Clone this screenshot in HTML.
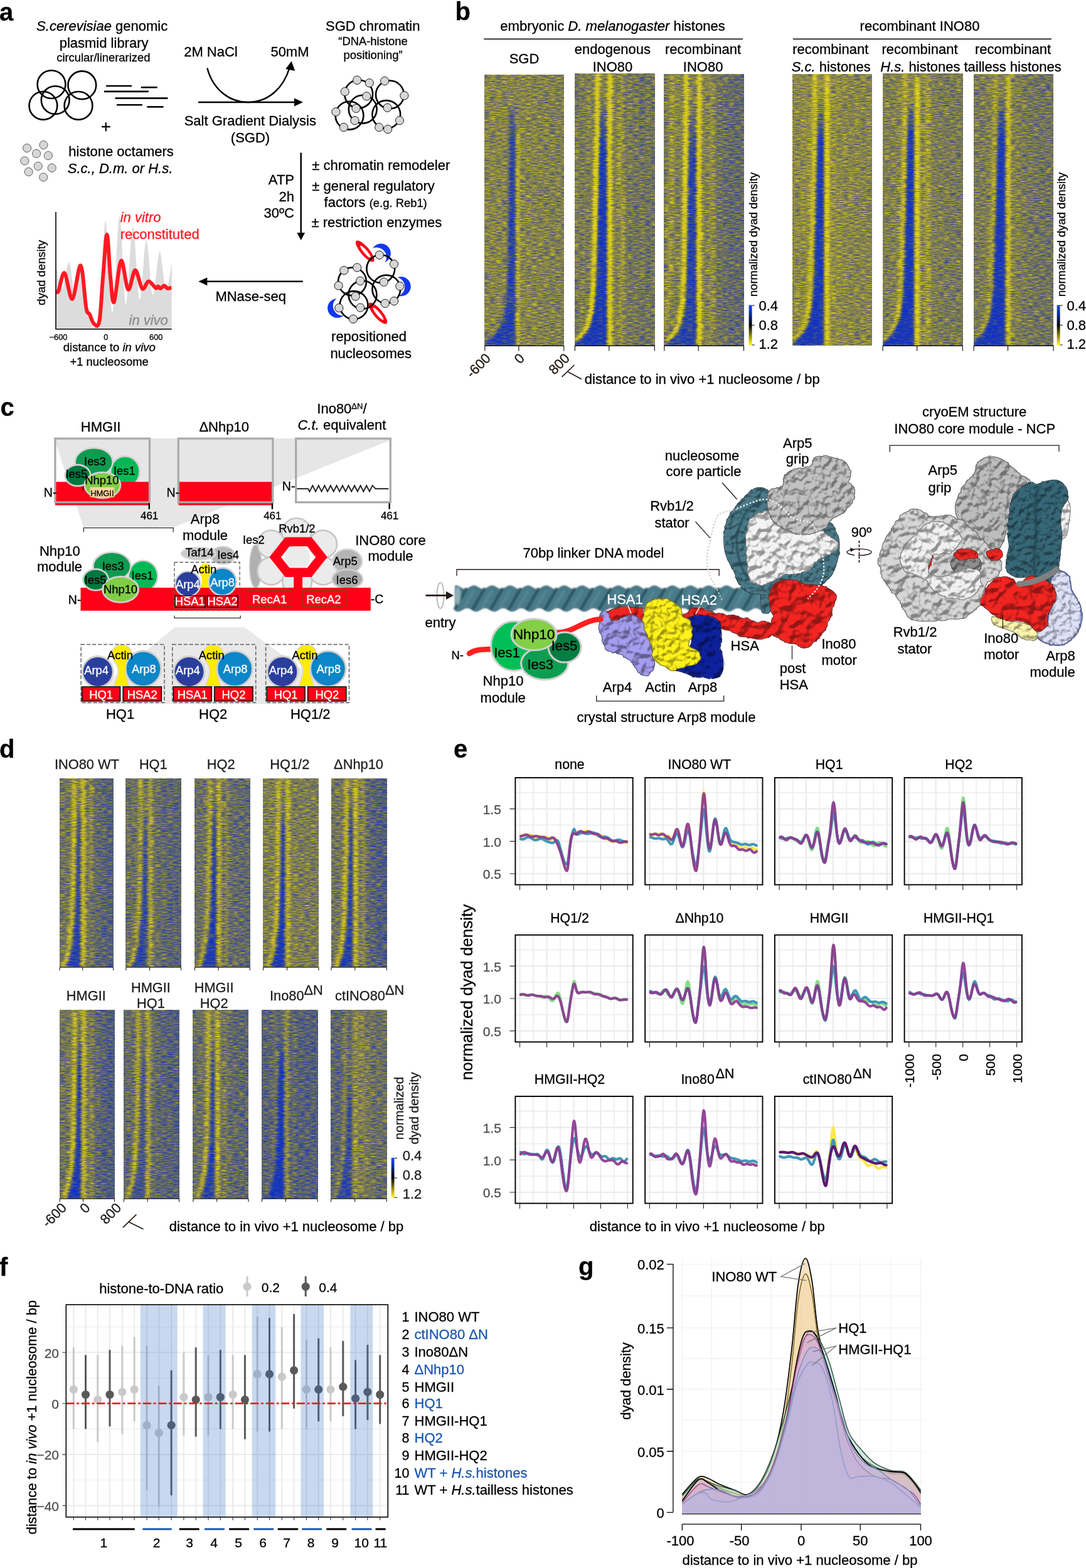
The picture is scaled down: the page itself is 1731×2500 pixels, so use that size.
<!DOCTYPE html>
<html lang="en">
<head>
<meta charset="utf-8">
<title>INO80 figure</title>
<style>
html,body{margin:0;padding:0;background:#fff;}
body{width:1731px;height:2500px;overflow:hidden;}
svg{display:block;font-family:"Liberation Sans",sans-serif;}
text{white-space:pre;stroke-width:0.3px;paint-order:stroke fill;}
</style>
</head>
<body>
<svg width="1731" height="2500" viewBox="0 0 1731 2500">
<defs>
<filter id="hb10" x="-50%" y="-10%" width="200%" height="120%"><feGaussianBlur stdDeviation="1.0"/></filter>
<filter id="hb11" x="-50%" y="-10%" width="200%" height="120%"><feGaussianBlur stdDeviation="1.1"/></filter>
<filter id="hb12" x="-50%" y="-10%" width="200%" height="120%"><feGaussianBlur stdDeviation="1.2"/></filter>
<filter id="hb13" x="-50%" y="-10%" width="200%" height="120%"><feGaussianBlur stdDeviation="1.3"/></filter>
<filter id="hb14" x="-50%" y="-10%" width="200%" height="120%"><feGaussianBlur stdDeviation="1.4"/></filter>
<filter id="hb15" x="-50%" y="-10%" width="200%" height="120%"><feGaussianBlur stdDeviation="1.5"/></filter>
<filter id="hb16" x="-50%" y="-10%" width="200%" height="120%"><feGaussianBlur stdDeviation="1.6"/></filter>
<filter id="hb17" x="-50%" y="-10%" width="200%" height="120%"><feGaussianBlur stdDeviation="1.7"/></filter>
<filter id="hb18" x="-50%" y="-10%" width="200%" height="120%"><feGaussianBlur stdDeviation="1.8"/></filter>
<filter id="hb19" x="-50%" y="-10%" width="200%" height="120%"><feGaussianBlur stdDeviation="1.9"/></filter>
<filter id="hb20" x="-50%" y="-10%" width="200%" height="120%"><feGaussianBlur stdDeviation="2.0"/></filter>
<filter id="hb21" x="-50%" y="-10%" width="200%" height="120%"><feGaussianBlur stdDeviation="2.1"/></filter>
<filter id="hb22" x="-50%" y="-10%" width="200%" height="120%"><feGaussianBlur stdDeviation="2.2"/></filter>
<filter id="hb23" x="-50%" y="-10%" width="200%" height="120%"><feGaussianBlur stdDeviation="2.3"/></filter>
<filter id="hb24" x="-50%" y="-10%" width="200%" height="120%"><feGaussianBlur stdDeviation="2.4"/></filter>
<filter id="hb25" x="-50%" y="-10%" width="200%" height="120%"><feGaussianBlur stdDeviation="2.5"/></filter>
<filter id="hb26" x="-50%" y="-10%" width="200%" height="120%"><feGaussianBlur stdDeviation="2.6"/></filter>
<filter id="hb27" x="-50%" y="-10%" width="200%" height="120%"><feGaussianBlur stdDeviation="2.7"/></filter>
<filter id="hb28" x="-50%" y="-10%" width="200%" height="120%"><feGaussianBlur stdDeviation="2.8"/></filter>
<filter id="hb29" x="-50%" y="-10%" width="200%" height="120%"><feGaussianBlur stdDeviation="2.9"/></filter>
<filter id="hb30" x="-50%" y="-10%" width="200%" height="120%"><feGaussianBlur stdDeviation="3.0"/></filter>
<filter id="hb31" x="-50%" y="-10%" width="200%" height="120%"><feGaussianBlur stdDeviation="3.1"/></filter>
<filter id="hb32" x="-50%" y="-10%" width="200%" height="120%"><feGaussianBlur stdDeviation="3.2"/></filter>
<filter id="hb33" x="-50%" y="-10%" width="200%" height="120%"><feGaussianBlur stdDeviation="3.3"/></filter>
<filter id="hb34" x="-50%" y="-10%" width="200%" height="120%"><feGaussianBlur stdDeviation="3.4"/></filter>
<filter id="hb35" x="-50%" y="-10%" width="200%" height="120%"><feGaussianBlur stdDeviation="3.5"/></filter>
<filter id="hb36" x="-50%" y="-10%" width="200%" height="120%"><feGaussianBlur stdDeviation="3.6"/></filter>
<filter id="hb37" x="-50%" y="-10%" width="200%" height="120%"><feGaussianBlur stdDeviation="3.7"/></filter>
<filter id="hb38" x="-50%" y="-10%" width="200%" height="120%"><feGaussianBlur stdDeviation="3.8"/></filter>
<filter id="hb39" x="-50%" y="-10%" width="200%" height="120%"><feGaussianBlur stdDeviation="3.9"/></filter>
<filter id="hb40" x="-50%" y="-10%" width="200%" height="120%"><feGaussianBlur stdDeviation="4.0"/></filter>
<filter id="hb41" x="-50%" y="-10%" width="200%" height="120%"><feGaussianBlur stdDeviation="4.1"/></filter>
<filter id="hb42" x="-50%" y="-10%" width="200%" height="120%"><feGaussianBlur stdDeviation="4.2"/></filter>
<filter id="hb43" x="-50%" y="-10%" width="200%" height="120%"><feGaussianBlur stdDeviation="4.3"/></filter>
<filter id="hb44" x="-50%" y="-10%" width="200%" height="120%"><feGaussianBlur stdDeviation="4.4"/></filter>
<filter id="hb45" x="-50%" y="-10%" width="200%" height="120%"><feGaussianBlur stdDeviation="4.5"/></filter>
<filter id="hb46" x="-50%" y="-10%" width="200%" height="120%"><feGaussianBlur stdDeviation="4.6"/></filter>
<filter id="hb47" x="-50%" y="-10%" width="200%" height="120%"><feGaussianBlur stdDeviation="4.7"/></filter>
<filter id="hb48" x="-50%" y="-10%" width="200%" height="120%"><feGaussianBlur stdDeviation="4.8"/></filter>
<filter id="hb49" x="-50%" y="-10%" width="200%" height="120%"><feGaussianBlur stdDeviation="4.9"/></filter>
<filter id="hb50" x="-50%" y="-10%" width="200%" height="120%"><feGaussianBlur stdDeviation="5.0"/></filter>
<filter id="hb51" x="-50%" y="-10%" width="200%" height="120%"><feGaussianBlur stdDeviation="5.1"/></filter>
<filter id="hb52" x="-50%" y="-10%" width="200%" height="120%"><feGaussianBlur stdDeviation="5.2"/></filter>
<filter id="hb53" x="-50%" y="-10%" width="200%" height="120%"><feGaussianBlur stdDeviation="5.3"/></filter>
<filter id="hb54" x="-50%" y="-10%" width="200%" height="120%"><feGaussianBlur stdDeviation="5.4"/></filter>
<filter id="hb55" x="-50%" y="-10%" width="200%" height="120%"><feGaussianBlur stdDeviation="5.5"/></filter>
<filter id="hb56" x="-50%" y="-10%" width="200%" height="120%"><feGaussianBlur stdDeviation="5.6"/></filter>
<filter id="hb57" x="-50%" y="-10%" width="200%" height="120%"><feGaussianBlur stdDeviation="5.7"/></filter>
<filter id="hb58" x="-50%" y="-10%" width="200%" height="120%"><feGaussianBlur stdDeviation="5.8"/></filter>
<filter id="hb59" x="-50%" y="-10%" width="200%" height="120%"><feGaussianBlur stdDeviation="5.9"/></filter>
<filter id="hb60" x="-50%" y="-10%" width="200%" height="120%"><feGaussianBlur stdDeviation="6.0"/></filter>
<linearGradient id="hfade" x1="0" y1="0" x2="0" y2="1"><stop offset="0" stop-color="rgb(128,128,128)" stop-opacity="1"/><stop offset="1" stop-color="rgb(128,128,128)" stop-opacity="0"/></linearGradient>
<linearGradient id="cbar" x1="0" y1="0" x2="0" y2="1"><stop offset="0" stop-color="#1848ff"/><stop offset="0.08" stop-color="#1440e0"/><stop offset="0.5" stop-color="#000"/><stop offset="0.92" stop-color="#e8d800"/><stop offset="1" stop-color="#fff200"/></linearGradient>
<filter id="hm1" filterUnits="userSpaceOnUse" x="772.9" y="119.0" width="125.9" height="432.0" color-interpolation-filters="sRGB"><feTurbulence type="fractalNoise" baseFrequency="0.105 0.62" numOctaves="3" seed="10" result="n"/><feColorMatrix in="n" type="matrix" values="1 0 0 0 0 1 0 0 0 0 1 0 0 0 0 0 0 0 0 1" result="ng"/><feComposite in="SourceGraphic" in2="ng" operator="arithmetic" k1="0" k2="1" k3="0.85" k4="-0.425" result="v"/><feComponentTransfer in="v"><feFuncR type="table" tableValues="0.063 0.118 0.251 0.416 0.580 0.769 0.878"/><feFuncG type="table" tableValues="0.188 0.235 0.322 0.424 0.561 0.725 0.824"/><feFuncB type="table" tableValues="0.769 0.706 0.549 0.384 0.259 0.157 0.102"/></feComponentTransfer></filter><linearGradient id="hg1" gradientUnits="userSpaceOnUse" x1="842.9" y1="0" x2="878.9" y2="0"><stop offset="0" stop-color="rgb(150,150,150)" stop-opacity="0"/><stop offset="1" stop-color="rgb(150,150,150)" stop-opacity="1"/></linearGradient><linearGradient id="hn1" gradientUnits="userSpaceOnUse" x1="0" y1="160.0" x2="0" y2="220.0"><stop offset="0" stop-color="rgb(51,51,51)" stop-opacity="0"/><stop offset="1" stop-color="rgb(51,51,51)" stop-opacity="1"/></linearGradient>
<filter id="hm2" filterUnits="userSpaceOnUse" x="916.4" y="117.5" width="126.9" height="433.5" color-interpolation-filters="sRGB"><feTurbulence type="fractalNoise" baseFrequency="0.105 0.62" numOctaves="3" seed="17" result="n"/><feColorMatrix in="n" type="matrix" values="1 0 0 0 0 1 0 0 0 0 1 0 0 0 0 0 0 0 0 1" result="ng"/><feComposite in="SourceGraphic" in2="ng" operator="arithmetic" k1="0" k2="1" k3="0.85" k4="-0.425" result="v"/><feComponentTransfer in="v"><feFuncR type="table" tableValues="0.063 0.118 0.251 0.416 0.580 0.769 0.878"/><feFuncG type="table" tableValues="0.188 0.235 0.322 0.424 0.561 0.725 0.824"/><feFuncB type="table" tableValues="0.769 0.706 0.549 0.384 0.259 0.157 0.102"/></feComponentTransfer></filter><linearGradient id="hg2" gradientUnits="userSpaceOnUse" x1="986.8" y1="0" x2="1022.8" y2="0"><stop offset="0" stop-color="rgb(135,135,135)" stop-opacity="0"/><stop offset="1" stop-color="rgb(135,135,135)" stop-opacity="1"/></linearGradient><linearGradient id="hn2" gradientUnits="userSpaceOnUse" x1="0" y1="150.0" x2="0" y2="240.0"><stop offset="0" stop-color="rgb(36,36,36)" stop-opacity="0"/><stop offset="1" stop-color="rgb(36,36,36)" stop-opacity="1"/></linearGradient>
<filter id="hm3" filterUnits="userSpaceOnUse" x="1058.9" y="118.4" width="126.6" height="432.6" color-interpolation-filters="sRGB"><feTurbulence type="fractalNoise" baseFrequency="0.105 0.62" numOctaves="3" seed="24" result="n"/><feColorMatrix in="n" type="matrix" values="1 0 0 0 0 1 0 0 0 0 1 0 0 0 0 0 0 0 0 1" result="ng"/><feComposite in="SourceGraphic" in2="ng" operator="arithmetic" k1="0" k2="1" k3="0.85" k4="-0.425" result="v"/><feComponentTransfer in="v"><feFuncR type="table" tableValues="0.063 0.118 0.251 0.416 0.580 0.769 0.878"/><feFuncG type="table" tableValues="0.188 0.235 0.322 0.424 0.561 0.725 0.824"/><feFuncB type="table" tableValues="0.769 0.706 0.549 0.384 0.259 0.157 0.102"/></feComponentTransfer></filter><linearGradient id="hg3" gradientUnits="userSpaceOnUse" x1="1129.2" y1="0" x2="1165.2" y2="0"><stop offset="0" stop-color="rgb(122,122,122)" stop-opacity="0"/><stop offset="1" stop-color="rgb(122,122,122)" stop-opacity="1"/></linearGradient><linearGradient id="hn3" gradientUnits="userSpaceOnUse" x1="0" y1="160.0" x2="0" y2="250.0"><stop offset="0" stop-color="rgb(56,56,56)" stop-opacity="0"/><stop offset="1" stop-color="rgb(56,56,56)" stop-opacity="1"/></linearGradient>
<filter id="hm4" filterUnits="userSpaceOnUse" x="1263.9" y="118.4" width="125.9" height="432.6" color-interpolation-filters="sRGB"><feTurbulence type="fractalNoise" baseFrequency="0.105 0.62" numOctaves="3" seed="31" result="n"/><feColorMatrix in="n" type="matrix" values="1 0 0 0 0 1 0 0 0 0 1 0 0 0 0 0 0 0 0 1" result="ng"/><feComposite in="SourceGraphic" in2="ng" operator="arithmetic" k1="0" k2="1" k3="0.85" k4="-0.425" result="v"/><feComponentTransfer in="v"><feFuncR type="table" tableValues="0.063 0.118 0.251 0.416 0.580 0.769 0.878"/><feFuncG type="table" tableValues="0.188 0.235 0.322 0.424 0.561 0.725 0.824"/><feFuncB type="table" tableValues="0.769 0.706 0.549 0.384 0.259 0.157 0.102"/></feComponentTransfer></filter><linearGradient id="hg4" gradientUnits="userSpaceOnUse" x1="1333.9" y1="0" x2="1369.9" y2="0"><stop offset="0" stop-color="rgb(156,156,156)" stop-opacity="0"/><stop offset="1" stop-color="rgb(156,156,156)" stop-opacity="1"/></linearGradient><linearGradient id="hn4" gradientUnits="userSpaceOnUse" x1="0" y1="155.0" x2="0" y2="225.0"><stop offset="0" stop-color="rgb(33,33,33)" stop-opacity="0"/><stop offset="1" stop-color="rgb(33,33,33)" stop-opacity="1"/></linearGradient>
<filter id="hm5" filterUnits="userSpaceOnUse" x="1407.1" y="117.5" width="127.2" height="433.5" color-interpolation-filters="sRGB"><feTurbulence type="fractalNoise" baseFrequency="0.105 0.62" numOctaves="3" seed="38" result="n"/><feColorMatrix in="n" type="matrix" values="1 0 0 0 0 1 0 0 0 0 1 0 0 0 0 0 0 0 0 1" result="ng"/><feComposite in="SourceGraphic" in2="ng" operator="arithmetic" k1="0" k2="1" k3="0.85" k4="-0.425" result="v"/><feComponentTransfer in="v"><feFuncR type="table" tableValues="0.063 0.118 0.251 0.416 0.580 0.769 0.878"/><feFuncG type="table" tableValues="0.188 0.235 0.322 0.424 0.561 0.725 0.824"/><feFuncB type="table" tableValues="0.769 0.706 0.549 0.384 0.259 0.157 0.102"/></feComponentTransfer></filter><linearGradient id="hg5" gradientUnits="userSpaceOnUse" x1="1477.6" y1="0" x2="1513.6" y2="0"><stop offset="0" stop-color="rgb(143,143,143)" stop-opacity="0"/><stop offset="1" stop-color="rgb(143,143,143)" stop-opacity="1"/></linearGradient><linearGradient id="hn5" gradientUnits="userSpaceOnUse" x1="0" y1="150.0" x2="0" y2="220.0"><stop offset="0" stop-color="rgb(31,31,31)" stop-opacity="0"/><stop offset="1" stop-color="rgb(31,31,31)" stop-opacity="1"/></linearGradient>
<filter id="hm6" filterUnits="userSpaceOnUse" x="1552.1" y="118.4" width="126.9" height="432.6" color-interpolation-filters="sRGB"><feTurbulence type="fractalNoise" baseFrequency="0.105 0.62" numOctaves="3" seed="45" result="n"/><feColorMatrix in="n" type="matrix" values="1 0 0 0 0 1 0 0 0 0 1 0 0 0 0 0 0 0 0 1" result="ng"/><feComposite in="SourceGraphic" in2="ng" operator="arithmetic" k1="0" k2="1" k3="0.85" k4="-0.425" result="v"/><feComponentTransfer in="v"><feFuncR type="table" tableValues="0.063 0.118 0.251 0.416 0.580 0.769 0.878"/><feFuncG type="table" tableValues="0.188 0.235 0.322 0.424 0.561 0.725 0.824"/><feFuncB type="table" tableValues="0.769 0.706 0.549 0.384 0.259 0.157 0.102"/></feComponentTransfer></filter><linearGradient id="hg6" gradientUnits="userSpaceOnUse" x1="1622.5" y1="0" x2="1658.5" y2="0"><stop offset="0" stop-color="rgb(135,135,135)" stop-opacity="0"/><stop offset="1" stop-color="rgb(135,135,135)" stop-opacity="1"/></linearGradient><linearGradient id="hn6" gradientUnits="userSpaceOnUse" x1="0" y1="150.0" x2="0" y2="220.0"><stop offset="0" stop-color="rgb(26,26,26)" stop-opacity="0"/><stop offset="1" stop-color="rgb(26,26,26)" stop-opacity="1"/></linearGradient>
<filter id="sfA" x="-15%" y="-15%" width="130%" height="130%" color-interpolation-filters="sRGB"><feTurbulence type="fractalNoise" baseFrequency="0.1" numOctaves="2" seed="11" result="t"/><feDisplacementMap in="SourceGraphic" in2="t" scale="6" xChannelSelector="R" yChannelSelector="G" result="d"/><feTurbulence type="fractalNoise" baseFrequency="0.085" numOctaves="2" seed="12" result="t2"/><feGaussianBlur in="t2" stdDeviation="1.3" result="tb"/><feDiffuseLighting in="tb" surfaceScale="15.6" diffuseConstant="1.0" lighting-color="#fff" result="l"><feDistantLight azimuth="240" elevation="55"/></feDiffuseLighting><feComponentTransfer in="l" result="l2"><feFuncR type="linear" slope="0.5" intercept="0.6"/><feFuncG type="linear" slope="0.5" intercept="0.6"/><feFuncB type="linear" slope="0.5" intercept="0.6"/></feComponentTransfer><feBlend in="d" in2="l2" mode="multiply" result="m"/><feComposite in="m" in2="d" operator="in" result="body"/><feMorphology in="d" operator="dilate" radius="0.5" result="dl"/><feColorMatrix in="dl" type="matrix" values="0.5 0 0 0 0 0 0.5 0 0 0 0 0 0.5 0 0 0 0 0 1 0" result="edge"/><feMerge><feMergeNode in="edge"/><feMergeNode in="body"/></feMerge></filter>
<filter id="sfB" x="-15%" y="-15%" width="130%" height="130%" color-interpolation-filters="sRGB"><feTurbulence type="fractalNoise" baseFrequency="0.12" numOctaves="2" seed="23" result="t"/><feDisplacementMap in="SourceGraphic" in2="t" scale="5" xChannelSelector="R" yChannelSelector="G" result="d"/><feTurbulence type="fractalNoise" baseFrequency="0.102" numOctaves="2" seed="24" result="t2"/><feGaussianBlur in="t2" stdDeviation="1.3" result="tb"/><feDiffuseLighting in="tb" surfaceScale="13.0" diffuseConstant="1.0" lighting-color="#fff" result="l"><feDistantLight azimuth="240" elevation="55"/></feDiffuseLighting><feComponentTransfer in="l" result="l2"><feFuncR type="linear" slope="0.5" intercept="0.6"/><feFuncG type="linear" slope="0.5" intercept="0.6"/><feFuncB type="linear" slope="0.5" intercept="0.6"/></feComponentTransfer><feBlend in="d" in2="l2" mode="multiply" result="m"/><feComposite in="m" in2="d" operator="in" result="body"/><feMorphology in="d" operator="dilate" radius="0.5" result="dl"/><feColorMatrix in="dl" type="matrix" values="0.5 0 0 0 0 0 0.5 0 0 0 0 0 0.5 0 0 0 0 0 1 0" result="edge"/><feMerge><feMergeNode in="edge"/><feMergeNode in="body"/></feMerge></filter>
<filter id="sfC" x="-15%" y="-15%" width="130%" height="130%" color-interpolation-filters="sRGB"><feTurbulence type="fractalNoise" baseFrequency="0.08" numOctaves="2" seed="5" result="t"/><feDisplacementMap in="SourceGraphic" in2="t" scale="6" xChannelSelector="R" yChannelSelector="G" result="d"/><feTurbulence type="fractalNoise" baseFrequency="0.068" numOctaves="2" seed="6" result="t2"/><feGaussianBlur in="t2" stdDeviation="1.3" result="tb"/><feDiffuseLighting in="tb" surfaceScale="18.2" diffuseConstant="1.0" lighting-color="#fff" result="l"><feDistantLight azimuth="240" elevation="55"/></feDiffuseLighting><feComponentTransfer in="l" result="l2"><feFuncR type="linear" slope="0.5" intercept="0.6"/><feFuncG type="linear" slope="0.5" intercept="0.6"/><feFuncB type="linear" slope="0.5" intercept="0.6"/></feComponentTransfer><feBlend in="d" in2="l2" mode="multiply" result="m"/><feComposite in="m" in2="d" operator="in" result="body"/><feMorphology in="d" operator="dilate" radius="0.5" result="dl"/><feColorMatrix in="dl" type="matrix" values="0.5 0 0 0 0 0 0.5 0 0 0 0 0 0.5 0 0 0 0 0 1 0" result="edge"/><feMerge><feMergeNode in="edge"/><feMergeNode in="body"/></feMerge></filter>
<filter id="sfD" x="-15%" y="-15%" width="130%" height="130%" color-interpolation-filters="sRGB"><feTurbulence type="fractalNoise" baseFrequency="0.14" numOctaves="2" seed="31" result="t"/><feDisplacementMap in="SourceGraphic" in2="t" scale="3" xChannelSelector="R" yChannelSelector="G" result="d"/><feTurbulence type="fractalNoise" baseFrequency="0.119" numOctaves="2" seed="32" result="t2"/><feGaussianBlur in="t2" stdDeviation="1.3" result="tb"/><feDiffuseLighting in="tb" surfaceScale="10.4" diffuseConstant="1.0" lighting-color="#fff" result="l"><feDistantLight azimuth="240" elevation="55"/></feDiffuseLighting><feComponentTransfer in="l" result="l2"><feFuncR type="linear" slope="0.5" intercept="0.6"/><feFuncG type="linear" slope="0.5" intercept="0.6"/><feFuncB type="linear" slope="0.5" intercept="0.6"/></feComponentTransfer><feBlend in="d" in2="l2" mode="multiply" result="m"/><feComposite in="m" in2="d" operator="in" result="body"/><feMorphology in="d" operator="dilate" radius="0.5" result="dl"/><feColorMatrix in="dl" type="matrix" values="0.5 0 0 0 0 0 0.5 0 0 0 0 0 0.5 0 0 0 0 0 1 0" result="edge"/><feMerge><feMergeNode in="edge"/><feMergeNode in="body"/></feMerge></filter>
<filter id="hm7" filterUnits="userSpaceOnUse" x="95.2" y="1241.4" width="85.5" height="300.4" color-interpolation-filters="sRGB"><feTurbulence type="fractalNoise" baseFrequency="0.105 0.62" numOctaves="3" seed="52" result="n"/><feColorMatrix in="n" type="matrix" values="1 0 0 0 0 1 0 0 0 0 1 0 0 0 0 0 0 0 0 1" result="ng"/><feComposite in="SourceGraphic" in2="ng" operator="arithmetic" k1="0" k2="1" k3="0.85" k4="-0.425" result="v"/><feComponentTransfer in="v"><feFuncR type="table" tableValues="0.063 0.118 0.251 0.416 0.580 0.769 0.878"/><feFuncG type="table" tableValues="0.188 0.235 0.322 0.424 0.561 0.725 0.824"/><feFuncB type="table" tableValues="0.769 0.706 0.549 0.384 0.259 0.157 0.102"/></feComponentTransfer></filter><linearGradient id="hg7" gradientUnits="userSpaceOnUse" x1="135.8" y1="0" x2="171.8" y2="0"><stop offset="0" stop-color="rgb(107,107,107)" stop-opacity="0"/><stop offset="1" stop-color="rgb(107,107,107)" stop-opacity="1"/></linearGradient><linearGradient id="hn7" gradientUnits="userSpaceOnUse" x1="0" y1="1270.0" x2="0" y2="1330.0"><stop offset="0" stop-color="rgb(54,54,54)" stop-opacity="0"/><stop offset="1" stop-color="rgb(54,54,54)" stop-opacity="1"/></linearGradient>
<filter id="hm8" filterUnits="userSpaceOnUse" x="200.9" y="1241.4" width="87.7" height="300.4" color-interpolation-filters="sRGB"><feTurbulence type="fractalNoise" baseFrequency="0.105 0.62" numOctaves="3" seed="59" result="n"/><feColorMatrix in="n" type="matrix" values="1 0 0 0 0 1 0 0 0 0 1 0 0 0 0 0 0 0 0 1" result="ng"/><feComposite in="SourceGraphic" in2="ng" operator="arithmetic" k1="0" k2="1" k3="0.85" k4="-0.425" result="v"/><feComponentTransfer in="v"><feFuncR type="table" tableValues="0.063 0.118 0.251 0.416 0.580 0.769 0.878"/><feFuncG type="table" tableValues="0.188 0.235 0.322 0.424 0.561 0.725 0.824"/><feFuncB type="table" tableValues="0.769 0.706 0.549 0.384 0.259 0.157 0.102"/></feComponentTransfer></filter><linearGradient id="hg8" gradientUnits="userSpaceOnUse" x1="242.5" y1="0" x2="278.5" y2="0"><stop offset="0" stop-color="rgb(112,112,112)" stop-opacity="0"/><stop offset="1" stop-color="rgb(112,112,112)" stop-opacity="1"/></linearGradient><linearGradient id="hn8" gradientUnits="userSpaceOnUse" x1="0" y1="1285.0" x2="0" y2="1345.0"><stop offset="0" stop-color="rgb(66,66,66)" stop-opacity="0"/><stop offset="1" stop-color="rgb(66,66,66)" stop-opacity="1"/></linearGradient>
<filter id="hm9" filterUnits="userSpaceOnUse" x="310.5" y="1241.4" width="87.7" height="300.4" color-interpolation-filters="sRGB"><feTurbulence type="fractalNoise" baseFrequency="0.105 0.62" numOctaves="3" seed="66" result="n"/><feColorMatrix in="n" type="matrix" values="1 0 0 0 0 1 0 0 0 0 1 0 0 0 0 0 0 0 0 1" result="ng"/><feComposite in="SourceGraphic" in2="ng" operator="arithmetic" k1="0" k2="1" k3="0.85" k4="-0.425" result="v"/><feComponentTransfer in="v"><feFuncR type="table" tableValues="0.063 0.118 0.251 0.416 0.580 0.769 0.878"/><feFuncG type="table" tableValues="0.188 0.235 0.322 0.424 0.561 0.725 0.824"/><feFuncB type="table" tableValues="0.769 0.706 0.549 0.384 0.259 0.157 0.102"/></feComponentTransfer></filter><linearGradient id="hg9" gradientUnits="userSpaceOnUse" x1="352.1" y1="0" x2="388.1" y2="0"><stop offset="0" stop-color="rgb(120,120,120)" stop-opacity="0"/><stop offset="1" stop-color="rgb(120,120,120)" stop-opacity="1"/></linearGradient><linearGradient id="hn9" gradientUnits="userSpaceOnUse" x1="0" y1="1270.0" x2="0" y2="1330.0"><stop offset="0" stop-color="rgb(43,43,43)" stop-opacity="0"/><stop offset="1" stop-color="rgb(43,43,43)" stop-opacity="1"/></linearGradient>
<filter id="hm10" filterUnits="userSpaceOnUse" x="419.7" y="1241.4" width="88.2" height="300.4" color-interpolation-filters="sRGB"><feTurbulence type="fractalNoise" baseFrequency="0.105 0.62" numOctaves="3" seed="73" result="n"/><feColorMatrix in="n" type="matrix" values="1 0 0 0 0 1 0 0 0 0 1 0 0 0 0 0 0 0 0 1" result="ng"/><feComposite in="SourceGraphic" in2="ng" operator="arithmetic" k1="0" k2="1" k3="0.85" k4="-0.425" result="v"/><feComponentTransfer in="v"><feFuncR type="table" tableValues="0.063 0.118 0.251 0.416 0.580 0.769 0.878"/><feFuncG type="table" tableValues="0.188 0.235 0.322 0.424 0.561 0.725 0.824"/><feFuncB type="table" tableValues="0.769 0.706 0.549 0.384 0.259 0.157 0.102"/></feComponentTransfer></filter><linearGradient id="hg10" gradientUnits="userSpaceOnUse" x1="461.5" y1="0" x2="497.5" y2="0"><stop offset="0" stop-color="rgb(145,145,145)" stop-opacity="0"/><stop offset="1" stop-color="rgb(145,145,145)" stop-opacity="1"/></linearGradient><linearGradient id="hn10" gradientUnits="userSpaceOnUse" x1="0" y1="1270.0" x2="0" y2="1330.0"><stop offset="0" stop-color="rgb(36,36,36)" stop-opacity="0"/><stop offset="1" stop-color="rgb(36,36,36)" stop-opacity="1"/></linearGradient>
<filter id="hm11" filterUnits="userSpaceOnUse" x="528.0" y="1241.4" width="88.2" height="300.4" color-interpolation-filters="sRGB"><feTurbulence type="fractalNoise" baseFrequency="0.105 0.62" numOctaves="3" seed="80" result="n"/><feColorMatrix in="n" type="matrix" values="1 0 0 0 0 1 0 0 0 0 1 0 0 0 0 0 0 0 0 1" result="ng"/><feComposite in="SourceGraphic" in2="ng" operator="arithmetic" k1="0" k2="1" k3="0.85" k4="-0.425" result="v"/><feComponentTransfer in="v"><feFuncR type="table" tableValues="0.063 0.118 0.251 0.416 0.580 0.769 0.878"/><feFuncG type="table" tableValues="0.188 0.235 0.322 0.424 0.561 0.725 0.824"/><feFuncB type="table" tableValues="0.769 0.706 0.549 0.384 0.259 0.157 0.102"/></feComponentTransfer></filter><linearGradient id="hg11" gradientUnits="userSpaceOnUse" x1="569.8" y1="0" x2="605.8" y2="0"><stop offset="0" stop-color="rgb(102,102,102)" stop-opacity="0"/><stop offset="1" stop-color="rgb(102,102,102)" stop-opacity="1"/></linearGradient><linearGradient id="hn11" gradientUnits="userSpaceOnUse" x1="0" y1="1260.0" x2="0" y2="1320.0"><stop offset="0" stop-color="rgb(51,51,51)" stop-opacity="0"/><stop offset="1" stop-color="rgb(51,51,51)" stop-opacity="1"/></linearGradient>
<filter id="hm12" filterUnits="userSpaceOnUse" x="95.2" y="1610.4" width="87.3" height="300.5" color-interpolation-filters="sRGB"><feTurbulence type="fractalNoise" baseFrequency="0.105 0.62" numOctaves="3" seed="87" result="n"/><feColorMatrix in="n" type="matrix" values="1 0 0 0 0 1 0 0 0 0 1 0 0 0 0 0 0 0 0 1" result="ng"/><feComposite in="SourceGraphic" in2="ng" operator="arithmetic" k1="0" k2="1" k3="0.85" k4="-0.425" result="v"/><feComponentTransfer in="v"><feFuncR type="table" tableValues="0.063 0.118 0.251 0.416 0.580 0.769 0.878"/><feFuncG type="table" tableValues="0.188 0.235 0.322 0.424 0.561 0.725 0.824"/><feFuncB type="table" tableValues="0.769 0.706 0.549 0.384 0.259 0.157 0.102"/></feComponentTransfer></filter><linearGradient id="hg12" gradientUnits="userSpaceOnUse" x1="136.6" y1="0" x2="172.6" y2="0"><stop offset="0" stop-color="rgb(102,102,102)" stop-opacity="0"/><stop offset="1" stop-color="rgb(102,102,102)" stop-opacity="1"/></linearGradient><linearGradient id="hn12" gradientUnits="userSpaceOnUse" x1="0" y1="1640.0" x2="0" y2="1700.0"><stop offset="0" stop-color="rgb(36,36,36)" stop-opacity="0"/><stop offset="1" stop-color="rgb(36,36,36)" stop-opacity="1"/></linearGradient>
<filter id="hm13" filterUnits="userSpaceOnUse" x="197.4" y="1610.4" width="88.1" height="300.5" color-interpolation-filters="sRGB"><feTurbulence type="fractalNoise" baseFrequency="0.105 0.62" numOctaves="3" seed="94" result="n"/><feColorMatrix in="n" type="matrix" values="1 0 0 0 0 1 0 0 0 0 1 0 0 0 0 0 0 0 0 1" result="ng"/><feComposite in="SourceGraphic" in2="ng" operator="arithmetic" k1="0" k2="1" k3="0.85" k4="-0.425" result="v"/><feComponentTransfer in="v"><feFuncR type="table" tableValues="0.063 0.118 0.251 0.416 0.580 0.769 0.878"/><feFuncG type="table" tableValues="0.188 0.235 0.322 0.424 0.561 0.725 0.824"/><feFuncB type="table" tableValues="0.769 0.706 0.549 0.384 0.259 0.157 0.102"/></feComponentTransfer></filter><linearGradient id="hg13" gradientUnits="userSpaceOnUse" x1="239.2" y1="0" x2="275.2" y2="0"><stop offset="0" stop-color="rgb(107,107,107)" stop-opacity="0"/><stop offset="1" stop-color="rgb(107,107,107)" stop-opacity="1"/></linearGradient><linearGradient id="hn13" gradientUnits="userSpaceOnUse" x1="0" y1="1650.0" x2="0" y2="1710.0"><stop offset="0" stop-color="rgb(87,87,87)" stop-opacity="0"/><stop offset="1" stop-color="rgb(87,87,87)" stop-opacity="1"/></linearGradient>
<filter id="hm14" filterUnits="userSpaceOnUse" x="307.9" y="1610.4" width="88.1" height="300.5" color-interpolation-filters="sRGB"><feTurbulence type="fractalNoise" baseFrequency="0.105 0.62" numOctaves="3" seed="101" result="n"/><feColorMatrix in="n" type="matrix" values="1 0 0 0 0 1 0 0 0 0 1 0 0 0 0 0 0 0 0 1" result="ng"/><feComposite in="SourceGraphic" in2="ng" operator="arithmetic" k1="0" k2="1" k3="0.85" k4="-0.425" result="v"/><feComponentTransfer in="v"><feFuncR type="table" tableValues="0.063 0.118 0.251 0.416 0.580 0.769 0.878"/><feFuncG type="table" tableValues="0.188 0.235 0.322 0.424 0.561 0.725 0.824"/><feFuncB type="table" tableValues="0.769 0.706 0.549 0.384 0.259 0.157 0.102"/></feComponentTransfer></filter><linearGradient id="hg14" gradientUnits="userSpaceOnUse" x1="349.7" y1="0" x2="385.7" y2="0"><stop offset="0" stop-color="rgb(115,115,115)" stop-opacity="0"/><stop offset="1" stop-color="rgb(115,115,115)" stop-opacity="1"/></linearGradient><linearGradient id="hn14" gradientUnits="userSpaceOnUse" x1="0" y1="1650.0" x2="0" y2="1710.0"><stop offset="0" stop-color="rgb(54,54,54)" stop-opacity="0"/><stop offset="1" stop-color="rgb(54,54,54)" stop-opacity="1"/></linearGradient>
<filter id="hm15" filterUnits="userSpaceOnUse" x="417.5" y="1610.4" width="88.6" height="300.5" color-interpolation-filters="sRGB"><feTurbulence type="fractalNoise" baseFrequency="0.105 0.62" numOctaves="3" seed="108" result="n"/><feColorMatrix in="n" type="matrix" values="1 0 0 0 0 1 0 0 0 0 1 0 0 0 0 0 0 0 0 1" result="ng"/><feComposite in="SourceGraphic" in2="ng" operator="arithmetic" k1="0" k2="1" k3="0.85" k4="-0.425" result="v"/><feComponentTransfer in="v"><feFuncR type="table" tableValues="0.063 0.118 0.251 0.416 0.580 0.769 0.878"/><feFuncG type="table" tableValues="0.188 0.235 0.322 0.424 0.561 0.725 0.824"/><feFuncB type="table" tableValues="0.769 0.706 0.549 0.384 0.259 0.157 0.102"/></feComponentTransfer></filter><linearGradient id="hg15" gradientUnits="userSpaceOnUse" x1="459.5" y1="0" x2="495.5" y2="0"><stop offset="0" stop-color="rgb(105,105,105)" stop-opacity="0"/><stop offset="1" stop-color="rgb(105,105,105)" stop-opacity="1"/></linearGradient><linearGradient id="hn15" gradientUnits="userSpaceOnUse" x1="0" y1="1645.0" x2="0" y2="1705.0"><stop offset="0" stop-color="rgb(23,23,23)" stop-opacity="0"/><stop offset="1" stop-color="rgb(23,23,23)" stop-opacity="1"/></linearGradient>
<filter id="hm16" filterUnits="userSpaceOnUse" x="527.6" y="1610.4" width="88.6" height="300.5" color-interpolation-filters="sRGB"><feTurbulence type="fractalNoise" baseFrequency="0.105 0.62" numOctaves="3" seed="115" result="n"/><feColorMatrix in="n" type="matrix" values="1 0 0 0 0 1 0 0 0 0 1 0 0 0 0 0 0 0 0 1" result="ng"/><feComposite in="SourceGraphic" in2="ng" operator="arithmetic" k1="0" k2="1" k3="0.85" k4="-0.425" result="v"/><feComponentTransfer in="v"><feFuncR type="table" tableValues="0.063 0.118 0.251 0.416 0.580 0.769 0.878"/><feFuncG type="table" tableValues="0.188 0.235 0.322 0.424 0.561 0.725 0.824"/><feFuncB type="table" tableValues="0.769 0.706 0.549 0.384 0.259 0.157 0.102"/></feComponentTransfer></filter><linearGradient id="hg16" gradientUnits="userSpaceOnUse" x1="569.6" y1="0" x2="605.6" y2="0"><stop offset="0" stop-color="rgb(128,128,128)" stop-opacity="0"/><stop offset="1" stop-color="rgb(128,128,128)" stop-opacity="1"/></linearGradient><linearGradient id="hn16" gradientUnits="userSpaceOnUse" x1="0" y1="1700.0" x2="0" y2="1760.0"><stop offset="0" stop-color="rgb(61,61,61)" stop-opacity="0"/><stop offset="1" stop-color="rgb(61,61,61)" stop-opacity="1"/></linearGradient>
</defs>
<rect width="1731" height="2500" fill="#fff"/>
<g id="panel_a">
<text x="-1.0" y="32.8" text-anchor="start" style="font-size:40px" fill="#000" stroke="#000" font-weight="bold">a</text>
<text x="58.1" y="48.9" text-anchor="start" style="font-size:22px" fill="#000" stroke="#000"><tspan font-style="italic">S.cerevisiae</tspan> genomic</text>
<text x="94.7" y="76.2" text-anchor="start" style="font-size:22px" fill="#000" stroke="#000">plasmid library</text>
<text x="90.2" y="98.2" text-anchor="start" style="font-size:18.4px" fill="#000" stroke="#000">circular/linerarized</text>
<g fill="none" stroke="#000" stroke-width="2.6">
<circle cx="82" cy="134.6" r="22.4"/>
<circle cx="130.8" cy="135.8" r="22.4"/>
<circle cx="88.2" cy="159.6" r="22.4"/>
<circle cx="68.9" cy="168.4" r="22.4"/>
<circle cx="125" cy="168.4" r="22.4"/>
<path d="M169,137H210"/>
<path d="M224.8,139.3H250.6"/>
<path d="M166,145.9H236.8"/>
<path d="M183.5,156.6H267.4"/>
<path d="M186,167.2H226.8"/>
<path d="M234.3,170.4H260.6"/>
</g>
<text x="169.0" y="211.0" text-anchor="middle" style="font-size:27px" fill="#000" stroke="#000">+</text>
<g fill="#d6d6d6" stroke="#4d4d4d" stroke-width="0.9">
<circle cx="43.1" cy="236.1" r="6.6"/>
<circle cx="69.4" cy="231.1" r="6.6"/>
<circle cx="58.1" cy="244.9" r="6.6"/>
<circle cx="76.9" cy="248.1" r="6.6"/>
<circle cx="39.3" cy="256.4" r="6.6"/>
<circle cx="60.7" cy="264.9" r="6.6"/>
<circle cx="82.7" cy="267.7" r="6.6"/>
<circle cx="45.6" cy="273.9" r="6.6"/>
<circle cx="69.2" cy="282.5" r="6.6"/>
</g>
<text x="109.3" y="249.4" text-anchor="start" style="font-size:22px" fill="#000" stroke="#000">histone octamers</text>
<text x="107.8" y="276.2" text-anchor="start" style="font-size:22px" fill="#000" stroke="#000" font-style="italic">S.c., D.m. or H.s.</text>
<text x="293.2" y="90.2" text-anchor="start" style="font-size:22px" fill="#000" stroke="#000">2M NaCl</text>
<text x="431.4" y="90.2" text-anchor="start" style="font-size:22px" fill="#000" stroke="#000">50mM</text>
<g fill="none" stroke="#000" stroke-width="2.5">
<path d="M330.3,108.5 C340,145 368,163 395,163 C428,163 452,140 461.5,108"/>
<path d="M316,163 H472"/>
<path d="M479.7,243.5 V372"/>
<path d="M482.8,448.8 H328"/>
</g>
<path d="M464.6,97.5 L470.2,113 L455.2,110 Z"/>
<path d="M483,163 L469,156.6 L469,169.4 Z"/>
<path d="M479.7,383 L473.3,371 L486.1,371 Z"/>
<path d="M316.3,448.8 L330.3,442.4 L330.3,455.2 Z"/>
<text x="293.7" y="200.2" text-anchor="start" style="font-size:22px" fill="#000" stroke="#000">Salt Gradient Dialysis</text>
<text x="399.0" y="227.3" text-anchor="middle" style="font-size:22px" fill="#000" stroke="#000">(SGD)</text>
<text x="519.0" y="48.9" text-anchor="start" style="font-size:22px" fill="#000" stroke="#000">SGD chromatin</text>
<text x="594.5" y="71.9" text-anchor="middle" style="font-size:18.4px" fill="#000" stroke="#000">“DNA-histone</text>
<text x="594.6" y="93.7" text-anchor="middle" style="font-size:18.4px" fill="#000" stroke="#000">positioning”</text>
<g fill="none" stroke="#000" stroke-width="2.6">
<circle cx="571.7" cy="149.9" r="22.4"/>
<circle cx="621.4" cy="150.9" r="22.4"/>
<circle cx="578.2" cy="174.2" r="22.4"/>
<circle cx="557" cy="184.2" r="22.4"/>
<circle cx="615.8" cy="182.5" r="22.4"/>
</g>
<g fill="#d6d6d6" stroke="#000" stroke-width="0.9">
<circle cx="569.2" cy="127.8" r="6.6"/>
<circle cx="588.8" cy="132.3" r="6.6"/>
<circle cx="549.7" cy="146.1" r="6.6"/>
<circle cx="584.3" cy="153.4" r="6.6"/>
<circle cx="613.1" cy="129.1" r="6.6"/>
<circle cx="644.4" cy="152.4" r="6.6"/>
<circle cx="617.6" cy="171.7" r="6.6"/>
<circle cx="567.5" cy="172.9" r="6.6"/>
<circle cx="535.4" cy="178.4" r="6.6"/>
<circle cx="565.5" cy="192.2" r="6.6"/>
<circle cx="547.9" cy="203" r="6.6"/>
<circle cx="636.9" cy="192.2" r="6.6"/>
<circle cx="604.3" cy="203" r="6.6"/>
<circle cx="618.1" cy="206" r="6.6"/>
</g>
<text x="469.0" y="293.7" text-anchor="end" style="font-size:22px" fill="#000" stroke="#000">ATP</text>
<text x="469.0" y="320.6" text-anchor="end" style="font-size:22px" fill="#000" stroke="#000">2h</text>
<text x="469.0" y="346.9" text-anchor="end" style="font-size:22px" fill="#000" stroke="#000">30ºC</text>
<text x="497.3" y="270.7" text-anchor="start" style="font-size:22px" fill="#000" stroke="#000">± chromatin remodeler</text>
<text x="497.3" y="303.8" text-anchor="start" style="font-size:22px" fill="#000" stroke="#000">± general regulatory</text>
<text x="516.6" y="329.9" text-anchor="start" style="font-size:22px" fill="#000" stroke="#000">factors <tspan style="font-size:18.4px">(e.g. Reb1)</tspan></text>
<text x="496.5" y="361.5" text-anchor="start" style="font-size:22px" fill="#000" stroke="#000">± restriction enzymes</text>
<text x="343.4" y="480.1" text-anchor="start" style="font-size:22px" fill="#000" stroke="#000">MNase-seq</text>
<text x="588.0" y="544.2" text-anchor="middle" style="font-size:22px" fill="#000" stroke="#000">repositioned</text>
<text x="591.2" y="570.5" text-anchor="middle" style="font-size:22px" fill="#000" stroke="#000">nucleosomes</text>
<g transform="translate(581.8,400.5) rotate(50)"><ellipse rx="21.5" ry="7" fill="#ff0018"/><ellipse rx="12.5" ry="2.6" cx="1" fill="#fff"/></g>
<g transform="translate(602.3,499.5) rotate(50)"><ellipse rx="21.5" ry="7" fill="#ff0018"/><ellipse rx="12.5" ry="2.6" cx="1" fill="#fff"/></g>
<path d="M594.1,395.9 A15.5,15.5 0 1 1 613.7,418.1 A15.5,15.5 0 0 0 594.1,395.9Z" fill="#1138ef"/>
<path d="M633.8,442.2 A15.5,15.5 0 1 1 635.3,471.7 A15.5,15.5 0 0 0 633.8,442.2Z" fill="#1138ef"/>
<path d="M547.6,503.2 A15.5,15.5 0 1 1 536.3,475.9 A15.5,15.5 0 0 0 547.6,503.2Z" fill="#1138ef"/>
<g fill="none" stroke="#000" stroke-width="2.6">
<circle cx="606.8" cy="428.6" r="22.4"/>
<circle cx="561.5" cy="448.9" r="22.4"/>
<circle cx="578" cy="470" r="22.4"/>
<circle cx="615.8" cy="461" r="22.4"/>
<circle cx="564" cy="486.5" r="22.4"/>
</g>
<g fill="#d6d6d6" stroke="#000" stroke-width="0.9">
<circle cx="604.8" cy="406.6" r="6.6"/>
<circle cx="628.1" cy="421.1" r="6.6"/>
<circle cx="548.4" cy="431.1" r="6.6"/>
<circle cx="569.2" cy="426.6" r="6.6"/>
<circle cx="574.2" cy="447.9" r="6.6"/>
<circle cx="539.6" cy="455.4" r="6.6"/>
<circle cx="611.8" cy="449.7" r="6.6"/>
<circle cx="637.4" cy="456.2" r="6.6"/>
<circle cx="566.7" cy="472.5" r="6.6"/>
<circle cx="613.8" cy="483.8" r="6.6"/>
<circle cx="628.1" cy="480" r="6.6"/>
<circle cx="540.4" cy="491" r="6.6"/>
<circle cx="574.2" cy="490.5" r="6.6"/>
<circle cx="563" cy="508.6" r="6.6"/>
</g>
<path d="M89.0,424.1C90.6,430.1 95.4,461.4 99.0,460.4C102.5,459.4 106.8,415.3 110.3,417.8C113.7,420.3 116.7,474.6 119.8,475.4C122.9,476.3 125.6,419.5 129.1,422.8C132.5,426.1 136.8,479.0 140.4,495.5C143.9,512.0 147.0,525.1 150.4,521.8C153.7,518.5 157.4,503.6 160.4,475.4C163.4,447.2 165.3,348.9 168.4,352.6C171.6,356.4 175.5,499.2 179.2,498.0C182.9,496.7 186.9,347.2 190.5,345.1C194.0,343.0 197.0,482.7 200.5,485.5C204.1,488.2 208.1,362.7 211.8,361.4C215.5,360.2 219.0,474.4 222.6,477.9C226.1,481.5 229.6,384.0 233.1,382.7C236.6,381.5 240.1,467.3 243.6,470.4C247.2,473.6 250.9,402.8 254.4,401.5C257.9,400.3 261.2,460.0 264.4,462.9C267.6,465.8 272.1,426.4 273.7,419.0L273.7,524.8 L89,524.8Z" fill="#dcdcdc"/>
<path d="M90.2,462.9C90.7,463.1 91.1,468.8 93.2,464.2C95.3,459.6 99.1,433.2 102.8,435.3C106.4,437.4 111.0,478.7 115.3,476.7C119.6,474.7 124.9,421.0 128.6,423.3C132.2,425.6 135.0,477.5 137.3,490.5C139.7,503.4 140.8,496.7 142.9,501.0C144.9,505.3 147.3,514.7 149.9,516.5C152.5,518.4 156.0,524.7 158.4,512.0C160.8,499.3 162.2,463.4 164.2,440.4C166.2,417.3 168.5,373.9 170.4,373.9C172.4,373.9 174.1,422.4 175.9,440.4C177.8,458.3 178.9,485.8 181.7,481.7C184.5,477.6 189.2,419.1 193.0,415.8C196.7,412.4 200.5,459.1 204.3,461.7C208.0,464.2 211.8,431.0 215.5,430.8C219.3,430.6 223.3,457.5 226.8,460.4C230.4,463.3 233.3,448.6 236.8,448.4C240.4,448.2 245.6,457.8 248.1,459.1C250.6,460.5 250.6,456.5 251.9,456.6C253.1,456.8 254.0,460.1 255.6,459.9C257.3,459.7 260.0,455.4 261.9,455.4C263.8,455.4 265.0,459.4 266.9,459.9C268.8,460.4 272.1,458.6 273.2,458.4" fill="none" stroke="#ff1a22" stroke-width="6" stroke-linejoin="round"/>
<path d="M89,338 V524.8 H273.7" fill="none" stroke="#000" stroke-width="1.6"/>
<text x="191.7" y="354.4" text-anchor="start" style="font-size:22px" fill="#ff1a22" stroke="#ff1a22" font-style="italic">in vitro</text>
<text x="191.7" y="380.7" text-anchor="start" style="font-size:22px" fill="#ff1a22" stroke="#ff1a22">reconstituted</text>
<text x="205.5" y="518.0" text-anchor="start" style="font-size:22px" fill="#8a8a8a" stroke="#8a8a8a" font-style="italic">in vivo</text>
<text x="72.0" y="434.7" text-anchor="middle" style="font-size:18.5px" fill="#000" stroke="#000" transform="rotate(-90 72.0 434.7)">dyad density</text>
<text x="93.0" y="542.4" text-anchor="middle" style="font-size:12.8px" fill="#000" stroke="#000">−600</text>
<text x="168.9" y="542.4" text-anchor="middle" style="font-size:12.8px" fill="#000" stroke="#000">0</text>
<text x="248.7" y="542.4" text-anchor="middle" style="font-size:12.8px" fill="#000" stroke="#000">600</text>
<text x="100.8" y="559.9" text-anchor="start" style="font-size:18.5px" fill="#000" stroke="#000">distance to <tspan font-style="italic">in vivo</tspan></text>
<text x="111.5" y="582.5" text-anchor="start" style="font-size:18.4px" fill="#000" stroke="#000">+1 nucleosome</text>
</g>
<g id="panel_b">
<text x="725.4" y="31.5" text-anchor="start" style="font-size:40px" fill="#000" stroke="#000" font-weight="bold">b</text>
<text x="797.3" y="48.8" text-anchor="start" style="font-size:22.1px" fill="#000" stroke="#000">embryonic <tspan font-style="italic">D. melanogaster</tspan> histones</text>
<path d="M771.3,62.2H1184 M1263.9,62.2H1676" stroke="#000" stroke-width="1.5" fill="none"/>
<text x="835.5" y="101.1" text-anchor="middle" style="font-size:22px" fill="#000" stroke="#000">SGD</text>
<text x="976.4" y="86.4" text-anchor="middle" style="font-size:22px" fill="#000" stroke="#000">endogenous</text>
<text x="976.5" y="113.6" text-anchor="middle" style="font-size:22px" fill="#000" stroke="#000">INO80</text>
<text x="1120.6" y="86.4" text-anchor="middle" style="font-size:22px" fill="#000" stroke="#000">recombinant</text>
<text x="1120.6" y="113.6" text-anchor="middle" style="font-size:22px" fill="#000" stroke="#000">INO80</text>
<text x="1466.0" y="48.8" text-anchor="middle" style="font-size:22px" fill="#000" stroke="#000">recombinant INO80</text>
<text x="1323.8" y="86.4" text-anchor="middle" style="font-size:22px" fill="#000" stroke="#000">recombinant</text>
<text x="1466.0" y="86.4" text-anchor="middle" style="font-size:22px" fill="#000" stroke="#000">recombinant</text>
<text x="1614.5" y="86.4" text-anchor="middle" style="font-size:22px" fill="#000" stroke="#000">recombinant</text>
<text x="1261.7" y="113.6" text-anchor="start" style="font-size:22px" fill="#000" stroke="#000"><tspan font-style="italic">S.c.</tspan> histones</text>
<text x="1403.3" y="113.6" text-anchor="start" style="font-size:22px" fill="#000" stroke="#000"><tspan font-style="italic">H.s.</tspan> histones</text>
<text x="1536.5" y="113.6" text-anchor="start" style="font-size:22px" fill="#000" stroke="#000">tailless histones</text>
<g filter="url(#hm1)">
<rect x="770.9" y="117.0" width="129.9" height="436.0" fill="rgb(156,156,156)"/>
<rect x="842.9" y="117.0" width="59.9" height="436.0" fill="url(#hg1)"/>
<path d="M812.9,162.2 L812.8,169.4 L812.8,176.6 L812.7,183.8 L812.7,191.0 L812.6,198.2 L812.6,205.4 L812.5,212.6 L812.4,219.8 L812.4,227.0 L812.3,234.2 L812.2,241.4 L812.1,248.6 L812.1,255.8 L812.0,263.0 L811.9,270.2 L811.8,277.4 L811.7,284.6 L811.6,291.8 L811.6,299.0 L811.5,306.2 L811.4,313.4 L811.3,320.6 L811.2,327.8 L811.1,335.0 L811.0,342.2 L810.9,349.4 L810.8,356.6 L810.7,363.8 L810.6,371.0 L810.5,378.2 L810.4,385.4 L810.3,392.6 L810.2,399.8 L810.0,407.0 L809.9,414.2 L809.8,421.4 L809.6,428.6 L809.4,435.8 L809.2,443.0 L809.0,450.2 L808.7,457.4 L808.4,464.6 L807.9,471.8 L807.4,479.0 L806.6,486.2 L805.6,493.4 L804.2,500.6 L802.4,507.8 L799.9,515.0 L796.4,522.2 L791.7,529.4 L785.2,536.6 L776.3,543.8 L772.9,551.0 L820.9,551.0 L820.9,162.2Z" fill="url(#hn1)" filter="url(#hb25)"/>
<path d="M823.6,205.4 L823.6,212.6 L823.6,219.8 L823.6,227.0 L823.6,234.2 L823.6,241.4 L823.6,248.6 L823.6,255.8 L823.6,263.0 L823.6,270.2 L823.6,277.4 L823.6,284.6 L823.6,291.8 L823.6,299.0 L823.6,306.2 L823.6,313.4 L823.6,320.6 L823.6,327.8 L823.6,335.0 L823.6,342.2 L823.6,349.4 L823.6,356.6 L823.6,363.8 L823.6,371.0 L823.6,378.2 L823.6,385.4 L823.6,392.6 L823.6,399.8 L823.6,407.0 L823.6,414.2 L823.6,421.4 L823.6,428.6 L823.6,435.8 L823.6,443.0 L823.6,450.2 L823.6,457.4 L823.6,464.6 L823.6,471.8 L823.6,479.0 L823.6,486.2 L823.6,493.4 L823.6,500.6 L823.6,507.8 L823.6,515.0 L823.6,522.2 L823.6,529.4 L823.6,536.6 L823.6,543.8 L823.6,551.0 L828.1,551.0 L828.1,543.8 L828.1,536.6 L828.1,529.4 L828.1,522.2 L828.1,515.0 L828.1,507.8 L828.1,500.6 L828.1,493.4 L828.1,486.2 L828.1,479.0 L828.1,471.8 L828.1,464.6 L828.1,457.4 L828.1,450.2 L828.1,443.0 L828.1,435.8 L828.1,428.6 L828.1,421.4 L828.1,414.2 L828.1,407.0 L828.1,399.8 L828.1,392.6 L828.1,385.4 L828.1,378.2 L828.1,371.0 L828.1,363.8 L828.1,356.6 L828.1,349.4 L828.1,342.2 L828.1,335.0 L828.1,327.8 L828.1,320.6 L828.1,313.4 L828.1,306.2 L828.1,299.0 L828.1,291.8 L828.1,284.6 L828.1,277.4 L828.1,270.2 L828.1,263.0 L828.1,255.8 L828.1,248.6 L828.1,241.4 L828.1,234.2 L828.1,227.0 L828.1,219.8 L828.1,212.6 L828.1,205.4Z" fill="rgb(214,214,214)" opacity="1" filter="url(#hb22)"/>

</g>
<path d="M772.9,559.4V551.4H898.8V559.4 M826.9,551.4v8" fill="none" stroke="#000" stroke-width="1.1"/>
<g filter="url(#hm2)">
<rect x="914.4" y="115.5" width="130.9" height="437.5" fill="rgb(145,145,145)"/>
<rect x="986.8" y="115.5" width="60.5" height="437.5" fill="url(#hg2)"/>
<rect x="936.8" y="115.5" width="52.0" height="437.5" fill="rgb(153,153,153)" filter="url(#hb60)"/>
<path d="M956.8,153.6 L956.7,160.8 L956.6,168.1 L956.5,175.3 L956.4,182.5 L956.3,189.8 L956.2,197.0 L956.1,204.2 L956.0,211.4 L955.9,218.7 L955.8,225.9 L955.6,233.1 L955.5,240.3 L955.4,247.6 L955.2,254.8 L955.1,262.0 L954.9,269.2 L954.8,276.4 L954.6,283.7 L954.5,290.9 L954.3,298.1 L954.2,305.4 L954.0,312.6 L953.8,319.8 L953.7,327.0 L953.5,334.2 L953.3,341.5 L953.2,348.7 L953.0,355.9 L952.8,363.1 L952.6,370.4 L952.5,377.6 L952.3,384.8 L952.1,392.1 L951.9,399.3 L951.7,406.5 L951.5,413.7 L951.3,420.9 L951.1,428.2 L950.8,435.4 L950.6,442.6 L950.3,449.9 L950.0,457.1 L949.6,464.3 L949.2,471.5 L948.6,478.8 L947.9,486.0 L947.0,493.2 L945.8,500.4 L944.2,507.6 L942.0,514.9 L939.0,522.1 L934.9,529.3 L929.1,536.5 L921.1,543.8 L916.4,551.0 L966.8,551.0 L966.8,153.6Z" fill="url(#hn2)" filter="url(#hb22)"/>
<path d="M969.0,117.5 L969.0,124.7 L969.0,131.9 L969.0,139.2 L969.0,146.4 L969.0,153.6 L969.0,160.8 L969.0,168.1 L969.0,175.3 L969.0,182.5 L969.0,189.8 L969.0,197.0 L969.0,204.2 L969.0,211.4 L969.0,218.7 L969.0,225.9 L969.0,233.1 L969.0,240.3 L969.0,247.6 L969.0,254.8 L969.0,262.0 L969.0,269.2 L969.0,276.4 L969.0,283.7 L969.0,290.9 L969.0,298.1 L969.0,305.4 L969.0,312.6 L969.0,319.8 L969.0,327.0 L969.0,334.2 L969.0,341.5 L969.0,348.7 L969.0,355.9 L969.0,363.1 L969.0,370.4 L969.0,377.6 L969.0,384.8 L969.0,392.1 L969.0,399.3 L969.0,406.5 L969.0,413.7 L969.0,420.9 L969.0,428.2 L969.0,435.4 L969.0,442.6 L969.0,449.9 L969.0,457.1 L969.0,464.3 L969.0,471.5 L969.0,478.8 L969.0,486.0 L969.0,493.2 L969.0,500.4 L969.0,507.6 L969.0,514.9 L969.0,522.1 L969.0,529.3 L969.0,536.5 L969.0,543.8 L969.0,551.0 L975.5,551.0 L975.5,543.8 L975.5,536.5 L975.5,529.3 L975.5,522.1 L975.5,514.9 L975.5,507.6 L975.5,500.4 L975.5,493.2 L975.5,486.0 L975.5,478.8 L975.5,471.5 L975.5,464.3 L975.5,457.1 L975.5,449.9 L975.5,442.6 L975.5,435.4 L975.5,428.2 L975.5,420.9 L975.5,413.7 L975.5,406.5 L975.5,399.3 L975.5,392.1 L975.5,384.8 L975.5,377.6 L975.5,370.4 L975.5,363.1 L975.5,355.9 L975.5,348.7 L975.5,341.5 L975.5,334.2 L975.5,327.0 L975.5,319.8 L975.5,312.6 L975.5,305.4 L975.5,298.1 L975.5,290.9 L975.5,283.7 L975.5,276.4 L975.5,269.2 L975.5,262.0 L975.5,254.8 L975.5,247.6 L975.5,240.3 L975.5,233.1 L975.5,225.9 L975.5,218.7 L975.5,211.4 L975.5,204.2 L975.5,197.0 L975.5,189.8 L975.5,182.5 L975.5,175.3 L975.5,168.1 L975.5,160.8 L975.5,153.6 L975.5,146.4 L975.5,139.2 L975.5,131.9 L975.5,124.7 L975.5,117.5Z" fill="rgb(255,255,255)" opacity="1" filter="url(#hb22)"/>
<path d="M949.0,117.5 L949.0,124.7 L949.0,131.9 L949.0,139.2 L949.0,146.4 L949.0,153.6 L949.0,160.8 L948.9,168.1 L948.8,175.3 L948.7,182.5 L948.6,189.8 L948.5,197.0 L948.4,204.2 L948.3,211.4 L948.1,218.7 L948.0,225.9 L947.9,233.1 L947.7,240.3 L947.6,247.6 L947.5,254.8 L947.3,262.0 L947.2,269.2 L947.0,276.4 L946.9,283.7 L946.7,290.9 L946.6,298.1 L946.4,305.4 L946.3,312.6 L946.1,319.8 L945.9,327.0 L945.8,334.2 L945.6,341.5 L945.4,348.7 L945.2,355.9 L945.1,363.1 L944.9,370.4 L944.7,377.6 L944.5,384.8 L944.3,392.1 L944.2,399.3 L944.0,406.5 L943.8,413.7 L943.6,420.9 L943.3,428.2 L943.1,435.4 L942.8,442.6 L942.6,449.9 L942.2,457.1 L941.9,464.3 L941.4,471.5 L940.9,478.8 L940.2,486.0 L939.3,493.2 L938.1,500.4 L936.5,507.6 L934.3,514.9 L931.3,522.1 L927.1,529.3 L921.4,536.5 L913.3,543.8 L919.8,543.8 L927.9,536.5 L933.6,529.3 L937.8,522.1 L940.8,514.9 L943.0,507.6 L944.6,500.4 L945.8,493.2 L946.7,486.0 L947.4,478.8 L947.9,471.5 L948.4,464.3 L948.7,457.1 L949.1,449.9 L949.3,442.6 L949.6,435.4 L949.8,428.2 L950.1,420.9 L950.3,413.7 L950.5,406.5 L950.7,399.3 L950.8,392.1 L951.0,384.8 L951.2,377.6 L951.4,370.4 L951.6,363.1 L951.7,355.9 L951.9,348.7 L952.1,341.5 L952.3,334.2 L952.4,327.0 L952.6,319.8 L952.8,312.6 L952.9,305.4 L953.1,298.1 L953.2,290.9 L953.4,283.7 L953.5,276.4 L953.7,269.2 L953.8,262.0 L954.0,254.8 L954.1,247.6 L954.2,240.3 L954.4,233.1 L954.5,225.9 L954.6,218.7 L954.8,211.4 L954.9,204.2 L955.0,197.0 L955.1,189.8 L955.2,182.5 L955.3,175.3 L955.4,168.1 L955.5,160.8 L955.5,153.6 L955.5,146.4 L955.5,139.2 L955.5,131.9 L955.5,124.7 L955.5,117.5Z" fill="rgb(255,255,255)" opacity="1" filter="url(#hb22)"/>
<path d="M987.8,117.5 L987.8,124.7 L987.8,131.9 L987.8,139.2 L987.8,146.4 L987.8,153.6 L987.8,160.8 L987.8,168.1 L987.8,175.3 L987.8,182.5 L987.8,189.8 L987.8,197.0 L987.8,204.2 L987.8,211.4 L987.8,218.7 L987.8,225.9 L987.8,233.1 L987.8,240.3 L987.8,247.6 L987.8,254.8 L987.8,262.0 L987.8,269.2 L987.8,276.4 L987.8,283.7 L987.8,290.9 L987.8,298.1 L987.8,305.4 L987.8,312.6 L987.8,319.8 L987.8,327.0 L987.8,334.2 L987.8,341.5 L987.8,348.7 L987.8,355.9 L987.8,363.1 L987.8,370.4 L987.8,377.6 L987.8,384.8 L987.8,392.1 L987.8,399.3 L987.8,406.5 L987.8,413.7 L987.8,420.9 L987.8,428.2 L987.8,435.4 L987.8,442.6 L987.8,449.9 L987.8,457.1 L987.8,464.3 L987.8,471.5 L987.8,478.8 L987.8,486.0 L987.8,493.2 L987.8,500.4 L987.8,507.6 L987.8,514.9 L987.8,522.1 L987.8,529.3 L987.8,536.5 L987.8,543.8 L987.8,551.0 L993.8,551.0 L993.8,543.8 L993.8,536.5 L993.8,529.3 L993.8,522.1 L993.8,514.9 L993.8,507.6 L993.8,500.4 L993.8,493.2 L993.8,486.0 L993.8,478.8 L993.8,471.5 L993.8,464.3 L993.8,457.1 L993.8,449.9 L993.8,442.6 L993.8,435.4 L993.8,428.2 L993.8,420.9 L993.8,413.7 L993.8,406.5 L993.8,399.3 L993.8,392.1 L993.8,384.8 L993.8,377.6 L993.8,370.4 L993.8,363.1 L993.8,355.9 L993.8,348.7 L993.8,341.5 L993.8,334.2 L993.8,327.0 L993.8,319.8 L993.8,312.6 L993.8,305.4 L993.8,298.1 L993.8,290.9 L993.8,283.7 L993.8,276.4 L993.8,269.2 L993.8,262.0 L993.8,254.8 L993.8,247.6 L993.8,240.3 L993.8,233.1 L993.8,225.9 L993.8,218.7 L993.8,211.4 L993.8,204.2 L993.8,197.0 L993.8,189.8 L993.8,182.5 L993.8,175.3 L993.8,168.1 L993.8,160.8 L993.8,153.6 L993.8,146.4 L993.8,139.2 L993.8,131.9 L993.8,124.7 L993.8,117.5Z" fill="rgb(186,186,186)" opacity="1" filter="url(#hb30)"/>

</g>
<path d="M916.4,559.4V551.4H1043.3V559.4 M970.8,551.4v8" fill="none" stroke="#000" stroke-width="1.1"/>
<g filter="url(#hm3)">
<rect x="1056.9" y="116.4" width="130.6" height="436.6" fill="rgb(145,145,145)"/>
<rect x="1129.2" y="116.4" width="60.3" height="436.6" fill="url(#hg3)"/>
<rect x="1079.2" y="116.4" width="52.0" height="436.6" fill="rgb(153,153,153)" filter="url(#hb60)"/>
<path d="M1098.7,161.7 L1098.6,168.9 L1098.6,176.1 L1098.5,183.3 L1098.4,190.5 L1098.4,197.7 L1098.3,204.9 L1098.2,212.1 L1098.1,219.3 L1098.1,226.6 L1098.0,233.8 L1097.9,241.0 L1097.8,248.2 L1097.7,255.4 L1097.6,262.6 L1097.5,269.8 L1097.4,277.0 L1097.3,284.2 L1097.2,291.4 L1097.1,298.6 L1097.0,305.9 L1096.9,313.1 L1096.8,320.3 L1096.7,327.5 L1096.6,334.7 L1096.4,341.9 L1096.3,349.1 L1096.2,356.3 L1096.1,363.5 L1096.0,370.8 L1095.8,378.0 L1095.7,385.2 L1095.6,392.4 L1095.5,399.6 L1095.3,406.8 L1095.2,414.0 L1095.0,421.2 L1094.9,428.4 L1094.7,435.6 L1094.5,442.9 L1094.3,450.1 L1094.0,457.3 L1093.7,464.5 L1093.4,471.7 L1092.9,478.9 L1092.3,486.1 L1091.5,493.3 L1090.4,500.5 L1088.9,507.7 L1086.9,515.0 L1084.1,522.2 L1080.2,529.4 L1074.8,536.6 L1067.3,543.8 L1058.9,551.0 L1109.7,551.0 L1109.7,161.7Z" fill="url(#hn3)" filter="url(#hb22)"/>
<path d="M1111.4,118.4 L1111.4,125.6 L1111.4,132.8 L1111.4,140.0 L1111.4,147.2 L1111.4,154.4 L1111.4,161.7 L1111.4,168.9 L1111.4,176.1 L1111.4,183.3 L1111.4,190.5 L1111.4,197.7 L1111.4,204.9 L1111.4,212.1 L1111.4,219.3 L1111.4,226.6 L1111.4,233.8 L1111.4,241.0 L1111.4,248.2 L1111.4,255.4 L1111.4,262.6 L1111.4,269.8 L1111.4,277.0 L1111.4,284.2 L1111.4,291.4 L1111.4,298.6 L1111.4,305.9 L1111.4,313.1 L1111.4,320.3 L1111.4,327.5 L1111.4,334.7 L1111.4,341.9 L1111.4,349.1 L1111.4,356.3 L1111.4,363.5 L1111.4,370.8 L1111.4,378.0 L1111.4,385.2 L1111.4,392.4 L1111.4,399.6 L1111.4,406.8 L1111.4,414.0 L1111.4,421.2 L1111.4,428.4 L1111.4,435.6 L1111.4,442.9 L1111.4,450.1 L1111.4,457.3 L1111.4,464.5 L1111.4,471.7 L1111.4,478.9 L1111.4,486.1 L1111.4,493.3 L1111.4,500.5 L1111.4,507.7 L1111.4,515.0 L1111.4,522.2 L1111.4,529.4 L1111.4,536.6 L1111.4,543.8 L1111.4,551.0 L1117.9,551.0 L1117.9,543.8 L1117.9,536.6 L1117.9,529.4 L1117.9,522.2 L1117.9,515.0 L1117.9,507.7 L1117.9,500.5 L1117.9,493.3 L1117.9,486.1 L1117.9,478.9 L1117.9,471.7 L1117.9,464.5 L1117.9,457.3 L1117.9,450.1 L1117.9,442.9 L1117.9,435.6 L1117.9,428.4 L1117.9,421.2 L1117.9,414.0 L1117.9,406.8 L1117.9,399.6 L1117.9,392.4 L1117.9,385.2 L1117.9,378.0 L1117.9,370.8 L1117.9,363.5 L1117.9,356.3 L1117.9,349.1 L1117.9,341.9 L1117.9,334.7 L1117.9,327.5 L1117.9,320.3 L1117.9,313.1 L1117.9,305.9 L1117.9,298.6 L1117.9,291.4 L1117.9,284.2 L1117.9,277.0 L1117.9,269.8 L1117.9,262.6 L1117.9,255.4 L1117.9,248.2 L1117.9,241.0 L1117.9,233.8 L1117.9,226.6 L1117.9,219.3 L1117.9,212.1 L1117.9,204.9 L1117.9,197.7 L1117.9,190.5 L1117.9,183.3 L1117.9,176.1 L1117.9,168.9 L1117.9,161.7 L1117.9,154.4 L1117.9,147.2 L1117.9,140.0 L1117.9,132.8 L1117.9,125.6 L1117.9,118.4Z" fill="rgb(255,255,255)" opacity="1" filter="url(#hb22)"/>
<path d="M1090.4,118.4 L1090.4,125.6 L1090.4,132.8 L1090.4,140.0 L1090.4,147.2 L1090.4,154.4 L1090.4,161.7 L1090.4,168.9 L1090.3,176.1 L1090.3,183.3 L1090.2,190.5 L1090.1,197.7 L1090.0,204.9 L1090.0,212.1 L1089.9,219.3 L1089.8,226.6 L1089.7,233.8 L1089.6,241.0 L1089.5,248.2 L1089.4,255.4 L1089.4,262.6 L1089.3,269.8 L1089.2,277.0 L1089.1,284.2 L1089.0,291.4 L1088.8,298.6 L1088.7,305.9 L1088.6,313.1 L1088.5,320.3 L1088.4,327.5 L1088.3,334.7 L1088.2,341.9 L1088.1,349.1 L1088.0,356.3 L1087.8,363.5 L1087.7,370.8 L1087.6,378.0 L1087.5,385.2 L1087.3,392.4 L1087.2,399.6 L1087.1,406.8 L1086.9,414.0 L1086.8,421.2 L1086.6,428.4 L1086.5,435.6 L1086.3,442.9 L1086.0,450.1 L1085.8,457.3 L1085.5,464.5 L1085.1,471.7 L1084.6,478.9 L1084.0,486.1 L1083.2,493.3 L1082.1,500.5 L1080.7,507.7 L1078.6,515.0 L1075.9,522.2 L1072.0,529.4 L1066.6,536.6 L1059.0,543.8 L1065.5,543.8 L1073.1,536.6 L1078.5,529.4 L1082.4,522.2 L1085.1,515.0 L1087.2,507.7 L1088.6,500.5 L1089.7,493.3 L1090.5,486.1 L1091.1,478.9 L1091.6,471.7 L1092.0,464.5 L1092.3,457.3 L1092.5,450.1 L1092.8,442.9 L1093.0,435.6 L1093.1,428.4 L1093.3,421.2 L1093.4,414.0 L1093.6,406.8 L1093.7,399.6 L1093.8,392.4 L1094.0,385.2 L1094.1,378.0 L1094.2,370.8 L1094.3,363.5 L1094.5,356.3 L1094.6,349.1 L1094.7,341.9 L1094.8,334.7 L1094.9,327.5 L1095.0,320.3 L1095.1,313.1 L1095.2,305.9 L1095.3,298.6 L1095.5,291.4 L1095.6,284.2 L1095.7,277.0 L1095.8,269.8 L1095.9,262.6 L1095.9,255.4 L1096.0,248.2 L1096.1,241.0 L1096.2,233.8 L1096.3,226.6 L1096.4,219.3 L1096.5,212.1 L1096.5,204.9 L1096.6,197.7 L1096.7,190.5 L1096.8,183.3 L1096.8,176.1 L1096.9,168.9 L1096.9,161.7 L1096.9,154.4 L1096.9,147.2 L1096.9,140.0 L1096.9,132.8 L1096.9,125.6 L1096.9,118.4Z" fill="rgb(255,255,255)" opacity="1" filter="url(#hb22)"/>
<path d="M1068.7,118.4 L1068.7,125.6 L1068.7,132.8 L1068.7,140.0 L1068.7,147.2 L1068.7,154.4 L1068.7,161.7 L1068.6,168.9 L1068.6,176.1 L1068.5,183.3 L1068.4,190.5 L1068.4,197.7 L1068.3,204.9 L1068.2,212.1 L1068.1,219.3 L1068.1,226.6 L1068.0,233.8 L1067.9,241.0 L1067.8,248.2 L1067.7,255.4 L1067.6,262.6 L1067.5,269.8 L1067.4,277.0 L1067.3,284.2 L1067.2,291.4 L1067.1,298.6 L1067.0,305.9 L1066.9,313.1 L1066.8,320.3 L1066.7,327.5 L1066.6,334.7 L1066.4,341.9 L1066.3,349.1 L1066.2,356.3 L1066.1,363.5 L1066.0,370.8 L1065.8,378.0 L1065.7,385.2 L1065.6,392.4 L1065.5,399.6 L1065.3,406.8 L1065.2,414.0 L1065.0,421.2 L1064.9,428.4 L1064.7,435.6 L1064.5,442.9 L1064.3,450.1 L1064.0,457.3 L1063.7,464.5 L1063.4,471.7 L1062.9,478.9 L1062.3,486.1 L1061.5,493.3 L1060.4,500.5 L1058.9,507.7 L1056.9,515.0 L1054.1,522.2 L1060.1,522.2 L1062.9,515.0 L1064.9,507.7 L1066.4,500.5 L1067.5,493.3 L1068.3,486.1 L1068.9,478.9 L1069.4,471.7 L1069.7,464.5 L1070.0,457.3 L1070.3,450.1 L1070.5,442.9 L1070.7,435.6 L1070.9,428.4 L1071.0,421.2 L1071.2,414.0 L1071.3,406.8 L1071.5,399.6 L1071.6,392.4 L1071.7,385.2 L1071.8,378.0 L1072.0,370.8 L1072.1,363.5 L1072.2,356.3 L1072.3,349.1 L1072.4,341.9 L1072.6,334.7 L1072.7,327.5 L1072.8,320.3 L1072.9,313.1 L1073.0,305.9 L1073.1,298.6 L1073.2,291.4 L1073.3,284.2 L1073.4,277.0 L1073.5,269.8 L1073.6,262.6 L1073.7,255.4 L1073.8,248.2 L1073.9,241.0 L1074.0,233.8 L1074.1,226.6 L1074.1,219.3 L1074.2,212.1 L1074.3,204.9 L1074.4,197.7 L1074.4,190.5 L1074.5,183.3 L1074.6,176.1 L1074.6,168.9 L1074.7,161.7 L1074.7,154.4 L1074.7,147.2 L1074.7,140.0 L1074.7,132.8 L1074.7,125.6 L1074.7,118.4Z" fill="rgb(192,192,192)" opacity="1" filter="url(#hb30)"/>
<path d="M1132.2,118.4 L1132.2,125.6 L1132.2,132.8 L1132.2,140.0 L1132.2,147.2 L1132.2,154.4 L1132.2,161.7 L1132.2,168.9 L1132.2,176.1 L1132.2,183.3 L1132.2,190.5 L1132.2,197.7 L1132.2,204.9 L1132.2,212.1 L1132.2,219.3 L1132.2,226.6 L1132.2,233.8 L1132.2,241.0 L1132.2,248.2 L1132.2,255.4 L1132.2,262.6 L1132.2,269.8 L1132.2,277.0 L1132.2,284.2 L1132.2,291.4 L1132.2,298.6 L1132.2,305.9 L1132.2,313.1 L1132.2,320.3 L1132.2,327.5 L1132.2,334.7 L1132.2,341.9 L1132.2,349.1 L1132.2,356.3 L1132.2,363.5 L1132.2,370.8 L1132.2,378.0 L1132.2,385.2 L1132.2,392.4 L1132.2,399.6 L1132.2,406.8 L1132.2,414.0 L1132.2,421.2 L1132.2,428.4 L1132.2,435.6 L1132.2,442.9 L1132.2,450.1 L1132.2,457.3 L1132.2,464.5 L1132.2,471.7 L1132.2,478.9 L1132.2,486.1 L1132.2,493.3 L1132.2,500.5 L1132.2,507.7 L1132.2,515.0 L1132.2,522.2 L1132.2,529.4 L1132.2,536.6 L1132.2,543.8 L1132.2,551.0 L1138.2,551.0 L1138.2,543.8 L1138.2,536.6 L1138.2,529.4 L1138.2,522.2 L1138.2,515.0 L1138.2,507.7 L1138.2,500.5 L1138.2,493.3 L1138.2,486.1 L1138.2,478.9 L1138.2,471.7 L1138.2,464.5 L1138.2,457.3 L1138.2,450.1 L1138.2,442.9 L1138.2,435.6 L1138.2,428.4 L1138.2,421.2 L1138.2,414.0 L1138.2,406.8 L1138.2,399.6 L1138.2,392.4 L1138.2,385.2 L1138.2,378.0 L1138.2,370.8 L1138.2,363.5 L1138.2,356.3 L1138.2,349.1 L1138.2,341.9 L1138.2,334.7 L1138.2,327.5 L1138.2,320.3 L1138.2,313.1 L1138.2,305.9 L1138.2,298.6 L1138.2,291.4 L1138.2,284.2 L1138.2,277.0 L1138.2,269.8 L1138.2,262.6 L1138.2,255.4 L1138.2,248.2 L1138.2,241.0 L1138.2,233.8 L1138.2,226.6 L1138.2,219.3 L1138.2,212.1 L1138.2,204.9 L1138.2,197.7 L1138.2,190.5 L1138.2,183.3 L1138.2,176.1 L1138.2,168.9 L1138.2,161.7 L1138.2,154.4 L1138.2,147.2 L1138.2,140.0 L1138.2,132.8 L1138.2,125.6 L1138.2,118.4Z" fill="rgb(181,181,181)" opacity="1" filter="url(#hb30)"/>

</g>
<path d="M1058.9,559.4V551.4H1185.5V559.4 M1113.2,551.4v8" fill="none" stroke="#000" stroke-width="1.1"/>
<g filter="url(#hm4)">
<rect x="1261.9" y="116.4" width="129.9" height="436.6" fill="rgb(161,161,161)"/>
<rect x="1333.9" y="116.4" width="59.9" height="436.6" fill="url(#hg4)"/>
<rect x="1283.9" y="116.4" width="52.0" height="436.6" fill="rgb(168,168,168)" filter="url(#hb60)"/>
<path d="M1303.9,154.4 L1303.8,161.7 L1303.7,168.9 L1303.6,176.1 L1303.5,183.3 L1303.4,190.5 L1303.3,197.7 L1303.2,204.9 L1303.1,212.1 L1302.9,219.3 L1302.8,226.6 L1302.6,233.8 L1302.5,241.0 L1302.3,248.2 L1302.2,255.4 L1302.0,262.6 L1301.9,269.8 L1301.7,277.0 L1301.5,284.2 L1301.4,291.4 L1301.2,298.6 L1301.0,305.9 L1300.8,313.1 L1300.6,320.3 L1300.5,327.5 L1300.3,334.7 L1300.1,341.9 L1299.9,349.1 L1299.7,356.3 L1299.5,363.5 L1299.3,370.8 L1299.1,378.0 L1298.9,385.2 L1298.7,392.4 L1298.5,399.6 L1298.3,406.8 L1298.0,414.0 L1297.8,421.2 L1297.6,428.4 L1297.3,435.6 L1297.0,442.9 L1296.7,450.1 L1296.4,457.3 L1296.0,464.5 L1295.5,471.7 L1294.9,478.9 L1294.2,486.1 L1293.3,493.3 L1292.0,500.5 L1290.4,507.7 L1288.2,515.0 L1285.2,522.2 L1281.0,529.4 L1275.2,536.6 L1267.1,543.8 L1263.9,551.0 L1312.9,551.0 L1312.9,154.4Z" fill="url(#hn4)" filter="url(#hb22)"/>
<path d="M1315.4,118.4 L1315.4,125.6 L1315.4,132.8 L1315.4,140.0 L1315.4,147.2 L1315.4,154.4 L1315.4,161.7 L1315.4,168.9 L1315.4,176.1 L1315.4,183.3 L1315.4,190.5 L1315.4,197.7 L1315.4,204.9 L1315.4,212.1 L1315.4,219.3 L1315.4,226.6 L1315.4,233.8 L1315.4,241.0 L1315.4,248.2 L1315.4,255.4 L1315.4,262.6 L1315.4,269.8 L1315.4,277.0 L1315.4,284.2 L1315.4,291.4 L1315.4,298.6 L1315.4,305.9 L1315.4,313.1 L1315.4,320.3 L1315.4,327.5 L1315.4,334.7 L1315.4,341.9 L1315.4,349.1 L1315.4,356.3 L1315.4,363.5 L1315.4,370.8 L1315.4,378.0 L1315.4,385.2 L1315.4,392.4 L1315.4,399.6 L1315.4,406.8 L1315.4,414.0 L1315.4,421.2 L1315.4,428.4 L1315.4,435.6 L1315.4,442.9 L1315.4,450.1 L1315.4,457.3 L1315.4,464.5 L1315.4,471.7 L1315.4,478.9 L1315.4,486.1 L1315.4,493.3 L1315.4,500.5 L1315.4,507.7 L1315.4,515.0 L1315.4,522.2 L1315.4,529.4 L1315.4,536.6 L1315.4,543.8 L1315.4,551.0 L1321.4,551.0 L1321.4,543.8 L1321.4,536.6 L1321.4,529.4 L1321.4,522.2 L1321.4,515.0 L1321.4,507.7 L1321.4,500.5 L1321.4,493.3 L1321.4,486.1 L1321.4,478.9 L1321.4,471.7 L1321.4,464.5 L1321.4,457.3 L1321.4,450.1 L1321.4,442.9 L1321.4,435.6 L1321.4,428.4 L1321.4,421.2 L1321.4,414.0 L1321.4,406.8 L1321.4,399.6 L1321.4,392.4 L1321.4,385.2 L1321.4,378.0 L1321.4,370.8 L1321.4,363.5 L1321.4,356.3 L1321.4,349.1 L1321.4,341.9 L1321.4,334.7 L1321.4,327.5 L1321.4,320.3 L1321.4,313.1 L1321.4,305.9 L1321.4,298.6 L1321.4,291.4 L1321.4,284.2 L1321.4,277.0 L1321.4,269.8 L1321.4,262.6 L1321.4,255.4 L1321.4,248.2 L1321.4,241.0 L1321.4,233.8 L1321.4,226.6 L1321.4,219.3 L1321.4,212.1 L1321.4,204.9 L1321.4,197.7 L1321.4,190.5 L1321.4,183.3 L1321.4,176.1 L1321.4,168.9 L1321.4,161.7 L1321.4,154.4 L1321.4,147.2 L1321.4,140.0 L1321.4,132.8 L1321.4,125.6 L1321.4,118.4Z" fill="rgb(255,255,255)" opacity="1" filter="url(#hb22)"/>
<path d="M1295.9,118.4 L1295.9,125.6 L1295.9,132.8 L1295.9,140.0 L1295.9,147.2 L1295.9,154.4 L1295.8,161.7 L1295.7,168.9 L1295.6,176.1 L1295.5,183.3 L1295.4,190.5 L1295.3,197.7 L1295.2,204.9 L1295.1,212.1 L1294.9,219.3 L1294.8,226.6 L1294.6,233.8 L1294.5,241.0 L1294.3,248.2 L1294.2,255.4 L1294.0,262.6 L1293.9,269.8 L1293.7,277.0 L1293.5,284.2 L1293.4,291.4 L1293.2,298.6 L1293.0,305.9 L1292.8,313.1 L1292.6,320.3 L1292.5,327.5 L1292.3,334.7 L1292.1,341.9 L1291.9,349.1 L1291.7,356.3 L1291.5,363.5 L1291.3,370.8 L1291.1,378.0 L1290.9,385.2 L1290.7,392.4 L1290.5,399.6 L1290.3,406.8 L1290.0,414.0 L1289.8,421.2 L1289.6,428.4 L1289.3,435.6 L1289.0,442.9 L1288.7,450.1 L1288.4,457.3 L1288.0,464.5 L1287.5,471.7 L1286.9,478.9 L1286.2,486.1 L1285.3,493.3 L1284.0,500.5 L1282.4,507.7 L1280.2,515.0 L1277.2,522.2 L1273.0,529.4 L1267.2,536.6 L1259.1,543.8 L1265.1,543.8 L1273.2,536.6 L1279.0,529.4 L1283.2,522.2 L1286.2,515.0 L1288.4,507.7 L1290.0,500.5 L1291.3,493.3 L1292.2,486.1 L1292.9,478.9 L1293.5,471.7 L1294.0,464.5 L1294.4,457.3 L1294.7,450.1 L1295.0,442.9 L1295.3,435.6 L1295.6,428.4 L1295.8,421.2 L1296.0,414.0 L1296.3,406.8 L1296.5,399.6 L1296.7,392.4 L1296.9,385.2 L1297.1,378.0 L1297.3,370.8 L1297.5,363.5 L1297.7,356.3 L1297.9,349.1 L1298.1,341.9 L1298.3,334.7 L1298.5,327.5 L1298.6,320.3 L1298.8,313.1 L1299.0,305.9 L1299.2,298.6 L1299.4,291.4 L1299.5,284.2 L1299.7,277.0 L1299.9,269.8 L1300.0,262.6 L1300.2,255.4 L1300.3,248.2 L1300.5,241.0 L1300.6,233.8 L1300.8,226.6 L1300.9,219.3 L1301.1,212.1 L1301.2,204.9 L1301.3,197.7 L1301.4,190.5 L1301.5,183.3 L1301.6,176.1 L1301.7,168.9 L1301.8,161.7 L1301.9,154.4 L1301.9,147.2 L1301.9,140.0 L1301.9,132.8 L1301.9,125.6 L1301.9,118.4Z" fill="rgb(228,228,228)" opacity="1" filter="url(#hb25)"/>

</g>
<g filter="url(#hm5)">
<rect x="1405.1" y="115.5" width="131.2" height="437.5" fill="rgb(150,150,150)"/>
<rect x="1477.6" y="115.5" width="60.7" height="437.5" fill="url(#hg5)"/>
<rect x="1427.6" y="115.5" width="52.0" height="437.5" fill="rgb(158,158,158)" filter="url(#hb60)"/>
<path d="M1447.6,153.6 L1447.5,160.8 L1447.4,168.1 L1447.3,175.3 L1447.2,182.5 L1447.1,189.8 L1447.0,197.0 L1446.9,204.2 L1446.7,211.4 L1446.6,218.7 L1446.5,225.9 L1446.3,233.1 L1446.2,240.3 L1446.0,247.6 L1445.9,254.8 L1445.7,262.0 L1445.5,269.2 L1445.4,276.4 L1445.2,283.7 L1445.0,290.9 L1444.9,298.1 L1444.7,305.4 L1444.5,312.6 L1444.3,319.8 L1444.2,327.0 L1444.0,334.2 L1443.8,341.5 L1443.6,348.7 L1443.4,355.9 L1443.2,363.1 L1443.0,370.4 L1442.8,377.6 L1442.6,384.8 L1442.4,392.1 L1442.2,399.3 L1442.0,406.5 L1441.8,413.7 L1441.5,420.9 L1441.3,428.2 L1441.0,435.4 L1440.7,442.6 L1440.4,449.9 L1440.1,457.1 L1439.7,464.3 L1439.2,471.5 L1438.6,478.8 L1437.9,486.0 L1436.9,493.2 L1435.6,500.4 L1433.9,507.6 L1431.6,514.9 L1428.4,522.1 L1424.1,529.3 L1418.0,536.5 L1409.5,543.8 L1407.1,551.0 L1456.6,551.0 L1456.6,153.6Z" fill="url(#hn5)" filter="url(#hb22)"/>
<path d="M1458.9,124.7 L1458.9,131.9 L1458.9,139.2 L1458.9,146.4 L1458.9,153.6 L1458.9,160.8 L1458.9,168.1 L1458.9,175.3 L1458.9,182.5 L1458.9,189.8 L1458.9,197.0 L1458.9,204.2 L1458.9,211.4 L1458.9,218.7 L1458.9,225.9 L1458.9,233.1 L1458.9,240.3 L1458.9,247.6 L1458.9,254.8 L1458.9,262.0 L1458.9,269.2 L1458.9,276.4 L1458.9,283.7 L1458.9,290.9 L1458.9,298.1 L1458.9,305.4 L1458.9,312.6 L1458.9,319.8 L1458.9,327.0 L1458.9,334.2 L1458.9,341.5 L1458.9,348.7 L1458.9,355.9 L1458.9,363.1 L1458.9,370.4 L1458.9,377.6 L1458.9,384.8 L1458.9,392.1 L1458.9,399.3 L1458.9,406.5 L1458.9,413.7 L1458.9,420.9 L1458.9,428.2 L1458.9,435.4 L1458.9,442.6 L1458.9,449.9 L1458.9,457.1 L1458.9,464.3 L1458.9,471.5 L1458.9,478.8 L1458.9,486.0 L1458.9,493.2 L1458.9,500.4 L1458.9,507.6 L1458.9,514.9 L1458.9,522.1 L1458.9,529.3 L1458.9,536.5 L1458.9,543.8 L1458.9,551.0 L1465.4,551.0 L1465.4,543.8 L1465.4,536.5 L1465.4,529.3 L1465.4,522.1 L1465.4,514.9 L1465.4,507.6 L1465.4,500.4 L1465.4,493.2 L1465.4,486.0 L1465.4,478.8 L1465.4,471.5 L1465.4,464.3 L1465.4,457.1 L1465.4,449.9 L1465.4,442.6 L1465.4,435.4 L1465.4,428.2 L1465.4,420.9 L1465.4,413.7 L1465.4,406.5 L1465.4,399.3 L1465.4,392.1 L1465.4,384.8 L1465.4,377.6 L1465.4,370.4 L1465.4,363.1 L1465.4,355.9 L1465.4,348.7 L1465.4,341.5 L1465.4,334.2 L1465.4,327.0 L1465.4,319.8 L1465.4,312.6 L1465.4,305.4 L1465.4,298.1 L1465.4,290.9 L1465.4,283.7 L1465.4,276.4 L1465.4,269.2 L1465.4,262.0 L1465.4,254.8 L1465.4,247.6 L1465.4,240.3 L1465.4,233.1 L1465.4,225.9 L1465.4,218.7 L1465.4,211.4 L1465.4,204.2 L1465.4,197.0 L1465.4,189.8 L1465.4,182.5 L1465.4,175.3 L1465.4,168.1 L1465.4,160.8 L1465.4,153.6 L1465.4,146.4 L1465.4,139.2 L1465.4,131.9 L1465.4,124.7Z" fill="rgb(255,255,255)" opacity="1" filter="url(#hb22)"/>
<path d="M1439.6,117.5 L1439.6,124.7 L1439.6,131.9 L1439.6,139.2 L1439.6,146.4 L1439.6,153.6 L1439.5,160.8 L1439.4,168.1 L1439.3,175.3 L1439.2,182.5 L1439.1,189.8 L1439.0,197.0 L1438.9,204.2 L1438.7,211.4 L1438.6,218.7 L1438.5,225.9 L1438.3,233.1 L1438.2,240.3 L1438.0,247.6 L1437.9,254.8 L1437.7,262.0 L1437.5,269.2 L1437.4,276.4 L1437.2,283.7 L1437.0,290.9 L1436.9,298.1 L1436.7,305.4 L1436.5,312.6 L1436.3,319.8 L1436.2,327.0 L1436.0,334.2 L1435.8,341.5 L1435.6,348.7 L1435.4,355.9 L1435.2,363.1 L1435.0,370.4 L1434.8,377.6 L1434.6,384.8 L1434.4,392.1 L1434.2,399.3 L1434.0,406.5 L1433.8,413.7 L1433.5,420.9 L1433.3,428.2 L1433.0,435.4 L1432.7,442.6 L1432.4,449.9 L1432.1,457.1 L1431.7,464.3 L1431.2,471.5 L1430.6,478.8 L1429.9,486.0 L1428.9,493.2 L1427.6,500.4 L1425.9,507.6 L1423.6,514.9 L1420.4,522.1 L1416.1,529.3 L1410.0,536.5 L1401.5,543.8 L1407.5,543.8 L1416.0,536.5 L1422.1,529.3 L1426.4,522.1 L1429.6,514.9 L1431.9,507.6 L1433.6,500.4 L1434.9,493.2 L1435.9,486.0 L1436.6,478.8 L1437.2,471.5 L1437.7,464.3 L1438.1,457.1 L1438.4,449.9 L1438.7,442.6 L1439.0,435.4 L1439.3,428.2 L1439.5,420.9 L1439.8,413.7 L1440.0,406.5 L1440.2,399.3 L1440.4,392.1 L1440.6,384.8 L1440.8,377.6 L1441.0,370.4 L1441.2,363.1 L1441.4,355.9 L1441.6,348.7 L1441.8,341.5 L1442.0,334.2 L1442.2,327.0 L1442.3,319.8 L1442.5,312.6 L1442.7,305.4 L1442.9,298.1 L1443.0,290.9 L1443.2,283.7 L1443.4,276.4 L1443.5,269.2 L1443.7,262.0 L1443.9,254.8 L1444.0,247.6 L1444.2,240.3 L1444.3,233.1 L1444.5,225.9 L1444.6,218.7 L1444.7,211.4 L1444.9,204.2 L1445.0,197.0 L1445.1,189.8 L1445.2,182.5 L1445.3,175.3 L1445.4,168.1 L1445.5,160.8 L1445.6,153.6 L1445.6,146.4 L1445.6,139.2 L1445.6,131.9 L1445.6,124.7 L1445.6,117.5Z" fill="rgb(218,218,218)" opacity="1" filter="url(#hb25)"/>
<path d="M1475.6,117.5 L1475.6,124.7 L1475.6,131.9 L1475.6,139.2 L1475.6,146.4 L1475.6,153.6 L1475.6,160.8 L1475.6,168.1 L1475.6,175.3 L1475.6,182.5 L1475.6,189.8 L1475.6,197.0 L1475.6,204.2 L1475.6,211.4 L1475.6,218.7 L1475.6,225.9 L1475.6,233.1 L1475.6,240.3 L1475.6,247.6 L1475.6,254.8 L1475.6,262.0 L1475.6,269.2 L1475.6,276.4 L1475.6,283.7 L1475.6,290.9 L1475.6,298.1 L1475.6,305.4 L1475.6,312.6 L1475.6,319.8 L1475.6,327.0 L1475.6,334.2 L1475.6,341.5 L1475.6,348.7 L1475.6,355.9 L1475.6,363.1 L1475.6,370.4 L1475.6,377.6 L1475.6,384.8 L1475.6,392.1 L1475.6,399.3 L1475.6,406.5 L1475.6,413.7 L1475.6,420.9 L1475.6,428.2 L1475.6,435.4 L1475.6,442.6 L1475.6,449.9 L1475.6,457.1 L1475.6,464.3 L1475.6,471.5 L1475.6,478.8 L1475.6,486.0 L1475.6,493.2 L1475.6,500.4 L1475.6,507.6 L1475.6,514.9 L1475.6,522.1 L1475.6,529.3 L1475.6,536.5 L1475.6,543.8 L1475.6,551.0 L1481.6,551.0 L1481.6,543.8 L1481.6,536.5 L1481.6,529.3 L1481.6,522.1 L1481.6,514.9 L1481.6,507.6 L1481.6,500.4 L1481.6,493.2 L1481.6,486.0 L1481.6,478.8 L1481.6,471.5 L1481.6,464.3 L1481.6,457.1 L1481.6,449.9 L1481.6,442.6 L1481.6,435.4 L1481.6,428.2 L1481.6,420.9 L1481.6,413.7 L1481.6,406.5 L1481.6,399.3 L1481.6,392.1 L1481.6,384.8 L1481.6,377.6 L1481.6,370.4 L1481.6,363.1 L1481.6,355.9 L1481.6,348.7 L1481.6,341.5 L1481.6,334.2 L1481.6,327.0 L1481.6,319.8 L1481.6,312.6 L1481.6,305.4 L1481.6,298.1 L1481.6,290.9 L1481.6,283.7 L1481.6,276.4 L1481.6,269.2 L1481.6,262.0 L1481.6,254.8 L1481.6,247.6 L1481.6,240.3 L1481.6,233.1 L1481.6,225.9 L1481.6,218.7 L1481.6,211.4 L1481.6,204.2 L1481.6,197.0 L1481.6,189.8 L1481.6,182.5 L1481.6,175.3 L1481.6,168.1 L1481.6,160.8 L1481.6,153.6 L1481.6,146.4 L1481.6,139.2 L1481.6,131.9 L1481.6,124.7 L1481.6,117.5Z" fill="rgb(197,197,197)" opacity="1" filter="url(#hb30)"/>

</g>
<path d="M1407.1,559.4V551.4H1534.3V559.4 M1461.6,551.4v8" fill="none" stroke="#000" stroke-width="1.1"/>
<g filter="url(#hm6)">
<rect x="1550.1" y="116.4" width="130.9" height="436.6" fill="rgb(145,145,145)"/>
<rect x="1622.5" y="116.4" width="60.5" height="436.6" fill="url(#hg6)"/>
<rect x="1572.5" y="116.4" width="52.0" height="436.6" fill="rgb(153,153,153)" filter="url(#hb60)"/>
<path d="M1591.5,154.4 L1591.4,161.7 L1591.3,168.9 L1591.2,176.1 L1591.1,183.3 L1590.9,190.5 L1590.8,197.7 L1590.7,204.9 L1590.5,212.1 L1590.4,219.3 L1590.2,226.6 L1590.0,233.8 L1589.9,241.0 L1589.7,248.2 L1589.5,255.4 L1589.4,262.6 L1589.2,269.8 L1589.0,277.0 L1588.8,284.2 L1588.6,291.4 L1588.5,298.6 L1588.3,305.9 L1588.1,313.1 L1587.9,320.3 L1587.7,327.5 L1587.5,334.7 L1587.3,341.9 L1587.1,349.1 L1586.8,356.3 L1586.6,363.5 L1586.4,370.8 L1586.2,378.0 L1586.0,385.2 L1585.7,392.4 L1585.5,399.6 L1585.3,406.8 L1585.0,414.0 L1584.8,421.2 L1584.5,428.4 L1584.3,435.6 L1584.0,442.9 L1583.6,450.1 L1583.3,457.3 L1582.8,464.5 L1582.4,471.7 L1581.8,478.9 L1581.0,486.1 L1580.1,493.3 L1578.8,500.5 L1577.2,507.7 L1574.9,515.0 L1571.9,522.2 L1567.7,529.4 L1561.9,536.6 L1553.8,543.8 L1552.1,551.0 L1601.5,551.0 L1601.5,154.4Z" fill="url(#hn6)" filter="url(#hb22)"/>
<path d="M1604.5,118.4 L1604.5,125.6 L1604.5,132.8 L1604.5,140.0 L1604.5,147.2 L1604.5,154.4 L1604.5,161.7 L1604.5,168.9 L1604.5,176.1 L1604.5,183.3 L1604.5,190.5 L1604.5,197.7 L1604.5,204.9 L1604.5,212.1 L1604.5,219.3 L1604.5,226.6 L1604.5,233.8 L1604.5,241.0 L1604.5,248.2 L1604.5,255.4 L1604.5,262.6 L1604.5,269.8 L1604.5,277.0 L1604.5,284.2 L1604.5,291.4 L1604.5,298.6 L1604.5,305.9 L1604.5,313.1 L1604.5,320.3 L1604.5,327.5 L1604.5,334.7 L1604.5,341.9 L1604.5,349.1 L1604.5,356.3 L1604.5,363.5 L1604.5,370.8 L1604.5,378.0 L1604.5,385.2 L1604.5,392.4 L1604.5,399.6 L1604.5,406.8 L1604.5,414.0 L1604.5,421.2 L1604.5,428.4 L1604.5,435.6 L1604.5,442.9 L1604.5,450.1 L1604.5,457.3 L1604.5,464.5 L1604.5,471.7 L1604.5,478.9 L1604.5,486.1 L1604.5,493.3 L1604.5,500.5 L1604.5,507.7 L1604.5,515.0 L1604.5,522.2 L1604.5,529.4 L1604.5,536.6 L1604.5,543.8 L1604.5,551.0 L1610.5,551.0 L1610.5,543.8 L1610.5,536.6 L1610.5,529.4 L1610.5,522.2 L1610.5,515.0 L1610.5,507.7 L1610.5,500.5 L1610.5,493.3 L1610.5,486.1 L1610.5,478.9 L1610.5,471.7 L1610.5,464.5 L1610.5,457.3 L1610.5,450.1 L1610.5,442.9 L1610.5,435.6 L1610.5,428.4 L1610.5,421.2 L1610.5,414.0 L1610.5,406.8 L1610.5,399.6 L1610.5,392.4 L1610.5,385.2 L1610.5,378.0 L1610.5,370.8 L1610.5,363.5 L1610.5,356.3 L1610.5,349.1 L1610.5,341.9 L1610.5,334.7 L1610.5,327.5 L1610.5,320.3 L1610.5,313.1 L1610.5,305.9 L1610.5,298.6 L1610.5,291.4 L1610.5,284.2 L1610.5,277.0 L1610.5,269.8 L1610.5,262.6 L1610.5,255.4 L1610.5,248.2 L1610.5,241.0 L1610.5,233.8 L1610.5,226.6 L1610.5,219.3 L1610.5,212.1 L1610.5,204.9 L1610.5,197.7 L1610.5,190.5 L1610.5,183.3 L1610.5,176.1 L1610.5,168.9 L1610.5,161.7 L1610.5,154.4 L1610.5,147.2 L1610.5,140.0 L1610.5,132.8 L1610.5,125.6 L1610.5,118.4Z" fill="rgb(233,233,233)" opacity="1" filter="url(#hb22)"/>
<path d="M1583.5,118.4 L1583.5,125.6 L1583.5,132.8 L1583.5,140.0 L1583.5,147.2 L1583.5,154.4 L1583.4,161.7 L1583.3,168.9 L1583.2,176.1 L1583.1,183.3 L1582.9,190.5 L1582.8,197.7 L1582.7,204.9 L1582.5,212.1 L1582.4,219.3 L1582.2,226.6 L1582.0,233.8 L1581.9,241.0 L1581.7,248.2 L1581.5,255.4 L1581.4,262.6 L1581.2,269.8 L1581.0,277.0 L1580.8,284.2 L1580.6,291.4 L1580.5,298.6 L1580.3,305.9 L1580.1,313.1 L1579.9,320.3 L1579.7,327.5 L1579.5,334.7 L1579.3,341.9 L1579.1,349.1 L1578.8,356.3 L1578.6,363.5 L1578.4,370.8 L1578.2,378.0 L1578.0,385.2 L1577.7,392.4 L1577.5,399.6 L1577.3,406.8 L1577.0,414.0 L1576.8,421.2 L1576.5,428.4 L1576.3,435.6 L1576.0,442.9 L1575.6,450.1 L1575.3,457.3 L1574.8,464.5 L1574.4,471.7 L1573.8,478.9 L1573.0,486.1 L1572.1,493.3 L1570.8,500.5 L1569.2,507.7 L1566.9,515.0 L1563.9,522.2 L1559.7,529.4 L1553.9,536.6 L1559.9,536.6 L1565.7,529.4 L1569.9,522.2 L1572.9,515.0 L1575.2,507.7 L1576.8,500.5 L1578.1,493.3 L1579.0,486.1 L1579.8,478.9 L1580.4,471.7 L1580.8,464.5 L1581.3,457.3 L1581.6,450.1 L1582.0,442.9 L1582.3,435.6 L1582.5,428.4 L1582.8,421.2 L1583.0,414.0 L1583.3,406.8 L1583.5,399.6 L1583.7,392.4 L1584.0,385.2 L1584.2,378.0 L1584.4,370.8 L1584.6,363.5 L1584.8,356.3 L1585.1,349.1 L1585.3,341.9 L1585.5,334.7 L1585.7,327.5 L1585.9,320.3 L1586.1,313.1 L1586.3,305.9 L1586.5,298.6 L1586.6,291.4 L1586.8,284.2 L1587.0,277.0 L1587.2,269.8 L1587.4,262.6 L1587.5,255.4 L1587.7,248.2 L1587.9,241.0 L1588.0,233.8 L1588.2,226.6 L1588.4,219.3 L1588.5,212.1 L1588.7,204.9 L1588.8,197.7 L1588.9,190.5 L1589.1,183.3 L1589.2,176.1 L1589.3,168.9 L1589.4,161.7 L1589.5,154.4 L1589.5,147.2 L1589.5,140.0 L1589.5,132.8 L1589.5,125.6 L1589.5,118.4Z" fill="rgb(192,192,192)" opacity="1" filter="url(#hb25)"/>

</g>
<path d="M1552.1,559.4V551.4H1679.0V559.4 M1606.5,551.4v8" fill="none" stroke="#000" stroke-width="1.1"/>
<text x="783.5" y="572.6" text-anchor="end" style="font-size:22px" fill="#231815" stroke="#231815" transform="rotate(-45 783.5 572.6)">-600</text>
<text x="837.5" y="572.6" text-anchor="end" style="font-size:22px" fill="#231815" stroke="#231815" transform="rotate(-45 837.5 572.6)">0</text>
<text x="909.4" y="572.6" text-anchor="end" style="font-size:22px" fill="#231815" stroke="#231815" transform="rotate(-45 909.4 572.6)">800</text>
<path d="M895.7,600.8L915.4,582 M905.4,593L927,604.5" stroke="#231815" stroke-width="1.7" fill="none"/>
<text x="931.7" y="611.9" text-anchor="start" style="font-size:22.1px" fill="#000" stroke="#000">distance to in vivo +1 nucleosome / bp</text>
<rect x="1193.6" y="486.4" width="5" height="64.2" fill="url(#cbar)"/>
<path d="M1198.6,487H1202.6 M1198.6,518.5H1202.6 M1198.6,550H1202.6" stroke="#000" stroke-width="1"/>
<text x="1209.5" y="494.6" text-anchor="start" style="font-size:22px" fill="#000" stroke="#000">0.4</text>
<text x="1209.5" y="525.6" text-anchor="start" style="font-size:22px" fill="#000" stroke="#000">0.8</text>
<text x="1209.5" y="555.8" text-anchor="start" style="font-size:22px" fill="#000" stroke="#000">1.2</text>
<text x="1207.3" y="473.0" text-anchor="start" style="font-size:18.4px" fill="#000" stroke="#000" transform="rotate(-90 1207.3 473.0)">normalized dyad density</text>
<rect x="1684.6" y="486.4" width="5" height="64.2" fill="url(#cbar)"/>
<path d="M1689.6,487H1693.6 M1689.6,518.5H1693.6 M1689.6,550H1693.6" stroke="#000" stroke-width="1"/>
<text x="1700.5" y="494.6" text-anchor="start" style="font-size:22px" fill="#000" stroke="#000">0.4</text>
<text x="1700.5" y="525.6" text-anchor="start" style="font-size:22px" fill="#000" stroke="#000">0.8</text>
<text x="1700.5" y="555.8" text-anchor="start" style="font-size:22px" fill="#000" stroke="#000">1.2</text>
<text x="1698.3" y="473.0" text-anchor="start" style="font-size:18.4px" fill="#000" stroke="#000" transform="rotate(-90 1698.3 473.0)">normalized dyad density</text>
</g>
<g id="panel_c">
<text x="0.5" y="662.7" text-anchor="start" style="font-size:40px" fill="#000" stroke="#000" font-weight="bold">c</text>
<text x="160.6" y="687.7" text-anchor="middle" style="font-size:22px" fill="#000" stroke="#000">HMGII</text>
<text x="357.2" y="687.7" text-anchor="middle" style="font-size:22px" fill="#000" stroke="#000">ΔNhp10</text>
<text x="505.3" y="659.1" text-anchor="start" style="font-size:22px" fill="#000" stroke="#000">Ino80<tspan style="font-size:13px" dy="-7">ΔN</tspan><tspan dy="7">/</tspan></text>
<text x="474.6" y="685.4" text-anchor="start" style="font-size:22px" fill="#000" stroke="#000"><tspan font-style="italic">C.t.</tspan> equivalent</text>
<path d="M86.5,699 L621,699 L621,702.3 L276.3,840.8 L133.3,840.8 Z" fill="#e6e6e6"/>
<ellipse cx="199.4" cy="752.0" rx="23.2" ry="24.6" fill="#00b956" stroke="#d2d2d2" stroke-width="2.6" />
<rect x="88" y="768.3" width="150.5" height="37.2" fill="#ff0018"/>
<rect x="284.5" y="768.3" width="149" height="37.2" fill="#ff0018"/>
<ellipse cx="149.7" cy="736.8" rx="30.0" ry="22.6" fill="#0d9b4f" stroke="#d2d2d2" stroke-width="2.6" />
<ellipse cx="123.9" cy="758.0" rx="20.2" ry="16.9" fill="#00773f" stroke="#d2d2d2" stroke-width="2.6" />
<ellipse cx="163.4" cy="773.6" rx="28.6" ry="20.5" fill="#7fce45" stroke="#d2d2d2" stroke-width="2.6" />
<rect x="143.6" y="776.8" width="38.6" height="16" fill="#fcd5a0"/>
<path d="M132.4,776v5.6" stroke="#000" stroke-width="1.2"/>
<text x="151.4" y="742.2" text-anchor="middle" style="font-size:18.4px" fill="#000" stroke="#000">Ies3</text>
<text x="198.3" y="757.2" text-anchor="middle" style="font-size:18.4px" fill="#000" stroke="#000">Ies1</text>
<text x="121.8" y="761.6" text-anchor="middle" style="font-size:18.4px" fill="#000" stroke="#000">Ies5</text>
<text x="162.3" y="772.2" text-anchor="middle" style="font-size:18.4px" fill="#000" stroke="#000">Nhp10</text>
<text x="162.9" y="790.9" text-anchor="middle" style="font-size:12.9px" fill="#000" stroke="#000">HMGII</text>
<rect x="87.9" y="699.2" width="150.6" height="101.6" fill="none" stroke="#a9a9a9" stroke-width="3.2"/>
<rect x="284.3" y="699.2" width="150.6" height="101.6" fill="none" stroke="#a9a9a9" stroke-width="3.2"/>
<rect x="471.7" y="699.2" width="150.6" height="101.6" fill="none" stroke="#a9a9a9" stroke-width="3.2"/>
<text x="69.8" y="791.9" text-anchor="start" style="font-size:19.5px" fill="#000" stroke="#000">N-</text>
<path d="M237.8,802.3V811.8" stroke="#000" stroke-width="2.4"/>
<text x="238.1" y="828.4" text-anchor="middle" style="font-size:16.9px" fill="#000" stroke="#000">461</text>
<text x="265.6" y="791.9" text-anchor="start" style="font-size:19.5px" fill="#000" stroke="#000">N-</text>
<path d="M434,802.3V811.8" stroke="#000" stroke-width="2.4"/>
<text x="434.3" y="828.4" text-anchor="middle" style="font-size:16.9px" fill="#000" stroke="#000">461</text>
<text x="449.8" y="782.1" text-anchor="start" style="font-size:19.5px" fill="#000" stroke="#000">N-</text>
<path d="M620.7,802.3V811.8" stroke="#000" stroke-width="2.4"/>
<text x="621.0" y="828.4" text-anchor="middle" style="font-size:16.9px" fill="#000" stroke="#000">461</text>
<path d="M473.3,779.2H491 L493.5,783.7L498.3,774.2L503.0,783.7L507.8,774.2L512.6,783.7L517.4,774.2L522.1,783.7L526.9,774.2L531.7,783.7L536.5,774.2L541.2,783.7L546.0,774.2L550.8,783.7L555.5,774.2L560.3,783.7L565.1,774.2L569.9,783.7L574.6,774.2L579.4,783.7L584.2,774.2L589.0,783.7L593.7,774.2L598.5,779.2H619.3" fill="none" stroke="#222" stroke-width="1.9" stroke-linejoin="miter"/>
<path d="M133.3,848.6V841.7H276.2V848.6" fill="none" stroke="#333" stroke-width="1.3"/>
<text x="95.4" y="886.3" text-anchor="middle" style="font-size:22px" fill="#000" stroke="#000">Nhp10</text>
<text x="95.0" y="911.3" text-anchor="middle" style="font-size:22px" fill="#000" stroke="#000">module</text>
<text x="327.1" y="835.1" text-anchor="middle" style="font-size:22px" fill="#000" stroke="#000">Arp8</text>
<text x="327.0" y="861.3" text-anchor="middle" style="font-size:22px" fill="#000" stroke="#000">module</text>
<ellipse cx="407.5" cy="903" rx="9.5" ry="34" fill="#b0b0b0" stroke="#c9c9c9" stroke-width="2"/>
<circle cx="472.8" cy="849.6" r="23.4" fill="#ebebeb" stroke="#c6c6c6" stroke-width="2.6"/>
<circle cx="432.3" cy="867.5" r="22" fill="#ebebeb" stroke="#c6c6c6" stroke-width="2.6"/>
<circle cx="515" cy="867.5" r="22" fill="#ebebeb" stroke="#c6c6c6" stroke-width="2.6"/>
<circle cx="432.3" cy="910.3" r="22" fill="#ebebeb" stroke="#c6c6c6" stroke-width="2.6"/>
<circle cx="515" cy="910.3" r="22" fill="#ebebeb" stroke="#c6c6c6" stroke-width="2.6"/>
<circle cx="473.7" cy="926.8" r="23.4" fill="#ebebeb" stroke="#c6c6c6" stroke-width="2.6"/>
<circle cx="474" cy="889" r="20" fill="#ebebeb"/>
<ellipse cx="553.6" cy="895.1" rx="23.4" ry="19.3" fill="#b5b5b5" stroke="#d4d4d4" stroke-width="2.6" />
<ellipse cx="553.6" cy="923.5" rx="24.3" ry="15.2" fill="#ababab" stroke="#d0d0d0" stroke-width="2.6" />
<ellipse cx="355.1" cy="885.5" rx="19.3" ry="13.8" fill="#b9b9b9" stroke="#d0d0d0" stroke-width="2.2" />
<ellipse cx="316.5" cy="882.7" rx="27.6" ry="9.8" fill="#cacaca" stroke="#d8d8d8" stroke-width="2.2" />
<path d="M327,898.4 c-7,0 -10,6 -9,12 c1,6 4,10 4,16 c0,5 -2,8 -3,11 h16 c-1,-3 -3,-6 -3,-11 c0,-6 3,-10 4,-16 c1,-6 -2,-12 -9,-12z" fill="#ffec00"/>
<ellipse cx="228.1" cy="918.3" rx="23.2" ry="24.6" fill="#00b956" stroke="#d2d2d2" stroke-width="2.6" />
<rect x="128.5" y="937" width="462.3" height="36.7" fill="#ff0018"/>
<ellipse cx="178.4" cy="903.1" rx="30.0" ry="22.6" fill="#0d9b4f" stroke="#d2d2d2" stroke-width="2.6" />
<ellipse cx="152.6" cy="924.3" rx="20.2" ry="16.9" fill="#00773f" stroke="#d2d2d2" stroke-width="2.6" />
<ellipse cx="192.1" cy="939.9" rx="28.6" ry="20.5" fill="#7fce45" stroke="#d2d2d2" stroke-width="2.6" />
<text x="180.1" y="908.5" text-anchor="middle" style="font-size:18.4px" fill="#000" stroke="#000">Ies3</text>
<text x="227.0" y="923.5" text-anchor="middle" style="font-size:18.4px" fill="#000" stroke="#000">Ies1</text>
<text x="152.0" y="930.9" text-anchor="middle" style="font-size:18.4px" fill="#000" stroke="#000">Ies5</text>
<text x="192.0" y="945.5" text-anchor="middle" style="font-size:18.4px" fill="#000" stroke="#000">Nhp10</text>
<circle cx="299.4" cy="931" r="20" fill="#2a3f9d" stroke="#d0d0d0" stroke-width="2.6"/>
<circle cx="354.6" cy="927.4" r="22" fill="#0b86c8" stroke="#d0d0d0" stroke-width="2.6"/>
<path d="M438.6,888.2 L458.1,863.7 H493.1 L512.6,888.2 L493.1,912.7 H458.1Z" fill="none" stroke="#ff0018" stroke-width="14.5" stroke-linejoin="miter"/>
<rect x="468.2" y="912.2" width="13.8" height="26" fill="#ff0018"/>
<rect x="278.7" y="949.7" width="48.3" height="18.5" fill="none" stroke="#000" stroke-width="1.3"/>
<rect x="330.3" y="949.7" width="48.8" height="18.5" fill="none" stroke="#000" stroke-width="1.3"/>
<rect x="394.5" y="941.4" width="70.1" height="25.4" fill="none" stroke="#8b3d0c" stroke-width="1.5"/>
<rect x="481.4" y="941.4" width="70" height="25.4" fill="none" stroke="#8b3d0c" stroke-width="1.5"/>
<rect x="277.9" y="896.5" width="104.2" height="73.1" fill="none" stroke="#5a5a5a" stroke-width="1.3" stroke-dasharray="5.5 3"/>
<text x="302.7" y="964.9" text-anchor="middle" style="font-size:18.4px" fill="#fff" stroke="#fff">HSA1</text>
<text x="354.6" y="964.9" text-anchor="middle" style="font-size:18.4px" fill="#fff" stroke="#fff">HSA2</text>
<text x="429.6" y="961.9" text-anchor="middle" style="font-size:18.4px" fill="#fff" stroke="#fff">RecA1</text>
<text x="515.9" y="961.9" text-anchor="middle" style="font-size:18.4px" fill="#fff" stroke="#fff">RecA2</text>
<text x="299.4" y="938.1" text-anchor="middle" style="font-size:18.4px" fill="#fff" stroke="#fff">Arp4</text>
<text x="354.6" y="934.6" text-anchor="middle" style="font-size:18.4px" fill="#fff" stroke="#fff">Arp8</text>
<text x="324.8" y="914.2" text-anchor="middle" style="font-size:18.4px" fill="#000" stroke="#000">Actin</text>
<text x="317.9" y="887.4" text-anchor="middle" style="font-size:18.4px" fill="#000" stroke="#000">Taf14</text>
<text x="363.6" y="891.0" text-anchor="middle" style="font-size:18.4px" fill="#000" stroke="#000">Ies4</text>
<text x="404.3" y="866.8" text-anchor="middle" style="font-size:18.4px" fill="#000" stroke="#000">Ies2</text>
<text x="473.4" y="848.8" text-anchor="middle" style="font-size:18.4px" fill="#000" stroke="#000">Rvb1/2</text>
<text x="550.2" y="901.2" text-anchor="middle" style="font-size:18.4px" fill="#000" stroke="#000">Arp5</text>
<text x="553.0" y="930.7" text-anchor="middle" style="font-size:18.4px" fill="#000" stroke="#000">Ies6</text>
<text x="622.5" y="868.7" text-anchor="middle" style="font-size:22px" fill="#000" stroke="#000">INO80 core</text>
<text x="622.5" y="894.3" text-anchor="middle" style="font-size:22px" fill="#000" stroke="#000">module</text>
<text x="108.8" y="962.9" text-anchor="start" style="font-size:19.5px" fill="#000" stroke="#000">N-</text>
<text x="590.8" y="962.4" text-anchor="start" style="font-size:19.5px" fill="#000" stroke="#000">-C</text>
<path d="M277.9,981.5V985.3H383.2V981.5" fill="none" stroke="#333" stroke-width="1.3"/>
<path d="M278.6,1000.3 H389.8 L556,1122.4 H129 Z" fill="#e9e9e9"/>
<path d="M194.0,1028.1 c-9.5,0 -16,6.5 -16,15 c0,7 4.5,11.5 7.5,16.5 c3,5 3.5,12 1.5,19 c-1.5,5.5 -4.5,10 -5,15.5 h24 c-0.5,-5.5 -3.5,-10 -5,-15.5 c-2,-7 -1.500,-14 1.5,-19 c3,-5 7.5,-9.500 7.5,-16.5 c0,-8.500 -6.5,-15 -16,-15z" fill="#ffec00" stroke="#d8d8d8" stroke-width="1.5"/>
<circle cx="155.8" cy="1070.9" r="24.4" fill="#2a3f9d" stroke="#d0d0d0" stroke-width="2.8"/>
<circle cx="228.4" cy="1066.2" r="28.2" fill="#0b86c8" stroke="#d0d0d0" stroke-width="2.8"/>
<rect x="130.7" y="1095.0" width="60.8" height="22.8" fill="#ff0018" stroke="#000" stroke-width="1.5"/>
<rect x="196.2" y="1095.0" width="61.1" height="22.8" fill="#ff0018" stroke="#000" stroke-width="1.5"/>
<rect x="129.1" y="1027.6" width="132.9" height="92.7" fill="none" stroke="#5f5f5f" stroke-width="1.5" stroke-dasharray="6 3"/>
<text x="191.5" y="1050.6" text-anchor="middle" style="font-size:18.4px" fill="#000" stroke="#000">Actin</text>
<text x="153.6" y="1074.5" text-anchor="middle" style="font-size:18.4px" fill="#fff" stroke="#fff">Arp4</text>
<text x="229.4" y="1072.9" text-anchor="middle" style="font-size:18.4px" fill="#fff" stroke="#fff">Arp8</text>
<text x="161.1" y="1114.2" text-anchor="middle" style="font-size:18.4px" fill="#fff" stroke="#fff">HQ1</text>
<text x="226.8" y="1114.2" text-anchor="middle" style="font-size:18.4px" fill="#fff" stroke="#fff">HSA2</text>
<path d="M339.70000000000005,1028.1 c-9.5,0 -16,6.5 -16,15 c0,7 4.5,11.5 7.5,16.5 c3,5 3.5,12 1.5,19 c-1.5,5.5 -4.5,10 -5,15.5 h24 c-0.5,-5.5 -3.5,-10 -5,-15.5 c-2,-7 -1.500,-14 1.5,-19 c3,-5 7.5,-9.500 7.5,-16.5 c0,-8.500 -6.5,-15 -16,-15z" fill="#ffec00" stroke="#d8d8d8" stroke-width="1.5"/>
<circle cx="301.5" cy="1070.9" r="24.4" fill="#2a3f9d" stroke="#d0d0d0" stroke-width="2.8"/>
<circle cx="374.1" cy="1066.2" r="28.2" fill="#0b86c8" stroke="#d0d0d0" stroke-width="2.8"/>
<rect x="276.4" y="1095.0" width="60.8" height="22.8" fill="#ff0018" stroke="#000" stroke-width="1.5"/>
<rect x="341.9" y="1095.0" width="61.1" height="22.8" fill="#ff0018" stroke="#000" stroke-width="1.5"/>
<rect x="274.8" y="1027.6" width="132.9" height="92.7" fill="none" stroke="#5f5f5f" stroke-width="1.5" stroke-dasharray="6 3"/>
<text x="337.2" y="1050.6" text-anchor="middle" style="font-size:18.4px" fill="#000" stroke="#000">Actin</text>
<text x="299.3" y="1074.5" text-anchor="middle" style="font-size:18.4px" fill="#fff" stroke="#fff">Arp4</text>
<text x="375.1" y="1072.9" text-anchor="middle" style="font-size:18.4px" fill="#fff" stroke="#fff">Arp8</text>
<text x="306.8" y="1114.2" text-anchor="middle" style="font-size:18.4px" fill="#fff" stroke="#fff">HSA1</text>
<text x="372.5" y="1114.2" text-anchor="middle" style="font-size:18.4px" fill="#fff" stroke="#fff">HQ2</text>
<path d="M488.5,1028.1 c-9.5,0 -16,6.5 -16,15 c0,7 4.5,11.5 7.5,16.5 c3,5 3.5,12 1.5,19 c-1.5,5.5 -4.5,10 -5,15.5 h24 c-0.5,-5.5 -3.5,-10 -5,-15.5 c-2,-7 -1.500,-14 1.5,-19 c3,-5 7.5,-9.500 7.5,-16.5 c0,-8.500 -6.5,-15 -16,-15z" fill="#ffec00" stroke="#d8d8d8" stroke-width="1.5"/>
<circle cx="450.3" cy="1070.9" r="24.4" fill="#2a3f9d" stroke="#d0d0d0" stroke-width="2.8"/>
<circle cx="522.9" cy="1066.2" r="28.2" fill="#0b86c8" stroke="#d0d0d0" stroke-width="2.8"/>
<rect x="425.2" y="1095.0" width="60.8" height="22.8" fill="#ff0018" stroke="#000" stroke-width="1.5"/>
<rect x="490.7" y="1095.0" width="61.1" height="22.8" fill="#ff0018" stroke="#000" stroke-width="1.5"/>
<rect x="423.6" y="1027.6" width="132.9" height="92.7" fill="none" stroke="#5f5f5f" stroke-width="1.5" stroke-dasharray="6 3"/>
<text x="486.0" y="1050.6" text-anchor="middle" style="font-size:18.4px" fill="#000" stroke="#000">Actin</text>
<text x="448.1" y="1074.5" text-anchor="middle" style="font-size:18.4px" fill="#fff" stroke="#fff">Arp4</text>
<text x="523.9" y="1072.9" text-anchor="middle" style="font-size:18.4px" fill="#fff" stroke="#fff">Arp8</text>
<text x="455.6" y="1114.2" text-anchor="middle" style="font-size:18.4px" fill="#fff" stroke="#fff">HQ1</text>
<text x="521.3" y="1114.2" text-anchor="middle" style="font-size:18.4px" fill="#fff" stroke="#fff">HQ2</text>
<text x="191.5" y="1145.6" text-anchor="middle" style="font-size:22px" fill="#000" stroke="#000">HQ1</text>
<text x="339.7" y="1145.6" text-anchor="middle" style="font-size:22px" fill="#000" stroke="#000">HQ2</text>
<text x="494.7" y="1145.6" text-anchor="middle" style="font-size:22px" fill="#000" stroke="#000">HQ1/2</text>
<text x="946.0" y="888.5" text-anchor="middle" style="font-size:22px" fill="#000" stroke="#000">70bp linker DNA model</text>
<path d="M728,918.2V908H1146.2V918.2" fill="none" stroke="#231815" stroke-width="1.3"/>
<text x="1119.0" y="733.6" text-anchor="middle" style="font-size:22px" fill="#000" stroke="#000">nucleosome</text>
<text x="1121.5" y="759.1" text-anchor="middle" style="font-size:22px" fill="#000" stroke="#000">core particle</text>
<text x="1071.0" y="813.9" text-anchor="middle" style="font-size:22px" fill="#000" stroke="#000">Rvb1/2</text>
<text x="1071.0" y="841.1" text-anchor="middle" style="font-size:22px" fill="#000" stroke="#000">stator</text>
<text x="1271.2" y="713.6" text-anchor="middle" style="font-size:22px" fill="#000" stroke="#000">Arp5</text>
<text x="1271.2" y="739.2" text-anchor="middle" style="font-size:22px" fill="#000" stroke="#000">grip</text>
<path d="M1151,769.5L1174.6,796 M1108.5,831.7L1132,857.9" stroke="#231815" stroke-width="1.3" fill="none"/>
<text x="1356.7" y="856.4" text-anchor="start" style="font-size:22px" fill="#000" stroke="#000">90º</text>
<ellipse cx="1369.5" cy="880.3" rx="19.5" ry="5.2" fill="none" stroke="#231815" stroke-width="1.4"/>
<path d="M1369.5,862V899" stroke="#231815" stroke-width="1.8" stroke-dasharray="4 2.2" fill="none"/>
<rect x="1362" y="883" width="6" height="5" fill="#fff"/>
<path d="M1355,873.2l7.5,2.8l-6.5,4z" fill="#231815"/>
<ellipse cx="702" cy="949.4" rx="5.6" ry="20.5" fill="none" stroke="#b4b4b4" stroke-width="1.8"/>
<path d="M678.5,949.4H713" stroke="#231815" stroke-width="2.6" fill="none"/>
<path d="M723,949.4L711,942.8V956Z" fill="#231815"/>
<text x="677.5" y="1000.1" text-anchor="start" style="font-size:22px" fill="#000" stroke="#000">entry</text>
<g filter="url(#hb10)"><path d="M725.8,933.9 L727.5,933.9 L729.2,934.3 L730.9,935.0 L732.6,935.9 L734.3,936.9 L736.0,937.9 L737.7,938.7 L739.5,939.2 L741.2,939.4 L742.9,939.2 L744.6,938.7 L746.3,937.8 L748.0,936.8 L749.7,935.8 L751.4,934.9 L753.1,934.2 L754.8,933.9 L756.5,933.9 L758.2,934.3 L759.9,935.1 L761.6,936.0 L763.3,937.0 L765.0,938.0 L766.7,938.8 L768.4,939.3 L770.1,939.4 L771.8,939.2 L773.5,938.6 L775.2,937.7 L776.9,936.7 L778.6,935.7 L780.4,934.8 L782.1,934.2 L783.8,933.9 L785.5,934.0 L787.2,934.4 L788.9,935.2 L790.6,936.1 L792.3,937.2 L794.0,938.1 L795.7,938.9 L797.4,939.3 L799.1,939.4 L800.8,939.1 L802.5,938.5 L804.2,937.6 L805.9,936.6 L807.6,935.6 L809.3,934.7 L811.0,934.1 L812.7,933.9 L814.4,934.0 L816.1,934.5 L817.8,935.3 L819.6,936.3 L821.3,937.3 L823.0,938.2 L824.7,938.9 L826.4,939.3 L828.1,939.4 L829.8,939.0 L831.5,938.4 L833.2,937.5 L834.9,936.4 L836.6,935.5 L838.3,934.6 L840.0,934.1 L841.7,933.9 L843.4,934.1 L845.1,934.6 L846.8,935.4 L848.5,936.4 L850.2,937.4 L851.9,938.3 L853.6,939.0 L855.3,939.4 L857.0,939.4 L858.8,939.0 L860.5,938.3 L862.2,937.3 L863.9,936.3 L865.6,935.3 L867.3,934.5 L869.0,934.0 L870.7,933.9 L872.4,934.1 L874.1,934.7 L875.8,935.5 L877.5,936.5 L879.2,937.5 L880.9,938.4 L882.6,939.1 L884.3,939.4 L886.0,939.3 L887.7,938.9 L889.4,938.2 L891.1,937.2 L892.8,936.2 L894.5,935.2 L896.2,934.5 L898.0,934.0 L899.7,933.9 L901.4,934.2 L903.1,934.8 L904.8,935.6 L906.5,936.6 L908.2,937.7 L909.9,938.5 L911.6,939.1 L913.3,939.4 L915.0,939.3 L916.7,938.8 L918.4,938.1 L920.1,937.1 L921.8,936.1 L923.5,935.1 L925.2,934.4 L926.9,934.0 L928.6,933.9 L930.3,934.2 L932.0,934.9 L933.7,935.8 L935.4,936.8 L937.1,937.8 L938.9,938.6 L940.6,939.2 L942.3,939.4 L944.0,939.3 L945.7,938.7 L947.4,937.9 L949.1,937.0 L950.8,935.9 L952.5,935.0 L954.2,934.3 L955.9,933.9 L957.6,933.9 L959.3,934.3 L961.0,935.0 L962.7,935.9 L964.4,936.9 L966.1,937.9 L967.8,938.7 L969.5,939.2 L971.2,939.4 L972.9,939.2 L974.6,938.7 L976.3,937.8 L978.1,936.8 L979.8,935.8 L981.5,934.9 L983.2,934.2 L984.9,933.9 L986.6,933.9 L988.3,934.3 L990.0,935.1 L991.7,936.0 L993.4,937.0 L995.1,938.0 L996.8,938.8 L998.5,939.3 L1000.2,939.4 L1001.9,939.2 L1003.6,938.6 L1005.3,937.7 L1007.0,936.7 L1008.7,935.7 L1010.4,934.8 L1012.1,934.2 L1013.8,933.9 L1015.5,934.0 L1017.3,934.4 L1019.0,935.2 L1020.7,936.1 L1022.4,937.2 L1024.1,938.1 L1025.8,938.9 L1027.5,939.3 L1029.2,939.4 L1030.9,939.1 L1032.6,938.5 L1034.3,937.6 L1036.0,936.6 L1037.7,935.6 L1039.4,934.7 L1041.1,934.1 L1042.8,933.9 L1044.5,934.0 L1046.2,934.5 L1047.9,935.3 L1049.6,936.3 L1051.3,937.3 L1053.0,938.2 L1054.7,938.9 L1056.5,939.3 L1058.2,939.4 L1059.9,939.0 L1061.6,938.4 L1063.3,937.5 L1065.0,936.4 L1066.7,935.5 L1068.4,934.6 L1070.1,934.1 L1071.8,933.9 L1073.5,934.1 L1075.2,934.6 L1076.9,935.4 L1078.6,936.4 L1080.3,937.4 L1082.0,938.3 L1083.7,939.0 L1085.4,939.4 L1087.1,939.4 L1088.8,939.0 L1090.5,938.3 L1092.2,937.3 L1093.9,936.3 L1095.6,935.3 L1097.4,934.5 L1099.1,934.0 L1100.8,933.9 L1102.5,934.1 L1104.2,934.7 L1105.9,935.5 L1107.6,936.5 L1109.3,937.5 L1111.0,938.4 L1112.7,939.1 L1114.4,939.4 L1116.1,939.3 L1117.8,938.9 L1119.5,938.2 L1121.2,937.2 L1122.9,936.2 L1124.6,935.2 L1126.3,934.5 L1128.0,934.0 L1129.7,933.9 L1131.4,934.2 L1133.1,934.8 L1134.8,935.6 L1136.6,936.6 L1138.3,937.7 L1140.0,938.5 L1141.7,939.1 L1143.4,939.4 L1145.1,939.3 L1146.8,938.8 L1148.5,938.1 L1150.2,937.1 L1151.9,936.1 L1153.6,935.1 L1155.3,934.4 L1157.0,934.0 L1158.7,933.9 L1160.4,934.2 L1162.1,934.9 L1163.8,935.8 L1165.5,936.8 L1167.2,937.8 L1168.9,938.6 L1170.6,939.2 L1172.3,939.4 L1174.0,939.3 L1175.8,938.7 L1177.5,937.9 L1179.2,937.0 L1180.9,935.9 L1182.6,935.0 L1184.3,934.3 L1186.0,933.9 L1187.7,933.9 L1189.4,934.3 L1191.1,935.0 L1192.8,935.9 L1194.5,936.9 L1196.2,937.9 L1197.9,938.7 L1199.6,939.2 L1201.3,939.4 L1203.0,939.2 L1204.7,938.7 L1206.4,937.8 L1208.1,936.8 L1209.8,935.8 L1211.5,934.9 L1213.2,934.2 L1215.0,933.9 L1215.0,973.7 L1213.2,972.8 L1211.5,971.8 L1209.8,970.8 L1208.1,970.0 L1206.4,969.4 L1204.7,969.2 L1203.0,969.4 L1201.3,969.9 L1199.6,970.8 L1197.9,971.7 L1196.2,972.8 L1194.5,973.7 L1192.8,974.4 L1191.1,974.7 L1189.4,974.7 L1187.7,974.3 L1186.0,973.6 L1184.3,972.7 L1182.6,971.7 L1180.9,970.7 L1179.2,969.9 L1177.5,969.4 L1175.8,969.2 L1174.0,969.5 L1172.3,970.0 L1170.6,970.9 L1168.9,971.9 L1167.2,972.9 L1165.5,973.8 L1163.8,974.4 L1162.1,974.8 L1160.4,974.7 L1158.7,974.3 L1157.0,973.5 L1155.3,972.6 L1153.6,971.6 L1151.9,970.6 L1150.2,969.8 L1148.5,969.4 L1146.8,969.2 L1145.1,969.5 L1143.4,970.1 L1141.7,971.0 L1140.0,972.0 L1138.3,973.0 L1136.6,973.9 L1134.8,974.5 L1133.1,974.8 L1131.4,974.7 L1129.7,974.2 L1128.0,973.4 L1126.3,972.5 L1124.6,971.4 L1122.9,970.5 L1121.2,969.8 L1119.5,969.3 L1117.8,969.3 L1116.1,969.6 L1114.4,970.2 L1112.7,971.1 L1111.0,972.1 L1109.3,973.1 L1107.6,974.0 L1105.9,974.5 L1104.2,974.8 L1102.5,974.6 L1100.8,974.1 L1099.1,973.3 L1097.4,972.3 L1095.6,971.3 L1093.9,970.4 L1092.2,969.7 L1090.5,969.3 L1088.8,969.3 L1087.1,969.6 L1085.4,970.3 L1083.7,971.2 L1082.0,972.3 L1080.3,973.2 L1078.6,974.1 L1076.9,974.6 L1075.2,974.8 L1073.5,974.6 L1071.8,974.0 L1070.1,973.2 L1068.4,972.2 L1066.7,971.2 L1065.0,970.3 L1063.3,969.6 L1061.6,969.3 L1059.9,969.3 L1058.2,969.7 L1056.5,970.4 L1054.7,971.4 L1053.0,972.4 L1051.3,973.4 L1049.6,974.1 L1047.9,974.6 L1046.2,974.8 L1044.5,974.5 L1042.8,973.9 L1041.1,973.1 L1039.4,972.1 L1037.7,971.1 L1036.0,970.2 L1034.3,969.6 L1032.6,969.3 L1030.9,969.3 L1029.2,969.8 L1027.5,970.5 L1025.8,971.5 L1024.1,972.5 L1022.4,973.5 L1020.7,974.2 L1019.0,974.7 L1017.3,974.8 L1015.5,974.5 L1013.8,973.8 L1012.1,973.0 L1010.4,972.0 L1008.7,970.9 L1007.0,970.1 L1005.3,969.5 L1003.6,969.2 L1001.9,969.4 L1000.2,969.9 L998.5,970.6 L996.8,971.6 L995.1,972.6 L993.4,973.6 L991.7,974.3 L990.0,974.7 L988.3,974.7 L986.6,974.4 L984.9,973.7 L983.2,972.8 L981.5,971.8 L979.8,970.8 L978.1,970.0 L976.3,969.4 L974.6,969.2 L972.9,969.4 L971.2,969.9 L969.5,970.8 L967.8,971.7 L966.1,972.8 L964.4,973.7 L962.7,974.4 L961.0,974.7 L959.3,974.7 L957.6,974.3 L955.9,973.6 L954.2,972.7 L952.5,971.7 L950.8,970.7 L949.1,969.9 L947.4,969.4 L945.7,969.2 L944.0,969.5 L942.3,970.0 L940.6,970.9 L938.9,971.9 L937.1,972.9 L935.4,973.8 L933.7,974.4 L932.0,974.8 L930.3,974.7 L928.6,974.3 L926.9,973.5 L925.2,972.6 L923.5,971.6 L921.8,970.6 L920.1,969.8 L918.4,969.4 L916.7,969.2 L915.0,969.5 L913.3,970.1 L911.6,971.0 L909.9,972.0 L908.2,973.0 L906.5,973.9 L904.8,974.5 L903.1,974.8 L901.4,974.7 L899.7,974.2 L898.0,973.4 L896.2,972.5 L894.5,971.4 L892.8,970.5 L891.1,969.8 L889.4,969.3 L887.7,969.3 L886.0,969.6 L884.3,970.2 L882.6,971.1 L880.9,972.1 L879.2,973.1 L877.5,974.0 L875.8,974.5 L874.1,974.8 L872.4,974.6 L870.7,974.1 L869.0,973.3 L867.3,972.3 L865.6,971.3 L863.9,970.4 L862.2,969.7 L860.5,969.3 L858.8,969.3 L857.0,969.6 L855.3,970.3 L853.6,971.2 L851.9,972.3 L850.2,973.2 L848.5,974.1 L846.8,974.6 L845.1,974.8 L843.4,974.6 L841.7,974.0 L840.0,973.2 L838.3,972.2 L836.6,971.2 L834.9,970.3 L833.2,969.6 L831.5,969.3 L829.8,969.3 L828.1,969.7 L826.4,970.4 L824.7,971.4 L823.0,972.4 L821.3,973.4 L819.6,974.1 L817.8,974.6 L816.1,974.8 L814.4,974.5 L812.7,973.9 L811.0,973.1 L809.3,972.1 L807.6,971.1 L805.9,970.2 L804.2,969.6 L802.5,969.3 L800.8,969.3 L799.1,969.8 L797.4,970.5 L795.7,971.5 L794.0,972.5 L792.3,973.5 L790.6,974.2 L788.9,974.7 L787.2,974.8 L785.5,974.5 L783.8,973.8 L782.1,973.0 L780.4,972.0 L778.6,970.9 L776.9,970.1 L775.2,969.5 L773.5,969.2 L771.8,969.4 L770.1,969.9 L768.4,970.6 L766.7,971.6 L765.0,972.6 L763.3,973.6 L761.6,974.3 L759.9,974.7 L758.2,974.7 L756.5,974.4 L754.8,973.7 L753.1,972.8 L751.4,971.8 L749.7,970.8 L748.0,970.0 L746.3,969.4 L744.6,969.2 L742.9,969.4 L741.2,969.9 L739.5,970.8 L737.7,971.7 L736.0,972.8 L734.3,973.7 L732.6,974.4 L730.9,974.7 L729.2,974.7 L727.5,974.3 L725.8,973.6Z" fill="#4a7a89" stroke="#2a4f5c" stroke-width="0.8"/><path d="M742.9,939.4L725.4,970.3" stroke="#27505d" stroke-width="5" stroke-linecap="round" opacity="0.8"/><path d="M754.8,942.6L740.3,967.7" stroke="#5d8c9a" stroke-width="4.5" stroke-linecap="round" opacity="0.6"/><path d="M771.6,939.4L754.1,970.3" stroke="#27505d" stroke-width="5" stroke-linecap="round" opacity="0.8"/><path d="M783.5,942.6L769.1,967.7" stroke="#5d8c9a" stroke-width="4.5" stroke-linecap="round" opacity="0.6"/><path d="M800.4,939.4L782.9,970.3" stroke="#27505d" stroke-width="5" stroke-linecap="round" opacity="0.8"/><path d="M812.3,942.6L797.8,967.7" stroke="#5d8c9a" stroke-width="4.5" stroke-linecap="round" opacity="0.6"/><path d="M829.1,939.4L811.7,970.3" stroke="#27505d" stroke-width="5" stroke-linecap="round" opacity="0.8"/><path d="M841.1,942.6L826.6,967.7" stroke="#5d8c9a" stroke-width="4.5" stroke-linecap="round" opacity="0.6"/><path d="M857.9,939.4L840.4,970.3" stroke="#27505d" stroke-width="5" stroke-linecap="round" opacity="0.8"/><path d="M869.8,942.6L855.3,967.7" stroke="#5d8c9a" stroke-width="4.5" stroke-linecap="round" opacity="0.6"/><path d="M886.7,939.4L869.2,970.3" stroke="#27505d" stroke-width="5" stroke-linecap="round" opacity="0.8"/><path d="M898.6,942.6L884.1,967.7" stroke="#5d8c9a" stroke-width="4.5" stroke-linecap="round" opacity="0.6"/><path d="M915.4,939.4L898.0,970.3" stroke="#27505d" stroke-width="5" stroke-linecap="round" opacity="0.8"/><path d="M927.3,942.6L912.9,967.7" stroke="#5d8c9a" stroke-width="4.5" stroke-linecap="round" opacity="0.6"/><path d="M944.2,939.4L926.7,970.3" stroke="#27505d" stroke-width="5" stroke-linecap="round" opacity="0.8"/><path d="M956.1,942.6L941.6,967.7" stroke="#5d8c9a" stroke-width="4.5" stroke-linecap="round" opacity="0.6"/><path d="M972.9,939.4L955.5,970.3" stroke="#27505d" stroke-width="5" stroke-linecap="round" opacity="0.8"/><path d="M984.9,942.6L970.4,967.7" stroke="#5d8c9a" stroke-width="4.5" stroke-linecap="round" opacity="0.6"/><path d="M1001.7,939.4L984.2,970.3" stroke="#27505d" stroke-width="5" stroke-linecap="round" opacity="0.8"/><path d="M1013.6,942.6L999.1,967.7" stroke="#5d8c9a" stroke-width="4.5" stroke-linecap="round" opacity="0.6"/><path d="M1030.5,939.4L1013.0,970.3" stroke="#27505d" stroke-width="5" stroke-linecap="round" opacity="0.8"/><path d="M1042.4,942.6L1027.9,967.7" stroke="#5d8c9a" stroke-width="4.5" stroke-linecap="round" opacity="0.6"/><path d="M1059.2,939.4L1041.8,970.3" stroke="#27505d" stroke-width="5" stroke-linecap="round" opacity="0.8"/><path d="M1071.2,942.6L1056.7,967.7" stroke="#5d8c9a" stroke-width="4.5" stroke-linecap="round" opacity="0.6"/><path d="M1088.0,939.4L1070.5,970.3" stroke="#27505d" stroke-width="5" stroke-linecap="round" opacity="0.8"/><path d="M1099.9,942.6L1085.4,967.7" stroke="#5d8c9a" stroke-width="4.5" stroke-linecap="round" opacity="0.6"/><path d="M1116.7,939.4L1099.3,970.3" stroke="#27505d" stroke-width="5" stroke-linecap="round" opacity="0.8"/><path d="M1128.7,942.6L1114.2,967.7" stroke="#5d8c9a" stroke-width="4.5" stroke-linecap="round" opacity="0.6"/><path d="M1145.5,939.4L1128.0,970.3" stroke="#27505d" stroke-width="5" stroke-linecap="round" opacity="0.8"/><path d="M1157.4,942.6L1142.9,967.7" stroke="#5d8c9a" stroke-width="4.5" stroke-linecap="round" opacity="0.6"/><path d="M1174.3,939.4L1156.8,970.3" stroke="#27505d" stroke-width="5" stroke-linecap="round" opacity="0.8"/><path d="M1186.2,942.6L1171.7,967.7" stroke="#5d8c9a" stroke-width="4.5" stroke-linecap="round" opacity="0.6"/><path d="M1203.0,939.4L1185.6,970.3" stroke="#27505d" stroke-width="5" stroke-linecap="round" opacity="0.8"/><path d="M1215.0,942.6L1200.5,967.7" stroke="#5d8c9a" stroke-width="4.5" stroke-linecap="round" opacity="0.6"/></g>
<ellipse cx="729.5" cy="950" rx="5" ry="15" fill="#9dbac2" opacity="0.85" filter="url(#hb15)"/>
<g filter="url(#sfD)"><path d="M1215.7,935.8C1220.3,928.5 1234.1,933.5 1243.3,930.3C1252.5,927.1 1261.7,921.6 1270.9,916.5C1280.0,911.5 1290.6,905.5 1298.4,900.0C1306.2,894.5 1314.0,881.6 1317.7,883.5C1321.4,885.3 1322.3,902.3 1320.5,911.0C1318.6,919.8 1312.7,928.5 1306.7,935.8C1300.7,943.2 1292.9,949.6 1284.6,955.1C1276.4,960.7 1266.3,965.7 1257.1,968.9C1247.9,972.1 1236.4,973.5 1229.5,974.4C1222.6,975.4 1218.0,980.9 1215.7,974.4C1213.4,968.0 1211.1,943.2 1215.7,935.8Z" fill="#4a7a89"/></g>
<g filter="url(#sfD)"><path d="M1219.3,780.1C1213.3,776.9 1208.6,776.9 1202.3,780.1C1195.9,783.3 1187.7,791.8 1181.0,799.3C1174.2,806.8 1166.2,815.6 1161.8,824.9C1157.3,834.1 1155.0,844.7 1154.3,854.7C1153.6,864.6 1154.9,875.3 1157.5,884.5C1160.2,893.7 1166.8,902.3 1170.3,910.1C1173.9,917.9 1174.6,925.7 1178.8,931.4C1183.1,937.1 1187.7,941.3 1195.9,944.2C1204.0,947.0 1215.4,948.1 1227.8,948.4C1240.2,948.8 1258.0,948.4 1270.4,946.3C1282.9,944.2 1293.5,940.3 1302.4,935.6C1311.3,931.0 1318.4,925.7 1323.7,918.6C1329.0,911.5 1332.0,901.6 1334.3,893.0C1336.6,884.5 1337.9,875.3 1337.5,867.5C1337.2,859.7 1334.9,851.9 1332.2,846.2C1329.5,840.5 1326.2,836.2 1321.6,833.4C1316.9,830.5 1313.0,831.6 1304.5,829.1C1296.0,826.6 1281.4,823.4 1270.4,818.5C1259.4,813.5 1247.0,805.7 1238.5,799.3C1230.0,792.9 1225.3,783.3 1219.3,780.1Z" fill="#4a7a89"/></g>
<path d="M1210.8,799.3C1207.2,802.1 1195.2,808.5 1189.5,816.3C1183.8,824.2 1179.2,836.2 1176.7,846.2C1174.2,856.1 1173.5,866.1 1174.6,876.0C1175.6,885.9 1179.9,897.7 1183.1,905.8C1186.3,914.0 1192.0,921.8 1193.7,925.0" fill="none" stroke="#24444f" stroke-width="3" opacity="0.8" filter="url(#hb10)"/>
<g filter="url(#sfA)"><path d="M1195.9,829.1C1200.8,821.7 1210.4,816.7 1219.3,816.3C1228.2,816.0 1238.8,823.8 1249.1,827.0C1259.4,830.2 1270.4,832.0 1281.1,835.5C1291.7,839.1 1304.2,843.0 1313.0,848.3C1321.9,853.6 1332.6,861.8 1334.3,867.5C1336.1,873.2 1329.0,878.1 1323.7,882.4C1318.4,886.6 1308.8,888.4 1302.4,893.0C1296.0,897.7 1294.2,906.2 1285.3,910.1C1276.5,914.0 1260.1,912.9 1249.1,916.5C1238.1,920.0 1228.2,930.0 1219.3,931.4C1210.4,932.8 1200.5,931.4 1195.9,925.0C1191.3,918.6 1192.7,903.7 1191.6,893.0C1190.5,882.4 1188.8,871.7 1189.5,861.1C1190.2,850.4 1190.9,836.6 1195.9,829.1Z" fill="#f4f4f4"/></g>
<g filter="url(#sfB)"><path d="M1249.1,761.0C1251.3,757.0 1254.8,753.1 1261.9,750.3C1269.0,747.5 1285.7,747.1 1291.7,743.9C1297.8,740.7 1293.2,733.8 1298.1,731.1C1303.1,728.5 1314.1,727.2 1321.6,727.9C1329.0,728.6 1337.2,731.7 1342.9,735.4C1348.5,739.1 1353.9,744.6 1355.6,750.3C1357.4,756.0 1352.4,764.5 1353.5,769.5C1354.6,774.4 1361.3,775.2 1362.0,780.1C1362.7,785.1 1360.6,793.3 1357.8,799.3C1354.9,805.3 1350.3,811.7 1345.0,816.3C1339.7,821.0 1330.8,822.7 1325.8,827.0C1320.8,831.3 1320.8,838.0 1315.2,841.9C1309.5,845.8 1300.6,849.4 1291.7,850.4C1282.9,851.5 1271.1,851.1 1261.9,848.3C1252.7,845.5 1242.4,838.7 1236.3,833.4C1230.3,828.1 1227.8,822.7 1225.7,816.3C1223.6,810.0 1223.2,800.7 1223.6,795.0C1223.9,789.4 1223.6,785.8 1227.8,782.3C1232.1,778.7 1245.6,777.3 1249.1,773.7C1252.7,770.2 1247.0,764.9 1249.1,761.0Z" fill="#c2c2c2"/></g>
<g filter="url(#sfC)"><path d="M966.2,980.0C967.6,975.6 972.9,972.4 978.6,970.3C984.3,968.2 993.3,967.3 1000.7,967.5C1008.0,967.8 1017.7,969.2 1022.7,971.7C1027.8,974.2 1020.0,981.3 1031.0,982.7C1042.0,984.1 1076.5,982.3 1088.9,980.0C1101.3,977.7 1099.0,969.8 1105.4,968.9C1111.9,968.0 1120.1,972.8 1127.5,974.4C1134.8,976.0 1141.7,977.2 1149.5,978.6C1157.4,980.0 1165.6,980.6 1174.4,982.7C1183.1,984.8 1193.2,989.1 1201.9,991.0C1210.7,992.8 1221.7,990.5 1226.7,993.7C1231.8,997.0 1234.1,1006.1 1232.3,1010.3C1230.4,1014.4 1223.1,1017.9 1215.7,1018.6C1208.4,1019.2 1197.3,1016.7 1188.1,1014.4C1178.9,1012.1 1168.8,1007.8 1160.6,1004.8C1152.3,1001.8 1145.9,999.3 1138.5,996.5C1131.2,993.7 1123.8,989.1 1116.5,988.2C1109.1,987.3 1108.6,990.1 1094.4,991.0C1080.2,991.9 1047.5,993.7 1031.0,993.7C1014.4,993.7 1005.3,990.5 995.1,991.0C985.0,991.4 975.2,998.3 970.3,996.5C965.5,994.7 964.8,984.3 966.2,980.0Z" fill="#f32521"/><path d="M1226.7,946.9C1228.6,940.9 1232.7,934.0 1237.8,930.3C1242.8,926.7 1250.2,924.8 1257.1,924.8C1264.0,924.8 1272.2,928.9 1279.1,930.3C1286.0,931.7 1292.4,932.2 1298.4,933.1C1304.4,934.0 1309.5,933.1 1315.0,935.8C1320.5,938.6 1329.7,943.7 1331.5,949.6C1333.3,955.6 1327.8,964.8 1326.0,971.7C1324.2,978.6 1323.2,984.6 1320.5,991.0C1317.7,997.4 1313.4,1004.8 1309.5,1010.3C1305.5,1015.8 1301.2,1020.5 1297.0,1024.1C1292.9,1027.7 1289.9,1031.3 1284.6,1031.8C1279.4,1032.2 1272.2,1029.0 1265.3,1026.8C1258.4,1024.6 1249.3,1022.2 1243.3,1018.6C1237.3,1014.9 1231.3,1010.7 1229.5,1004.8C1227.7,998.8 1232.7,989.1 1232.3,982.7C1231.8,976.3 1227.7,972.1 1226.7,966.2C1225.8,960.2 1224.9,952.8 1226.7,946.9Z" fill="#f32521"/></g>
<g filter="url(#sfC)"><path d="M1094.4,991.0C1095.3,987.3 1099.9,984.3 1105.4,982.7C1110.9,981.1 1121.0,980.0 1127.5,981.3C1133.9,982.7 1140.3,986.2 1144.0,991.0C1147.7,995.8 1148.9,1003.4 1149.5,1010.3C1150.2,1017.2 1147.7,1025.0 1148.2,1032.3C1148.6,1039.7 1152.1,1047.5 1152.3,1054.4C1152.5,1061.3 1152.8,1069.3 1149.5,1073.7C1146.3,1078.1 1139.4,1079.7 1133.0,1080.6C1126.6,1081.5 1118.3,1080.8 1110.9,1079.2C1103.6,1077.6 1095.3,1073.2 1088.9,1070.9C1082.5,1068.6 1074.2,1068.2 1072.3,1065.4C1070.5,1062.7 1074.2,1058.1 1077.9,1054.4C1081.5,1050.7 1090.3,1048.4 1094.4,1043.4C1098.5,1038.3 1101.7,1030.5 1102.7,1024.1C1103.6,1017.6 1101.3,1010.3 1099.9,1004.8C1098.5,999.3 1093.5,994.7 1094.4,991.0Z" fill="#0d22a0"/></g>
<g filter="url(#sfA)"><path d="M956.5,980.0C958.6,976.5 964.4,974.0 967.6,975.8C970.8,977.7 971.2,989.8 975.8,991.0C980.4,992.1 989.2,984.1 995.1,982.7C1001.1,981.3 1007.1,981.3 1011.7,982.7C1016.3,984.1 1019.0,987.3 1022.7,991.0C1026.4,994.7 1030.5,999.3 1033.7,1004.8C1037.0,1010.3 1041.1,1017.6 1042.0,1024.1C1042.9,1030.5 1039.3,1036.9 1039.3,1043.4C1039.3,1049.8 1043.4,1057.2 1042.0,1062.7C1040.6,1068.2 1035.1,1075.1 1031.0,1076.5C1026.8,1077.8 1021.3,1074.6 1017.2,1070.9C1013.1,1067.3 1010.8,1059.0 1006.2,1054.4C1001.6,1049.8 996.1,1046.6 989.6,1043.4C983.2,1040.2 972.6,1039.7 967.6,1035.1C962.5,1030.5 961.4,1022.2 959.3,1015.8C957.2,1009.4 955.6,1002.5 955.2,996.5C954.7,990.5 954.5,983.4 956.5,980.0Z" fill="#a59df0"/></g>
<g filter="url(#sfB)"><path d="M1028.2,971.7C1030.1,966.4 1031.9,962.0 1036.5,959.3C1041.1,956.5 1049.8,955.1 1055.8,955.1C1061.8,955.1 1067.7,957.0 1072.3,959.3C1076.9,961.6 1080.6,965.0 1083.4,968.9C1086.1,972.8 1086.1,979.0 1088.9,982.7C1091.6,986.4 1097.6,986.4 1099.9,991.0C1102.2,995.6 1103.1,1003.9 1102.7,1010.3C1102.2,1016.7 1095.8,1025.0 1097.2,1029.6C1098.5,1034.2 1107.7,1034.6 1110.9,1037.9C1114.2,1041.1 1117.4,1045.2 1116.5,1048.9C1115.5,1052.6 1110.0,1057.6 1105.4,1059.9C1100.8,1062.2 1094.4,1061.3 1088.9,1062.7C1083.4,1064.0 1077.9,1068.6 1072.3,1068.2C1066.8,1067.7 1060.9,1063.1 1055.8,1059.9C1050.7,1056.7 1044.8,1053.9 1042.0,1048.9C1039.3,1043.8 1041.1,1036.0 1039.3,1029.6C1037.4,1023.2 1033.3,1016.7 1031.0,1010.3C1028.7,1003.9 1025.9,997.4 1025.5,991.0C1025.0,984.6 1026.4,977.0 1028.2,971.7Z" fill="#fff21a"/></g>
<path d="M1174.6,812.1C1171.4,812.8 1160.7,814.2 1155.4,816.3C1150.1,818.5 1146.5,817.4 1142.6,824.9C1138.7,832.3 1134.6,849.7 1132.0,861.1C1129.3,872.4 1126.6,883.5 1126.6,893.0C1126.6,902.6 1129.6,911.5 1132.0,918.6C1134.3,925.7 1137.3,929.3 1140.5,935.6C1143.7,942.0 1149.4,953.4 1151.1,956.9" fill="none" stroke="#c9c9c9" stroke-width="2" stroke-dasharray="2.6 2.6"/>
<path d="M1174.6,811.0C1178.5,809.4 1190.5,803.9 1198.0,801.4C1205.5,798.9 1212.9,796.1 1219.3,796.1C1225.7,796.1 1231.4,798.8 1236.3,801.4C1241.3,804.1 1244.9,808.2 1249.1,812.1C1253.4,816.0 1256.9,821.8 1261.9,824.9C1266.9,827.9 1274.0,828.8 1279.0,830.2C1283.9,831.6 1287.8,830.4 1291.7,833.4C1295.6,836.4 1299.5,843.7 1302.4,848.3C1305.2,852.9 1307.4,855.4 1308.8,861.1C1310.2,866.8 1310.2,873.9 1310.9,882.4C1311.6,890.9 1314.1,903.3 1313.0,912.2C1312.0,921.1 1308.8,928.5 1304.5,935.6C1300.3,942.7 1290.3,951.6 1287.5,954.8" fill="none" stroke="#f0f0f0" stroke-width="2.2" stroke-dasharray="2.8 2.6"/>
<path d="M748,1042 C760,1034 772,1036 784,1035" fill="none" stroke="#ff2020" stroke-width="8.5" stroke-linecap="round"/>
<path d="M889,1008.6 C915,1008 930,988 957.6,987.3" fill="none" stroke="#ff2020" stroke-width="8.5" stroke-linecap="round"/>
<ellipse cx="819.1" cy="1030" rx="36.5" ry="39.5" fill="#00bf56" stroke="#cfcfcf" stroke-width="3"/>
<ellipse cx="868.1" cy="1057.6" rx="37.5" ry="26" fill="#0b9e50" stroke="#cfcfcf" stroke-width="3"/>
<ellipse cx="900.1" cy="1032.1" rx="26" ry="24" fill="#037d42" stroke="#cfcfcf" stroke-width="3"/>
<ellipse cx="851.1" cy="1011.8" rx="36" ry="25" fill="#83cf46" stroke="#cfcfcf" stroke-width="3"/>
<text x="851.1" y="1019.0" text-anchor="middle" style="font-size:22.6px" fill="#000" stroke="#000">Nhp10</text>
<text x="808.0" y="1047.6" text-anchor="middle" style="font-size:22px" fill="#000" stroke="#000">Ies1</text>
<text x="899.5" y="1037.1" text-anchor="middle" style="font-size:22px" fill="#000" stroke="#000">Ies5</text>
<text x="861.2" y="1067.0" text-anchor="middle" style="font-size:22px" fill="#000" stroke="#000">Ies3</text>
<text x="719.4" y="1050.8" text-anchor="start" style="font-size:18.4px" fill="#000" stroke="#000">N-</text>
<text x="802.0" y="1093.4" text-anchor="middle" style="font-size:22px" fill="#000" stroke="#000">Nhp10</text>
<text x="801.7" y="1120.0" text-anchor="middle" style="font-size:22px" fill="#000" stroke="#000">module</text>
<text x="984.0" y="1103.1" text-anchor="middle" style="font-size:22px" fill="#000" stroke="#000">Arp4</text>
<text x="1052.8" y="1103.1" text-anchor="middle" style="font-size:22px" fill="#000" stroke="#000">Actin</text>
<text x="1119.9" y="1103.1" text-anchor="middle" style="font-size:22px" fill="#000" stroke="#000">Arp8</text>
<path d="M950.8,1109V1117.8H1153.7V1109" fill="none" stroke="#231815" stroke-width="1.3"/>
<text x="1062.0" y="1150.6" text-anchor="middle" style="font-size:22px" fill="#000" stroke="#000">crystal structure Arp8 module</text>
<text x="996.0" y="962.9" text-anchor="middle" style="font-size:22px" fill="#fff" stroke="#fff">HSA1</text>
<text x="1114.2" y="964.2" text-anchor="middle" style="font-size:22px" fill="#fff" stroke="#fff">HSA2</text>
<path d="M1001,966L1006,978 M1115,968L1109,979" stroke="#fff" stroke-width="1.5"/>
<text x="1164.6" y="1037.4" text-anchor="start" style="font-size:22px" fill="#000" stroke="#000">HSA</text>
<text x="1242.7" y="1072.6" text-anchor="start" style="font-size:22px" fill="#000" stroke="#000">post</text>
<text x="1242.7" y="1098.8" text-anchor="start" style="font-size:22px" fill="#000" stroke="#000">HSA</text>
<path d="M1262.5,1029.4V1051.3" stroke="#231815" stroke-width="1.2"/>
<text x="1309.5" y="1034.4" text-anchor="start" style="font-size:22px" fill="#000" stroke="#000">Ino80</text>
<text x="1309.5" y="1060.2" text-anchor="start" style="font-size:22px" fill="#000" stroke="#000">motor</text>
<text x="1553.2" y="664.4" text-anchor="middle" style="font-size:22px" fill="#000" stroke="#000">cryoEM structure</text>
<text x="1553.7" y="691.4" text-anchor="middle" style="font-size:22px" fill="#000" stroke="#000">INO80 core module - NCP</text>
<path d="M1418.3,720.5V710.2H1688V720" fill="none" stroke="#231815" stroke-width="1.3"/>
<text x="1479.6" y="757.0" text-anchor="start" style="font-size:22px" fill="#000" stroke="#000">Arp5</text>
<text x="1479.6" y="784.5" text-anchor="start" style="font-size:22px" fill="#000" stroke="#000">grip</text>
<g filter="url(#sfD)"><path d="M1687.9,796.8C1690.5,790.5 1696.0,792.4 1698.9,794.6C1701.8,796.8 1704.8,803.7 1705.5,810.0C1706.2,816.2 1704.4,824.6 1703.3,832.0C1702.2,839.3 1701.5,849.5 1698.9,853.9C1696.3,858.3 1690.5,862.0 1687.9,858.3C1685.3,854.7 1683.5,842.2 1683.5,832.0C1683.5,821.7 1685.3,803.0 1687.9,796.8Z" fill="#f2f2f2" /></g>
<g filter="url(#sfB)"><path d="M1562.5,735.2C1566.2,732.6 1572.4,729.0 1577.9,728.6C1583.4,728.2 1590.0,730.4 1595.5,733.0C1601.0,735.6 1605.8,740.0 1610.9,744.0C1616.1,748.0 1621.2,753.1 1626.3,757.2C1631.4,761.2 1639.5,763.0 1641.7,768.2C1643.9,773.3 1642.8,782.8 1639.5,788.0C1636.2,793.1 1626.7,794.6 1621.9,799.0C1617.2,803.4 1613.5,808.1 1610.9,814.4C1608.4,820.6 1608.4,829.0 1606.5,836.4C1604.7,843.7 1602.5,851.7 1599.9,858.3C1597.4,864.9 1594.8,872.3 1591.1,875.9C1587.5,879.6 1583.1,881.1 1577.9,880.3C1572.8,879.6 1565.5,875.9 1560.3,871.5C1555.2,867.1 1551.5,859.8 1547.1,853.9C1542.7,848.1 1538.0,843.0 1533.9,836.4C1529.9,829.8 1524.1,821.7 1523.0,814.4C1521.9,807.0 1524.8,799.3 1527.3,792.4C1529.9,785.4 1534.3,778.4 1538.3,772.6C1542.4,766.7 1548.6,761.9 1551.5,757.2C1554.5,752.4 1554.1,747.7 1555.9,744.0C1557.8,740.3 1558.9,737.8 1562.5,735.2Z" fill="#bdbdbd" /></g>
<g filter="url(#sfD)"><path d="M1613.1,796.8C1615.3,790.2 1617.5,788.0 1621.9,783.6C1626.3,779.2 1634.4,772.2 1639.5,770.4C1644.6,768.5 1648.3,772.9 1652.7,772.6C1657.1,772.2 1660.8,769.3 1665.9,768.2C1671.0,767.1 1678.4,764.9 1683.5,766.0C1688.6,767.1 1693.6,770.4 1696.7,774.8C1699.8,779.2 1702.9,786.5 1702.2,792.4C1701.5,798.2 1694.3,803.4 1692.3,810.0C1690.3,816.6 1690.1,824.6 1690.1,832.0C1690.1,839.3 1692.3,846.6 1692.3,853.9C1692.3,861.3 1690.8,868.6 1690.1,875.9C1689.4,883.3 1689.0,891.3 1687.9,897.9C1686.8,904.5 1685.7,910.0 1683.5,915.5C1681.3,921.0 1679.1,929.5 1674.7,930.9C1670.3,932.4 1663.0,926.2 1657.1,924.3C1651.2,922.5 1645.4,920.7 1639.5,919.9C1633.6,919.2 1627.4,921.4 1621.9,919.9C1616.4,918.5 1609.5,915.5 1606.5,911.1C1603.6,906.7 1604.0,900.1 1604.3,893.5C1604.7,886.9 1608.4,878.9 1608.7,871.5C1609.1,864.2 1606.5,857.6 1606.5,849.5C1606.5,841.5 1607.6,832.0 1608.7,823.2C1609.8,814.4 1610.9,803.4 1613.1,796.8Z" fill="#376878" /></g>
<path d="M1654.9,774.8C1654.2,780.6 1651.1,796.8 1650.5,810.0C1650.0,823.2 1652.0,839.3 1651.6,853.9C1651.2,868.6 1648.5,886.9 1648.3,897.9C1648.1,908.9 1650.1,916.3 1650.5,919.9" fill="none" stroke="#1f3f4a" stroke-width="4" opacity="0.75" filter="url(#hb15)"/>
<g filter="url(#sfD)"><path d="M1674.7,928.7C1675.8,921.8 1683.1,912.6 1687.9,911.1C1692.7,909.7 1700.0,914.8 1703.3,919.9C1706.6,925.1 1705.1,935.3 1707.7,941.9C1710.3,948.5 1716.1,953.6 1718.7,959.5C1721.3,965.4 1722.7,970.5 1723.1,977.1C1723.4,983.7 1723.1,992.5 1720.9,999.1C1718.7,1005.7 1714.7,1011.9 1709.9,1016.7C1705.1,1021.5 1698.9,1026.2 1692.3,1027.7C1685.7,1029.2 1676.5,1027.3 1670.3,1025.5C1664.1,1023.7 1657.8,1020.0 1654.9,1016.7C1652.0,1013.4 1650.5,1009.0 1652.7,1005.7C1654.9,1002.4 1664.8,1001.3 1668.1,996.9C1671.4,992.5 1670.3,986.6 1672.5,979.3C1674.7,972.0 1680.9,961.3 1681.3,952.9C1681.7,944.5 1673.6,935.7 1674.7,928.7Z" fill="#dde2f8" stroke="#5166d2" stroke-width="1"/></g>
<g filter="url(#sfD)"><path d="M1582.3,983.7C1584.9,982.6 1593.3,986.6 1599.9,988.1C1606.5,989.6 1615.3,991.0 1621.9,992.5C1628.5,994.0 1634.4,994.3 1639.5,996.9C1644.6,999.5 1650.9,1004.2 1652.7,1007.9C1654.5,1011.6 1653.8,1017.1 1650.5,1018.9C1647.2,1020.7 1638.4,1020.7 1632.9,1018.9C1627.4,1017.1 1623.0,1010.8 1617.5,1007.9C1612.0,1005.0 1605.4,1003.5 1599.9,1001.3C1594.4,999.1 1587.5,997.6 1584.5,994.7C1581.6,991.8 1579.8,984.8 1582.3,983.7Z" fill="#fdf6ad" /></g>
<g filter="url(#sfC)"><path d="M1562.5,959.5C1562.5,954.0 1569.1,943.8 1573.5,937.5C1577.9,931.3 1583.1,925.1 1588.9,922.1C1594.8,919.2 1603.2,918.1 1608.7,919.9C1614.2,921.8 1616.8,933.1 1621.9,933.1C1627.0,933.1 1632.9,921.4 1639.5,919.9C1646.1,918.5 1655.3,922.1 1661.5,924.3C1667.7,926.5 1673.2,929.1 1676.9,933.1C1680.6,937.2 1683.5,943.4 1683.5,948.5C1683.5,953.6 1679.1,958.4 1676.9,963.9C1674.7,969.4 1671.8,976.0 1670.3,981.5C1668.8,987.0 1671.0,992.9 1668.1,996.9C1665.2,1000.9 1657.5,1006.1 1652.7,1005.7C1647.9,1005.3 1644.6,997.3 1639.5,994.7C1634.4,992.1 1627.8,991.4 1621.9,990.3C1616.1,989.2 1609.8,989.6 1604.3,988.1C1598.8,986.6 1594.1,984.4 1588.9,981.5C1583.8,978.6 1577.9,974.2 1573.5,970.5C1569.1,966.8 1562.5,965.0 1562.5,959.5Z" fill="#f32521" /></g>
<path d="M1624.1,930.9Q1657.1,928.7 1684.6,907.8" stroke="#808080" stroke-width="9" stroke-linecap="round" fill="none"/>
<g filter="url(#sfA)"><path d="M1400.9,893.5C1401.6,886.2 1404.7,875.9 1408.6,867.1C1412.4,858.3 1418.5,848.8 1424.0,840.8C1429.5,832.7 1435.0,823.5 1441.6,818.8C1448.2,814.0 1457.0,811.4 1463.6,812.2C1470.2,812.9 1475.3,821.3 1481.2,823.2C1487.0,825.0 1492.9,823.2 1498.8,823.2C1504.6,823.2 1510.5,821.7 1516.4,823.2C1522.2,824.6 1528.1,828.3 1533.9,832.0C1539.8,835.6 1546.0,840.0 1551.5,845.2C1557.0,850.3 1561.8,856.9 1566.9,862.7C1572.1,868.6 1577.6,874.5 1582.3,880.3C1587.1,886.2 1594.1,892.1 1595.5,897.9C1597.0,903.8 1594.8,910.4 1591.1,915.5C1587.5,920.7 1577.6,923.6 1573.5,928.7C1569.5,933.9 1569.1,940.5 1566.9,946.3C1564.7,952.2 1563.6,958.8 1560.3,963.9C1557.0,969.0 1552.3,973.4 1547.1,977.1C1542.0,980.8 1536.9,984.1 1529.5,985.9C1522.2,987.7 1511.6,987.4 1503.2,988.1C1494.7,988.8 1486.7,990.3 1479.0,990.3C1471.3,990.3 1462.8,990.3 1457.0,988.1C1451.1,985.9 1448.2,983.0 1443.8,977.1C1439.4,971.2 1435.7,960.6 1430.6,952.9C1425.5,945.2 1417.4,937.9 1413.0,930.9C1408.6,924.0 1406.2,917.4 1404.2,911.1C1402.2,904.9 1400.2,900.9 1400.9,893.5Z" fill="#d6d6d6" /></g>
<g filter="url(#sfD)"><path d="M1520.8,891.3C1527.0,888.4 1549.0,886.6 1555.9,889.1C1562.9,891.7 1566.2,902.7 1562.5,906.7C1558.9,910.8 1541.3,913.3 1533.9,913.3C1526.6,913.3 1520.8,910.4 1518.6,906.7C1516.4,903.1 1514.5,894.3 1520.8,891.3Z" fill="#8e8e8e" /></g>
<g filter="url(#sfD)"><path d="M1465.8,902.3C1466.5,896.8 1471.3,890.2 1474.6,886.9C1477.9,883.6 1484.1,880.7 1485.6,882.5C1487.0,884.4 1484.8,893.2 1483.4,897.9C1481.9,902.7 1479.0,907.5 1476.8,911.1C1474.6,914.8 1472.0,921.4 1470.2,919.9C1468.3,918.5 1465.0,907.8 1465.8,902.3Z" fill="#ee2420" /></g>
<g filter="url(#sfD)"><path d="M1520.8,882.5C1521.5,879.8 1528.8,876.7 1533.9,875.9C1539.1,875.2 1547.5,876.3 1551.5,878.1C1555.6,880.0 1559.6,884.9 1558.1,886.9C1556.7,889.0 1547.5,889.3 1542.7,890.2C1538.0,891.2 1533.2,893.7 1529.5,892.4C1525.9,891.2 1520.0,885.3 1520.8,882.5Z" fill="#ee2420" /></g>
<g filter="url(#sfD)"><path d="M1573.5,880.3C1575.7,878.0 1587.1,875.2 1591.1,875.9C1595.2,876.7 1598.1,882.0 1597.7,884.7C1597.4,887.5 1592.2,891.5 1588.9,892.4C1585.6,893.4 1580.5,892.3 1577.9,890.2C1575.4,888.2 1571.3,882.7 1573.5,880.3Z" fill="#ee2420" /></g>
<g filter="url(#sfA)"><path d="M1472.4,840.8C1480.4,834.9 1487.0,832.0 1494.4,832.0C1501.7,832.0 1510.1,836.4 1516.4,840.8C1522.6,845.2 1531.0,852.5 1531.7,858.3C1532.5,864.2 1525.5,871.9 1520.8,875.9C1516.0,880.0 1509.0,880.7 1503.2,882.5C1497.3,884.4 1489.6,882.5 1485.6,886.9C1481.5,891.3 1477.5,903.4 1479.0,908.9C1480.4,914.4 1488.1,918.8 1494.4,919.9C1500.6,921.0 1509.0,917.7 1516.4,915.5C1523.7,913.3 1531.0,907.5 1538.3,906.7C1545.7,906.0 1556.3,907.1 1560.3,911.1C1564.4,915.2 1564.0,924.7 1562.5,930.9C1561.1,937.2 1556.3,944.5 1551.5,948.5C1546.8,952.5 1540.5,954.4 1533.9,955.1C1527.3,955.8 1519.3,955.1 1512.0,952.9C1504.6,950.7 1496.2,946.7 1490.0,941.9C1483.7,937.2 1481.9,929.5 1474.6,924.3C1467.2,919.2 1452.6,916.3 1446.0,911.1C1439.4,906.0 1435.0,900.9 1435.0,893.5C1435.0,886.2 1439.7,875.9 1446.0,867.1C1452.2,858.3 1464.3,846.6 1472.4,840.8Z" fill="#f1f1f1" /></g>
<text x="1423.7" y="1015.4" text-anchor="start" style="font-size:22px" fill="#000" stroke="#000">Rvb1/2</text>
<text x="1430.4" y="1041.6" text-anchor="start" style="font-size:22px" fill="#000" stroke="#000">stator</text>
<text x="1568.2" y="1025.4" text-anchor="start" style="font-size:22px" fill="#000" stroke="#000">Ino80</text>
<text x="1568.2" y="1051.0" text-anchor="start" style="font-size:22px" fill="#000" stroke="#000">motor</text>
<path d="M1598.4,979.7V1002.6" stroke="#231815" stroke-width="1.2"/>
<text x="1713.7" y="1053.2" text-anchor="end" style="font-size:22px" fill="#000" stroke="#000">Arp8</text>
<text x="1713.7" y="1079.4" text-anchor="end" style="font-size:22px" fill="#000" stroke="#000">module</text>
</g>
<g id="panel_d">
<text x="-1.0" y="1208.0" text-anchor="start" style="font-size:40px" fill="#000" stroke="#000" font-weight="bold">d</text>
<text x="138.4" y="1225.5" text-anchor="middle" style="font-size:21.8px" fill="#1c1c1c" stroke="#1c1c1c">INO80 WT</text>
<text x="244.3" y="1225.5" text-anchor="middle" style="font-size:21.8px" fill="#1c1c1c" stroke="#1c1c1c">HQ1</text>
<text x="352.2" y="1225.5" text-anchor="middle" style="font-size:21.8px" fill="#1c1c1c" stroke="#1c1c1c">HQ2</text>
<text x="461.8" y="1225.5" text-anchor="middle" style="font-size:21.8px" fill="#1c1c1c" stroke="#1c1c1c">HQ1/2</text>
<text x="571.5" y="1225.5" text-anchor="middle" style="font-size:21.8px" fill="#1c1c1c" stroke="#1c1c1c">ΔNhp10</text>
<text x="137.3" y="1594.5" text-anchor="middle" style="font-size:21.8px" fill="#1c1c1c" stroke="#1c1c1c">HMGII</text>
<text x="240.4" y="1582.3" text-anchor="middle" style="font-size:21.8px" fill="#1c1c1c" stroke="#1c1c1c">HMGII</text>
<text x="240.4" y="1606.5" text-anchor="middle" style="font-size:21.8px" fill="#1c1c1c" stroke="#1c1c1c">HQ1</text>
<text x="341.2" y="1582.3" text-anchor="middle" style="font-size:21.8px" fill="#1c1c1c" stroke="#1c1c1c">HMGII</text>
<text x="341.2" y="1606.5" text-anchor="middle" style="font-size:21.8px" fill="#1c1c1c" stroke="#1c1c1c">HQ2</text>
<text x="430.0" y="1594.5" text-anchor="start" style="font-size:21.8px" fill="#1c1c1c" stroke="#1c1c1c">Ino80<tspan dy="-9">ΔN</tspan></text>
<text x="534.0" y="1594.5" text-anchor="start" style="font-size:21.8px" fill="#1c1c1c" stroke="#1c1c1c">ctINO80<tspan dy="-9">ΔN</tspan></text>
<g filter="url(#hm7)">
<rect x="93.2" y="1239.4" width="89.5" height="304.4" fill="rgb(135,135,135)"/>
<rect x="135.8" y="1239.4" width="48.9" height="304.4" fill="url(#hg7)"/>
<rect x="108.8" y="1239.4" width="34.0" height="304.4" fill="rgb(142,142,142)" filter="url(#hb60)"/>
<path d="M122.8,1271.4 L122.8,1276.4 L122.8,1281.5 L122.7,1286.5 L122.7,1291.5 L122.7,1296.5 L122.6,1301.5 L122.6,1306.5 L122.5,1311.5 L122.5,1316.5 L122.4,1321.5 L122.4,1326.5 L122.3,1331.5 L122.2,1336.5 L122.2,1341.5 L122.1,1346.5 L122.1,1351.5 L122.0,1356.6 L121.9,1361.6 L121.9,1366.6 L121.8,1371.6 L121.7,1376.6 L121.6,1381.6 L121.5,1386.6 L121.4,1391.6 L121.4,1396.6 L121.3,1401.6 L121.1,1406.6 L121.0,1411.6 L120.9,1416.6 L120.8,1421.6 L120.7,1426.6 L120.5,1431.7 L120.4,1436.7 L120.2,1441.7 L120.0,1446.7 L119.8,1451.7 L119.5,1456.7 L119.3,1461.7 L119.0,1466.7 L118.7,1471.7 L118.3,1476.7 L117.9,1481.7 L117.5,1486.7 L116.9,1491.7 L116.4,1496.7 L115.7,1501.7 L114.9,1506.8 L114.1,1511.8 L113.1,1516.8 L111.9,1521.8 L110.6,1526.8 L109.1,1531.8 L107.3,1536.8 L105.3,1541.8 L128.8,1541.8 L128.8,1271.4Z" fill="url(#hn7)" filter="url(#hb24)"/>
<path d="M129.8,1241.4 L129.8,1246.4 L129.8,1251.4 L129.8,1256.4 L129.8,1261.4 L129.8,1266.4 L129.8,1271.4 L129.8,1276.4 L129.8,1281.5 L129.8,1286.5 L129.8,1291.5 L129.8,1296.5 L129.8,1301.5 L129.8,1306.5 L129.8,1311.5 L129.8,1316.5 L129.8,1321.5 L129.8,1326.5 L129.8,1331.5 L129.8,1336.5 L129.8,1341.5 L129.8,1346.5 L129.8,1351.5 L129.8,1356.6 L129.8,1361.6 L129.8,1366.6 L129.8,1371.6 L129.8,1376.6 L129.8,1381.6 L129.8,1386.6 L129.8,1391.6 L129.8,1396.6 L129.8,1401.6 L129.8,1406.6 L129.8,1411.6 L129.8,1416.6 L129.8,1421.6 L129.8,1426.6 L129.8,1431.7 L129.8,1436.7 L129.8,1441.7 L129.8,1446.7 L129.8,1451.7 L129.8,1456.7 L129.8,1461.7 L129.8,1466.7 L129.8,1471.7 L129.8,1476.7 L129.8,1481.7 L129.8,1486.7 L129.8,1491.7 L129.8,1496.7 L129.8,1501.7 L129.8,1506.8 L129.8,1511.8 L129.8,1516.8 L129.8,1521.8 L129.8,1526.8 L129.8,1531.8 L129.8,1536.8 L129.8,1541.8 L135.8,1541.8 L135.8,1536.8 L135.8,1531.8 L135.8,1526.8 L135.8,1521.8 L135.8,1516.8 L135.8,1511.8 L135.8,1506.8 L135.8,1501.7 L135.8,1496.7 L135.8,1491.7 L135.8,1486.7 L135.8,1481.7 L135.8,1476.7 L135.8,1471.7 L135.8,1466.7 L135.8,1461.7 L135.8,1456.7 L135.8,1451.7 L135.8,1446.7 L135.8,1441.7 L135.8,1436.7 L135.8,1431.7 L135.8,1426.6 L135.8,1421.6 L135.8,1416.6 L135.8,1411.6 L135.8,1406.6 L135.8,1401.6 L135.8,1396.6 L135.8,1391.6 L135.8,1386.6 L135.8,1381.6 L135.8,1376.6 L135.8,1371.6 L135.8,1366.6 L135.8,1361.6 L135.8,1356.6 L135.8,1351.5 L135.8,1346.5 L135.8,1341.5 L135.8,1336.5 L135.8,1331.5 L135.8,1326.5 L135.8,1321.5 L135.8,1316.5 L135.8,1311.5 L135.8,1306.5 L135.8,1301.5 L135.8,1296.5 L135.8,1291.5 L135.8,1286.5 L135.8,1281.5 L135.8,1276.4 L135.8,1271.4 L135.8,1266.4 L135.8,1261.4 L135.8,1256.4 L135.8,1251.4 L135.8,1246.4 L135.8,1241.4Z" fill="rgb(229,229,229)" opacity="1" filter="url(#hb24)"/>
<path d="M115.3,1241.4 L115.3,1246.4 L115.3,1251.4 L115.3,1256.4 L115.3,1261.4 L115.3,1266.4 L115.3,1271.4 L115.3,1276.4 L115.3,1281.5 L115.2,1286.5 L115.2,1291.5 L115.2,1296.5 L115.1,1301.5 L115.1,1306.5 L115.0,1311.5 L115.0,1316.5 L114.9,1321.5 L114.9,1326.5 L114.8,1331.5 L114.7,1336.5 L114.7,1341.5 L114.6,1346.5 L114.6,1351.5 L114.5,1356.6 L114.4,1361.6 L114.4,1366.6 L114.3,1371.6 L114.2,1376.6 L114.1,1381.6 L114.0,1386.6 L113.9,1391.6 L113.9,1396.6 L113.8,1401.6 L113.6,1406.6 L113.5,1411.6 L113.4,1416.6 L113.3,1421.6 L113.2,1426.6 L113.0,1431.7 L112.9,1436.7 L112.7,1441.7 L112.5,1446.7 L112.3,1451.7 L112.0,1456.7 L111.8,1461.7 L111.5,1466.7 L111.2,1471.7 L110.8,1476.7 L110.4,1481.7 L110.0,1486.7 L109.4,1491.7 L108.9,1496.7 L108.2,1501.7 L107.4,1506.8 L106.6,1511.8 L105.6,1516.8 L104.4,1521.8 L103.1,1526.8 L101.6,1531.8 L99.8,1536.8 L97.8,1541.8 L103.8,1541.8 L105.8,1536.8 L107.6,1531.8 L109.1,1526.8 L110.4,1521.8 L111.6,1516.8 L112.6,1511.8 L113.4,1506.8 L114.2,1501.7 L114.9,1496.7 L115.4,1491.7 L116.0,1486.7 L116.4,1481.7 L116.8,1476.7 L117.2,1471.7 L117.5,1466.7 L117.8,1461.7 L118.0,1456.7 L118.3,1451.7 L118.5,1446.7 L118.7,1441.7 L118.9,1436.7 L119.0,1431.7 L119.2,1426.6 L119.3,1421.6 L119.4,1416.6 L119.5,1411.6 L119.6,1406.6 L119.8,1401.6 L119.9,1396.6 L119.9,1391.6 L120.0,1386.6 L120.1,1381.6 L120.2,1376.6 L120.3,1371.6 L120.4,1366.6 L120.4,1361.6 L120.5,1356.6 L120.6,1351.5 L120.6,1346.5 L120.7,1341.5 L120.7,1336.5 L120.8,1331.5 L120.9,1326.5 L120.9,1321.5 L121.0,1316.5 L121.0,1311.5 L121.1,1306.5 L121.1,1301.5 L121.2,1296.5 L121.2,1291.5 L121.2,1286.5 L121.3,1281.5 L121.3,1276.4 L121.3,1271.4 L121.3,1266.4 L121.3,1261.4 L121.3,1256.4 L121.3,1251.4 L121.3,1246.4 L121.3,1241.4Z" fill="rgb(223,223,223)" opacity="1" filter="url(#hb24)"/>
<path d="M143.1,1241.4 L143.1,1246.4 L143.1,1251.4 L143.1,1256.4 L143.1,1261.4 L143.1,1266.4 L143.1,1271.4 L143.1,1276.4 L143.1,1281.5 L143.1,1286.5 L143.1,1291.5 L143.1,1296.5 L143.1,1301.5 L143.1,1306.5 L143.1,1311.5 L143.1,1316.5 L143.1,1321.5 L143.1,1326.5 L143.1,1331.5 L143.1,1336.5 L143.1,1341.5 L143.1,1346.5 L143.1,1351.5 L143.1,1356.6 L143.1,1361.6 L143.1,1366.6 L143.1,1371.6 L143.1,1376.6 L143.1,1381.6 L143.1,1386.6 L143.1,1391.6 L143.1,1396.6 L143.1,1401.6 L143.1,1406.6 L143.1,1411.6 L143.1,1416.6 L147.6,1416.6 L147.6,1411.6 L147.6,1406.6 L147.6,1401.6 L147.6,1396.6 L147.6,1391.6 L147.6,1386.6 L147.6,1381.6 L147.6,1376.6 L147.6,1371.6 L147.6,1366.6 L147.6,1361.6 L147.6,1356.6 L147.6,1351.5 L147.6,1346.5 L147.6,1341.5 L147.6,1336.5 L147.6,1331.5 L147.6,1326.5 L147.6,1321.5 L147.6,1316.5 L147.6,1311.5 L147.6,1306.5 L147.6,1301.5 L147.6,1296.5 L147.6,1291.5 L147.6,1286.5 L147.6,1281.5 L147.6,1276.4 L147.6,1271.4 L147.6,1266.4 L147.6,1261.4 L147.6,1256.4 L147.6,1251.4 L147.6,1246.4 L147.6,1241.4Z" fill="rgb(182,182,182)" opacity="1" filter="url(#hb25)"/>

</g>
<path d="M95.2,1547.2V1542.2H180.7V1547.2 M131.8,1542.2v5" fill="none" stroke="#000" stroke-width="1"/>
<g filter="url(#hm8)">
<rect x="198.9" y="1239.4" width="91.7" height="304.4" fill="rgb(128,128,128)"/>
<rect x="242.5" y="1239.4" width="50.1" height="304.4" fill="url(#hg8)"/>
<rect x="215.5" y="1239.4" width="34.0" height="304.4" fill="rgb(133,133,133)" filter="url(#hb60)"/>
<path d="M229.0,1286.5 L228.9,1291.5 L228.9,1296.5 L228.8,1301.5 L228.8,1306.5 L228.7,1311.5 L228.7,1316.5 L228.6,1321.5 L228.5,1326.5 L228.5,1331.5 L228.4,1336.5 L228.3,1341.5 L228.2,1346.5 L228.2,1351.5 L228.1,1356.6 L228.0,1361.6 L227.9,1366.6 L227.8,1371.6 L227.7,1376.6 L227.6,1381.6 L227.5,1386.6 L227.4,1391.6 L227.3,1396.6 L227.1,1401.6 L227.0,1406.6 L226.9,1411.6 L226.7,1416.6 L226.6,1421.6 L226.4,1426.6 L226.3,1431.7 L226.1,1436.7 L225.9,1441.7 L225.7,1446.7 L225.4,1451.7 L225.2,1456.7 L224.9,1461.7 L224.6,1466.7 L224.2,1471.7 L223.8,1476.7 L223.4,1481.7 L222.9,1486.7 L222.4,1491.7 L221.8,1496.7 L221.1,1501.7 L220.3,1506.8 L219.4,1511.8 L218.3,1516.8 L217.2,1521.8 L215.8,1526.8 L214.3,1531.8 L212.5,1536.8 L210.5,1541.8 L235.0,1541.8 L235.0,1286.5Z" fill="url(#hn8)" filter="url(#hb24)"/>
<path d="M236.5,1241.4 L236.5,1246.4 L236.5,1251.4 L236.5,1256.4 L236.5,1261.4 L236.5,1266.4 L236.5,1271.4 L236.5,1276.4 L236.5,1281.5 L236.5,1286.5 L236.5,1291.5 L236.5,1296.5 L236.5,1301.5 L236.5,1306.5 L236.5,1311.5 L236.5,1316.5 L236.5,1321.5 L236.5,1326.5 L236.5,1331.5 L236.5,1336.5 L236.5,1341.5 L236.5,1346.5 L236.5,1351.5 L236.5,1356.6 L236.5,1361.6 L236.5,1366.6 L236.5,1371.6 L236.5,1376.6 L236.5,1381.6 L236.5,1386.6 L236.5,1391.6 L236.5,1396.6 L236.5,1401.6 L236.5,1406.6 L236.5,1411.6 L236.5,1416.6 L236.5,1421.6 L236.5,1426.6 L236.5,1431.7 L236.5,1436.7 L236.5,1441.7 L236.5,1446.7 L236.5,1451.7 L236.5,1456.7 L236.5,1461.7 L236.5,1466.7 L236.5,1471.7 L236.5,1476.7 L236.5,1481.7 L236.5,1486.7 L236.5,1491.7 L236.5,1496.7 L236.5,1501.7 L236.5,1506.8 L236.5,1511.8 L236.5,1516.8 L236.5,1521.8 L236.5,1526.8 L236.5,1531.8 L236.5,1536.8 L236.5,1541.8 L242.5,1541.8 L242.5,1536.8 L242.5,1531.8 L242.5,1526.8 L242.5,1521.8 L242.5,1516.8 L242.5,1511.8 L242.5,1506.8 L242.5,1501.7 L242.5,1496.7 L242.5,1491.7 L242.5,1486.7 L242.5,1481.7 L242.5,1476.7 L242.5,1471.7 L242.5,1466.7 L242.5,1461.7 L242.5,1456.7 L242.5,1451.7 L242.5,1446.7 L242.5,1441.7 L242.5,1436.7 L242.5,1431.7 L242.5,1426.6 L242.5,1421.6 L242.5,1416.6 L242.5,1411.6 L242.5,1406.6 L242.5,1401.6 L242.5,1396.6 L242.5,1391.6 L242.5,1386.6 L242.5,1381.6 L242.5,1376.6 L242.5,1371.6 L242.5,1366.6 L242.5,1361.6 L242.5,1356.6 L242.5,1351.5 L242.5,1346.5 L242.5,1341.5 L242.5,1336.5 L242.5,1331.5 L242.5,1326.5 L242.5,1321.5 L242.5,1316.5 L242.5,1311.5 L242.5,1306.5 L242.5,1301.5 L242.5,1296.5 L242.5,1291.5 L242.5,1286.5 L242.5,1281.5 L242.5,1276.4 L242.5,1271.4 L242.5,1266.4 L242.5,1261.4 L242.5,1256.4 L242.5,1251.4 L242.5,1246.4 L242.5,1241.4Z" fill="rgb(198,198,198)" opacity="1" filter="url(#hb24)"/>
<path d="M221.5,1241.4 L221.5,1246.4 L221.5,1251.4 L221.5,1256.4 L221.5,1261.4 L221.5,1266.4 L221.5,1271.4 L221.5,1276.4 L221.5,1281.5 L221.5,1286.5 L221.4,1291.5 L221.4,1296.5 L221.3,1301.5 L221.3,1306.5 L221.2,1311.5 L221.2,1316.5 L221.1,1321.5 L221.0,1326.5 L221.0,1331.5 L220.9,1336.5 L220.8,1341.5 L220.7,1346.5 L220.7,1351.5 L220.6,1356.6 L220.5,1361.6 L220.4,1366.6 L220.3,1371.6 L220.2,1376.6 L220.1,1381.6 L220.0,1386.6 L219.9,1391.6 L219.8,1396.6 L219.6,1401.6 L219.5,1406.6 L219.4,1411.6 L219.2,1416.6 L219.1,1421.6 L218.9,1426.6 L218.8,1431.7 L218.6,1436.7 L218.4,1441.7 L218.2,1446.7 L217.9,1451.7 L217.7,1456.7 L217.4,1461.7 L217.1,1466.7 L216.7,1471.7 L216.3,1476.7 L215.9,1481.7 L215.4,1486.7 L214.9,1491.7 L214.3,1496.7 L213.6,1501.7 L212.8,1506.8 L211.9,1511.8 L210.8,1516.8 L209.7,1521.8 L208.3,1526.8 L206.8,1531.8 L205.0,1536.8 L203.0,1541.8 L209.0,1541.8 L211.0,1536.8 L212.8,1531.8 L214.3,1526.8 L215.7,1521.8 L216.8,1516.8 L217.9,1511.8 L218.8,1506.8 L219.6,1501.7 L220.3,1496.7 L220.9,1491.7 L221.4,1486.7 L221.9,1481.7 L222.3,1476.7 L222.7,1471.7 L223.1,1466.7 L223.4,1461.7 L223.7,1456.7 L223.9,1451.7 L224.2,1446.7 L224.4,1441.7 L224.6,1436.7 L224.8,1431.7 L224.9,1426.6 L225.1,1421.6 L225.2,1416.6 L225.4,1411.6 L225.5,1406.6 L225.6,1401.6 L225.8,1396.6 L225.9,1391.6 L226.0,1386.6 L226.1,1381.6 L226.2,1376.6 L226.3,1371.6 L226.4,1366.6 L226.5,1361.6 L226.6,1356.6 L226.7,1351.5 L226.7,1346.5 L226.8,1341.5 L226.9,1336.5 L227.0,1331.5 L227.0,1326.5 L227.1,1321.5 L227.2,1316.5 L227.2,1311.5 L227.3,1306.5 L227.3,1301.5 L227.4,1296.5 L227.4,1291.5 L227.5,1286.5 L227.5,1281.5 L227.5,1276.4 L227.5,1271.4 L227.5,1266.4 L227.5,1261.4 L227.5,1256.4 L227.5,1251.4 L227.5,1246.4 L227.5,1241.4Z" fill="rgb(198,198,198)" opacity="1" filter="url(#hb24)"/>

</g>
<path d="M200.9,1547.2V1542.2H288.6V1547.2 M238.5,1542.2v5" fill="none" stroke="#000" stroke-width="1"/>
<g filter="url(#hm9)">
<rect x="308.5" y="1239.4" width="91.7" height="304.4" fill="rgb(128,128,128)"/>
<rect x="352.1" y="1239.4" width="50.1" height="304.4" fill="url(#hg9)"/>
<rect x="325.1" y="1239.4" width="34.0" height="304.4" fill="rgb(135,135,135)" filter="url(#hb60)"/>
<path d="M339.1,1271.4 L339.0,1276.4 L339.0,1281.5 L339.0,1286.5 L338.9,1291.5 L338.9,1296.5 L338.8,1301.5 L338.7,1306.5 L338.7,1311.5 L338.6,1316.5 L338.5,1321.5 L338.5,1326.5 L338.4,1331.5 L338.3,1336.5 L338.3,1341.5 L338.2,1346.5 L338.1,1351.5 L338.0,1356.6 L337.9,1361.6 L337.8,1366.6 L337.7,1371.6 L337.6,1376.6 L337.5,1381.6 L337.4,1386.6 L337.3,1391.6 L337.2,1396.6 L337.1,1401.6 L337.0,1406.6 L336.9,1411.6 L336.7,1416.6 L336.6,1421.6 L336.4,1426.6 L336.2,1431.7 L336.1,1436.7 L335.9,1441.7 L335.7,1446.7 L335.4,1451.7 L335.2,1456.7 L334.9,1461.7 L334.6,1466.7 L334.3,1471.7 L333.9,1476.7 L333.4,1481.7 L333.0,1486.7 L332.4,1491.7 L331.8,1496.7 L331.1,1501.7 L330.3,1506.8 L329.4,1511.8 L328.4,1516.8 L327.2,1521.8 L325.9,1526.8 L324.4,1531.8 L322.6,1536.8 L320.6,1541.8 L345.1,1541.8 L345.1,1271.4Z" fill="url(#hn9)" filter="url(#hb24)"/>
<path d="M346.1,1241.4 L346.1,1246.4 L346.1,1251.4 L346.1,1256.4 L346.1,1261.4 L346.1,1266.4 L346.1,1271.4 L346.1,1276.4 L346.1,1281.5 L346.1,1286.5 L346.1,1291.5 L346.1,1296.5 L346.1,1301.5 L346.1,1306.5 L346.1,1311.5 L346.1,1316.5 L346.1,1321.5 L346.1,1326.5 L346.1,1331.5 L346.1,1336.5 L346.1,1341.5 L346.1,1346.5 L346.1,1351.5 L346.1,1356.6 L346.1,1361.6 L346.1,1366.6 L346.1,1371.6 L346.1,1376.6 L346.1,1381.6 L346.1,1386.6 L346.1,1391.6 L346.1,1396.6 L346.1,1401.6 L346.1,1406.6 L346.1,1411.6 L346.1,1416.6 L346.1,1421.6 L346.1,1426.6 L346.1,1431.7 L346.1,1436.7 L346.1,1441.7 L346.1,1446.7 L346.1,1451.7 L346.1,1456.7 L346.1,1461.7 L346.1,1466.7 L346.1,1471.7 L346.1,1476.7 L346.1,1481.7 L346.1,1486.7 L346.1,1491.7 L346.1,1496.7 L346.1,1501.7 L346.1,1506.8 L346.1,1511.8 L346.1,1516.8 L346.1,1521.8 L346.1,1526.8 L346.1,1531.8 L346.1,1536.8 L346.1,1541.8 L352.1,1541.8 L352.1,1536.8 L352.1,1531.8 L352.1,1526.8 L352.1,1521.8 L352.1,1516.8 L352.1,1511.8 L352.1,1506.8 L352.1,1501.7 L352.1,1496.7 L352.1,1491.7 L352.1,1486.7 L352.1,1481.7 L352.1,1476.7 L352.1,1471.7 L352.1,1466.7 L352.1,1461.7 L352.1,1456.7 L352.1,1451.7 L352.1,1446.7 L352.1,1441.7 L352.1,1436.7 L352.1,1431.7 L352.1,1426.6 L352.1,1421.6 L352.1,1416.6 L352.1,1411.6 L352.1,1406.6 L352.1,1401.6 L352.1,1396.6 L352.1,1391.6 L352.1,1386.6 L352.1,1381.6 L352.1,1376.6 L352.1,1371.6 L352.1,1366.6 L352.1,1361.6 L352.1,1356.6 L352.1,1351.5 L352.1,1346.5 L352.1,1341.5 L352.1,1336.5 L352.1,1331.5 L352.1,1326.5 L352.1,1321.5 L352.1,1316.5 L352.1,1311.5 L352.1,1306.5 L352.1,1301.5 L352.1,1296.5 L352.1,1291.5 L352.1,1286.5 L352.1,1281.5 L352.1,1276.4 L352.1,1271.4 L352.1,1266.4 L352.1,1261.4 L352.1,1256.4 L352.1,1251.4 L352.1,1246.4 L352.1,1241.4Z" fill="rgb(215,215,215)" opacity="1" filter="url(#hb24)"/>
<path d="M331.6,1241.4 L331.6,1246.4 L331.6,1251.4 L331.6,1256.4 L331.6,1261.4 L331.6,1266.4 L331.6,1271.4 L331.5,1276.4 L331.5,1281.5 L331.5,1286.5 L331.4,1291.5 L331.4,1296.5 L331.3,1301.5 L331.2,1306.5 L331.2,1311.5 L331.1,1316.5 L331.0,1321.5 L331.0,1326.5 L330.9,1331.5 L330.8,1336.5 L330.8,1341.5 L330.7,1346.5 L330.6,1351.5 L330.5,1356.6 L330.4,1361.6 L330.3,1366.6 L330.2,1371.6 L330.1,1376.6 L330.0,1381.6 L329.9,1386.6 L329.8,1391.6 L329.7,1396.6 L329.6,1401.6 L329.5,1406.6 L329.4,1411.6 L329.2,1416.6 L329.1,1421.6 L328.9,1426.6 L328.7,1431.7 L328.6,1436.7 L328.4,1441.7 L328.2,1446.7 L327.9,1451.7 L327.7,1456.7 L327.4,1461.7 L327.1,1466.7 L326.8,1471.7 L326.4,1476.7 L325.9,1481.7 L325.5,1486.7 L324.9,1491.7 L324.3,1496.7 L323.6,1501.7 L322.8,1506.8 L321.9,1511.8 L320.9,1516.8 L319.7,1521.8 L318.4,1526.8 L316.9,1531.8 L315.1,1536.8 L313.1,1541.8 L319.1,1541.8 L321.1,1536.8 L322.9,1531.8 L324.4,1526.8 L325.7,1521.8 L326.9,1516.8 L327.9,1511.8 L328.8,1506.8 L329.6,1501.7 L330.3,1496.7 L330.9,1491.7 L331.5,1486.7 L331.9,1481.7 L332.4,1476.7 L332.8,1471.7 L333.1,1466.7 L333.4,1461.7 L333.7,1456.7 L333.9,1451.7 L334.2,1446.7 L334.4,1441.7 L334.6,1436.7 L334.7,1431.7 L334.9,1426.6 L335.1,1421.6 L335.2,1416.6 L335.4,1411.6 L335.5,1406.6 L335.6,1401.6 L335.7,1396.6 L335.8,1391.6 L335.9,1386.6 L336.0,1381.6 L336.1,1376.6 L336.2,1371.6 L336.3,1366.6 L336.4,1361.6 L336.5,1356.6 L336.6,1351.5 L336.7,1346.5 L336.8,1341.5 L336.8,1336.5 L336.9,1331.5 L337.0,1326.5 L337.0,1321.5 L337.1,1316.5 L337.2,1311.5 L337.2,1306.5 L337.3,1301.5 L337.4,1296.5 L337.4,1291.5 L337.5,1286.5 L337.5,1281.5 L337.5,1276.4 L337.6,1271.4 L337.6,1266.4 L337.6,1261.4 L337.6,1256.4 L337.6,1251.4 L337.6,1246.4 L337.6,1241.4Z" fill="rgb(204,204,204)" opacity="1" filter="url(#hb24)"/>
<path d="M359.1,1241.4 L359.1,1246.4 L359.1,1251.4 L359.1,1256.4 L359.1,1261.4 L359.1,1266.4 L359.1,1271.4 L359.1,1276.4 L359.1,1281.5 L359.1,1286.5 L359.1,1291.5 L359.1,1296.5 L359.1,1301.5 L359.1,1306.5 L359.1,1311.5 L359.1,1316.5 L359.1,1321.5 L359.1,1326.5 L359.1,1331.5 L359.1,1336.5 L359.1,1341.5 L359.1,1346.5 L359.1,1351.5 L359.1,1356.6 L359.1,1361.6 L359.1,1366.6 L359.1,1371.6 L359.1,1376.6 L359.1,1381.6 L359.1,1386.6 L359.1,1391.6 L359.1,1396.6 L359.1,1401.6 L359.1,1406.6 L359.1,1411.6 L359.1,1416.6 L359.1,1421.6 L359.1,1426.6 L359.1,1431.7 L359.1,1436.7 L359.1,1441.7 L359.1,1446.7 L359.1,1451.7 L359.1,1456.7 L359.1,1461.7 L359.1,1466.7 L359.1,1471.7 L359.1,1476.7 L359.1,1481.7 L359.1,1486.7 L359.1,1491.7 L359.1,1496.7 L359.1,1501.7 L359.1,1506.8 L359.1,1511.8 L359.1,1516.8 L359.1,1521.8 L359.1,1526.8 L359.1,1531.8 L359.1,1536.8 L359.1,1541.8 L363.1,1541.8 L363.1,1536.8 L363.1,1531.8 L363.1,1526.8 L363.1,1521.8 L363.1,1516.8 L363.1,1511.8 L363.1,1506.8 L363.1,1501.7 L363.1,1496.7 L363.1,1491.7 L363.1,1486.7 L363.1,1481.7 L363.1,1476.7 L363.1,1471.7 L363.1,1466.7 L363.1,1461.7 L363.1,1456.7 L363.1,1451.7 L363.1,1446.7 L363.1,1441.7 L363.1,1436.7 L363.1,1431.7 L363.1,1426.6 L363.1,1421.6 L363.1,1416.6 L363.1,1411.6 L363.1,1406.6 L363.1,1401.6 L363.1,1396.6 L363.1,1391.6 L363.1,1386.6 L363.1,1381.6 L363.1,1376.6 L363.1,1371.6 L363.1,1366.6 L363.1,1361.6 L363.1,1356.6 L363.1,1351.5 L363.1,1346.5 L363.1,1341.5 L363.1,1336.5 L363.1,1331.5 L363.1,1326.5 L363.1,1321.5 L363.1,1316.5 L363.1,1311.5 L363.1,1306.5 L363.1,1301.5 L363.1,1296.5 L363.1,1291.5 L363.1,1286.5 L363.1,1281.5 L363.1,1276.4 L363.1,1271.4 L363.1,1266.4 L363.1,1261.4 L363.1,1256.4 L363.1,1251.4 L363.1,1246.4 L363.1,1241.4Z" fill="rgb(169,169,169)" opacity="1" filter="url(#hb25)"/>

</g>
<path d="M310.5,1547.2V1542.2H398.2V1547.2 M348.1,1542.2v5" fill="none" stroke="#000" stroke-width="1"/>
<g filter="url(#hm10)">
<rect x="417.7" y="1239.4" width="92.2" height="304.4" fill="rgb(148,148,148)"/>
<rect x="461.5" y="1239.4" width="50.4" height="304.4" fill="url(#hg10)"/>
<path d="M448.5,1271.4 L448.5,1276.4 L448.4,1281.5 L448.4,1286.5 L448.4,1291.5 L448.3,1296.5 L448.3,1301.5 L448.2,1306.5 L448.2,1311.5 L448.1,1316.5 L448.1,1321.5 L448.0,1326.5 L448.0,1331.5 L447.9,1336.5 L447.8,1341.5 L447.8,1346.5 L447.7,1351.5 L447.6,1356.6 L447.6,1361.6 L447.5,1366.6 L447.4,1371.6 L447.4,1376.6 L447.3,1381.6 L447.2,1386.6 L447.1,1391.6 L447.0,1396.6 L446.9,1401.6 L446.8,1406.6 L446.7,1411.6 L446.6,1416.6 L446.5,1421.6 L446.3,1426.6 L446.2,1431.7 L446.0,1436.7 L445.8,1441.7 L445.6,1446.7 L445.4,1451.7 L445.2,1456.7 L444.9,1461.7 L444.7,1466.7 L444.3,1471.7 L444.0,1476.7 L443.6,1481.7 L443.1,1486.7 L442.6,1491.7 L442.0,1496.7 L441.3,1501.7 L440.6,1506.8 L439.7,1511.8 L438.7,1516.8 L437.6,1521.8 L436.2,1526.8 L434.7,1531.8 L433.0,1536.8 L431.0,1541.8 L454.5,1541.8 L454.5,1271.4Z" fill="url(#hn10)" filter="url(#hb24)"/>
<path d="M455.5,1241.4 L455.5,1246.4 L455.5,1251.4 L455.5,1256.4 L455.5,1261.4 L455.5,1266.4 L455.5,1271.4 L455.5,1276.4 L455.5,1281.5 L455.5,1286.5 L455.5,1291.5 L455.5,1296.5 L455.5,1301.5 L455.5,1306.5 L455.5,1311.5 L455.5,1316.5 L455.5,1321.5 L455.5,1326.5 L455.5,1331.5 L455.5,1336.5 L455.5,1341.5 L455.5,1346.5 L455.5,1351.5 L455.5,1356.6 L455.5,1361.6 L455.5,1366.6 L455.5,1371.6 L455.5,1376.6 L455.5,1381.6 L455.5,1386.6 L455.5,1391.6 L455.5,1396.6 L455.5,1401.6 L455.5,1406.6 L455.5,1411.6 L455.5,1416.6 L455.5,1421.6 L455.5,1426.6 L455.5,1431.7 L455.5,1436.7 L455.5,1441.7 L455.5,1446.7 L455.5,1451.7 L455.5,1456.7 L455.5,1461.7 L455.5,1466.7 L455.5,1471.7 L455.5,1476.7 L455.5,1481.7 L455.5,1486.7 L455.5,1491.7 L455.5,1496.7 L455.5,1501.7 L455.5,1506.8 L455.5,1511.8 L455.5,1516.8 L455.5,1521.8 L455.5,1526.8 L455.5,1531.8 L455.5,1536.8 L455.5,1541.8 L461.5,1541.8 L461.5,1536.8 L461.5,1531.8 L461.5,1526.8 L461.5,1521.8 L461.5,1516.8 L461.5,1511.8 L461.5,1506.8 L461.5,1501.7 L461.5,1496.7 L461.5,1491.7 L461.5,1486.7 L461.5,1481.7 L461.5,1476.7 L461.5,1471.7 L461.5,1466.7 L461.5,1461.7 L461.5,1456.7 L461.5,1451.7 L461.5,1446.7 L461.5,1441.7 L461.5,1436.7 L461.5,1431.7 L461.5,1426.6 L461.5,1421.6 L461.5,1416.6 L461.5,1411.6 L461.5,1406.6 L461.5,1401.6 L461.5,1396.6 L461.5,1391.6 L461.5,1386.6 L461.5,1381.6 L461.5,1376.6 L461.5,1371.6 L461.5,1366.6 L461.5,1361.6 L461.5,1356.6 L461.5,1351.5 L461.5,1346.5 L461.5,1341.5 L461.5,1336.5 L461.5,1331.5 L461.5,1326.5 L461.5,1321.5 L461.5,1316.5 L461.5,1311.5 L461.5,1306.5 L461.5,1301.5 L461.5,1296.5 L461.5,1291.5 L461.5,1286.5 L461.5,1281.5 L461.5,1276.4 L461.5,1271.4 L461.5,1266.4 L461.5,1261.4 L461.5,1256.4 L461.5,1251.4 L461.5,1246.4 L461.5,1241.4Z" fill="rgb(218,218,218)" opacity="1" filter="url(#hb24)"/>
<path d="M441.0,1241.4 L441.0,1246.4 L441.0,1251.4 L441.0,1256.4 L441.0,1261.4 L441.0,1266.4 L441.0,1271.4 L441.0,1276.4 L440.9,1281.5 L440.9,1286.5 L440.9,1291.5 L440.8,1296.5 L440.8,1301.5 L440.7,1306.5 L440.7,1311.5 L440.6,1316.5 L440.6,1321.5 L440.5,1326.5 L440.5,1331.5 L440.4,1336.5 L440.3,1341.5 L440.3,1346.5 L440.2,1351.5 L440.1,1356.6 L440.1,1361.6 L440.0,1366.6 L439.9,1371.6 L439.9,1376.6 L439.8,1381.6 L439.7,1386.6 L439.6,1391.6 L439.5,1396.6 L439.4,1401.6 L439.3,1406.6 L439.2,1411.6 L439.1,1416.6 L439.0,1421.6 L438.8,1426.6 L438.7,1431.7 L438.5,1436.7 L438.3,1441.7 L438.1,1446.7 L437.9,1451.7 L437.7,1456.7 L437.4,1461.7 L437.2,1466.7 L436.8,1471.7 L436.5,1476.7 L436.1,1481.7 L435.6,1486.7 L435.1,1491.7 L434.5,1496.7 L433.8,1501.7 L433.1,1506.8 L432.2,1511.8 L431.2,1516.8 L430.1,1521.8 L428.7,1526.8 L427.2,1531.8 L425.5,1536.8 L423.5,1541.8 L429.5,1541.8 L431.5,1536.8 L433.2,1531.8 L434.7,1526.8 L436.1,1521.8 L437.2,1516.8 L438.2,1511.8 L439.1,1506.8 L439.8,1501.7 L440.5,1496.7 L441.1,1491.7 L441.6,1486.7 L442.1,1481.7 L442.5,1476.7 L442.8,1471.7 L443.2,1466.7 L443.4,1461.7 L443.7,1456.7 L443.9,1451.7 L444.1,1446.7 L444.3,1441.7 L444.5,1436.7 L444.7,1431.7 L444.8,1426.6 L445.0,1421.6 L445.1,1416.6 L445.2,1411.6 L445.3,1406.6 L445.4,1401.6 L445.5,1396.6 L445.6,1391.6 L445.7,1386.6 L445.8,1381.6 L445.9,1376.6 L445.9,1371.6 L446.0,1366.6 L446.1,1361.6 L446.1,1356.6 L446.2,1351.5 L446.3,1346.5 L446.3,1341.5 L446.4,1336.5 L446.5,1331.5 L446.5,1326.5 L446.6,1321.5 L446.6,1316.5 L446.7,1311.5 L446.7,1306.5 L446.8,1301.5 L446.8,1296.5 L446.9,1291.5 L446.9,1286.5 L446.9,1281.5 L447.0,1276.4 L447.0,1271.4 L447.0,1266.4 L447.0,1261.4 L447.0,1256.4 L447.0,1251.4 L447.0,1246.4 L447.0,1241.4Z" fill="rgb(218,218,218)" opacity="1" filter="url(#hb24)"/>

</g>
<path d="M419.7,1547.2V1542.2H507.9V1547.2 M457.5,1542.2v5" fill="none" stroke="#000" stroke-width="1"/>
<g filter="url(#hm11)">
<rect x="526.0" y="1239.4" width="92.2" height="304.4" fill="rgb(135,135,135)"/>
<rect x="569.8" y="1239.4" width="50.4" height="304.4" fill="url(#hg11)"/>
<rect x="542.8" y="1239.4" width="34.0" height="304.4" fill="rgb(142,142,142)" filter="url(#hb60)"/>
<path d="M556.8,1261.4 L556.8,1266.4 L556.7,1271.4 L556.7,1276.4 L556.7,1281.5 L556.6,1286.5 L556.6,1291.5 L556.5,1296.5 L556.5,1301.5 L556.4,1306.5 L556.4,1311.5 L556.3,1316.5 L556.3,1321.5 L556.2,1326.5 L556.2,1331.5 L556.1,1336.5 L556.1,1341.5 L556.0,1346.5 L555.9,1351.5 L555.9,1356.6 L555.8,1361.6 L555.7,1366.6 L555.7,1371.6 L555.6,1376.6 L555.5,1381.6 L555.4,1386.6 L555.3,1391.6 L555.2,1396.6 L555.1,1401.6 L555.0,1406.6 L554.9,1411.6 L554.8,1416.6 L554.7,1421.6 L554.6,1426.6 L554.4,1431.7 L554.3,1436.7 L554.1,1441.7 L553.9,1446.7 L553.7,1451.7 L553.5,1456.7 L553.2,1461.7 L552.9,1466.7 L552.6,1471.7 L552.2,1476.7 L551.8,1481.7 L551.4,1486.7 L550.9,1491.7 L550.3,1496.7 L549.6,1501.7 L548.9,1506.8 L548.0,1511.8 L547.0,1516.8 L545.9,1521.8 L544.5,1526.8 L543.0,1531.8 L541.3,1536.8 L539.3,1541.8 L562.8,1541.8 L562.8,1261.4Z" fill="url(#hn11)" filter="url(#hb24)"/>
<path d="M563.8,1241.4 L563.8,1246.4 L563.8,1251.4 L563.8,1256.4 L563.8,1261.4 L563.8,1266.4 L563.8,1271.4 L563.8,1276.4 L563.8,1281.5 L563.8,1286.5 L563.8,1291.5 L563.8,1296.5 L563.8,1301.5 L563.8,1306.5 L563.8,1311.5 L563.8,1316.5 L563.8,1321.5 L563.8,1326.5 L563.8,1331.5 L563.8,1336.5 L563.8,1341.5 L563.8,1346.5 L563.8,1351.5 L563.8,1356.6 L563.8,1361.6 L563.8,1366.6 L563.8,1371.6 L563.8,1376.6 L563.8,1381.6 L563.8,1386.6 L563.8,1391.6 L563.8,1396.6 L563.8,1401.6 L563.8,1406.6 L563.8,1411.6 L563.8,1416.6 L563.8,1421.6 L563.8,1426.6 L563.8,1431.7 L563.8,1436.7 L563.8,1441.7 L563.8,1446.7 L563.8,1451.7 L563.8,1456.7 L563.8,1461.7 L563.8,1466.7 L563.8,1471.7 L563.8,1476.7 L563.8,1481.7 L563.8,1486.7 L563.8,1491.7 L563.8,1496.7 L563.8,1501.7 L563.8,1506.8 L563.8,1511.8 L563.8,1516.8 L563.8,1521.8 L563.8,1526.8 L563.8,1531.8 L563.8,1536.8 L563.8,1541.8 L569.8,1541.8 L569.8,1536.8 L569.8,1531.8 L569.8,1526.8 L569.8,1521.8 L569.8,1516.8 L569.8,1511.8 L569.8,1506.8 L569.8,1501.7 L569.8,1496.7 L569.8,1491.7 L569.8,1486.7 L569.8,1481.7 L569.8,1476.7 L569.8,1471.7 L569.8,1466.7 L569.8,1461.7 L569.8,1456.7 L569.8,1451.7 L569.8,1446.7 L569.8,1441.7 L569.8,1436.7 L569.8,1431.7 L569.8,1426.6 L569.8,1421.6 L569.8,1416.6 L569.8,1411.6 L569.8,1406.6 L569.8,1401.6 L569.8,1396.6 L569.8,1391.6 L569.8,1386.6 L569.8,1381.6 L569.8,1376.6 L569.8,1371.6 L569.8,1366.6 L569.8,1361.6 L569.8,1356.6 L569.8,1351.5 L569.8,1346.5 L569.8,1341.5 L569.8,1336.5 L569.8,1331.5 L569.8,1326.5 L569.8,1321.5 L569.8,1316.5 L569.8,1311.5 L569.8,1306.5 L569.8,1301.5 L569.8,1296.5 L569.8,1291.5 L569.8,1286.5 L569.8,1281.5 L569.8,1276.4 L569.8,1271.4 L569.8,1266.4 L569.8,1261.4 L569.8,1256.4 L569.8,1251.4 L569.8,1246.4 L569.8,1241.4Z" fill="rgb(229,229,229)" opacity="1" filter="url(#hb24)"/>
<path d="M549.3,1241.4 L549.3,1246.4 L549.3,1251.4 L549.3,1256.4 L549.3,1261.4 L549.3,1266.4 L549.2,1271.4 L549.2,1276.4 L549.2,1281.5 L549.1,1286.5 L549.1,1291.5 L549.0,1296.5 L549.0,1301.5 L548.9,1306.5 L548.9,1311.5 L548.8,1316.5 L548.8,1321.5 L548.7,1326.5 L548.7,1331.5 L548.6,1336.5 L548.6,1341.5 L548.5,1346.5 L548.4,1351.5 L548.4,1356.6 L548.3,1361.6 L548.2,1366.6 L548.2,1371.6 L548.1,1376.6 L548.0,1381.6 L547.9,1386.6 L547.8,1391.6 L547.7,1396.6 L547.6,1401.6 L547.5,1406.6 L547.4,1411.6 L547.3,1416.6 L547.2,1421.6 L547.1,1426.6 L546.9,1431.7 L546.8,1436.7 L546.6,1441.7 L546.4,1446.7 L546.2,1451.7 L546.0,1456.7 L545.7,1461.7 L545.4,1466.7 L545.1,1471.7 L544.7,1476.7 L544.3,1481.7 L543.9,1486.7 L543.4,1491.7 L542.8,1496.7 L542.1,1501.7 L541.4,1506.8 L540.5,1511.8 L539.5,1516.8 L538.4,1521.8 L537.0,1526.8 L535.5,1531.8 L533.8,1536.8 L531.8,1541.8 L537.8,1541.8 L539.8,1536.8 L541.5,1531.8 L543.0,1526.8 L544.4,1521.8 L545.5,1516.8 L546.5,1511.8 L547.4,1506.8 L548.1,1501.7 L548.8,1496.7 L549.4,1491.7 L549.9,1486.7 L550.3,1481.7 L550.7,1476.7 L551.1,1471.7 L551.4,1466.7 L551.7,1461.7 L552.0,1456.7 L552.2,1451.7 L552.4,1446.7 L552.6,1441.7 L552.8,1436.7 L552.9,1431.7 L553.1,1426.6 L553.2,1421.6 L553.3,1416.6 L553.4,1411.6 L553.5,1406.6 L553.6,1401.6 L553.7,1396.6 L553.8,1391.6 L553.9,1386.6 L554.0,1381.6 L554.1,1376.6 L554.2,1371.6 L554.2,1366.6 L554.3,1361.6 L554.4,1356.6 L554.4,1351.5 L554.5,1346.5 L554.6,1341.5 L554.6,1336.5 L554.7,1331.5 L554.7,1326.5 L554.8,1321.5 L554.8,1316.5 L554.9,1311.5 L554.9,1306.5 L555.0,1301.5 L555.0,1296.5 L555.1,1291.5 L555.1,1286.5 L555.2,1281.5 L555.2,1276.4 L555.2,1271.4 L555.3,1266.4 L555.3,1261.4 L555.3,1256.4 L555.3,1251.4 L555.3,1246.4 L555.3,1241.4Z" fill="rgb(223,223,223)" opacity="1" filter="url(#hb24)"/>
<path d="M577.0,1241.4 L577.0,1246.4 L577.0,1251.4 L577.0,1256.4 L577.0,1261.4 L577.0,1266.4 L577.0,1271.4 L577.0,1276.4 L577.0,1281.5 L577.0,1286.5 L577.0,1291.5 L577.0,1296.5 L577.0,1301.5 L577.0,1306.5 L577.0,1311.5 L577.0,1316.5 L577.0,1321.5 L577.0,1326.5 L577.0,1331.5 L577.0,1336.5 L577.0,1341.5 L577.0,1346.5 L577.0,1351.5 L577.0,1356.6 L577.0,1361.6 L577.0,1366.6 L577.0,1371.6 L577.0,1376.6 L577.0,1381.6 L577.0,1386.6 L577.0,1391.6 L577.0,1396.6 L577.0,1401.6 L577.0,1406.6 L577.0,1411.6 L577.0,1416.6 L577.0,1421.6 L577.0,1426.6 L577.0,1431.7 L577.0,1436.7 L577.0,1441.7 L577.0,1446.7 L577.0,1451.7 L577.0,1456.7 L577.0,1461.7 L577.0,1466.7 L577.0,1471.7 L577.0,1476.7 L577.0,1481.7 L577.0,1486.7 L577.0,1491.7 L577.0,1496.7 L577.0,1501.7 L577.0,1506.8 L577.0,1511.8 L577.0,1516.8 L577.0,1521.8 L577.0,1526.8 L577.0,1531.8 L577.0,1536.8 L577.0,1541.8 L581.5,1541.8 L581.5,1536.8 L581.5,1531.8 L581.5,1526.8 L581.5,1521.8 L581.5,1516.8 L581.5,1511.8 L581.5,1506.8 L581.5,1501.7 L581.5,1496.7 L581.5,1491.7 L581.5,1486.7 L581.5,1481.7 L581.5,1476.7 L581.5,1471.7 L581.5,1466.7 L581.5,1461.7 L581.5,1456.7 L581.5,1451.7 L581.5,1446.7 L581.5,1441.7 L581.5,1436.7 L581.5,1431.7 L581.5,1426.6 L581.5,1421.6 L581.5,1416.6 L581.5,1411.6 L581.5,1406.6 L581.5,1401.6 L581.5,1396.6 L581.5,1391.6 L581.5,1386.6 L581.5,1381.6 L581.5,1376.6 L581.5,1371.6 L581.5,1366.6 L581.5,1361.6 L581.5,1356.6 L581.5,1351.5 L581.5,1346.5 L581.5,1341.5 L581.5,1336.5 L581.5,1331.5 L581.5,1326.5 L581.5,1321.5 L581.5,1316.5 L581.5,1311.5 L581.5,1306.5 L581.5,1301.5 L581.5,1296.5 L581.5,1291.5 L581.5,1286.5 L581.5,1281.5 L581.5,1276.4 L581.5,1271.4 L581.5,1266.4 L581.5,1261.4 L581.5,1256.4 L581.5,1251.4 L581.5,1246.4 L581.5,1241.4Z" fill="rgb(176,176,176)" opacity="1" filter="url(#hb25)"/>

</g>
<path d="M528.0,1547.2V1542.2H616.2V1547.2 M565.8,1542.2v5" fill="none" stroke="#000" stroke-width="1"/>
<g filter="url(#hm12)">
<rect x="93.2" y="1608.4" width="91.3" height="304.5" fill="rgb(133,133,133)"/>
<rect x="136.6" y="1608.4" width="49.9" height="304.5" fill="url(#hg12)"/>
<rect x="109.6" y="1608.4" width="34.0" height="304.5" fill="rgb(141,141,141)" filter="url(#hb60)"/>
<path d="M123.6,1640.5 L123.6,1645.5 L123.6,1650.5 L123.5,1655.5 L123.5,1660.5 L123.4,1665.5 L123.4,1670.5 L123.4,1675.5 L123.3,1680.5 L123.3,1685.5 L123.2,1690.5 L123.1,1695.5 L123.1,1700.6 L123.0,1705.6 L123.0,1710.6 L122.9,1715.6 L122.8,1720.6 L122.8,1725.6 L122.7,1730.6 L122.6,1735.6 L122.6,1740.6 L122.5,1745.6 L122.4,1750.6 L122.3,1755.6 L122.2,1760.7 L122.1,1765.7 L122.0,1770.7 L121.9,1775.7 L121.8,1780.7 L121.7,1785.7 L121.6,1790.7 L121.4,1795.7 L121.3,1800.7 L121.1,1805.7 L121.0,1810.7 L120.8,1815.7 L120.6,1820.8 L120.3,1825.8 L120.1,1830.8 L119.8,1835.8 L119.5,1840.8 L119.1,1845.8 L118.7,1850.8 L118.2,1855.8 L117.7,1860.8 L117.1,1865.8 L116.5,1870.8 L115.7,1875.8 L114.8,1880.9 L113.8,1885.9 L112.7,1890.9 L111.4,1895.9 L109.9,1900.9 L108.1,1905.9 L106.1,1910.9 L129.6,1910.9 L129.6,1640.5Z" fill="url(#hn12)" filter="url(#hb24)"/>
<path d="M130.6,1610.4 L130.6,1615.4 L130.6,1620.4 L130.6,1625.4 L130.6,1630.4 L130.6,1635.4 L130.6,1640.5 L130.6,1645.5 L130.6,1650.5 L130.6,1655.5 L130.6,1660.5 L130.6,1665.5 L130.6,1670.5 L130.6,1675.5 L130.6,1680.5 L130.6,1685.5 L130.6,1690.5 L130.6,1695.5 L130.6,1700.6 L130.6,1705.6 L130.6,1710.6 L130.6,1715.6 L130.6,1720.6 L130.6,1725.6 L130.6,1730.6 L130.6,1735.6 L130.6,1740.6 L130.6,1745.6 L130.6,1750.6 L130.6,1755.6 L130.6,1760.7 L130.6,1765.7 L130.6,1770.7 L130.6,1775.7 L130.6,1780.7 L130.6,1785.7 L130.6,1790.7 L130.6,1795.7 L130.6,1800.7 L130.6,1805.7 L130.6,1810.7 L130.6,1815.7 L130.6,1820.8 L130.6,1825.8 L130.6,1830.8 L130.6,1835.8 L130.6,1840.8 L130.6,1845.8 L130.6,1850.8 L130.6,1855.8 L130.6,1860.8 L130.6,1865.8 L130.6,1870.8 L130.6,1875.8 L130.6,1880.9 L130.6,1885.9 L130.6,1890.9 L130.6,1895.9 L130.6,1900.9 L130.6,1905.9 L130.6,1910.9 L136.6,1910.9 L136.6,1905.9 L136.6,1900.9 L136.6,1895.9 L136.6,1890.9 L136.6,1885.9 L136.6,1880.9 L136.6,1875.8 L136.6,1870.8 L136.6,1865.8 L136.6,1860.8 L136.6,1855.8 L136.6,1850.8 L136.6,1845.8 L136.6,1840.8 L136.6,1835.8 L136.6,1830.8 L136.6,1825.8 L136.6,1820.8 L136.6,1815.7 L136.6,1810.7 L136.6,1805.7 L136.6,1800.7 L136.6,1795.7 L136.6,1790.7 L136.6,1785.7 L136.6,1780.7 L136.6,1775.7 L136.6,1770.7 L136.6,1765.7 L136.6,1760.7 L136.6,1755.6 L136.6,1750.6 L136.6,1745.6 L136.6,1740.6 L136.6,1735.6 L136.6,1730.6 L136.6,1725.6 L136.6,1720.6 L136.6,1715.6 L136.6,1710.6 L136.6,1705.6 L136.6,1700.6 L136.6,1695.5 L136.6,1690.5 L136.6,1685.5 L136.6,1680.5 L136.6,1675.5 L136.6,1670.5 L136.6,1665.5 L136.6,1660.5 L136.6,1655.5 L136.6,1650.5 L136.6,1645.5 L136.6,1640.5 L136.6,1635.4 L136.6,1630.4 L136.6,1625.4 L136.6,1620.4 L136.6,1615.4 L136.6,1610.4Z" fill="rgb(226,226,226)" opacity="1" filter="url(#hb24)"/>
<path d="M116.1,1610.4 L116.1,1615.4 L116.1,1620.4 L116.1,1625.4 L116.1,1630.4 L116.1,1635.4 L116.1,1640.5 L116.1,1645.5 L116.1,1650.5 L116.0,1655.5 L116.0,1660.5 L115.9,1665.5 L115.9,1670.5 L115.9,1675.5 L115.8,1680.5 L115.8,1685.5 L115.7,1690.5 L115.6,1695.5 L115.6,1700.6 L115.5,1705.6 L115.5,1710.6 L115.4,1715.6 L115.3,1720.6 L115.3,1725.6 L115.2,1730.6 L115.1,1735.6 L115.1,1740.6 L115.0,1745.6 L114.9,1750.6 L114.8,1755.6 L114.7,1760.7 L114.6,1765.7 L114.5,1770.7 L114.4,1775.7 L114.3,1780.7 L114.2,1785.7 L114.1,1790.7 L113.9,1795.7 L113.8,1800.7 L113.6,1805.7 L113.5,1810.7 L113.3,1815.7 L113.1,1820.8 L112.8,1825.8 L112.6,1830.8 L112.3,1835.8 L112.0,1840.8 L111.6,1845.8 L111.2,1850.8 L110.7,1855.8 L110.2,1860.8 L109.6,1865.8 L109.0,1870.8 L108.2,1875.8 L107.3,1880.9 L106.3,1885.9 L105.2,1890.9 L103.9,1895.9 L102.4,1900.9 L100.6,1905.9 L98.6,1910.9 L104.6,1910.9 L106.6,1905.9 L108.4,1900.9 L109.9,1895.9 L111.2,1890.9 L112.3,1885.9 L113.3,1880.9 L114.2,1875.8 L115.0,1870.8 L115.6,1865.8 L116.2,1860.8 L116.7,1855.8 L117.2,1850.8 L117.6,1845.8 L118.0,1840.8 L118.3,1835.8 L118.6,1830.8 L118.8,1825.8 L119.1,1820.8 L119.3,1815.7 L119.5,1810.7 L119.6,1805.7 L119.8,1800.7 L119.9,1795.7 L120.1,1790.7 L120.2,1785.7 L120.3,1780.7 L120.4,1775.7 L120.5,1770.7 L120.6,1765.7 L120.7,1760.7 L120.8,1755.6 L120.9,1750.6 L121.0,1745.6 L121.1,1740.6 L121.1,1735.6 L121.2,1730.6 L121.3,1725.6 L121.3,1720.6 L121.4,1715.6 L121.5,1710.6 L121.5,1705.6 L121.6,1700.6 L121.6,1695.5 L121.7,1690.5 L121.8,1685.5 L121.8,1680.5 L121.9,1675.5 L121.9,1670.5 L121.9,1665.5 L122.0,1660.5 L122.0,1655.5 L122.1,1650.5 L122.1,1645.5 L122.1,1640.5 L122.1,1635.4 L122.1,1630.4 L122.1,1625.4 L122.1,1620.4 L122.1,1615.4 L122.1,1610.4Z" fill="rgb(226,226,226)" opacity="1" filter="url(#hb24)"/>
<path d="M143.9,1610.4 L143.9,1615.4 L143.9,1620.4 L143.9,1625.4 L143.9,1630.4 L143.9,1635.4 L143.9,1640.5 L143.9,1645.5 L143.9,1650.5 L143.9,1655.5 L143.9,1660.5 L143.9,1665.5 L143.9,1670.5 L143.9,1675.5 L143.9,1680.5 L143.9,1685.5 L143.9,1690.5 L143.9,1695.5 L143.9,1700.6 L143.9,1705.6 L143.9,1710.6 L143.9,1715.6 L143.9,1720.6 L143.9,1725.6 L143.9,1730.6 L143.9,1735.6 L143.9,1740.6 L143.9,1745.6 L143.9,1750.6 L143.9,1755.6 L143.9,1760.7 L143.9,1765.7 L143.9,1770.7 L143.9,1775.7 L143.9,1780.7 L143.9,1785.7 L143.9,1790.7 L143.9,1795.7 L143.9,1800.7 L143.9,1805.7 L143.9,1810.7 L143.9,1815.7 L143.9,1820.8 L143.9,1825.8 L143.9,1830.8 L143.9,1835.8 L143.9,1840.8 L143.9,1845.8 L143.9,1850.8 L143.9,1855.8 L143.9,1860.8 L143.9,1865.8 L143.9,1870.8 L143.9,1875.8 L143.9,1880.9 L143.9,1885.9 L143.9,1890.9 L143.9,1895.9 L143.9,1900.9 L143.9,1905.9 L143.9,1910.9 L148.4,1910.9 L148.4,1905.9 L148.4,1900.9 L148.4,1895.9 L148.4,1890.9 L148.4,1885.9 L148.4,1880.9 L148.4,1875.8 L148.4,1870.8 L148.4,1865.8 L148.4,1860.8 L148.4,1855.8 L148.4,1850.8 L148.4,1845.8 L148.4,1840.8 L148.4,1835.8 L148.4,1830.8 L148.4,1825.8 L148.4,1820.8 L148.4,1815.7 L148.4,1810.7 L148.4,1805.7 L148.4,1800.7 L148.4,1795.7 L148.4,1790.7 L148.4,1785.7 L148.4,1780.7 L148.4,1775.7 L148.4,1770.7 L148.4,1765.7 L148.4,1760.7 L148.4,1755.6 L148.4,1750.6 L148.4,1745.6 L148.4,1740.6 L148.4,1735.6 L148.4,1730.6 L148.4,1725.6 L148.4,1720.6 L148.4,1715.6 L148.4,1710.6 L148.4,1705.6 L148.4,1700.6 L148.4,1695.5 L148.4,1690.5 L148.4,1685.5 L148.4,1680.5 L148.4,1675.5 L148.4,1670.5 L148.4,1665.5 L148.4,1660.5 L148.4,1655.5 L148.4,1650.5 L148.4,1645.5 L148.4,1640.5 L148.4,1635.4 L148.4,1630.4 L148.4,1625.4 L148.4,1620.4 L148.4,1615.4 L148.4,1610.4Z" fill="rgb(162,162,162)" opacity="1" filter="url(#hb25)"/>

</g>
<path d="M95.2,1916.3V1911.3H182.5V1916.3 M132.6,1911.3v5" fill="none" stroke="#000" stroke-width="1"/>
<g filter="url(#hm13)">
<rect x="195.4" y="1608.4" width="92.1" height="304.5" fill="rgb(122,122,122)"/>
<rect x="239.2" y="1608.4" width="50.3" height="304.5" fill="url(#hg13)"/>
<rect x="212.2" y="1608.4" width="34.0" height="304.5" fill="rgb(129,129,129)" filter="url(#hb60)"/>
<path d="M224.6,1650.5 L224.6,1655.5 L224.6,1660.5 L224.6,1665.5 L224.5,1670.5 L224.5,1675.5 L224.4,1680.5 L224.4,1685.5 L224.3,1690.5 L224.3,1695.5 L224.2,1700.6 L224.2,1705.6 L224.1,1710.6 L224.0,1715.6 L224.0,1720.6 L223.9,1725.6 L223.8,1730.6 L223.8,1735.6 L223.7,1740.6 L223.6,1745.6 L223.5,1750.6 L223.4,1755.6 L223.3,1760.7 L223.2,1765.7 L223.1,1770.7 L223.0,1775.7 L222.9,1780.7 L222.8,1785.7 L222.7,1790.7 L222.5,1795.7 L222.4,1800.7 L222.2,1805.7 L222.1,1810.7 L221.9,1815.7 L221.7,1820.8 L221.4,1825.8 L221.2,1830.8 L220.9,1835.8 L220.5,1840.8 L220.2,1845.8 L219.8,1850.8 L219.3,1855.8 L218.8,1860.8 L218.2,1865.8 L217.5,1870.8 L216.8,1875.8 L215.9,1880.9 L214.9,1885.9 L213.7,1890.9 L212.4,1895.9 L210.9,1900.9 L209.2,1905.9 L207.2,1910.9 L231.7,1910.9 L231.7,1650.5Z" fill="url(#hn13)" filter="url(#hb24)"/>
<path d="M233.2,1610.4 L233.2,1615.4 L233.2,1620.4 L233.2,1625.4 L233.2,1630.4 L233.2,1635.4 L233.2,1640.5 L233.2,1645.5 L233.2,1650.5 L233.2,1655.5 L233.2,1660.5 L233.2,1665.5 L233.2,1670.5 L233.2,1675.5 L233.2,1680.5 L233.2,1685.5 L233.2,1690.5 L233.2,1695.5 L233.2,1700.6 L233.2,1705.6 L233.2,1710.6 L233.2,1715.6 L233.2,1720.6 L233.2,1725.6 L233.2,1730.6 L233.2,1735.6 L233.2,1740.6 L233.2,1745.6 L233.2,1750.6 L233.2,1755.6 L233.2,1760.7 L233.2,1765.7 L233.2,1770.7 L233.2,1775.7 L233.2,1780.7 L233.2,1785.7 L233.2,1790.7 L233.2,1795.7 L233.2,1800.7 L233.2,1805.7 L233.2,1810.7 L233.2,1815.7 L233.2,1820.8 L233.2,1825.8 L233.2,1830.8 L233.2,1835.8 L233.2,1840.8 L233.2,1845.8 L233.2,1850.8 L233.2,1855.8 L233.2,1860.8 L233.2,1865.8 L233.2,1870.8 L233.2,1875.8 L233.2,1880.9 L233.2,1885.9 L233.2,1890.9 L233.2,1895.9 L233.2,1900.9 L233.2,1905.9 L233.2,1910.9 L239.2,1910.9 L239.2,1905.9 L239.2,1900.9 L239.2,1895.9 L239.2,1890.9 L239.2,1885.9 L239.2,1880.9 L239.2,1875.8 L239.2,1870.8 L239.2,1865.8 L239.2,1860.8 L239.2,1855.8 L239.2,1850.8 L239.2,1845.8 L239.2,1840.8 L239.2,1835.8 L239.2,1830.8 L239.2,1825.8 L239.2,1820.8 L239.2,1815.7 L239.2,1810.7 L239.2,1805.7 L239.2,1800.7 L239.2,1795.7 L239.2,1790.7 L239.2,1785.7 L239.2,1780.7 L239.2,1775.7 L239.2,1770.7 L239.2,1765.7 L239.2,1760.7 L239.2,1755.6 L239.2,1750.6 L239.2,1745.6 L239.2,1740.6 L239.2,1735.6 L239.2,1730.6 L239.2,1725.6 L239.2,1720.6 L239.2,1715.6 L239.2,1710.6 L239.2,1705.6 L239.2,1700.6 L239.2,1695.5 L239.2,1690.5 L239.2,1685.5 L239.2,1680.5 L239.2,1675.5 L239.2,1670.5 L239.2,1665.5 L239.2,1660.5 L239.2,1655.5 L239.2,1650.5 L239.2,1645.5 L239.2,1640.5 L239.2,1635.4 L239.2,1630.4 L239.2,1625.4 L239.2,1620.4 L239.2,1615.4 L239.2,1610.4Z" fill="rgb(205,205,205)" opacity="1" filter="url(#hb24)"/>
<path d="M217.2,1610.4 L217.2,1615.4 L217.2,1620.4 L217.2,1625.4 L217.2,1630.4 L217.2,1635.4 L217.2,1640.5 L217.2,1645.5 L217.1,1650.5 L217.1,1655.5 L217.1,1660.5 L217.1,1665.5 L217.0,1670.5 L217.0,1675.5 L216.9,1680.5 L216.9,1685.5 L216.8,1690.5 L216.8,1695.5 L216.7,1700.6 L216.7,1705.6 L216.6,1710.6 L216.5,1715.6 L216.5,1720.6 L216.4,1725.6 L216.3,1730.6 L216.3,1735.6 L216.2,1740.6 L216.1,1745.6 L216.0,1750.6 L215.9,1755.6 L215.8,1760.7 L215.7,1765.7 L215.6,1770.7 L215.5,1775.7 L215.4,1780.7 L215.3,1785.7 L215.2,1790.7 L215.0,1795.7 L214.9,1800.7 L214.7,1805.7 L214.6,1810.7 L214.4,1815.7 L214.2,1820.8 L213.9,1825.8 L213.7,1830.8 L213.4,1835.8 L213.0,1840.8 L212.7,1845.8 L212.3,1850.8 L211.8,1855.8 L211.3,1860.8 L210.7,1865.8 L210.0,1870.8 L209.3,1875.8 L208.4,1880.9 L207.4,1885.9 L206.2,1890.9 L204.9,1895.9 L203.4,1900.9 L201.7,1905.9 L199.7,1910.9 L205.7,1910.9 L207.7,1905.9 L209.4,1900.9 L210.9,1895.9 L212.2,1890.9 L213.4,1885.9 L214.4,1880.9 L215.3,1875.8 L216.0,1870.8 L216.7,1865.8 L217.3,1860.8 L217.8,1855.8 L218.3,1850.8 L218.7,1845.8 L219.0,1840.8 L219.4,1835.8 L219.7,1830.8 L219.9,1825.8 L220.2,1820.8 L220.4,1815.7 L220.6,1810.7 L220.7,1805.7 L220.9,1800.7 L221.0,1795.7 L221.2,1790.7 L221.3,1785.7 L221.4,1780.7 L221.5,1775.7 L221.6,1770.7 L221.7,1765.7 L221.8,1760.7 L221.9,1755.6 L222.0,1750.6 L222.1,1745.6 L222.2,1740.6 L222.3,1735.6 L222.3,1730.6 L222.4,1725.6 L222.5,1720.6 L222.5,1715.6 L222.6,1710.6 L222.7,1705.6 L222.7,1700.6 L222.8,1695.5 L222.8,1690.5 L222.9,1685.5 L222.9,1680.5 L223.0,1675.5 L223.0,1670.5 L223.1,1665.5 L223.1,1660.5 L223.1,1655.5 L223.1,1650.5 L223.2,1645.5 L223.2,1640.5 L223.2,1635.4 L223.2,1630.4 L223.2,1625.4 L223.2,1620.4 L223.2,1615.4 L223.2,1610.4Z" fill="rgb(205,205,205)" opacity="1" filter="url(#hb24)"/>

</g>
<path d="M197.4,1916.3V1911.3H285.5V1916.3 M235.2,1911.3v5" fill="none" stroke="#000" stroke-width="1"/>
<g filter="url(#hm14)">
<rect x="305.9" y="1608.4" width="92.1" height="304.5" fill="rgb(128,128,128)"/>
<rect x="349.7" y="1608.4" width="50.3" height="304.5" fill="url(#hg14)"/>
<rect x="322.7" y="1608.4" width="34.0" height="304.5" fill="rgb(135,135,135)" filter="url(#hb60)"/>
<path d="M336.6,1650.5 L336.6,1655.5 L336.6,1660.5 L336.6,1665.5 L336.5,1670.5 L336.5,1675.5 L336.4,1680.5 L336.4,1685.5 L336.3,1690.5 L336.3,1695.5 L336.2,1700.6 L336.2,1705.6 L336.1,1710.6 L336.0,1715.6 L336.0,1720.6 L335.9,1725.6 L335.8,1730.6 L335.8,1735.6 L335.7,1740.6 L335.6,1745.6 L335.5,1750.6 L335.4,1755.6 L335.3,1760.7 L335.2,1765.7 L335.1,1770.7 L335.0,1775.7 L334.9,1780.7 L334.8,1785.7 L334.7,1790.7 L334.5,1795.7 L334.4,1800.7 L334.2,1805.7 L334.1,1810.7 L333.9,1815.7 L333.7,1820.8 L333.4,1825.8 L333.2,1830.8 L332.9,1835.8 L332.5,1840.8 L332.2,1845.8 L331.8,1850.8 L331.3,1855.8 L330.8,1860.8 L330.2,1865.8 L329.5,1870.8 L328.8,1875.8 L327.9,1880.9 L326.9,1885.9 L325.7,1890.9 L324.4,1895.9 L322.9,1900.9 L321.2,1905.9 L319.2,1910.9 L342.7,1910.9 L342.7,1650.5Z" fill="url(#hn14)" filter="url(#hb24)"/>
<path d="M343.7,1610.4 L343.7,1615.4 L343.7,1620.4 L343.7,1625.4 L343.7,1630.4 L343.7,1635.4 L343.7,1640.5 L343.7,1645.5 L343.7,1650.5 L343.7,1655.5 L343.7,1660.5 L343.7,1665.5 L343.7,1670.5 L343.7,1675.5 L343.7,1680.5 L343.7,1685.5 L343.7,1690.5 L343.7,1695.5 L343.7,1700.6 L343.7,1705.6 L343.7,1710.6 L343.7,1715.6 L343.7,1720.6 L343.7,1725.6 L343.7,1730.6 L343.7,1735.6 L343.7,1740.6 L343.7,1745.6 L343.7,1750.6 L343.7,1755.6 L343.7,1760.7 L343.7,1765.7 L343.7,1770.7 L343.7,1775.7 L343.7,1780.7 L343.7,1785.7 L343.7,1790.7 L343.7,1795.7 L343.7,1800.7 L343.7,1805.7 L343.7,1810.7 L343.7,1815.7 L343.7,1820.8 L343.7,1825.8 L343.7,1830.8 L343.7,1835.8 L343.7,1840.8 L343.7,1845.8 L343.7,1850.8 L343.7,1855.8 L343.7,1860.8 L343.7,1865.8 L343.7,1870.8 L343.7,1875.8 L343.7,1880.9 L343.7,1885.9 L343.7,1890.9 L343.7,1895.9 L343.7,1900.9 L343.7,1905.9 L343.7,1910.9 L349.7,1910.9 L349.7,1905.9 L349.7,1900.9 L349.7,1895.9 L349.7,1890.9 L349.7,1885.9 L349.7,1880.9 L349.7,1875.8 L349.7,1870.8 L349.7,1865.8 L349.7,1860.8 L349.7,1855.8 L349.7,1850.8 L349.7,1845.8 L349.7,1840.8 L349.7,1835.8 L349.7,1830.8 L349.7,1825.8 L349.7,1820.8 L349.7,1815.7 L349.7,1810.7 L349.7,1805.7 L349.7,1800.7 L349.7,1795.7 L349.7,1790.7 L349.7,1785.7 L349.7,1780.7 L349.7,1775.7 L349.7,1770.7 L349.7,1765.7 L349.7,1760.7 L349.7,1755.6 L349.7,1750.6 L349.7,1745.6 L349.7,1740.6 L349.7,1735.6 L349.7,1730.6 L349.7,1725.6 L349.7,1720.6 L349.7,1715.6 L349.7,1710.6 L349.7,1705.6 L349.7,1700.6 L349.7,1695.5 L349.7,1690.5 L349.7,1685.5 L349.7,1680.5 L349.7,1675.5 L349.7,1670.5 L349.7,1665.5 L349.7,1660.5 L349.7,1655.5 L349.7,1650.5 L349.7,1645.5 L349.7,1640.5 L349.7,1635.4 L349.7,1630.4 L349.7,1625.4 L349.7,1620.4 L349.7,1615.4 L349.7,1610.4Z" fill="rgb(221,221,221)" opacity="1" filter="url(#hb24)"/>
<path d="M329.2,1610.4 L329.2,1615.4 L329.2,1620.4 L329.2,1625.4 L329.2,1630.4 L329.2,1635.4 L329.2,1640.5 L329.2,1645.5 L329.1,1650.5 L329.1,1655.5 L329.1,1660.5 L329.1,1665.5 L329.0,1670.5 L329.0,1675.5 L328.9,1680.5 L328.9,1685.5 L328.8,1690.5 L328.8,1695.5 L328.7,1700.6 L328.7,1705.6 L328.6,1710.6 L328.5,1715.6 L328.5,1720.6 L328.4,1725.6 L328.3,1730.6 L328.3,1735.6 L328.2,1740.6 L328.1,1745.6 L328.0,1750.6 L327.9,1755.6 L327.8,1760.7 L327.7,1765.7 L327.6,1770.7 L327.5,1775.7 L327.4,1780.7 L327.3,1785.7 L327.2,1790.7 L327.0,1795.7 L326.9,1800.7 L326.7,1805.7 L326.6,1810.7 L326.4,1815.7 L326.2,1820.8 L325.9,1825.8 L325.7,1830.8 L325.4,1835.8 L325.0,1840.8 L324.7,1845.8 L324.3,1850.8 L323.8,1855.8 L323.3,1860.8 L322.7,1865.8 L322.0,1870.8 L321.3,1875.8 L320.4,1880.9 L319.4,1885.9 L318.2,1890.9 L316.9,1895.9 L315.4,1900.9 L313.7,1905.9 L311.7,1910.9 L317.7,1910.9 L319.7,1905.9 L321.4,1900.9 L322.9,1895.9 L324.2,1890.9 L325.4,1885.9 L326.4,1880.9 L327.3,1875.8 L328.0,1870.8 L328.7,1865.8 L329.3,1860.8 L329.8,1855.8 L330.3,1850.8 L330.7,1845.8 L331.0,1840.8 L331.4,1835.8 L331.7,1830.8 L331.9,1825.8 L332.2,1820.8 L332.4,1815.7 L332.6,1810.7 L332.7,1805.7 L332.9,1800.7 L333.0,1795.7 L333.2,1790.7 L333.3,1785.7 L333.4,1780.7 L333.5,1775.7 L333.6,1770.7 L333.7,1765.7 L333.8,1760.7 L333.9,1755.6 L334.0,1750.6 L334.1,1745.6 L334.2,1740.6 L334.3,1735.6 L334.3,1730.6 L334.4,1725.6 L334.5,1720.6 L334.5,1715.6 L334.6,1710.6 L334.7,1705.6 L334.7,1700.6 L334.8,1695.5 L334.8,1690.5 L334.9,1685.5 L334.9,1680.5 L335.0,1675.5 L335.0,1670.5 L335.1,1665.5 L335.1,1660.5 L335.1,1655.5 L335.1,1650.5 L335.2,1645.5 L335.2,1640.5 L335.2,1635.4 L335.2,1630.4 L335.2,1625.4 L335.2,1620.4 L335.2,1615.4 L335.2,1610.4Z" fill="rgb(215,215,215)" opacity="1" filter="url(#hb24)"/>
<path d="M357.2,1610.4 L357.2,1615.4 L357.2,1620.4 L357.2,1625.4 L357.2,1630.4 L357.2,1635.4 L357.2,1640.5 L357.2,1645.5 L357.2,1650.5 L357.2,1655.5 L357.2,1660.5 L357.2,1665.5 L357.2,1670.5 L357.2,1675.5 L357.2,1680.5 L357.2,1685.5 L357.2,1690.5 L357.2,1695.5 L357.2,1700.6 L357.2,1705.6 L357.2,1710.6 L357.2,1715.6 L357.2,1720.6 L357.2,1725.6 L357.2,1730.6 L357.2,1735.6 L357.2,1740.6 L357.2,1745.6 L357.2,1750.6 L357.2,1755.6 L357.2,1760.7 L357.2,1765.7 L357.2,1770.7 L357.2,1775.7 L357.2,1780.7 L357.2,1785.7 L357.2,1790.7 L357.2,1795.7 L357.2,1800.7 L357.2,1805.7 L357.2,1810.7 L357.2,1815.7 L357.2,1820.8 L357.2,1825.8 L357.2,1830.8 L357.2,1835.8 L357.2,1840.8 L357.2,1845.8 L357.2,1850.8 L357.2,1855.8 L357.2,1860.8 L357.2,1865.8 L357.2,1870.8 L357.2,1875.8 L357.2,1880.9 L357.2,1885.9 L357.2,1890.9 L357.2,1895.9 L357.2,1900.9 L357.2,1905.9 L357.2,1910.9 L361.2,1910.9 L361.2,1905.9 L361.2,1900.9 L361.2,1895.9 L361.2,1890.9 L361.2,1885.9 L361.2,1880.9 L361.2,1875.8 L361.2,1870.8 L361.2,1865.8 L361.2,1860.8 L361.2,1855.8 L361.2,1850.8 L361.2,1845.8 L361.2,1840.8 L361.2,1835.8 L361.2,1830.8 L361.2,1825.8 L361.2,1820.8 L361.2,1815.7 L361.2,1810.7 L361.2,1805.7 L361.2,1800.7 L361.2,1795.7 L361.2,1790.7 L361.2,1785.7 L361.2,1780.7 L361.2,1775.7 L361.2,1770.7 L361.2,1765.7 L361.2,1760.7 L361.2,1755.6 L361.2,1750.6 L361.2,1745.6 L361.2,1740.6 L361.2,1735.6 L361.2,1730.6 L361.2,1725.6 L361.2,1720.6 L361.2,1715.6 L361.2,1710.6 L361.2,1705.6 L361.2,1700.6 L361.2,1695.5 L361.2,1690.5 L361.2,1685.5 L361.2,1680.5 L361.2,1675.5 L361.2,1670.5 L361.2,1665.5 L361.2,1660.5 L361.2,1655.5 L361.2,1650.5 L361.2,1645.5 L361.2,1640.5 L361.2,1635.4 L361.2,1630.4 L361.2,1625.4 L361.2,1620.4 L361.2,1615.4 L361.2,1610.4Z" fill="rgb(157,157,157)" opacity="1" filter="url(#hb25)"/>

</g>
<path d="M307.9,1916.3V1911.3H396.0V1916.3 M345.7,1911.3v5" fill="none" stroke="#000" stroke-width="1"/>
<g filter="url(#hm15)">
<rect x="415.5" y="1608.4" width="92.6" height="304.5" fill="rgb(110,110,110)"/>
<rect x="459.5" y="1608.4" width="50.6" height="304.5" fill="url(#hg15)"/>
<rect x="432.5" y="1608.4" width="34.0" height="304.5" fill="rgb(115,115,115)" filter="url(#hb60)"/>
<path d="M445.5,1645.5 L445.4,1650.5 L445.4,1655.5 L445.4,1660.5 L445.3,1665.5 L445.2,1670.5 L445.2,1675.5 L445.1,1680.5 L445.1,1685.5 L445.0,1690.5 L444.9,1695.5 L444.9,1700.6 L444.8,1705.6 L444.7,1710.6 L444.6,1715.6 L444.5,1720.6 L444.5,1725.6 L444.4,1730.6 L444.3,1735.6 L444.2,1740.6 L444.1,1745.6 L444.0,1750.6 L443.9,1755.6 L443.8,1760.7 L443.7,1765.7 L443.5,1770.7 L443.4,1775.7 L443.3,1780.7 L443.2,1785.7 L443.0,1790.7 L442.8,1795.7 L442.7,1800.7 L442.5,1805.7 L442.3,1810.7 L442.1,1815.7 L441.9,1820.8 L441.6,1825.8 L441.3,1830.8 L441.0,1835.8 L440.7,1840.8 L440.3,1845.8 L439.9,1850.8 L439.4,1855.8 L438.8,1860.8 L438.2,1865.8 L437.5,1870.8 L436.7,1875.8 L435.8,1880.9 L434.8,1885.9 L433.6,1890.9 L432.3,1895.9 L430.8,1900.9 L429.0,1905.9 L427.0,1910.9 L452.5,1910.9 L452.5,1645.5Z" fill="url(#hn15)" filter="url(#hb24)"/>
<path d="M454.0,1610.4 L454.0,1615.4 L454.0,1620.4 L454.0,1625.4 L454.0,1630.4 L454.0,1635.4 L454.0,1640.5 L454.0,1645.5 L454.0,1650.5 L454.0,1655.5 L454.0,1660.5 L454.0,1665.5 L454.0,1670.5 L454.0,1675.5 L454.0,1680.5 L454.0,1685.5 L454.0,1690.5 L454.0,1695.5 L454.0,1700.6 L454.0,1705.6 L454.0,1710.6 L454.0,1715.6 L454.0,1720.6 L454.0,1725.6 L454.0,1730.6 L454.0,1735.6 L454.0,1740.6 L454.0,1745.6 L454.0,1750.6 L454.0,1755.6 L454.0,1760.7 L454.0,1765.7 L454.0,1770.7 L454.0,1775.7 L454.0,1780.7 L454.0,1785.7 L454.0,1790.7 L454.0,1795.7 L454.0,1800.7 L454.0,1805.7 L454.0,1810.7 L454.0,1815.7 L454.0,1820.8 L454.0,1825.8 L454.0,1830.8 L454.0,1835.8 L454.0,1840.8 L454.0,1845.8 L454.0,1850.8 L454.0,1855.8 L454.0,1860.8 L454.0,1865.8 L454.0,1870.8 L454.0,1875.8 L454.0,1880.9 L454.0,1885.9 L454.0,1890.9 L454.0,1895.9 L454.0,1900.9 L454.0,1905.9 L454.0,1910.9 L460.0,1910.9 L460.0,1905.9 L460.0,1900.9 L460.0,1895.9 L460.0,1890.9 L460.0,1885.9 L460.0,1880.9 L460.0,1875.8 L460.0,1870.8 L460.0,1865.8 L460.0,1860.8 L460.0,1855.8 L460.0,1850.8 L460.0,1845.8 L460.0,1840.8 L460.0,1835.8 L460.0,1830.8 L460.0,1825.8 L460.0,1820.8 L460.0,1815.7 L460.0,1810.7 L460.0,1805.7 L460.0,1800.7 L460.0,1795.7 L460.0,1790.7 L460.0,1785.7 L460.0,1780.7 L460.0,1775.7 L460.0,1770.7 L460.0,1765.7 L460.0,1760.7 L460.0,1755.6 L460.0,1750.6 L460.0,1745.6 L460.0,1740.6 L460.0,1735.6 L460.0,1730.6 L460.0,1725.6 L460.0,1720.6 L460.0,1715.6 L460.0,1710.6 L460.0,1705.6 L460.0,1700.6 L460.0,1695.5 L460.0,1690.5 L460.0,1685.5 L460.0,1680.5 L460.0,1675.5 L460.0,1670.5 L460.0,1665.5 L460.0,1660.5 L460.0,1655.5 L460.0,1650.5 L460.0,1645.5 L460.0,1640.5 L460.0,1635.4 L460.0,1630.4 L460.0,1625.4 L460.0,1620.4 L460.0,1615.4 L460.0,1610.4Z" fill="rgb(180,180,180)" opacity="1" filter="url(#hb24)"/>
<path d="M438.5,1610.4 L438.5,1615.4 L438.5,1620.4 L438.5,1625.4 L438.5,1630.4 L438.5,1635.4 L438.5,1640.5 L438.5,1645.5 L438.4,1650.5 L438.4,1655.5 L438.4,1660.5 L438.3,1665.5 L438.2,1670.5 L438.2,1675.5 L438.1,1680.5 L438.1,1685.5 L438.0,1690.5 L437.9,1695.5 L437.9,1700.6 L437.8,1705.6 L437.7,1710.6 L437.6,1715.6 L437.5,1720.6 L437.5,1725.6 L437.4,1730.6 L437.3,1735.6 L437.2,1740.6 L437.1,1745.6 L437.0,1750.6 L436.9,1755.6 L436.8,1760.7 L436.7,1765.7 L436.5,1770.7 L436.4,1775.7 L436.3,1780.7 L436.2,1785.7 L436.0,1790.7 L435.8,1795.7 L435.7,1800.7 L435.5,1805.7 L435.3,1810.7 L435.1,1815.7 L434.9,1820.8 L434.6,1825.8 L434.3,1830.8 L434.0,1835.8 L433.7,1840.8 L433.3,1845.8 L432.9,1850.8 L432.4,1855.8 L431.8,1860.8 L431.2,1865.8 L430.5,1870.8 L429.7,1875.8 L428.8,1880.9 L427.8,1885.9 L426.6,1890.9 L425.3,1895.9 L423.8,1900.9 L422.0,1905.9 L420.0,1910.9 L424.0,1910.9 L426.0,1905.9 L427.8,1900.9 L429.3,1895.9 L430.6,1890.9 L431.8,1885.9 L432.8,1880.9 L433.7,1875.8 L434.5,1870.8 L435.2,1865.8 L435.8,1860.8 L436.4,1855.8 L436.9,1850.8 L437.3,1845.8 L437.7,1840.8 L438.0,1835.8 L438.3,1830.8 L438.6,1825.8 L438.9,1820.8 L439.1,1815.7 L439.3,1810.7 L439.5,1805.7 L439.7,1800.7 L439.8,1795.7 L440.0,1790.7 L440.2,1785.7 L440.3,1780.7 L440.4,1775.7 L440.5,1770.7 L440.7,1765.7 L440.8,1760.7 L440.9,1755.6 L441.0,1750.6 L441.1,1745.6 L441.2,1740.6 L441.3,1735.6 L441.4,1730.6 L441.5,1725.6 L441.5,1720.6 L441.6,1715.6 L441.7,1710.6 L441.8,1705.6 L441.9,1700.6 L441.9,1695.5 L442.0,1690.5 L442.1,1685.5 L442.1,1680.5 L442.2,1675.5 L442.2,1670.5 L442.3,1665.5 L442.4,1660.5 L442.4,1655.5 L442.4,1650.5 L442.5,1645.5 L442.5,1640.5 L442.5,1635.4 L442.5,1630.4 L442.5,1625.4 L442.5,1620.4 L442.5,1615.4 L442.5,1610.4Z" fill="rgb(145,145,145)" opacity="1" filter="url(#hb24)"/>
<path d="M467.0,1610.4 L467.0,1615.4 L467.0,1620.4 L467.0,1625.4 L467.0,1630.4 L467.0,1635.4 L467.0,1640.5 L467.0,1645.5 L467.0,1650.5 L467.0,1655.5 L467.0,1660.5 L467.0,1665.5 L467.0,1670.5 L467.0,1675.5 L467.0,1680.5 L467.0,1685.5 L467.0,1690.5 L467.0,1695.5 L467.0,1700.6 L467.0,1705.6 L467.0,1710.6 L467.0,1715.6 L467.0,1720.6 L467.0,1725.6 L467.0,1730.6 L467.0,1735.6 L467.0,1740.6 L467.0,1745.6 L467.0,1750.6 L467.0,1755.6 L467.0,1760.7 L467.0,1765.7 L467.0,1770.7 L467.0,1775.7 L467.0,1780.7 L467.0,1785.7 L467.0,1790.7 L467.0,1795.7 L467.0,1800.7 L467.0,1805.7 L467.0,1810.7 L467.0,1815.7 L467.0,1820.8 L467.0,1825.8 L467.0,1830.8 L467.0,1835.8 L467.0,1840.8 L467.0,1845.8 L467.0,1850.8 L467.0,1855.8 L467.0,1860.8 L467.0,1865.8 L467.0,1870.8 L467.0,1875.8 L467.0,1880.9 L467.0,1885.9 L467.0,1890.9 L467.0,1895.9 L467.0,1900.9 L467.0,1905.9 L467.0,1910.9 L471.0,1910.9 L471.0,1905.9 L471.0,1900.9 L471.0,1895.9 L471.0,1890.9 L471.0,1885.9 L471.0,1880.9 L471.0,1875.8 L471.0,1870.8 L471.0,1865.8 L471.0,1860.8 L471.0,1855.8 L471.0,1850.8 L471.0,1845.8 L471.0,1840.8 L471.0,1835.8 L471.0,1830.8 L471.0,1825.8 L471.0,1820.8 L471.0,1815.7 L471.0,1810.7 L471.0,1805.7 L471.0,1800.7 L471.0,1795.7 L471.0,1790.7 L471.0,1785.7 L471.0,1780.7 L471.0,1775.7 L471.0,1770.7 L471.0,1765.7 L471.0,1760.7 L471.0,1755.6 L471.0,1750.6 L471.0,1745.6 L471.0,1740.6 L471.0,1735.6 L471.0,1730.6 L471.0,1725.6 L471.0,1720.6 L471.0,1715.6 L471.0,1710.6 L471.0,1705.6 L471.0,1700.6 L471.0,1695.5 L471.0,1690.5 L471.0,1685.5 L471.0,1680.5 L471.0,1675.5 L471.0,1670.5 L471.0,1665.5 L471.0,1660.5 L471.0,1655.5 L471.0,1650.5 L471.0,1645.5 L471.0,1640.5 L471.0,1635.4 L471.0,1630.4 L471.0,1625.4 L471.0,1620.4 L471.0,1615.4 L471.0,1610.4Z" fill="rgb(133,133,133)" opacity="1" filter="url(#hb25)"/>

</g>
<path d="M417.5,1916.3V1911.3H506.1V1916.3 M455.5,1911.3v5" fill="none" stroke="#000" stroke-width="1"/>
<g filter="url(#hm16)">
<rect x="525.6" y="1608.4" width="92.6" height="304.5" fill="rgb(115,115,115)"/>
<rect x="569.6" y="1608.4" width="50.6" height="304.5" fill="url(#hg16)"/>
<path d="M554.5,1700.6 L554.5,1705.6 L554.5,1710.6 L554.4,1715.6 L554.3,1720.6 L554.3,1725.6 L554.2,1730.6 L554.1,1735.6 L554.1,1740.6 L554.0,1745.6 L553.9,1750.6 L553.8,1755.6 L553.7,1760.7 L553.6,1765.7 L553.5,1770.7 L553.4,1775.7 L553.2,1780.7 L553.1,1785.7 L553.0,1790.7 L552.8,1795.7 L552.6,1800.7 L552.5,1805.7 L552.3,1810.7 L552.1,1815.7 L551.8,1820.8 L551.6,1825.8 L551.3,1830.8 L551.0,1835.8 L550.6,1840.8 L550.2,1845.8 L549.7,1850.8 L549.2,1855.8 L548.7,1860.8 L548.0,1865.8 L547.3,1870.8 L546.5,1875.8 L545.5,1880.9 L544.4,1885.9 L543.2,1890.9 L541.7,1895.9 L540.1,1900.9 L538.2,1905.9 L536.1,1910.9 L561.6,1910.9 L561.6,1700.6Z" fill="url(#hn16)" filter="url(#hb24)"/>
<path d="M562.6,1610.4 L562.6,1615.4 L562.6,1620.4 L562.6,1625.4 L562.6,1630.4 L562.6,1635.4 L562.6,1640.5 L562.6,1645.5 L562.6,1650.5 L562.6,1655.5 L562.6,1660.5 L562.6,1665.5 L562.6,1670.5 L562.6,1675.5 L562.6,1680.5 L562.6,1685.5 L562.6,1690.5 L562.6,1695.5 L562.6,1700.6 L562.6,1705.6 L562.6,1710.6 L562.6,1715.6 L562.6,1720.6 L562.6,1725.6 L562.6,1730.6 L562.6,1735.6 L562.6,1740.6 L562.6,1745.6 L562.6,1750.6 L562.6,1755.6 L562.6,1760.7 L562.6,1765.7 L562.6,1770.7 L562.6,1775.7 L562.6,1780.7 L562.6,1785.7 L562.6,1790.7 L562.6,1795.7 L562.6,1800.7 L562.6,1805.7 L562.6,1810.7 L562.6,1815.7 L562.6,1820.8 L562.6,1825.8 L562.6,1830.8 L562.6,1835.8 L562.6,1840.8 L562.6,1845.8 L562.6,1850.8 L562.6,1855.8 L562.6,1860.8 L562.6,1865.8 L562.6,1870.8 L562.6,1875.8 L562.6,1880.9 L562.6,1885.9 L562.6,1890.9 L562.6,1895.9 L562.6,1900.9 L562.6,1905.9 L562.6,1910.9 L592.6,1910.9 L592.6,1905.9 L592.6,1900.9 L592.6,1895.9 L592.6,1890.9 L592.6,1885.9 L592.6,1880.9 L592.6,1875.8 L592.6,1870.8 L592.6,1865.8 L592.6,1860.8 L592.6,1855.8 L592.6,1850.8 L592.6,1845.8 L592.6,1840.8 L592.6,1835.8 L592.6,1830.8 L592.6,1825.8 L592.6,1820.8 L592.6,1815.7 L592.6,1810.7 L592.6,1805.7 L592.6,1800.7 L592.6,1795.7 L592.6,1790.7 L592.6,1785.7 L592.6,1780.7 L592.6,1775.7 L592.6,1770.7 L592.6,1765.7 L592.6,1760.7 L592.6,1755.6 L592.6,1750.6 L592.6,1745.6 L592.6,1740.6 L592.6,1735.6 L592.6,1730.6 L592.6,1725.6 L592.6,1720.6 L592.6,1715.6 L592.6,1710.6 L592.6,1705.6 L592.6,1700.6 L592.6,1695.5 L592.6,1690.5 L592.6,1685.5 L592.6,1680.5 L592.6,1675.5 L592.6,1670.5 L592.6,1665.5 L592.6,1660.5 L592.6,1655.5 L592.6,1650.5 L592.6,1645.5 L592.6,1640.5 L592.6,1635.4 L592.6,1630.4 L592.6,1625.4 L592.6,1620.4 L592.6,1615.4 L592.6,1610.4Z" fill="rgb(144,144,144)" opacity="1" filter="url(#hb60)"/>
<path d="M576.1,1610.4 L576.1,1615.4 L576.1,1620.4 L576.1,1625.4 L576.1,1630.4 L576.1,1635.4 L576.1,1640.5 L576.1,1645.5 L576.1,1650.5 L576.1,1655.5 L576.1,1660.5 L576.1,1665.5 L576.1,1670.5 L576.1,1675.5 L576.1,1680.5 L576.1,1685.5 L576.1,1690.5 L576.1,1695.5 L576.1,1700.6 L576.1,1705.6 L576.1,1710.6 L576.1,1715.6 L576.1,1720.6 L576.1,1725.6 L576.1,1730.6 L576.1,1735.6 L576.1,1740.6 L576.1,1745.6 L576.1,1750.6 L576.1,1755.6 L576.1,1760.7 L576.1,1765.7 L576.1,1770.7 L576.1,1775.7 L576.1,1780.7 L576.1,1785.7 L576.1,1790.7 L576.1,1795.7 L576.1,1800.7 L576.1,1805.7 L576.1,1810.7 L576.1,1815.7 L576.1,1820.8 L576.1,1825.8 L576.1,1830.8 L576.1,1835.8 L576.1,1840.8 L576.1,1845.8 L576.1,1850.8 L576.1,1855.8 L576.1,1860.8 L576.1,1865.8 L576.1,1870.8 L576.1,1875.8 L576.1,1880.9 L576.1,1885.9 L576.1,1890.9 L576.1,1895.9 L576.1,1900.9 L576.1,1905.9 L576.1,1910.9 L581.1,1910.9 L581.1,1905.9 L581.1,1900.9 L581.1,1895.9 L581.1,1890.9 L581.1,1885.9 L581.1,1880.9 L581.1,1875.8 L581.1,1870.8 L581.1,1865.8 L581.1,1860.8 L581.1,1855.8 L581.1,1850.8 L581.1,1845.8 L581.1,1840.8 L581.1,1835.8 L581.1,1830.8 L581.1,1825.8 L581.1,1820.8 L581.1,1815.7 L581.1,1810.7 L581.1,1805.7 L581.1,1800.7 L581.1,1795.7 L581.1,1790.7 L581.1,1785.7 L581.1,1780.7 L581.1,1775.7 L581.1,1770.7 L581.1,1765.7 L581.1,1760.7 L581.1,1755.6 L581.1,1750.6 L581.1,1745.6 L581.1,1740.6 L581.1,1735.6 L581.1,1730.6 L581.1,1725.6 L581.1,1720.6 L581.1,1715.6 L581.1,1710.6 L581.1,1705.6 L581.1,1700.6 L581.1,1695.5 L581.1,1690.5 L581.1,1685.5 L581.1,1680.5 L581.1,1675.5 L581.1,1670.5 L581.1,1665.5 L581.1,1660.5 L581.1,1655.5 L581.1,1650.5 L581.1,1645.5 L581.1,1640.5 L581.1,1635.4 L581.1,1630.4 L581.1,1625.4 L581.1,1620.4 L581.1,1615.4 L581.1,1610.4Z" fill="rgb(156,156,156)" opacity="1" filter="url(#hb25)"/>
<path d="M563.6,1610.4 L563.6,1615.4 L563.6,1620.4 L563.6,1625.4 L563.6,1630.4 L563.6,1635.4 L563.6,1640.5 L563.6,1645.5 L563.6,1650.5 L563.6,1655.5 L563.6,1660.5 L563.6,1665.5 L563.6,1670.5 L563.6,1675.5 L563.6,1680.5 L563.6,1685.5 L563.6,1690.5 L563.6,1695.5 L563.6,1700.6 L563.6,1705.6 L563.6,1710.6 L563.6,1715.6 L563.6,1720.6 L563.6,1725.6 L563.6,1730.6 L563.6,1735.6 L563.6,1740.6 L563.6,1745.6 L563.6,1750.6 L563.6,1755.6 L563.6,1760.7 L563.6,1765.7 L563.6,1770.7 L563.6,1775.7 L563.6,1780.7 L563.6,1785.7 L563.6,1790.7 L563.6,1795.7 L563.6,1800.7 L563.6,1805.7 L563.6,1810.7 L563.6,1815.7 L563.6,1820.8 L563.6,1825.8 L563.6,1830.8 L563.6,1835.8 L563.6,1840.8 L563.6,1845.8 L563.6,1850.8 L563.6,1855.8 L563.6,1860.8 L563.6,1865.8 L563.6,1870.8 L563.6,1875.8 L563.6,1880.9 L563.6,1885.9 L563.6,1890.9 L563.6,1895.9 L563.6,1900.9 L563.6,1905.9 L563.6,1910.9 L569.6,1910.9 L569.6,1905.9 L569.6,1900.9 L569.6,1895.9 L569.6,1890.9 L569.6,1885.9 L569.6,1880.9 L569.6,1875.8 L569.6,1870.8 L569.6,1865.8 L569.6,1860.8 L569.6,1855.8 L569.6,1850.8 L569.6,1845.8 L569.6,1840.8 L569.6,1835.8 L569.6,1830.8 L569.6,1825.8 L569.6,1820.8 L569.6,1815.7 L569.6,1810.7 L569.6,1805.7 L569.6,1800.7 L569.6,1795.7 L569.6,1790.7 L569.6,1785.7 L569.6,1780.7 L569.6,1775.7 L569.6,1770.7 L569.6,1765.7 L569.6,1760.7 L569.6,1755.6 L569.6,1750.6 L569.6,1745.6 L569.6,1740.6 L569.6,1735.6 L569.6,1730.6 L569.6,1725.6 L569.6,1720.6 L569.6,1715.6 L569.6,1710.6 L569.6,1705.6 L569.6,1700.6 L569.6,1695.5 L569.6,1690.5 L569.6,1685.5 L569.6,1680.5 L569.6,1675.5 L569.6,1670.5 L569.6,1665.5 L569.6,1660.5 L569.6,1655.5 L569.6,1650.5 L569.6,1645.5 L569.6,1640.5 L569.6,1635.4 L569.6,1630.4 L569.6,1625.4 L569.6,1620.4 L569.6,1615.4 L569.6,1610.4Z" fill="rgb(185,185,185)" opacity="1" filter="url(#hb30)"/>
<path d="M548.3,1610.4 L548.3,1615.4 L548.3,1620.4 L548.3,1625.4 L548.3,1630.4 L548.3,1635.4 L548.3,1640.5 L548.3,1645.5 L548.3,1650.5 L548.3,1655.5 L548.3,1660.5 L548.3,1665.5 L548.3,1670.5 L548.3,1675.5 L548.3,1680.5 L548.3,1685.5 L548.3,1690.5 L548.3,1695.5 L548.3,1700.6 L548.3,1705.6 L548.2,1710.6 L548.2,1715.6 L548.1,1720.6 L548.0,1725.6 L548.0,1730.6 L547.9,1735.6 L547.8,1740.6 L547.7,1745.6 L547.6,1750.6 L547.5,1755.6 L547.4,1760.7 L547.3,1765.7 L547.2,1770.7 L547.1,1775.7 L547.0,1780.7 L546.9,1785.7 L546.7,1790.7 L546.6,1795.7 L546.4,1800.7 L546.2,1805.7 L546.0,1810.7 L545.8,1815.7 L545.6,1820.8 L545.3,1825.8 L545.0,1830.8 L544.7,1835.8 L544.3,1840.8 L543.9,1845.8 L543.5,1850.8 L543.0,1855.8 L542.4,1860.8 L541.8,1865.8 L541.0,1870.8 L540.2,1875.8 L539.3,1880.9 L538.2,1885.9 L536.9,1890.9 L535.5,1895.9 L533.9,1900.9 L532.0,1905.9 L529.8,1910.9 L534.3,1910.9 L536.5,1905.9 L538.4,1900.9 L540.0,1895.9 L541.4,1890.9 L542.7,1885.9 L543.8,1880.9 L544.7,1875.8 L545.5,1870.8 L546.3,1865.8 L546.9,1860.8 L547.5,1855.8 L548.0,1850.8 L548.4,1845.8 L548.8,1840.8 L549.2,1835.8 L549.5,1830.8 L549.8,1825.8 L550.1,1820.8 L550.3,1815.7 L550.5,1810.7 L550.7,1805.7 L550.9,1800.7 L551.1,1795.7 L551.2,1790.7 L551.4,1785.7 L551.5,1780.7 L551.6,1775.7 L551.7,1770.7 L551.8,1765.7 L551.9,1760.7 L552.0,1755.6 L552.1,1750.6 L552.2,1745.6 L552.3,1740.6 L552.4,1735.6 L552.5,1730.6 L552.5,1725.6 L552.6,1720.6 L552.7,1715.6 L552.7,1710.6 L552.8,1705.6 L552.8,1700.6 L552.8,1695.5 L552.8,1690.5 L552.8,1685.5 L552.8,1680.5 L552.8,1675.5 L552.8,1670.5 L552.8,1665.5 L552.8,1660.5 L552.8,1655.5 L552.8,1650.5 L552.8,1645.5 L552.8,1640.5 L552.8,1635.4 L552.8,1630.4 L552.8,1625.4 L552.8,1620.4 L552.8,1615.4 L552.8,1610.4Z" fill="rgb(168,168,168)" opacity="1" filter="url(#hb25)"/>

</g>
<path d="M527.6,1916.3V1911.3H616.2V1916.3 M565.6,1911.3v5" fill="none" stroke="#000" stroke-width="1"/>
<text x="107.4" y="1927.2" text-anchor="end" style="font-size:22px" fill="#1c1c1c" stroke="#1c1c1c" transform="rotate(-45 107.4 1927.2)">-600</text>
<text x="144.8" y="1927.2" text-anchor="end" style="font-size:22px" fill="#1c1c1c" stroke="#1c1c1c" transform="rotate(-45 144.8 1927.2)">0</text>
<text x="194.7" y="1927.2" text-anchor="end" style="font-size:22px" fill="#1c1c1c" stroke="#1c1c1c" transform="rotate(-45 194.7 1927.2)">800</text>
<path d="M195.9,1957.2L217.4,1936.4 M204.2,1947.7L228.5,1959.7" stroke="#231815" stroke-width="1.7" fill="none"/>
<text x="269.7" y="1963.0" text-anchor="start" style="font-size:22px" fill="#000" stroke="#000">distance to in vivo +1 nucleosome / bp</text>
<rect x="623.7" y="1846" width="4.8" height="63.6" fill="url(#cbar)"/>
<path d="M628.5,1846.5H633 M628.5,1878H633 M628.5,1909.2H633" stroke="#000" stroke-width="1"/>
<text x="641.7" y="1850.2" text-anchor="start" style="font-size:22px" fill="#1c1c1c" stroke="#1c1c1c">0.4</text>
<text x="641.7" y="1880.9" text-anchor="start" style="font-size:22px" fill="#1c1c1c" stroke="#1c1c1c">0.8</text>
<text x="641.7" y="1910.7" text-anchor="start" style="font-size:22px" fill="#1c1c1c" stroke="#1c1c1c">1.2</text>
<text x="642.5" y="1767.0" text-anchor="middle" style="font-size:20.5px" fill="#1c1c1c" stroke="#1c1c1c" transform="rotate(-90 642.5 1767.0)">normalized</text>
<text x="667.0" y="1767.0" text-anchor="middle" style="font-size:20.5px" fill="#1c1c1c" stroke="#1c1c1c" transform="rotate(-90 667.0 1767.0)">dyad density</text>
</g>
<g id="panel_e">
<text x="723.0" y="1207.7" text-anchor="start" style="font-size:40px" fill="#000" stroke="#000" font-weight="bold">e</text>
<rect x="821.4" y="1240" width="187.3" height="170.6" fill="#fff"/>
<path d="M850.0,1240V1410.6 M893.0,1240V1410.6 M935.9,1240V1410.6 M978.9,1240V1410.6 M821.4,1367.2H1008.7 M821.4,1315.5H1008.7 M821.4,1263.8H1008.7" stroke="#efefef" stroke-width="1.9" fill="none"/>
<path d="M828.5,1240V1410.6 M871.5,1240V1410.6 M914.4,1240V1410.6 M957.4,1240V1410.6 M1000.3,1240V1410.6 M821.4,1393.0H1008.7 M821.4,1341.3H1008.7 M821.4,1289.6H1008.7" stroke="#ebebeb" stroke-width="2.2" fill="none"/>
<path d="M829.8,1333.8 L830.7,1333.1 L831.6,1332.3 L832.4,1331.7 L833.3,1331.2 L834.1,1331.0 L835.0,1331.1 L835.9,1331.4 L836.7,1331.8 L837.6,1332.3 L838.4,1332.7 L839.3,1332.9 L840.1,1332.9 L841.0,1332.7 L841.9,1332.3 L842.7,1331.8 L843.6,1331.3 L844.4,1331.0 L845.3,1330.9 L846.2,1331.0 L847.0,1331.4 L847.9,1332.0 L848.7,1332.8 L849.6,1333.7 L850.5,1334.5 L851.3,1335.2 L852.2,1335.6 L853.0,1335.8 L853.9,1335.6 L854.7,1335.3 L855.6,1334.8 L856.5,1334.2 L857.3,1333.7 L858.2,1333.3 L859.0,1333.1 L859.9,1333.2 L860.8,1333.4 L861.6,1333.9 L862.5,1334.4 L863.3,1334.9 L864.2,1335.2 L865.1,1335.4 L865.9,1335.5 L866.8,1335.3 L867.6,1335.0 L868.5,1334.7 L869.4,1334.4 L870.2,1334.2 L871.1,1334.3 L871.9,1334.7 L872.8,1335.2 L873.6,1336.0 L874.5,1336.9 L875.4,1337.7 L876.2,1338.4 L877.1,1338.8 L877.9,1339.0 L878.8,1338.8 L879.7,1338.4 L880.5,1337.9 L881.4,1337.3 L882.2,1336.9 L883.1,1336.7 L884.0,1336.8 L884.8,1337.4 L885.7,1338.4 L886.5,1339.7 L887.4,1341.3 L888.3,1343.0 L889.1,1344.9 L890.0,1346.7 L890.8,1348.5 L891.7,1350.4 L892.5,1352.3 L893.4,1354.3 L894.3,1356.7 L895.1,1359.3 L896.0,1362.2 L896.8,1365.5 L897.7,1368.9 L898.6,1372.3 L899.4,1375.5 L900.3,1378.4 L901.1,1380.6 L902.0,1382.1 L902.9,1382.8 L903.7,1382.7 L904.6,1380.3 L905.4,1374.8 L906.3,1367.2 L907.1,1358.7 L908.0,1350.5 L908.9,1343.5 L909.7,1338.1 L910.6,1334.3 L911.4,1331.8 L912.3,1330.2 L913.2,1329.3 L914.0,1328.7 L914.9,1328.5 L915.7,1328.3 L916.6,1328.1 L917.5,1327.8 L918.3,1327.4 L919.2,1327.0 L920.0,1326.8 L920.9,1326.7 L921.8,1326.9 L922.6,1327.3 L923.5,1327.8 L924.3,1328.3 L925.2,1328.8 L926.0,1329.0 L926.9,1329.0 L927.8,1328.8 L928.6,1328.2 L929.5,1327.6 L930.3,1326.8 L931.2,1326.0 L932.1,1325.3 L932.9,1324.9 L933.8,1324.6 L934.6,1324.6 L935.5,1324.8 L936.4,1325.2 L937.2,1325.7 L938.1,1326.2 L938.9,1326.7 L939.8,1327.0 L940.6,1327.2 L941.5,1327.3 L942.4,1327.3 L943.2,1327.2 L944.1,1327.3 L944.9,1327.4 L945.8,1327.7 L946.7,1328.1 L947.5,1328.8 L948.4,1329.6 L949.2,1330.4 L950.1,1331.3 L951.0,1332.1 L951.8,1332.7 L952.7,1333.0 L953.5,1333.2 L954.4,1333.1 L955.3,1332.9 L956.1,1332.6 L957.0,1332.3 L957.8,1332.1 L958.7,1332.2 L959.5,1332.4 L960.4,1332.9 L961.3,1333.5 L962.1,1334.3 L963.0,1335.2 L963.8,1336.0 L964.7,1336.7 L965.6,1337.3 L966.4,1337.7 L967.3,1337.9 L968.1,1338.0 L969.0,1338.1 L969.9,1338.2 L970.7,1338.4 L971.6,1338.8 L972.4,1339.3 L973.3,1339.9 L974.2,1340.6 L975.0,1341.3 L975.9,1341.8 L976.7,1342.2 L977.6,1342.4 L978.4,1342.3 L979.3,1342.0 L980.2,1341.6 L981.0,1341.2 L981.9,1340.7 L982.7,1340.4 L983.6,1340.3 L984.5,1340.3 L985.3,1340.5 L986.2,1340.8 L987.0,1341.3 L987.9,1341.7 L988.8,1342.1 L989.6,1342.4 L990.5,1342.7 L991.3,1342.8 L992.2,1342.8 L993.0,1342.9 L993.9,1342.9 L994.8,1343.0 L995.6,1343.1 L996.5,1343.4 L997.3,1343.6 L998.2,1343.9 L999.1,1344.1" fill="none" stroke="#fde64a" stroke-width="4.2" stroke-linejoin="round" stroke-linecap="round" opacity="1"/>
<path d="M829.8,1337.5 L830.7,1337.9 L831.6,1338.1 L832.4,1338.2 L833.3,1338.2 L834.1,1338.0 L835.0,1337.8 L835.9,1337.4 L836.7,1336.9 L837.6,1336.4 L838.4,1336.0 L839.3,1335.5 L840.1,1335.2 L841.0,1334.9 L841.9,1334.7 L842.7,1334.7 L843.6,1334.8 L844.4,1335.1 L845.3,1335.5 L846.2,1335.9 L847.0,1336.5 L847.9,1337.1 L848.7,1337.6 L849.6,1338.2 L850.5,1338.7 L851.3,1339.1 L852.2,1339.3 L853.0,1339.5 L853.9,1339.5 L854.7,1339.4 L855.6,1339.1 L856.5,1338.8 L857.3,1338.5 L858.2,1338.1 L859.0,1337.7 L859.9,1337.4 L860.8,1337.2 L861.6,1337.1 L862.5,1337.1 L863.3,1337.2 L864.2,1337.5 L865.1,1337.8 L865.9,1338.3 L866.8,1338.8 L867.6,1339.3 L868.5,1339.9 L869.4,1340.4 L870.2,1340.9 L871.1,1341.3 L871.9,1341.7 L872.8,1342.0 L873.6,1342.2 L874.5,1342.5 L875.4,1342.7 L876.2,1343.0 L877.1,1343.3 L877.9,1343.6 L878.8,1343.8 L879.7,1344.0 L880.5,1344.0 L881.4,1343.8 L882.2,1343.4 L883.1,1342.8 L884.0,1342.0 L884.8,1341.2 L885.7,1340.5 L886.5,1340.0 L887.4,1339.8 L888.3,1340.1 L889.1,1341.0 L890.0,1342.4 L890.8,1344.5 L891.7,1347.1 L892.5,1350.2 L893.4,1353.5 L894.3,1356.9 L895.1,1360.3 L896.0,1363.5 L896.8,1366.6 L897.7,1369.3 L898.6,1371.7 L899.4,1373.7 L900.3,1375.4 L901.1,1376.7 L902.0,1377.6 L902.9,1378.2 L903.7,1378.3 L904.6,1376.8 L905.4,1372.6 L906.3,1366.5 L907.1,1359.6 L908.0,1352.8 L908.9,1346.6 L909.7,1341.5 L910.6,1337.1 L911.4,1333.0 L912.3,1329.1 L913.2,1325.6 L914.0,1323.0 L914.9,1322.1 L915.7,1322.9 L916.6,1324.9 L917.5,1327.3 L918.3,1329.2 L919.2,1330.3 L920.0,1330.7 L920.9,1330.6 L921.8,1330.2 L922.6,1329.6 L923.5,1329.2 L924.3,1328.7 L925.2,1328.4 L926.0,1328.1 L926.9,1327.9 L927.8,1327.9 L928.6,1327.9 L929.5,1328.1 L930.3,1328.2 L931.2,1328.5 L932.1,1328.7 L932.9,1328.9 L933.8,1329.2 L934.6,1329.3 L935.5,1329.5 L936.4,1329.5 L937.2,1329.5 L938.1,1329.4 L938.9,1329.2 L939.8,1329.0 L940.6,1328.7 L941.5,1328.4 L942.4,1328.1 L943.2,1327.9 L944.1,1327.7 L944.9,1327.5 L945.8,1327.5 L946.7,1327.6 L947.5,1327.9 L948.4,1328.2 L949.2,1328.7 L950.1,1329.3 L951.0,1330.0 L951.8,1330.8 L952.7,1331.5 L953.5,1332.3 L954.4,1333.0 L955.3,1333.6 L956.1,1334.1 L957.0,1334.4 L957.8,1334.7 L958.7,1334.8 L959.5,1334.8 L960.4,1334.8 L961.3,1334.6 L962.1,1334.5 L963.0,1334.3 L963.8,1334.2 L964.7,1334.2 L965.6,1334.3 L966.4,1334.5 L967.3,1334.8 L968.1,1335.2 L969.0,1335.7 L969.9,1336.3 L970.7,1336.9 L971.6,1337.6 L972.4,1338.3 L973.3,1338.9 L974.2,1339.5 L975.0,1340.0 L975.9,1340.3 L976.7,1340.6 L977.6,1340.7 L978.4,1340.7 L979.3,1340.6 L980.2,1340.4 L981.0,1340.2 L981.9,1339.9 L982.7,1339.6 L983.6,1339.3 L984.5,1339.1 L985.3,1339.0 L986.2,1338.9 L987.0,1339.0 L987.9,1339.2 L988.8,1339.4 L989.6,1339.7 L990.5,1340.1 L991.3,1340.5 L992.2,1340.9 L993.0,1341.3 L993.9,1341.6 L994.8,1341.9 L995.6,1342.1 L996.5,1342.2 L997.3,1342.2 L998.2,1342.1 L999.1,1342.0" fill="none" stroke="#3f97b7" stroke-width="4.2" stroke-linejoin="round" stroke-linecap="round" opacity="1"/>
<path d="M829.8,1333.1 L830.7,1333.1 L831.6,1333.0 L832.4,1332.9 L833.3,1332.6 L834.1,1332.2 L835.0,1331.9 L835.9,1331.5 L836.7,1331.2 L837.6,1331.0 L838.4,1330.9 L839.3,1330.9 L840.1,1331.1 L841.0,1331.4 L841.9,1331.8 L842.7,1332.3 L843.6,1332.8 L844.4,1333.3 L845.3,1333.7 L846.2,1333.9 L847.0,1334.1 L847.9,1334.1 L848.7,1334.0 L849.6,1333.9 L850.5,1333.6 L851.3,1333.4 L852.2,1333.2 L853.0,1333.0 L853.9,1333.0 L854.7,1333.0 L855.6,1333.2 L856.5,1333.4 L857.3,1333.7 L858.2,1334.0 L859.0,1334.2 L859.9,1334.4 L860.8,1334.6 L861.6,1334.6 L862.5,1334.6 L863.3,1334.6 L864.2,1334.5 L865.1,1334.5 L865.9,1334.6 L866.8,1334.7 L867.6,1334.9 L868.5,1335.3 L869.4,1335.7 L870.2,1336.2 L871.1,1336.7 L871.9,1337.1 L872.8,1337.5 L873.6,1337.7 L874.5,1337.7 L875.4,1337.5 L876.2,1337.2 L877.1,1336.8 L877.9,1336.4 L878.8,1335.9 L879.7,1335.6 L880.5,1335.4 L881.4,1335.5 L882.2,1335.9 L883.1,1336.5 L884.0,1337.4 L884.8,1338.6 L885.7,1340.1 L886.5,1341.7 L887.4,1343.5 L888.3,1345.4 L889.1,1347.4 L890.0,1349.5 L890.8,1351.7 L891.7,1353.9 L892.5,1356.3 L893.4,1358.9 L894.3,1361.6 L895.1,1364.6 L896.0,1367.7 L896.8,1370.9 L897.7,1374.1 L898.6,1377.4 L899.4,1380.4 L900.3,1383.1 L901.1,1385.4 L902.0,1387.0 L902.9,1388.1 L903.7,1388.4 L904.6,1386.4 L905.4,1380.8 L906.3,1372.7 L907.1,1363.4 L908.0,1354.3 L908.9,1346.3 L909.7,1340.0 L910.6,1335.4 L911.4,1332.3 L912.3,1330.3 L913.2,1329.3 L914.0,1328.9 L914.9,1329.0 L915.7,1329.4 L916.6,1329.7 L917.5,1329.9 L918.3,1329.8 L919.2,1329.3 L920.0,1328.7 L920.9,1328.0 L921.8,1327.2 L922.6,1326.5 L923.5,1325.9 L924.3,1325.5 L925.2,1325.3 L926.0,1325.3 L926.9,1325.6 L927.8,1325.9 L928.6,1326.3 L929.5,1326.8 L930.3,1327.1 L931.2,1327.4 L932.1,1327.5 L932.9,1327.5 L933.8,1327.3 L934.6,1327.0 L935.5,1326.6 L936.4,1326.3 L937.2,1326.0 L938.1,1325.8 L938.9,1325.8 L939.8,1325.9 L940.6,1326.2 L941.5,1326.7 L942.4,1327.3 L943.2,1327.9 L944.1,1328.5 L944.9,1329.0 L945.8,1329.3 L946.7,1329.6 L947.5,1329.7 L948.4,1329.7 L949.2,1329.6 L950.1,1329.5 L951.0,1329.5 L951.8,1329.6 L952.7,1329.8 L953.5,1330.2 L954.4,1330.7 L955.3,1331.4 L956.1,1332.3 L957.0,1333.1 L957.8,1334.0 L958.7,1334.8 L959.5,1335.5 L960.4,1336.0 L961.3,1336.4 L962.1,1336.6 L963.0,1336.6 L963.8,1336.6 L964.7,1336.5 L965.6,1336.4 L966.4,1336.4 L967.3,1336.6 L968.1,1336.8 L969.0,1337.2 L969.9,1337.7 L970.7,1338.3 L971.6,1338.9 L972.4,1339.5 L973.3,1340.0 L974.2,1340.4 L975.0,1340.7 L975.9,1340.9 L976.7,1340.9 L977.6,1340.8 L978.4,1340.7 L979.3,1340.6 L980.2,1340.6 L981.0,1340.6 L981.9,1340.8 L982.7,1341.1 L983.6,1341.5 L984.5,1341.9 L985.3,1342.4 L986.2,1342.8 L987.0,1343.2 L987.9,1343.5 L988.8,1343.6 L989.6,1343.6 L990.5,1343.4 L991.3,1343.2 L992.2,1342.8 L993.0,1342.4 L993.9,1342.0 L994.8,1341.7 L995.6,1341.6 L996.5,1341.5 L997.3,1341.6 L998.2,1341.9 L999.1,1342.2" fill="none" stroke="#8b3a8f" stroke-width="4.2" stroke-linejoin="round" stroke-linecap="round" opacity="0.92"/>
<rect x="821.4" y="1240" width="187.3" height="170.6" fill="none" stroke="#000" stroke-width="1.9"/>
<text x="798.9" y="1401.2" text-anchor="end" style="font-size:21px" fill="#4d4d4d" stroke="#4d4d4d">0.5</text>
<text x="798.9" y="1349.5" text-anchor="end" style="font-size:21px" fill="#4d4d4d" stroke="#4d4d4d">1.0</text>
<text x="798.9" y="1297.8" text-anchor="end" style="font-size:21px" fill="#4d4d4d" stroke="#4d4d4d">1.5</text>
<path d="M828.5,1410.6v8.5 M871.5,1410.6v8.5 M914.4,1410.6v8.5 M957.4,1410.6v8.5 M1000.3,1410.6v8.5 M821.4,1393.0h-9 M821.4,1341.3h-9 M821.4,1289.6h-9" stroke="#333" stroke-width="1.2" fill="none"/>
<text x="908.0" y="1225.9" text-anchor="middle" style="font-size:21.3px" fill="#000" stroke="#000">none</text>
<rect x="1028.2" y="1240" width="187.3" height="170.6" fill="#fff"/>
<path d="M1056.8,1240V1410.6 M1099.8,1240V1410.6 M1142.7,1240V1410.6 M1185.7,1240V1410.6 M1028.2,1367.2H1215.5 M1028.2,1315.5H1215.5 M1028.2,1263.8H1215.5" stroke="#efefef" stroke-width="1.9" fill="none"/>
<path d="M1035.4,1240V1410.6 M1078.3,1240V1410.6 M1121.3,1240V1410.6 M1164.2,1240V1410.6 M1207.2,1240V1410.6 M1028.2,1393.0H1215.5 M1028.2,1341.3H1215.5 M1028.2,1289.6H1215.5" stroke="#ebebeb" stroke-width="2.2" fill="none"/>
<path d="M1036.6,1329.8 L1037.5,1330.8 L1038.4,1331.6 L1039.2,1332.2 L1040.1,1332.4 L1040.9,1332.2 L1041.8,1331.8 L1042.7,1331.1 L1043.5,1330.4 L1044.4,1329.8 L1045.2,1329.5 L1046.1,1329.4 L1046.9,1329.5 L1047.8,1329.8 L1048.7,1330.1 L1049.5,1330.3 L1050.4,1330.3 L1051.2,1330.1 L1052.1,1329.7 L1053.0,1329.4 L1053.8,1329.2 L1054.7,1329.3 L1055.5,1329.8 L1056.4,1330.6 L1057.3,1331.7 L1058.1,1332.8 L1059.0,1333.8 L1059.8,1334.5 L1060.7,1334.8 L1061.5,1334.6 L1062.4,1334.0 L1063.3,1333.3 L1064.1,1332.8 L1065.0,1332.6 L1065.8,1332.9 L1066.7,1333.9 L1067.6,1335.4 L1068.4,1337.1 L1069.3,1338.6 L1070.1,1339.7 L1071.0,1339.9 L1071.9,1339.2 L1072.7,1337.5 L1073.6,1335.0 L1074.4,1332.0 L1075.3,1328.9 L1076.2,1326.1 L1077.0,1323.9 L1077.9,1322.8 L1078.7,1322.6 L1079.6,1323.6 L1080.4,1325.4 L1081.3,1328.0 L1082.2,1331.0 L1083.0,1334.3 L1083.9,1337.5 L1084.7,1340.5 L1085.6,1343.2 L1086.5,1345.2 L1087.3,1346.4 L1088.2,1346.6 L1089.0,1345.6 L1089.9,1343.5 L1090.8,1340.1 L1091.6,1335.7 L1092.5,1330.7 L1093.3,1325.5 L1094.2,1320.6 L1095.1,1316.7 L1095.9,1314.3 L1096.8,1313.9 L1097.6,1315.6 L1098.5,1319.4 L1099.3,1325.1 L1100.2,1332.2 L1101.1,1340.1 L1101.9,1348.2 L1102.8,1356.0 L1103.6,1363.2 L1104.5,1369.6 L1105.4,1375.1 L1106.2,1379.6 L1107.1,1383.2 L1107.9,1385.7 L1108.8,1387.3 L1109.7,1387.6 L1110.5,1385.1 L1111.4,1380.0 L1112.2,1372.9 L1113.1,1364.5 L1113.9,1355.6 L1114.8,1346.2 L1115.7,1336.3 L1116.5,1325.6 L1117.4,1313.7 L1118.2,1300.8 L1119.1,1287.8 L1120.0,1275.9 L1120.8,1267.1 L1121.7,1263.0 L1122.5,1264.4 L1123.4,1271.2 L1124.3,1282.2 L1125.1,1295.6 L1126.0,1309.5 L1126.8,1322.5 L1127.7,1333.5 L1128.6,1342.3 L1129.4,1348.5 L1130.3,1352.2 L1131.1,1353.4 L1132.0,1352.1 L1132.8,1348.6 L1133.7,1343.2 L1134.6,1336.7 L1135.4,1329.5 L1136.3,1322.4 L1137.1,1315.9 L1138.0,1310.7 L1138.9,1307.1 L1139.7,1305.4 L1140.6,1305.7 L1141.4,1308.0 L1142.3,1311.9 L1143.2,1317.0 L1144.0,1322.9 L1144.9,1329.1 L1145.7,1334.9 L1146.6,1340.0 L1147.4,1343.7 L1148.3,1346.0 L1149.2,1346.6 L1150.0,1345.6 L1150.9,1343.2 L1151.7,1339.8 L1152.6,1335.9 L1153.5,1331.8 L1154.3,1328.3 L1155.2,1325.5 L1156.0,1324.0 L1156.9,1323.8 L1157.8,1324.9 L1158.6,1327.0 L1159.5,1329.7 L1160.3,1332.7 L1161.2,1335.6 L1162.1,1338.0 L1162.9,1339.9 L1163.8,1341.3 L1164.6,1342.4 L1165.5,1343.2 L1166.3,1344.1 L1167.2,1345.0 L1168.1,1346.0 L1168.9,1347.1 L1169.8,1348.1 L1170.6,1348.9 L1171.5,1349.3 L1172.4,1349.3 L1173.2,1349.0 L1174.1,1348.3 L1174.9,1347.7 L1175.8,1347.1 L1176.7,1346.9 L1177.5,1347.1 L1178.4,1347.8 L1179.2,1348.8 L1180.1,1350.1 L1181.0,1351.2 L1181.8,1352.2 L1182.7,1352.7 L1183.5,1352.8 L1184.4,1352.4 L1185.2,1351.8 L1186.1,1351.1 L1187.0,1350.6 L1187.8,1350.3 L1188.7,1350.4 L1189.5,1350.9 L1190.4,1351.6 L1191.3,1352.4 L1192.1,1353.0 L1193.0,1353.4 L1193.8,1353.5 L1194.7,1353.2 L1195.6,1352.7 L1196.4,1352.1 L1197.3,1351.6 L1198.1,1351.4 L1199.0,1351.5 L1199.8,1351.9 L1200.7,1352.6 L1201.6,1353.3 L1202.4,1354.0 L1203.3,1354.5 L1204.1,1354.6 L1205.0,1354.4 L1205.9,1354.0" fill="none" stroke="#fde64a" stroke-width="4.2" stroke-linejoin="round" stroke-linecap="round" opacity="1"/>
<path d="M1036.6,1334.8 L1037.5,1335.1 L1038.4,1335.4 L1039.2,1335.7 L1040.1,1336.0 L1040.9,1336.3 L1041.8,1336.6 L1042.7,1336.8 L1043.5,1337.0 L1044.4,1337.0 L1045.2,1337.0 L1046.1,1336.9 L1046.9,1336.8 L1047.8,1336.6 L1048.7,1336.5 L1049.5,1336.4 L1050.4,1336.4 L1051.2,1336.6 L1052.1,1336.8 L1053.0,1337.1 L1053.8,1337.4 L1054.7,1337.7 L1055.5,1337.9 L1056.4,1338.0 L1057.3,1337.9 L1058.1,1337.7 L1059.0,1337.5 L1059.8,1337.3 L1060.7,1337.2 L1061.5,1337.2 L1062.4,1337.6 L1063.3,1338.2 L1064.1,1339.1 L1065.0,1340.3 L1065.8,1341.6 L1066.7,1343.0 L1067.6,1344.3 L1068.4,1345.4 L1069.3,1346.0 L1070.1,1346.0 L1071.0,1345.5 L1071.9,1344.3 L1072.7,1342.5 L1073.6,1340.3 L1074.4,1337.9 L1075.3,1335.3 L1076.2,1332.9 L1077.0,1330.9 L1077.9,1329.6 L1078.7,1328.9 L1079.6,1329.2 L1080.4,1330.3 L1081.3,1332.3 L1082.2,1334.9 L1083.0,1338.0 L1083.9,1341.2 L1084.7,1344.4 L1085.6,1347.2 L1086.5,1349.3 L1087.3,1350.5 L1088.2,1350.6 L1089.0,1349.6 L1089.9,1347.5 L1090.8,1344.5 L1091.6,1340.9 L1092.5,1336.9 L1093.3,1332.9 L1094.2,1329.3 L1095.1,1326.4 L1095.9,1324.6 L1096.8,1324.2 L1097.6,1325.2 L1098.5,1327.5 L1099.3,1331.2 L1100.2,1335.8 L1101.1,1341.1 L1101.9,1346.7 L1102.8,1352.4 L1103.6,1357.9 L1104.5,1363.1 L1105.4,1367.7 L1106.2,1371.7 L1107.1,1374.9 L1107.9,1377.3 L1108.8,1378.8 L1109.7,1379.1 L1110.5,1377.1 L1111.4,1373.1 L1112.2,1367.5 L1113.1,1360.9 L1113.9,1353.9 L1114.8,1346.6 L1115.7,1339.2 L1116.5,1331.4 L1117.4,1323.1 L1118.2,1314.3 L1119.1,1305.5 L1120.0,1297.8 L1120.8,1292.4 L1121.7,1290.3 L1122.5,1292.0 L1123.4,1297.3 L1124.3,1305.5 L1125.1,1315.2 L1126.0,1325.2 L1126.8,1334.7 L1127.7,1342.9 L1128.6,1349.5 L1129.4,1354.2 L1130.3,1357.0 L1131.1,1357.5 L1132.0,1355.8 L1132.8,1352.0 L1133.7,1346.2 L1134.6,1339.2 L1135.4,1331.4 L1136.3,1323.6 L1137.1,1316.5 L1138.0,1310.8 L1138.9,1306.9 L1139.7,1305.2 L1140.6,1305.8 L1141.4,1308.6 L1142.3,1313.1 L1143.2,1319.0 L1144.0,1325.4 L1144.9,1331.8 L1145.7,1337.4 L1146.6,1341.9 L1147.4,1344.8 L1148.3,1346.0 L1149.2,1345.5 L1150.0,1343.6 L1150.9,1340.5 L1151.7,1336.7 L1152.6,1332.6 L1153.5,1328.7 L1154.3,1325.2 L1155.2,1322.6 L1156.0,1321.0 L1156.9,1320.5 L1157.8,1321.2 L1158.6,1322.9 L1159.5,1325.4 L1160.3,1328.2 L1161.2,1331.2 L1162.1,1333.9 L1162.9,1336.4 L1163.8,1338.3 L1164.6,1339.7 L1165.5,1340.8 L1166.3,1341.4 L1167.2,1341.9 L1168.1,1342.1 L1168.9,1342.3 L1169.8,1342.5 L1170.6,1342.7 L1171.5,1342.9 L1172.4,1343.1 L1173.2,1343.4 L1174.1,1343.6 L1174.9,1343.9 L1175.8,1344.1 L1176.7,1344.4 L1177.5,1344.8 L1178.4,1345.2 L1179.2,1345.5 L1180.1,1345.9 L1181.0,1346.2 L1181.8,1346.4 L1182.7,1346.6 L1183.5,1346.5 L1184.4,1346.4 L1185.2,1346.2 L1186.1,1345.9 L1187.0,1345.7 L1187.8,1345.7 L1188.7,1345.7 L1189.5,1345.9 L1190.4,1346.2 L1191.3,1346.5 L1192.1,1346.8 L1193.0,1347.1 L1193.8,1347.3 L1194.7,1347.3 L1195.6,1347.1 L1196.4,1346.9 L1197.3,1346.6 L1198.1,1346.3 L1199.0,1346.1 L1199.8,1346.0 L1200.7,1346.0 L1201.6,1346.2 L1202.4,1346.5 L1203.3,1346.9 L1204.1,1347.4 L1205.0,1347.8 L1205.9,1348.2" fill="none" stroke="#3f97b7" stroke-width="4.2" stroke-linejoin="round" stroke-linecap="round" opacity="1"/>
<path d="M1036.6,1330.5 L1037.5,1330.7 L1038.4,1330.8 L1039.2,1330.7 L1040.1,1330.5 L1040.9,1330.2 L1041.8,1329.9 L1042.7,1329.7 L1043.5,1329.6 L1044.4,1329.6 L1045.2,1329.8 L1046.1,1330.1 L1046.9,1330.6 L1047.8,1331.0 L1048.7,1331.3 L1049.5,1331.5 L1050.4,1331.5 L1051.2,1331.3 L1052.1,1331.0 L1053.0,1330.6 L1053.8,1330.2 L1054.7,1329.8 L1055.5,1329.7 L1056.4,1329.8 L1057.3,1330.1 L1058.1,1330.6 L1059.0,1331.2 L1059.8,1331.9 L1060.7,1332.5 L1061.5,1333.1 L1062.4,1333.6 L1063.3,1334.0 L1064.1,1334.4 L1065.0,1334.9 L1065.8,1335.4 L1066.7,1336.2 L1067.6,1337.0 L1068.4,1337.9 L1069.3,1338.6 L1070.1,1339.0 L1071.0,1338.9 L1071.9,1338.2 L1072.7,1336.8 L1073.6,1334.9 L1074.4,1332.5 L1075.3,1329.8 L1076.2,1327.1 L1077.0,1324.7 L1077.9,1322.9 L1078.7,1322.0 L1079.6,1322.1 L1080.4,1323.3 L1081.3,1325.7 L1082.2,1329.0 L1083.0,1332.9 L1083.9,1337.2 L1084.7,1341.4 L1085.6,1345.1 L1086.5,1347.9 L1087.3,1349.3 L1088.2,1349.2 L1089.0,1347.5 L1089.9,1344.3 L1090.8,1339.8 L1091.6,1334.5 L1092.5,1328.8 L1093.3,1323.4 L1094.2,1318.8 L1095.1,1315.4 L1095.9,1313.8 L1096.8,1314.1 L1097.6,1316.5 L1098.5,1320.6 L1099.3,1326.3 L1100.2,1333.1 L1101.1,1340.6 L1101.9,1348.2 L1102.8,1355.7 L1103.6,1362.8 L1104.5,1369.2 L1105.4,1375.0 L1106.2,1379.9 L1107.1,1383.8 L1107.9,1386.6 L1108.8,1388.3 L1109.7,1388.4 L1110.5,1385.5 L1111.4,1379.9 L1112.2,1372.2 L1113.1,1363.4 L1113.9,1354.1 L1114.8,1344.7 L1115.7,1335.1 L1116.5,1324.8 L1117.4,1313.5 L1118.2,1301.3 L1119.1,1288.9 L1120.0,1277.5 L1120.8,1269.1 L1121.7,1265.1 L1122.5,1266.4 L1123.4,1272.9 L1124.3,1283.4 L1125.1,1296.3 L1126.0,1309.6 L1126.8,1322.0 L1127.7,1332.7 L1128.6,1341.2 L1129.4,1347.4 L1130.3,1351.3 L1131.1,1352.8 L1132.0,1351.9 L1132.8,1348.9 L1133.7,1344.1 L1134.6,1338.0 L1135.4,1331.1 L1136.3,1324.2 L1137.1,1317.8 L1138.0,1312.7 L1138.9,1309.2 L1139.7,1307.6 L1140.6,1308.2 L1141.4,1310.6 L1142.3,1314.7 L1143.2,1320.0 L1144.0,1325.9 L1144.9,1331.8 L1145.7,1337.2 L1146.6,1341.6 L1147.4,1344.7 L1148.3,1346.3 L1149.2,1346.4 L1150.0,1345.3 L1150.9,1343.1 L1151.7,1340.2 L1152.6,1336.9 L1153.5,1333.8 L1154.3,1331.0 L1155.2,1328.9 L1156.0,1327.8 L1156.9,1327.6 L1157.8,1328.5 L1158.6,1330.3 L1159.5,1332.8 L1160.3,1335.7 L1161.2,1338.7 L1162.1,1341.5 L1162.9,1344.0 L1163.8,1345.9 L1164.6,1347.4 L1165.5,1348.3 L1166.3,1348.7 L1167.2,1348.8 L1168.1,1348.7 L1168.9,1348.5 L1169.8,1348.4 L1170.6,1348.4 L1171.5,1348.7 L1172.4,1349.2 L1173.2,1350.0 L1174.1,1350.9 L1174.9,1351.9 L1175.8,1352.9 L1176.7,1353.8 L1177.5,1354.4 L1178.4,1354.8 L1179.2,1354.9 L1180.1,1354.9 L1181.0,1354.7 L1181.8,1354.5 L1182.7,1354.4 L1183.5,1354.4 L1184.4,1354.6 L1185.2,1354.9 L1186.1,1355.4 L1187.0,1355.8 L1187.8,1356.2 L1188.7,1356.5 L1189.5,1356.5 L1190.4,1356.3 L1191.3,1355.9 L1192.1,1355.4 L1193.0,1354.9 L1193.8,1354.4 L1194.7,1354.2 L1195.6,1354.3 L1196.4,1354.7 L1197.3,1355.4 L1198.1,1356.3 L1199.0,1357.2 L1199.8,1358.2 L1200.7,1358.9 L1201.6,1359.4 L1202.4,1359.5 L1203.3,1359.3 L1204.1,1358.8 L1205.0,1358.1 L1205.9,1357.4" fill="none" stroke="#8b3a8f" stroke-width="4.2" stroke-linejoin="round" stroke-linecap="round" opacity="0.92"/>
<rect x="1028.2" y="1240" width="187.3" height="170.6" fill="none" stroke="#000" stroke-width="1.9"/>
<path d="M1035.4,1410.6v8.5 M1078.3,1410.6v8.5 M1121.3,1410.6v8.5 M1164.2,1410.6v8.5 M1207.2,1410.6v8.5" stroke="#333" stroke-width="1.2" fill="none"/>
<text x="1114.9" y="1225.9" text-anchor="middle" style="font-size:21.3px" fill="#000" stroke="#000">INO80 WT</text>
<rect x="1234.9" y="1240" width="187.3" height="170.6" fill="#fff"/>
<path d="M1263.5,1240V1410.6 M1306.5,1240V1410.6 M1349.4,1240V1410.6 M1392.4,1240V1410.6 M1234.9,1367.2H1422.2 M1234.9,1315.5H1422.2 M1234.9,1263.8H1422.2" stroke="#efefef" stroke-width="1.9" fill="none"/>
<path d="M1242.1,1240V1410.6 M1285.0,1240V1410.6 M1328.0,1240V1410.6 M1370.9,1240V1410.6 M1413.9,1240V1410.6 M1234.9,1393.0H1422.2 M1234.9,1341.3H1422.2 M1234.9,1289.6H1422.2" stroke="#ebebeb" stroke-width="2.2" fill="none"/>
<path d="M1243.3,1336.0 L1244.2,1336.2 L1245.1,1336.5 L1245.9,1336.8 L1246.8,1337.2 L1247.6,1337.5 L1248.5,1337.7 L1249.4,1337.7 L1250.2,1337.6 L1251.1,1337.3 L1251.9,1336.9 L1252.8,1336.5 L1253.6,1336.1 L1254.5,1335.9 L1255.4,1335.7 L1256.2,1335.7 L1257.1,1335.8 L1257.9,1336.0 L1258.8,1336.1 L1259.7,1336.2 L1260.5,1336.2 L1261.4,1336.2 L1262.2,1336.2 L1263.1,1336.3 L1264.0,1336.4 L1264.8,1336.8 L1265.7,1337.3 L1266.5,1337.9 L1267.4,1338.7 L1268.2,1339.6 L1269.1,1340.5 L1270.0,1341.2 L1270.8,1341.9 L1271.7,1342.3 L1272.5,1342.6 L1273.4,1342.7 L1274.3,1342.7 L1275.1,1342.4 L1276.0,1342.1 L1276.8,1341.5 L1277.7,1340.8 L1278.6,1339.8 L1279.4,1338.8 L1280.3,1337.6 L1281.1,1336.3 L1282.0,1335.0 L1282.9,1334.0 L1283.7,1333.2 L1284.6,1332.8 L1285.4,1333.1 L1286.3,1334.0 L1287.1,1335.6 L1288.0,1338.0 L1288.9,1340.9 L1289.7,1344.2 L1290.6,1347.6 L1291.4,1350.8 L1292.3,1353.3 L1293.2,1354.9 L1294.0,1355.3 L1294.9,1354.3 L1295.7,1351.8 L1296.6,1348.0 L1297.5,1343.3 L1298.3,1337.9 L1299.2,1332.5 L1300.0,1327.5 L1300.9,1323.5 L1301.8,1320.8 L1302.6,1319.9 L1303.5,1320.8 L1304.3,1323.6 L1305.2,1328.1 L1306.0,1333.8 L1306.9,1340.4 L1307.8,1347.2 L1308.6,1353.8 L1309.5,1359.9 L1310.3,1365.2 L1311.2,1369.4 L1312.1,1372.5 L1312.9,1374.4 L1313.8,1375.2 L1314.6,1374.7 L1315.5,1372.1 L1316.4,1367.6 L1317.2,1362.0 L1318.1,1355.8 L1318.9,1349.9 L1319.8,1344.6 L1320.6,1339.9 L1321.5,1335.6 L1322.4,1331.0 L1323.2,1325.5 L1324.1,1318.6 L1324.9,1310.3 L1325.8,1301.1 L1326.7,1292.4 L1327.5,1285.6 L1328.4,1282.1 L1329.2,1282.8 L1330.1,1287.6 L1331.0,1295.5 L1331.8,1305.2 L1332.7,1315.1 L1333.5,1324.1 L1334.4,1331.5 L1335.3,1337.1 L1336.1,1340.9 L1337.0,1343.1 L1337.8,1343.7 L1338.7,1343.1 L1339.5,1341.3 L1340.4,1338.7 L1341.3,1335.6 L1342.1,1332.3 L1343.0,1329.2 L1343.8,1326.5 L1344.7,1324.5 L1345.6,1323.4 L1346.4,1323.1 L1347.3,1323.6 L1348.1,1324.9 L1349.0,1326.8 L1349.9,1329.0 L1350.7,1331.4 L1351.6,1333.7 L1352.4,1335.7 L1353.3,1337.4 L1354.1,1338.6 L1355.0,1339.3 L1355.9,1339.5 L1356.7,1339.2 L1357.6,1338.5 L1358.4,1337.4 L1359.3,1336.1 L1360.2,1334.7 L1361.0,1333.5 L1361.9,1332.5 L1362.7,1331.9 L1363.6,1331.8 L1364.5,1332.2 L1365.3,1333.2 L1366.2,1334.6 L1367.0,1336.2 L1367.9,1338.0 L1368.8,1339.6 L1369.6,1341.0 L1370.5,1342.1 L1371.3,1342.9 L1372.2,1343.3 L1373.0,1343.4 L1373.9,1343.3 L1374.8,1343.2 L1375.6,1342.9 L1376.5,1342.7 L1377.3,1342.5 L1378.2,1342.3 L1379.1,1342.1 L1379.9,1341.9 L1380.8,1341.7 L1381.6,1341.5 L1382.5,1341.3 L1383.4,1341.2 L1384.2,1341.3 L1385.1,1341.6 L1385.9,1342.1 L1386.8,1343.0 L1387.7,1344.0 L1388.5,1345.2 L1389.4,1346.3 L1390.2,1347.4 L1391.1,1348.2 L1391.9,1348.6 L1392.8,1348.7 L1393.7,1348.4 L1394.5,1347.8 L1395.4,1347.0 L1396.2,1346.1 L1397.1,1345.2 L1398.0,1344.4 L1398.8,1343.8 L1399.7,1343.4 L1400.5,1343.2 L1401.4,1343.2 L1402.3,1343.3 L1403.1,1343.5 L1404.0,1343.9 L1404.8,1344.2 L1405.7,1344.7 L1406.5,1345.3 L1407.4,1345.9 L1408.3,1346.7 L1409.1,1347.4 L1410.0,1348.2 L1410.8,1348.9 L1411.7,1349.3 L1412.6,1349.5" fill="none" stroke="#84dc87" stroke-width="4.2" stroke-linejoin="round" stroke-linecap="round" opacity="1"/>
<path d="M1243.3,1336.0 L1244.2,1336.2 L1245.1,1336.3 L1245.9,1336.5 L1246.8,1336.6 L1247.6,1336.8 L1248.5,1336.9 L1249.4,1337.0 L1250.2,1337.0 L1251.1,1337.1 L1251.9,1337.1 L1252.8,1337.1 L1253.6,1337.0 L1254.5,1336.8 L1255.4,1336.7 L1256.2,1336.5 L1257.1,1336.3 L1257.9,1336.1 L1258.8,1336.0 L1259.7,1335.9 L1260.5,1336.0 L1261.4,1336.2 L1262.2,1336.4 L1263.1,1336.7 L1264.0,1337.1 L1264.8,1337.5 L1265.7,1337.9 L1266.5,1338.3 L1267.4,1338.6 L1268.2,1338.9 L1269.1,1339.2 L1270.0,1339.6 L1270.8,1340.0 L1271.7,1340.4 L1272.5,1341.0 L1273.4,1341.6 L1274.3,1342.3 L1275.1,1342.8 L1276.0,1343.1 L1276.8,1343.1 L1277.7,1342.7 L1278.6,1341.9 L1279.4,1340.7 L1280.3,1339.2 L1281.1,1337.5 L1282.0,1335.8 L1282.9,1334.2 L1283.7,1333.0 L1284.6,1332.3 L1285.4,1332.2 L1286.3,1332.8 L1287.1,1334.1 L1288.0,1336.1 L1288.9,1338.6 L1289.7,1341.4 L1290.6,1344.4 L1291.4,1347.2 L1292.3,1349.5 L1293.2,1351.1 L1294.0,1351.8 L1294.9,1351.3 L1295.7,1349.7 L1296.6,1347.0 L1297.5,1343.5 L1298.3,1339.4 L1299.2,1335.2 L1300.0,1331.3 L1300.9,1328.2 L1301.8,1326.2 L1302.6,1325.7 L1303.5,1326.8 L1304.3,1329.5 L1305.2,1333.6 L1306.0,1338.7 L1306.9,1344.5 L1307.8,1350.5 L1308.6,1356.2 L1309.5,1361.3 L1310.3,1365.6 L1311.2,1369.0 L1312.1,1371.4 L1312.9,1372.9 L1313.8,1373.5 L1314.6,1373.2 L1315.5,1371.0 L1316.4,1367.2 L1317.2,1362.3 L1318.1,1357.0 L1318.9,1351.9 L1319.8,1347.2 L1320.6,1343.0 L1321.5,1339.1 L1322.4,1335.0 L1323.2,1330.3 L1324.1,1324.7 L1324.9,1318.0 L1325.8,1310.9 L1326.7,1304.1 L1327.5,1298.9 L1328.4,1296.3 L1329.2,1296.8 L1330.1,1300.4 L1331.0,1306.2 L1331.8,1313.3 L1332.7,1320.7 L1333.5,1327.4 L1334.4,1333.0 L1335.3,1337.4 L1336.1,1340.6 L1337.0,1342.6 L1337.8,1343.5 L1338.7,1343.4 L1339.5,1342.3 L1340.4,1340.4 L1341.3,1337.9 L1342.1,1334.9 L1343.0,1331.9 L1343.8,1329.1 L1344.7,1326.6 L1345.6,1324.8 L1346.4,1323.7 L1347.3,1323.5 L1348.1,1324.1 L1349.0,1325.4 L1349.9,1327.2 L1350.7,1329.4 L1351.6,1331.6 L1352.4,1333.7 L1353.3,1335.5 L1354.1,1336.8 L1355.0,1337.7 L1355.9,1338.1 L1356.7,1338.1 L1357.6,1337.8 L1358.4,1337.2 L1359.3,1336.5 L1360.2,1335.9 L1361.0,1335.3 L1361.9,1335.0 L1362.7,1334.9 L1363.6,1335.1 L1364.5,1335.5 L1365.3,1336.2 L1366.2,1337.0 L1367.0,1337.8 L1367.9,1338.5 L1368.8,1339.1 L1369.6,1339.4 L1370.5,1339.7 L1371.3,1339.7 L1372.2,1339.7 L1373.0,1339.6 L1373.9,1339.7 L1374.8,1339.8 L1375.6,1340.1 L1376.5,1340.6 L1377.3,1341.2 L1378.2,1342.0 L1379.1,1342.9 L1379.9,1343.9 L1380.8,1344.7 L1381.6,1345.5 L1382.5,1346.0 L1383.4,1346.3 L1384.2,1346.3 L1385.1,1346.1 L1385.9,1345.6 L1386.8,1345.0 L1387.7,1344.3 L1388.5,1343.6 L1389.4,1343.0 L1390.2,1342.6 L1391.1,1342.4 L1391.9,1342.5 L1392.8,1342.8 L1393.7,1343.3 L1394.5,1344.1 L1395.4,1344.9 L1396.2,1345.7 L1397.1,1346.5 L1398.0,1347.1 L1398.8,1347.6 L1399.7,1347.8 L1400.5,1347.9 L1401.4,1347.7 L1402.3,1347.4 L1403.1,1347.0 L1404.0,1346.5 L1404.8,1346.0 L1405.7,1345.5 L1406.5,1345.1 L1407.4,1344.8 L1408.3,1344.7 L1409.1,1344.6 L1410.0,1344.6 L1410.8,1344.8 L1411.7,1345.1 L1412.6,1345.4" fill="none" stroke="#3f97b7" stroke-width="4.2" stroke-linejoin="round" stroke-linecap="round" opacity="1"/>
<path d="M1243.3,1334.7 L1244.2,1334.4 L1245.1,1334.2 L1245.9,1334.2 L1246.8,1334.5 L1247.6,1335.0 L1248.5,1335.8 L1249.4,1336.7 L1250.2,1337.5 L1251.1,1338.3 L1251.9,1338.9 L1252.8,1339.2 L1253.6,1339.2 L1254.5,1338.9 L1255.4,1338.4 L1256.2,1337.7 L1257.1,1336.9 L1257.9,1336.2 L1258.8,1335.6 L1259.7,1335.3 L1260.5,1335.2 L1261.4,1335.3 L1262.2,1335.6 L1263.1,1336.0 L1264.0,1336.5 L1264.8,1336.9 L1265.7,1337.3 L1266.5,1337.6 L1267.4,1337.8 L1268.2,1338.0 L1269.1,1338.3 L1270.0,1338.7 L1270.8,1339.3 L1271.7,1340.1 L1272.5,1341.1 L1273.4,1342.3 L1274.3,1343.4 L1275.1,1344.3 L1276.0,1344.9 L1276.8,1345.0 L1277.7,1344.5 L1278.6,1343.3 L1279.4,1341.7 L1280.3,1339.6 L1281.1,1337.4 L1282.0,1335.2 L1282.9,1333.3 L1283.7,1331.9 L1284.6,1331.1 L1285.4,1331.1 L1286.3,1331.8 L1287.1,1333.3 L1288.0,1335.4 L1288.9,1338.0 L1289.7,1340.9 L1290.6,1343.8 L1291.4,1346.5 L1292.3,1348.9 L1293.2,1350.5 L1294.0,1351.4 L1294.9,1351.2 L1295.7,1350.1 L1296.6,1347.9 L1297.5,1344.9 L1298.3,1341.3 L1299.2,1337.5 L1300.0,1333.8 L1300.9,1330.6 L1301.8,1328.2 L1302.6,1327.1 L1303.5,1327.3 L1304.3,1329.1 L1305.2,1332.2 L1306.0,1336.5 L1306.9,1341.7 L1307.8,1347.2 L1308.6,1352.9 L1309.5,1358.3 L1310.3,1363.2 L1311.2,1367.4 L1312.1,1370.8 L1312.9,1373.4 L1313.8,1375.0 L1314.6,1375.5 L1315.5,1373.9 L1316.4,1370.4 L1317.2,1365.5 L1318.1,1359.9 L1318.9,1354.1 L1319.8,1348.5 L1320.6,1343.2 L1321.5,1337.8 L1322.4,1332.0 L1323.2,1325.2 L1324.1,1317.1 L1324.9,1307.8 L1325.8,1298.0 L1326.7,1289.0 L1327.5,1282.3 L1328.4,1279.3 L1329.2,1280.7 L1330.1,1286.2 L1331.0,1294.8 L1331.8,1305.1 L1332.7,1315.4 L1333.5,1324.6 L1334.4,1332.2 L1335.3,1337.9 L1336.1,1341.8 L1337.0,1344.1 L1337.8,1345.0 L1338.7,1344.6 L1339.5,1343.1 L1340.4,1340.7 L1341.3,1337.6 L1342.1,1334.1 L1343.0,1330.5 L1343.8,1327.1 L1344.7,1324.3 L1345.6,1322.2 L1346.4,1321.2 L1347.3,1321.2 L1348.1,1322.3 L1349.0,1324.3 L1349.9,1326.9 L1350.7,1329.9 L1351.6,1333.0 L1352.4,1335.8 L1353.3,1338.1 L1354.1,1339.7 L1355.0,1340.6 L1355.9,1340.7 L1356.7,1340.1 L1357.6,1339.1 L1358.4,1337.7 L1359.3,1336.2 L1360.2,1334.9 L1361.0,1333.8 L1361.9,1333.0 L1362.7,1332.7 L1363.6,1332.9 L1364.5,1333.5 L1365.3,1334.4 L1366.2,1335.5 L1367.0,1336.6 L1367.9,1337.7 L1368.8,1338.7 L1369.6,1339.5 L1370.5,1340.1 L1371.3,1340.6 L1372.2,1341.1 L1373.0,1341.4 L1373.9,1341.8 L1374.8,1342.1 L1375.6,1342.4 L1376.5,1342.8 L1377.3,1343.1 L1378.2,1343.3 L1379.1,1343.5 L1379.9,1343.6 L1380.8,1343.7 L1381.6,1343.6 L1382.5,1343.6 L1383.4,1343.5 L1384.2,1343.5 L1385.1,1343.4 L1385.9,1343.4 L1386.8,1343.5 L1387.7,1343.5 L1388.5,1343.6 L1389.4,1343.8 L1390.2,1344.0 L1391.1,1344.2 L1391.9,1344.5 L1392.8,1344.9 L1393.7,1345.3 L1394.5,1345.7 L1395.4,1346.2 L1396.2,1346.6 L1397.1,1346.9 L1398.0,1347.1 L1398.8,1347.2 L1399.7,1347.2 L1400.5,1347.0 L1401.4,1346.7 L1402.3,1346.3 L1403.1,1345.9 L1404.0,1345.5 L1404.8,1345.1 L1405.7,1344.8 L1406.5,1344.6 L1407.4,1344.5 L1408.3,1344.6 L1409.1,1344.7 L1410.0,1345.0 L1410.8,1345.2 L1411.7,1345.6 L1412.6,1345.9" fill="none" stroke="#8b3a8f" stroke-width="4.2" stroke-linejoin="round" stroke-linecap="round" opacity="0.92"/>
<rect x="1234.9" y="1240" width="187.3" height="170.6" fill="none" stroke="#000" stroke-width="1.9"/>
<path d="M1242.1,1410.6v8.5 M1285.0,1410.6v8.5 M1328.0,1410.6v8.5 M1370.9,1410.6v8.5 M1413.9,1410.6v8.5" stroke="#333" stroke-width="1.2" fill="none"/>
<text x="1321.6" y="1225.9" text-anchor="middle" style="font-size:21.3px" fill="#000" stroke="#000">HQ1</text>
<rect x="1441.6" y="1240" width="187.3" height="170.6" fill="#fff"/>
<path d="M1470.2,1240V1410.6 M1513.2,1240V1410.6 M1556.1,1240V1410.6 M1599.1,1240V1410.6 M1441.6,1367.2H1628.8999999999999 M1441.6,1315.5H1628.8999999999999 M1441.6,1263.8H1628.8999999999999" stroke="#efefef" stroke-width="1.9" fill="none"/>
<path d="M1448.8,1240V1410.6 M1491.7,1240V1410.6 M1534.7,1240V1410.6 M1577.6,1240V1410.6 M1620.6,1240V1410.6 M1441.6,1393.0H1628.8999999999999 M1441.6,1341.3H1628.8999999999999 M1441.6,1289.6H1628.8999999999999" stroke="#ebebeb" stroke-width="2.2" fill="none"/>
<path d="M1450.0,1335.3 L1450.9,1334.9 L1451.8,1334.5 L1452.6,1334.2 L1453.5,1334.1 L1454.3,1334.1 L1455.2,1334.3 L1456.1,1334.7 L1456.9,1335.2 L1457.8,1335.6 L1458.6,1336.0 L1459.5,1336.3 L1460.3,1336.5 L1461.2,1336.5 L1462.1,1336.3 L1462.9,1336.1 L1463.8,1335.8 L1464.6,1335.6 L1465.5,1335.4 L1466.4,1335.4 L1467.2,1335.4 L1468.1,1335.6 L1468.9,1335.8 L1469.8,1336.1 L1470.7,1336.3 L1471.5,1336.4 L1472.4,1336.5 L1473.2,1336.6 L1474.1,1336.6 L1474.9,1336.7 L1475.8,1337.0 L1476.7,1337.4 L1477.5,1338.1 L1478.4,1339.0 L1479.2,1340.0 L1480.1,1341.1 L1481.0,1342.1 L1481.8,1342.8 L1482.7,1343.2 L1483.5,1343.1 L1484.4,1342.5 L1485.3,1341.3 L1486.1,1339.8 L1487.0,1337.9 L1487.8,1336.0 L1488.7,1334.2 L1489.6,1332.7 L1490.4,1331.6 L1491.3,1331.2 L1492.1,1331.4 L1493.0,1332.4 L1493.8,1334.0 L1494.7,1336.2 L1495.6,1338.8 L1496.4,1341.8 L1497.3,1344.8 L1498.1,1347.7 L1499.0,1350.2 L1499.9,1352.0 L1500.7,1352.8 L1501.6,1352.5 L1502.4,1350.9 L1503.3,1348.0 L1504.2,1344.1 L1505.0,1339.4 L1505.9,1334.4 L1506.7,1329.5 L1507.6,1325.2 L1508.5,1322.0 L1509.3,1320.3 L1510.2,1320.5 L1511.0,1322.6 L1511.9,1326.5 L1512.7,1331.9 L1513.6,1338.5 L1514.5,1345.7 L1515.3,1353.0 L1516.2,1360.1 L1517.0,1366.5 L1517.9,1372.2 L1518.8,1376.8 L1519.6,1380.4 L1520.5,1382.8 L1521.3,1384.0 L1522.2,1383.9 L1523.1,1381.3 L1523.9,1376.4 L1524.8,1369.9 L1525.6,1362.6 L1526.5,1355.3 L1527.3,1348.2 L1528.2,1341.2 L1529.1,1334.0 L1529.9,1325.9 L1530.8,1316.5 L1531.6,1305.8 L1532.5,1294.5 L1533.4,1284.0 L1534.2,1275.9 L1535.1,1271.9 L1535.9,1272.7 L1536.8,1278.3 L1537.7,1287.6 L1538.5,1298.9 L1539.4,1310.5 L1540.2,1321.2 L1541.1,1330.2 L1542.0,1337.3 L1542.8,1342.3 L1543.7,1345.5 L1544.5,1347.0 L1545.4,1346.7 L1546.2,1345.0 L1547.1,1341.9 L1548.0,1337.9 L1548.8,1333.3 L1549.7,1328.5 L1550.5,1324.1 L1551.4,1320.4 L1552.3,1317.8 L1553.1,1316.4 L1554.0,1316.4 L1554.8,1317.7 L1555.7,1320.1 L1556.6,1323.2 L1557.4,1326.6 L1558.3,1329.9 L1559.1,1332.9 L1560.0,1335.3 L1560.8,1337.0 L1561.7,1337.9 L1562.6,1338.2 L1563.4,1337.9 L1564.3,1337.3 L1565.1,1336.5 L1566.0,1335.6 L1566.9,1334.8 L1567.7,1334.1 L1568.6,1333.6 L1569.4,1333.3 L1570.3,1333.3 L1571.2,1333.4 L1572.0,1333.7 L1572.9,1334.2 L1573.7,1334.8 L1574.6,1335.5 L1575.5,1336.3 L1576.3,1337.2 L1577.2,1338.1 L1578.0,1339.1 L1578.9,1340.1 L1579.7,1341.0 L1580.6,1341.7 L1581.5,1342.2 L1582.3,1342.5 L1583.2,1342.5 L1584.0,1342.3 L1584.9,1342.0 L1585.8,1341.6 L1586.6,1341.3 L1587.5,1341.1 L1588.3,1341.1 L1589.2,1341.2 L1590.1,1341.6 L1590.9,1342.1 L1591.8,1342.6 L1592.6,1343.2 L1593.5,1343.7 L1594.4,1344.1 L1595.2,1344.4 L1596.1,1344.5 L1596.9,1344.5 L1597.8,1344.5 L1598.6,1344.4 L1599.5,1344.3 L1600.4,1344.2 L1601.2,1344.2 L1602.1,1344.2 L1602.9,1344.2 L1603.8,1344.3 L1604.7,1344.3 L1605.5,1344.4 L1606.4,1344.4 L1607.2,1344.4 L1608.1,1344.5 L1609.0,1344.5 L1609.8,1344.6 L1610.7,1344.7 L1611.5,1344.8 L1612.4,1345.0 L1613.2,1345.1 L1614.1,1345.3 L1615.0,1345.4 L1615.8,1345.5 L1616.7,1345.6 L1617.5,1345.7 L1618.4,1345.7 L1619.3,1345.7" fill="none" stroke="#84dc87" stroke-width="4.2" stroke-linejoin="round" stroke-linecap="round" opacity="1"/>
<path d="M1450.0,1333.8 L1450.9,1334.0 L1451.8,1334.3 L1452.6,1334.7 L1453.5,1335.0 L1454.3,1335.3 L1455.2,1335.6 L1456.1,1335.8 L1456.9,1335.9 L1457.8,1336.0 L1458.6,1336.0 L1459.5,1335.9 L1460.3,1335.7 L1461.2,1335.6 L1462.1,1335.5 L1462.9,1335.4 L1463.8,1335.4 L1464.6,1335.5 L1465.5,1335.8 L1466.4,1336.1 L1467.2,1336.4 L1468.1,1336.7 L1468.9,1336.9 L1469.8,1336.9 L1470.7,1336.9 L1471.5,1336.7 L1472.4,1336.4 L1473.2,1336.2 L1474.1,1336.0 L1474.9,1336.1 L1475.8,1336.3 L1476.7,1336.8 L1477.5,1337.5 L1478.4,1338.4 L1479.2,1339.4 L1480.1,1340.5 L1481.0,1341.5 L1481.8,1342.2 L1482.7,1342.7 L1483.5,1342.8 L1484.4,1342.4 L1485.3,1341.7 L1486.1,1340.6 L1487.0,1339.1 L1487.8,1337.6 L1488.7,1335.9 L1489.6,1334.4 L1490.4,1333.1 L1491.3,1332.2 L1492.1,1331.8 L1493.0,1332.0 L1493.8,1332.8 L1494.7,1334.2 L1495.6,1336.1 L1496.4,1338.4 L1497.3,1340.8 L1498.1,1343.1 L1499.0,1345.2 L1499.9,1346.8 L1500.7,1347.6 L1501.6,1347.7 L1502.4,1346.9 L1503.3,1345.3 L1504.2,1343.0 L1505.0,1340.2 L1505.9,1337.3 L1506.7,1334.4 L1507.6,1331.9 L1508.5,1330.2 L1509.3,1329.4 L1510.2,1329.7 L1511.0,1331.4 L1511.9,1334.3 L1512.7,1338.4 L1513.6,1343.4 L1514.5,1349.0 L1515.3,1354.8 L1516.2,1360.8 L1517.0,1366.4 L1517.9,1371.6 L1518.8,1376.2 L1519.6,1379.9 L1520.5,1382.7 L1521.3,1384.4 L1522.2,1384.8 L1523.1,1382.6 L1523.9,1378.0 L1524.8,1371.8 L1525.6,1364.6 L1526.5,1357.1 L1527.3,1349.9 L1528.2,1343.0 L1529.1,1336.1 L1529.9,1328.9 L1530.8,1321.2 L1531.6,1313.0 L1532.5,1304.7 L1533.4,1297.4 L1534.2,1292.1 L1535.1,1290.1 L1535.9,1291.6 L1536.8,1296.6 L1537.7,1304.1 L1538.5,1312.9 L1539.4,1321.9 L1540.2,1330.0 L1541.1,1336.7 L1542.0,1341.9 L1542.8,1345.4 L1543.7,1347.4 L1544.5,1347.8 L1545.4,1346.7 L1546.2,1344.3 L1547.1,1340.7 L1548.0,1336.2 L1548.8,1331.4 L1549.7,1326.6 L1550.5,1322.2 L1551.4,1318.7 L1552.3,1316.2 L1553.1,1315.1 L1554.0,1315.3 L1554.8,1316.7 L1555.7,1319.1 L1556.6,1322.0 L1557.4,1325.2 L1558.3,1328.2 L1559.1,1330.8 L1560.0,1332.9 L1560.8,1334.4 L1561.7,1335.3 L1562.6,1335.8 L1563.4,1335.9 L1564.3,1335.7 L1565.1,1335.4 L1566.0,1335.0 L1566.9,1334.6 L1567.7,1334.3 L1568.6,1334.0 L1569.4,1333.9 L1570.3,1333.9 L1571.2,1334.2 L1572.0,1334.6 L1572.9,1335.3 L1573.7,1336.1 L1574.6,1336.9 L1575.5,1337.7 L1576.3,1338.5 L1577.2,1339.1 L1578.0,1339.6 L1578.9,1340.0 L1579.7,1340.2 L1580.6,1340.3 L1581.5,1340.5 L1582.3,1340.6 L1583.2,1340.7 L1584.0,1340.8 L1584.9,1341.0 L1585.8,1341.2 L1586.6,1341.5 L1587.5,1341.7 L1588.3,1342.0 L1589.2,1342.2 L1590.1,1342.5 L1590.9,1342.9 L1591.8,1343.2 L1592.6,1343.6 L1593.5,1344.0 L1594.4,1344.3 L1595.2,1344.5 L1596.1,1344.6 L1596.9,1344.5 L1597.8,1344.4 L1598.6,1344.2 L1599.5,1343.9 L1600.4,1343.7 L1601.2,1343.7 L1602.1,1343.7 L1602.9,1343.9 L1603.8,1344.1 L1604.7,1344.5 L1605.5,1344.8 L1606.4,1345.1 L1607.2,1345.2 L1608.1,1345.2 L1609.0,1345.1 L1609.8,1344.8 L1610.7,1344.5 L1611.5,1344.3 L1612.4,1344.1 L1613.2,1344.0 L1614.1,1344.0 L1615.0,1344.2 L1615.8,1344.5 L1616.7,1344.9 L1617.5,1345.3 L1618.4,1345.8 L1619.3,1346.2" fill="none" stroke="#3f97b7" stroke-width="4.2" stroke-linejoin="round" stroke-linecap="round" opacity="1"/>
<path d="M1450.0,1333.7 L1450.9,1333.3 L1451.8,1333.1 L1452.6,1333.2 L1453.5,1333.5 L1454.3,1334.0 L1455.2,1334.8 L1456.1,1335.6 L1456.9,1336.5 L1457.8,1337.3 L1458.6,1337.9 L1459.5,1338.2 L1460.3,1338.2 L1461.2,1337.9 L1462.1,1337.3 L1462.9,1336.6 L1463.8,1335.9 L1464.6,1335.2 L1465.5,1334.6 L1466.4,1334.3 L1467.2,1334.1 L1468.1,1334.3 L1468.9,1334.6 L1469.8,1335.0 L1470.7,1335.4 L1471.5,1335.9 L1472.4,1336.2 L1473.2,1336.5 L1474.1,1336.7 L1474.9,1336.9 L1475.8,1337.2 L1476.7,1337.6 L1477.5,1338.2 L1478.4,1339.1 L1479.2,1340.1 L1480.1,1341.2 L1481.0,1342.4 L1481.8,1343.3 L1482.7,1343.9 L1483.5,1344.0 L1484.4,1343.4 L1485.3,1342.3 L1486.1,1340.7 L1487.0,1338.6 L1487.8,1336.4 L1488.7,1334.2 L1489.6,1332.3 L1490.4,1330.8 L1491.3,1330.1 L1492.1,1330.0 L1493.0,1330.7 L1493.8,1332.2 L1494.7,1334.2 L1495.6,1336.7 L1496.4,1339.4 L1497.3,1342.1 L1498.1,1344.7 L1499.0,1346.9 L1499.9,1348.4 L1500.7,1349.2 L1501.6,1349.1 L1502.4,1348.0 L1503.3,1346.0 L1504.2,1343.3 L1505.0,1340.1 L1505.9,1336.7 L1506.7,1333.4 L1507.6,1330.6 L1508.5,1328.6 L1509.3,1327.7 L1510.2,1328.2 L1511.0,1330.1 L1511.9,1333.4 L1512.7,1337.9 L1513.6,1343.3 L1514.5,1349.2 L1515.3,1355.4 L1516.2,1361.5 L1517.0,1367.3 L1517.9,1372.5 L1518.8,1377.0 L1519.6,1380.7 L1520.5,1383.4 L1521.3,1385.0 L1522.2,1385.2 L1523.1,1382.9 L1523.9,1378.1 L1524.8,1371.7 L1525.6,1364.2 L1526.5,1356.6 L1527.3,1349.1 L1528.2,1341.8 L1529.1,1334.4 L1529.9,1326.5 L1530.8,1317.6 L1531.6,1308.0 L1532.5,1298.0 L1533.4,1289.0 L1534.2,1282.3 L1535.1,1279.4 L1535.9,1280.8 L1536.8,1286.3 L1537.7,1294.9 L1538.5,1305.2 L1539.4,1315.7 L1540.2,1325.2 L1541.1,1333.1 L1542.0,1339.1 L1542.8,1343.3 L1543.7,1345.9 L1544.5,1346.8 L1545.4,1346.2 L1546.2,1344.2 L1547.1,1341.1 L1548.0,1337.1 L1548.8,1332.6 L1549.7,1328.0 L1550.5,1323.7 L1551.4,1320.1 L1552.3,1317.5 L1553.1,1316.2 L1554.0,1316.2 L1554.8,1317.5 L1555.7,1319.8 L1556.6,1323.0 L1557.4,1326.6 L1558.3,1330.2 L1559.1,1333.5 L1560.0,1336.2 L1560.8,1338.1 L1561.7,1339.2 L1562.6,1339.4 L1563.4,1339.0 L1564.3,1338.0 L1565.1,1336.6 L1566.0,1335.2 L1566.9,1333.8 L1567.7,1332.7 L1568.6,1332.0 L1569.4,1331.7 L1570.3,1331.9 L1571.2,1332.4 L1572.0,1333.3 L1572.9,1334.4 L1573.7,1335.6 L1574.6,1336.7 L1575.5,1337.6 L1576.3,1338.4 L1577.2,1339.1 L1578.0,1339.6 L1578.9,1340.0 L1579.7,1340.4 L1580.6,1340.7 L1581.5,1341.1 L1582.3,1341.4 L1583.2,1341.7 L1584.0,1342.0 L1584.9,1342.3 L1585.8,1342.5 L1586.6,1342.6 L1587.5,1342.6 L1588.3,1342.6 L1589.2,1342.6 L1590.1,1342.5 L1590.9,1342.4 L1591.8,1342.4 L1592.6,1342.4 L1593.5,1342.4 L1594.4,1342.5 L1595.2,1342.6 L1596.1,1342.7 L1596.9,1342.9 L1597.8,1343.2 L1598.6,1343.5 L1599.5,1343.9 L1600.4,1344.3 L1601.2,1344.7 L1602.1,1345.1 L1602.9,1345.5 L1603.8,1345.9 L1604.7,1346.1 L1605.5,1346.2 L1606.4,1346.2 L1607.2,1346.0 L1608.1,1345.7 L1609.0,1345.3 L1609.8,1344.9 L1610.7,1344.4 L1611.5,1344.0 L1612.4,1343.7 L1613.2,1343.6 L1614.1,1343.5 L1615.0,1343.5 L1615.8,1343.7 L1616.7,1343.9 L1617.5,1344.2 L1618.4,1344.5 L1619.3,1344.8" fill="none" stroke="#8b3a8f" stroke-width="4.2" stroke-linejoin="round" stroke-linecap="round" opacity="0.92"/>
<rect x="1441.6" y="1240" width="187.3" height="170.6" fill="none" stroke="#000" stroke-width="1.9"/>
<path d="M1448.8,1410.6v8.5 M1491.7,1410.6v8.5 M1534.7,1410.6v8.5 M1577.6,1410.6v8.5 M1620.6,1410.6v8.5" stroke="#333" stroke-width="1.2" fill="none"/>
<text x="1528.2" y="1225.9" text-anchor="middle" style="font-size:21.3px" fill="#000" stroke="#000">HQ2</text>
<rect x="821.4" y="1490.7" width="187.3" height="170.6" fill="#fff"/>
<path d="M850.0,1490.7V1661.3 M893.0,1490.7V1661.3 M935.9,1490.7V1661.3 M978.9,1490.7V1661.3 M821.4,1617.9H1008.7 M821.4,1566.2H1008.7 M821.4,1514.5H1008.7" stroke="#efefef" stroke-width="1.9" fill="none"/>
<path d="M828.5,1490.7V1661.3 M871.5,1490.7V1661.3 M914.4,1490.7V1661.3 M957.4,1490.7V1661.3 M1000.3,1490.7V1661.3 M821.4,1643.7H1008.7 M821.4,1592.0H1008.7 M821.4,1540.3H1008.7" stroke="#ebebeb" stroke-width="2.2" fill="none"/>
<path d="M829.8,1585.0 L830.7,1585.0 L831.6,1585.0 L832.4,1585.2 L833.3,1585.5 L834.1,1585.8 L835.0,1586.2 L835.9,1586.5 L836.7,1586.8 L837.6,1586.9 L838.4,1587.0 L839.3,1586.9 L840.1,1586.8 L841.0,1586.6 L841.9,1586.4 L842.7,1586.1 L843.6,1586.0 L844.4,1585.9 L845.3,1585.9 L846.2,1586.0 L847.0,1586.1 L847.9,1586.3 L848.7,1586.5 L849.6,1586.7 L850.5,1586.8 L851.3,1587.0 L852.2,1587.1 L853.0,1587.2 L853.9,1587.3 L854.7,1587.4 L855.6,1587.6 L856.5,1587.8 L857.3,1588.0 L858.2,1588.2 L859.0,1588.5 L859.9,1588.8 L860.8,1589.0 L861.6,1589.2 L862.5,1589.3 L863.3,1589.3 L864.2,1589.3 L865.1,1589.1 L865.9,1588.9 L866.8,1588.6 L867.6,1588.4 L868.5,1588.2 L869.4,1588.1 L870.2,1588.2 L871.1,1588.4 L871.9,1588.8 L872.8,1589.3 L873.6,1590.0 L874.5,1590.8 L875.4,1591.8 L876.2,1592.8 L877.1,1593.7 L877.9,1594.6 L878.8,1595.3 L879.7,1595.8 L880.5,1595.8 L881.4,1595.3 L882.2,1594.4 L883.1,1593.1 L884.0,1591.4 L884.8,1589.5 L885.7,1587.6 L886.5,1585.7 L887.4,1584.3 L888.3,1583.3 L889.1,1583.0 L890.0,1583.4 L890.8,1584.7 L891.7,1586.8 L892.5,1589.7 L893.4,1593.2 L894.3,1597.2 L895.1,1601.5 L896.0,1605.9 L896.8,1610.4 L897.7,1614.7 L898.6,1618.8 L899.4,1622.4 L900.3,1625.4 L901.1,1627.7 L902.0,1629.2 L902.9,1629.7 L903.7,1629.1 L904.6,1626.4 L905.4,1621.6 L906.3,1615.4 L907.1,1608.7 L908.0,1602.2 L908.9,1596.2 L909.7,1590.8 L910.6,1585.7 L911.4,1580.6 L912.3,1575.4 L913.2,1570.3 L914.0,1566.3 L914.9,1564.4 L915.7,1565.1 L916.6,1568.1 L917.5,1572.3 L918.3,1576.4 L919.2,1579.5 L920.0,1581.4 L920.9,1582.3 L921.8,1582.4 L922.6,1582.2 L923.5,1581.9 L924.3,1581.6 L925.2,1581.5 L926.0,1581.5 L926.9,1581.5 L927.8,1581.6 L928.6,1581.8 L929.5,1581.9 L930.3,1582.0 L931.2,1582.1 L932.1,1582.1 L932.9,1582.1 L933.8,1582.0 L934.6,1581.9 L935.5,1581.9 L936.4,1581.9 L937.2,1581.9 L938.1,1582.0 L938.9,1582.2 L939.8,1582.5 L940.6,1582.7 L941.5,1583.0 L942.4,1583.2 L943.2,1583.4 L944.1,1583.5 L944.9,1583.6 L945.8,1583.6 L946.7,1583.5 L947.5,1583.5 L948.4,1583.5 L949.2,1583.6 L950.1,1583.8 L951.0,1584.1 L951.8,1584.6 L952.7,1585.1 L953.5,1585.6 L954.4,1586.2 L955.3,1586.7 L956.1,1587.2 L957.0,1587.6 L957.8,1587.8 L958.7,1587.9 L959.5,1587.9 L960.4,1587.9 L961.3,1587.8 L962.1,1587.8 L963.0,1587.8 L963.8,1588.0 L964.7,1588.3 L965.6,1588.7 L966.4,1589.2 L967.3,1589.8 L968.1,1590.5 L969.0,1591.1 L969.9,1591.7 L970.7,1592.1 L971.6,1592.4 L972.4,1592.5 L973.3,1592.4 L974.2,1592.2 L975.0,1591.9 L975.9,1591.5 L976.7,1591.2 L977.6,1591.0 L978.4,1590.9 L979.3,1590.9 L980.2,1591.1 L981.0,1591.5 L981.9,1591.9 L982.7,1592.4 L983.6,1593.0 L984.5,1593.5 L985.3,1593.9 L986.2,1594.3 L987.0,1594.5 L987.9,1594.6 L988.8,1594.5 L989.6,1594.4 L990.5,1594.2 L991.3,1594.0 L992.2,1593.8 L993.0,1593.6 L993.9,1593.4 L994.8,1593.3 L995.6,1593.2 L996.5,1593.2 L997.3,1593.1 L998.2,1593.1 L999.1,1593.1" fill="none" stroke="#84dc87" stroke-width="4.2" stroke-linejoin="round" stroke-linecap="round" opacity="1"/>
<path d="M829.8,1586.0 L830.7,1585.8 L831.6,1585.6 L832.4,1585.4 L833.3,1585.3 L834.1,1585.3 L835.0,1585.3 L835.9,1585.5 L836.7,1585.8 L837.6,1586.1 L838.4,1586.4 L839.3,1586.8 L840.1,1587.0 L841.0,1587.2 L841.9,1587.2 L842.7,1587.2 L843.6,1587.0 L844.4,1586.8 L845.3,1586.5 L846.2,1586.2 L847.0,1586.0 L847.9,1585.9 L848.7,1585.9 L849.6,1586.1 L850.5,1586.3 L851.3,1586.6 L852.2,1587.0 L853.0,1587.3 L853.9,1587.6 L854.7,1587.9 L855.6,1588.0 L856.5,1588.1 L857.3,1588.1 L858.2,1588.0 L859.0,1588.0 L859.9,1588.0 L860.8,1588.0 L861.6,1588.1 L862.5,1588.3 L863.3,1588.5 L864.2,1588.9 L865.1,1589.2 L865.9,1589.5 L866.8,1589.7 L867.6,1589.9 L868.5,1589.9 L869.4,1589.9 L870.2,1589.8 L871.1,1589.6 L871.9,1589.4 L872.8,1589.3 L873.6,1589.2 L874.5,1589.3 L875.4,1589.6 L876.2,1590.0 L877.1,1590.5 L877.9,1591.1 L878.8,1591.7 L879.7,1592.1 L880.5,1592.4 L881.4,1592.5 L882.2,1592.3 L883.1,1591.8 L884.0,1591.1 L884.8,1590.3 L885.7,1589.5 L886.5,1588.7 L887.4,1588.2 L888.3,1588.0 L889.1,1588.3 L890.0,1589.0 L890.8,1590.3 L891.7,1592.1 L892.5,1594.4 L893.4,1597.1 L894.3,1600.2 L895.1,1603.6 L896.0,1607.1 L896.8,1610.7 L897.7,1614.3 L898.6,1617.7 L899.4,1620.9 L900.3,1623.8 L901.1,1626.2 L902.0,1627.9 L902.9,1628.9 L903.7,1629.0 L904.6,1626.9 L905.4,1622.7 L906.3,1617.2 L907.1,1610.9 L908.0,1604.6 L908.9,1598.7 L909.7,1593.3 L910.6,1588.2 L911.4,1583.3 L912.3,1578.4 L913.2,1573.9 L914.0,1570.4 L914.9,1568.6 L915.7,1568.9 L916.6,1571.1 L917.5,1574.2 L918.3,1577.5 L919.2,1580.1 L920.0,1581.9 L920.9,1583.0 L921.8,1583.4 L922.6,1583.5 L923.5,1583.3 L924.3,1583.0 L925.2,1582.7 L926.0,1582.4 L926.9,1582.1 L927.8,1581.9 L928.6,1581.7 L929.5,1581.7 L930.3,1581.7 L931.2,1581.8 L932.1,1581.9 L932.9,1582.0 L933.8,1582.1 L934.6,1582.1 L935.5,1582.0 L936.4,1581.9 L937.2,1581.8 L938.1,1581.6 L938.9,1581.5 L939.8,1581.5 L940.6,1581.7 L941.5,1581.9 L942.4,1582.3 L943.2,1582.7 L944.1,1583.2 L944.9,1583.8 L945.8,1584.3 L946.7,1584.7 L947.5,1585.0 L948.4,1585.2 L949.2,1585.3 L950.1,1585.3 L951.0,1585.2 L951.8,1585.1 L952.7,1585.0 L953.5,1585.0 L954.4,1585.0 L955.3,1585.2 L956.1,1585.5 L957.0,1585.9 L957.8,1586.4 L958.7,1586.9 L959.5,1587.5 L960.4,1587.9 L961.3,1588.3 L962.1,1588.7 L963.0,1588.9 L963.8,1589.1 L964.7,1589.3 L965.6,1589.5 L966.4,1589.7 L967.3,1589.9 L968.1,1590.2 L969.0,1590.6 L969.9,1591.0 L970.7,1591.4 L971.6,1591.8 L972.4,1592.1 L973.3,1592.3 L974.2,1592.4 L975.0,1592.4 L975.9,1592.2 L976.7,1592.0 L977.6,1591.8 L978.4,1591.5 L979.3,1591.3 L980.2,1591.2 L981.0,1591.3 L981.9,1591.4 L982.7,1591.7 L983.6,1592.2 L984.5,1592.7 L985.3,1593.2 L986.2,1593.6 L987.0,1594.0 L987.9,1594.3 L988.8,1594.5 L989.6,1594.5 L990.5,1594.5 L991.3,1594.3 L992.2,1594.1 L993.0,1594.0 L993.9,1593.8 L994.8,1593.7 L995.6,1593.7 L996.5,1593.7 L997.3,1593.7 L998.2,1593.8 L999.1,1593.8" fill="none" stroke="#8b3a8f" stroke-width="4.2" stroke-linejoin="round" stroke-linecap="round" opacity="0.92"/>
<rect x="821.4" y="1490.7" width="187.3" height="170.6" fill="none" stroke="#000" stroke-width="1.9"/>
<text x="798.9" y="1651.9" text-anchor="end" style="font-size:21px" fill="#4d4d4d" stroke="#4d4d4d">0.5</text>
<text x="798.9" y="1600.2" text-anchor="end" style="font-size:21px" fill="#4d4d4d" stroke="#4d4d4d">1.0</text>
<text x="798.9" y="1548.5" text-anchor="end" style="font-size:21px" fill="#4d4d4d" stroke="#4d4d4d">1.5</text>
<path d="M828.5,1661.3v8.5 M871.5,1661.3v8.5 M914.4,1661.3v8.5 M957.4,1661.3v8.5 M1000.3,1661.3v8.5 M821.4,1643.7h-9 M821.4,1592.0h-9 M821.4,1540.3h-9" stroke="#333" stroke-width="1.2" fill="none"/>
<text x="908.0" y="1471.1" text-anchor="middle" style="font-size:21.3px" fill="#000" stroke="#000">HQ1/2</text>
<rect x="1028.2" y="1490.7" width="187.3" height="170.6" fill="#fff"/>
<path d="M1056.8,1490.7V1661.3 M1099.8,1490.7V1661.3 M1142.7,1490.7V1661.3 M1185.7,1490.7V1661.3 M1028.2,1617.9H1215.5 M1028.2,1566.2H1215.5 M1028.2,1514.5H1215.5" stroke="#efefef" stroke-width="1.9" fill="none"/>
<path d="M1035.4,1490.7V1661.3 M1078.3,1490.7V1661.3 M1121.3,1490.7V1661.3 M1164.2,1490.7V1661.3 M1207.2,1490.7V1661.3 M1028.2,1643.7H1215.5 M1028.2,1592.0H1215.5 M1028.2,1540.3H1215.5" stroke="#ebebeb" stroke-width="2.2" fill="none"/>
<path d="M1036.6,1581.1 L1037.5,1581.4 L1038.4,1581.7 L1039.2,1582.0 L1040.1,1582.3 L1040.9,1582.5 L1041.8,1582.7 L1042.7,1582.8 L1043.5,1582.9 L1044.4,1582.9 L1045.2,1583.0 L1046.1,1583.3 L1046.9,1583.6 L1047.8,1584.0 L1048.7,1584.5 L1049.5,1584.9 L1050.4,1585.2 L1051.2,1585.2 L1052.1,1584.9 L1053.0,1584.3 L1053.8,1583.3 L1054.7,1582.2 L1055.5,1581.0 L1056.4,1579.9 L1057.3,1579.0 L1058.1,1578.5 L1059.0,1578.4 L1059.8,1578.7 L1060.7,1579.4 L1061.5,1580.4 L1062.4,1581.7 L1063.3,1582.9 L1064.1,1584.2 L1065.0,1585.4 L1065.8,1586.4 L1066.7,1587.2 L1067.6,1587.8 L1068.4,1588.1 L1069.3,1588.2 L1070.1,1588.0 L1071.0,1587.5 L1071.9,1586.6 L1072.7,1585.4 L1073.6,1583.9 L1074.4,1582.3 L1075.3,1580.7 L1076.2,1579.1 L1077.0,1577.9 L1077.9,1577.1 L1078.7,1577.0 L1079.6,1577.5 L1080.4,1578.8 L1081.3,1580.8 L1082.2,1583.5 L1083.0,1586.6 L1083.9,1590.1 L1084.7,1593.5 L1085.6,1596.6 L1086.5,1599.0 L1087.3,1600.3 L1088.2,1600.3 L1089.0,1598.9 L1089.9,1595.9 L1090.8,1591.7 L1091.6,1586.5 L1092.5,1580.9 L1093.3,1575.3 L1094.2,1570.4 L1095.1,1566.8 L1095.9,1565.0 L1096.8,1565.2 L1097.6,1567.6 L1098.5,1572.0 L1099.3,1578.0 L1100.2,1585.2 L1101.1,1592.9 L1101.9,1600.5 L1102.8,1607.7 L1103.6,1614.0 L1104.5,1619.3 L1105.4,1623.6 L1106.2,1626.7 L1107.1,1628.8 L1107.9,1629.8 L1108.8,1629.6 L1109.7,1627.0 L1110.5,1622.2 L1111.4,1615.9 L1112.2,1608.7 L1113.1,1601.3 L1113.9,1593.9 L1114.8,1586.5 L1115.7,1578.6 L1116.5,1569.6 L1117.4,1559.1 L1118.2,1547.2 L1119.1,1534.8 L1120.0,1523.4 L1120.8,1515.0 L1121.7,1511.3 L1122.5,1513.1 L1123.4,1520.3 L1124.3,1531.6 L1125.1,1545.1 L1126.0,1558.8 L1126.8,1571.4 L1127.7,1582.0 L1128.6,1590.2 L1129.4,1596.2 L1130.3,1599.8 L1131.1,1601.2 L1132.0,1600.5 L1132.8,1597.7 L1133.7,1593.2 L1134.6,1587.4 L1135.4,1580.8 L1136.3,1574.1 L1137.1,1567.8 L1138.0,1562.6 L1138.9,1558.9 L1139.7,1557.1 L1140.6,1557.4 L1141.4,1559.6 L1142.3,1563.5 L1143.2,1568.6 L1144.0,1574.4 L1144.9,1580.2 L1145.7,1585.6 L1146.6,1590.0 L1147.4,1593.1 L1148.3,1594.8 L1149.2,1594.9 L1150.0,1593.8 L1150.9,1591.6 L1151.7,1588.7 L1152.6,1585.4 L1153.5,1582.3 L1154.3,1579.5 L1155.2,1577.6 L1156.0,1576.6 L1156.9,1576.8 L1157.8,1578.2 L1158.6,1580.5 L1159.5,1583.5 L1160.3,1586.9 L1161.2,1590.3 L1162.1,1593.4 L1162.9,1595.8 L1163.8,1597.5 L1164.6,1598.3 L1165.5,1598.3 L1166.3,1597.7 L1167.2,1596.6 L1168.1,1595.3 L1168.9,1594.0 L1169.8,1592.9 L1170.6,1591.9 L1171.5,1591.3 L1172.4,1591.1 L1173.2,1591.2 L1174.1,1591.5 L1174.9,1592.2 L1175.8,1593.0 L1176.7,1594.0 L1177.5,1595.1 L1178.4,1596.2 L1179.2,1597.3 L1180.1,1598.4 L1181.0,1599.3 L1181.8,1600.2 L1182.7,1600.8 L1183.5,1601.3 L1184.4,1601.5 L1185.2,1601.5 L1186.1,1601.3 L1187.0,1601.0 L1187.8,1600.6 L1188.7,1600.3 L1189.5,1600.1 L1190.4,1600.0 L1191.3,1600.1 L1192.1,1600.2 L1193.0,1600.5 L1193.8,1600.7 L1194.7,1600.9 L1195.6,1601.1 L1196.4,1601.2 L1197.3,1601.2 L1198.1,1601.2 L1199.0,1601.2 L1199.8,1601.2 L1200.7,1601.2 L1201.6,1601.3 L1202.4,1601.5 L1203.3,1601.7 L1204.1,1602.1 L1205.0,1602.4 L1205.9,1602.8" fill="none" stroke="#84dc87" stroke-width="4.2" stroke-linejoin="round" stroke-linecap="round" opacity="1"/>
<path d="M1036.6,1580.4 L1037.5,1580.6 L1038.4,1580.9 L1039.2,1581.2 L1040.1,1581.6 L1040.9,1581.9 L1041.8,1582.2 L1042.7,1582.4 L1043.5,1582.6 L1044.4,1582.8 L1045.2,1583.0 L1046.1,1583.1 L1046.9,1583.3 L1047.8,1583.5 L1048.7,1583.8 L1049.5,1584.2 L1050.4,1584.5 L1051.2,1584.9 L1052.1,1585.1 L1053.0,1585.2 L1053.8,1585.0 L1054.7,1584.6 L1055.5,1583.8 L1056.4,1582.8 L1057.3,1581.6 L1058.1,1580.4 L1059.0,1579.2 L1059.8,1578.3 L1060.7,1577.7 L1061.5,1577.7 L1062.4,1578.2 L1063.3,1579.2 L1064.1,1580.6 L1065.0,1582.3 L1065.8,1584.2 L1066.7,1586.1 L1067.6,1587.8 L1068.4,1589.1 L1069.3,1589.9 L1070.1,1590.2 L1071.0,1589.9 L1071.9,1589.0 L1072.7,1587.6 L1073.6,1585.8 L1074.4,1583.8 L1075.3,1581.7 L1076.2,1579.7 L1077.0,1578.1 L1077.9,1576.9 L1078.7,1576.4 L1079.6,1576.6 L1080.4,1577.5 L1081.3,1579.1 L1082.2,1581.3 L1083.0,1583.8 L1083.9,1586.5 L1084.7,1589.1 L1085.6,1591.4 L1086.5,1593.1 L1087.3,1594.1 L1088.2,1594.2 L1089.0,1593.5 L1089.9,1591.9 L1090.8,1589.6 L1091.6,1586.9 L1092.5,1583.9 L1093.3,1581.0 L1094.2,1578.5 L1095.1,1576.8 L1095.9,1575.9 L1096.8,1576.3 L1097.6,1577.9 L1098.5,1580.8 L1099.3,1584.8 L1100.2,1589.6 L1101.1,1595.1 L1101.9,1600.9 L1102.8,1606.7 L1103.6,1612.3 L1104.5,1617.4 L1105.4,1621.9 L1106.2,1625.5 L1107.1,1628.2 L1107.9,1629.9 L1108.8,1630.3 L1109.7,1628.2 L1110.5,1623.8 L1111.4,1617.7 L1112.2,1610.8 L1113.1,1603.6 L1113.9,1596.7 L1114.8,1590.0 L1115.7,1583.5 L1116.5,1576.7 L1117.4,1569.5 L1118.2,1561.9 L1119.1,1554.2 L1120.0,1547.5 L1120.8,1542.7 L1121.7,1540.8 L1122.5,1542.4 L1123.4,1547.2 L1124.3,1554.5 L1125.1,1563.2 L1126.0,1572.1 L1126.8,1580.4 L1127.7,1587.5 L1128.6,1593.2 L1129.4,1597.2 L1130.3,1599.5 L1131.1,1600.0 L1132.0,1598.6 L1132.8,1595.5 L1133.7,1590.9 L1134.6,1585.2 L1135.4,1579.0 L1136.3,1572.8 L1137.1,1567.1 L1138.0,1562.5 L1138.9,1559.5 L1139.7,1558.1 L1140.6,1558.6 L1141.4,1560.7 L1142.3,1564.2 L1143.2,1568.6 L1144.0,1573.5 L1144.9,1578.2 L1145.7,1582.4 L1146.6,1585.7 L1147.4,1587.9 L1148.3,1589.1 L1149.2,1589.2 L1150.0,1588.4 L1150.9,1587.0 L1151.7,1585.2 L1152.6,1583.2 L1153.5,1581.2 L1154.3,1579.5 L1155.2,1578.3 L1156.0,1577.7 L1156.9,1577.7 L1157.8,1578.5 L1158.6,1580.0 L1159.5,1582.0 L1160.3,1584.4 L1161.2,1586.9 L1162.1,1589.2 L1162.9,1591.1 L1163.8,1592.5 L1164.6,1593.3 L1165.5,1593.5 L1166.3,1593.2 L1167.2,1592.4 L1168.1,1591.5 L1168.9,1590.4 L1169.8,1589.5 L1170.6,1588.7 L1171.5,1588.2 L1172.4,1588.0 L1173.2,1588.2 L1174.1,1588.7 L1174.9,1589.4 L1175.8,1590.4 L1176.7,1591.4 L1177.5,1592.5 L1178.4,1593.5 L1179.2,1594.4 L1180.1,1595.2 L1181.0,1595.9 L1181.8,1596.3 L1182.7,1596.6 L1183.5,1596.7 L1184.4,1596.6 L1185.2,1596.4 L1186.1,1596.2 L1187.0,1596.1 L1187.8,1596.0 L1188.7,1596.1 L1189.5,1596.3 L1190.4,1596.6 L1191.3,1596.9 L1192.1,1597.3 L1193.0,1597.6 L1193.8,1597.7 L1194.7,1597.7 L1195.6,1597.6 L1196.4,1597.4 L1197.3,1597.1 L1198.1,1596.8 L1199.0,1596.6 L1199.8,1596.5 L1200.7,1596.6 L1201.6,1596.8 L1202.4,1597.1 L1203.3,1597.5 L1204.1,1597.9 L1205.0,1598.4 L1205.9,1598.8" fill="none" stroke="#3f97b7" stroke-width="4.2" stroke-linejoin="round" stroke-linecap="round" opacity="1"/>
<path d="M1036.6,1582.5 L1037.5,1582.9 L1038.4,1583.2 L1039.2,1583.3 L1040.1,1583.3 L1040.9,1583.1 L1041.8,1582.8 L1042.7,1582.4 L1043.5,1582.1 L1044.4,1581.8 L1045.2,1581.7 L1046.1,1581.8 L1046.9,1582.1 L1047.8,1582.5 L1048.7,1583.2 L1049.5,1583.9 L1050.4,1584.6 L1051.2,1585.2 L1052.1,1585.5 L1053.0,1585.5 L1053.8,1585.1 L1054.7,1584.4 L1055.5,1583.4 L1056.4,1582.3 L1057.3,1581.1 L1058.1,1580.0 L1059.0,1579.1 L1059.8,1578.4 L1060.7,1578.2 L1061.5,1578.5 L1062.4,1579.2 L1063.3,1580.3 L1064.1,1581.7 L1065.0,1583.3 L1065.8,1584.9 L1066.7,1586.5 L1067.6,1587.9 L1068.4,1588.9 L1069.3,1589.5 L1070.1,1589.5 L1071.0,1589.0 L1071.9,1588.0 L1072.7,1586.5 L1073.6,1584.7 L1074.4,1582.8 L1075.3,1580.9 L1076.2,1579.3 L1077.0,1578.0 L1077.9,1577.2 L1078.7,1577.1 L1079.6,1577.5 L1080.4,1578.6 L1081.3,1580.2 L1082.2,1582.3 L1083.0,1584.6 L1083.9,1587.0 L1084.7,1589.4 L1085.6,1591.5 L1086.5,1593.1 L1087.3,1594.0 L1088.2,1594.2 L1089.0,1593.5 L1089.9,1592.0 L1090.8,1589.8 L1091.6,1587.0 L1092.5,1584.0 L1093.3,1581.0 L1094.2,1578.4 L1095.1,1576.5 L1095.9,1575.6 L1096.8,1576.0 L1097.6,1577.7 L1098.5,1580.7 L1099.3,1584.9 L1100.2,1589.9 L1101.1,1595.5 L1101.9,1601.3 L1102.8,1607.2 L1103.6,1612.7 L1104.5,1617.8 L1105.4,1622.2 L1106.2,1625.8 L1107.1,1628.5 L1107.9,1630.2 L1108.8,1630.5 L1109.7,1628.4 L1110.5,1623.9 L1111.4,1617.8 L1112.2,1610.7 L1113.1,1603.2 L1113.9,1595.8 L1114.8,1588.2 L1115.7,1580.0 L1116.5,1570.7 L1117.4,1559.8 L1118.2,1547.4 L1119.1,1534.5 L1120.0,1522.6 L1120.8,1513.8 L1121.7,1509.7 L1122.5,1511.5 L1123.4,1518.9 L1124.3,1530.5 L1125.1,1544.5 L1126.0,1558.8 L1126.8,1572.0 L1127.7,1583.0 L1128.6,1591.7 L1129.4,1597.8 L1130.3,1601.5 L1131.1,1602.9 L1132.0,1602.1 L1132.8,1599.2 L1133.7,1594.7 L1134.6,1589.0 L1135.4,1582.5 L1136.3,1576.1 L1137.1,1570.1 L1138.0,1565.2 L1138.9,1561.7 L1139.7,1560.0 L1140.6,1560.2 L1141.4,1562.2 L1142.3,1565.6 L1143.2,1570.2 L1144.0,1575.4 L1144.9,1580.7 L1145.7,1585.7 L1146.6,1589.8 L1147.4,1593.0 L1148.3,1594.9 L1149.2,1595.7 L1150.0,1595.3 L1150.9,1594.1 L1151.7,1592.3 L1152.6,1590.1 L1153.5,1587.8 L1154.3,1585.7 L1155.2,1584.1 L1156.0,1583.0 L1156.9,1582.8 L1157.8,1583.3 L1158.6,1584.6 L1159.5,1586.5 L1160.3,1588.9 L1161.2,1591.5 L1162.1,1594.0 L1162.9,1596.4 L1163.8,1598.3 L1164.6,1599.7 L1165.5,1600.5 L1166.3,1600.9 L1167.2,1600.7 L1168.1,1600.2 L1168.9,1599.5 L1169.8,1598.6 L1170.6,1597.7 L1171.5,1597.0 L1172.4,1596.5 L1173.2,1596.3 L1174.1,1596.4 L1174.9,1596.9 L1175.8,1597.7 L1176.7,1598.7 L1177.5,1599.8 L1178.4,1600.9 L1179.2,1602.0 L1180.1,1602.9 L1181.0,1603.8 L1181.8,1604.4 L1182.7,1604.9 L1183.5,1605.2 L1184.4,1605.3 L1185.2,1605.4 L1186.1,1605.3 L1187.0,1605.1 L1187.8,1605.0 L1188.7,1604.9 L1189.5,1604.9 L1190.4,1605.0 L1191.3,1605.1 L1192.1,1605.4 L1193.0,1605.7 L1193.8,1606.0 L1194.7,1606.4 L1195.6,1606.7 L1196.4,1606.9 L1197.3,1607.0 L1198.1,1607.0 L1199.0,1606.9 L1199.8,1606.8 L1200.7,1606.7 L1201.6,1606.5 L1202.4,1606.4 L1203.3,1606.4 L1204.1,1606.4 L1205.0,1606.5 L1205.9,1606.7" fill="none" stroke="#8b3a8f" stroke-width="4.2" stroke-linejoin="round" stroke-linecap="round" opacity="0.92"/>
<rect x="1028.2" y="1490.7" width="187.3" height="170.6" fill="none" stroke="#000" stroke-width="1.9"/>
<path d="M1035.4,1661.3v8.5 M1078.3,1661.3v8.5 M1121.3,1661.3v8.5 M1164.2,1661.3v8.5 M1207.2,1661.3v8.5" stroke="#333" stroke-width="1.2" fill="none"/>
<text x="1114.9" y="1471.1" text-anchor="middle" style="font-size:21.3px" fill="#000" stroke="#000">ΔNhp10</text>
<rect x="1234.9" y="1490.7" width="187.3" height="170.6" fill="#fff"/>
<path d="M1263.5,1490.7V1661.3 M1306.5,1490.7V1661.3 M1349.4,1490.7V1661.3 M1392.4,1490.7V1661.3 M1234.9,1617.9H1422.2 M1234.9,1566.2H1422.2 M1234.9,1514.5H1422.2" stroke="#efefef" stroke-width="1.9" fill="none"/>
<path d="M1242.1,1490.7V1661.3 M1285.0,1490.7V1661.3 M1328.0,1490.7V1661.3 M1370.9,1490.7V1661.3 M1413.9,1490.7V1661.3 M1234.9,1643.7H1422.2 M1234.9,1592.0H1422.2 M1234.9,1540.3H1422.2" stroke="#ebebeb" stroke-width="2.2" fill="none"/>
<path d="M1243.3,1582.0 L1244.2,1581.8 L1245.1,1581.6 L1245.9,1581.4 L1246.8,1581.2 L1247.6,1581.1 L1248.5,1581.2 L1249.4,1581.3 L1250.2,1581.6 L1251.1,1582.1 L1251.9,1582.7 L1252.8,1583.3 L1253.6,1584.0 L1254.5,1584.7 L1255.4,1585.3 L1256.2,1585.7 L1257.1,1585.9 L1257.9,1585.8 L1258.8,1585.4 L1259.7,1584.7 L1260.5,1583.7 L1261.4,1582.6 L1262.2,1581.5 L1263.1,1580.4 L1264.0,1579.4 L1264.8,1578.7 L1265.7,1578.4 L1266.5,1578.4 L1267.4,1578.8 L1268.2,1579.5 L1269.1,1580.6 L1270.0,1581.8 L1270.8,1583.2 L1271.7,1584.6 L1272.5,1586.0 L1273.4,1587.1 L1274.3,1588.1 L1275.1,1588.6 L1276.0,1588.8 L1276.8,1588.6 L1277.7,1587.9 L1278.6,1586.9 L1279.4,1585.5 L1280.3,1583.9 L1281.1,1582.2 L1282.0,1580.6 L1282.9,1579.2 L1283.7,1578.2 L1284.6,1577.6 L1285.4,1577.6 L1286.3,1578.3 L1287.1,1579.6 L1288.0,1581.6 L1288.9,1584.2 L1289.7,1587.2 L1290.6,1590.4 L1291.4,1593.7 L1292.3,1596.6 L1293.2,1598.8 L1294.0,1600.0 L1294.9,1599.9 L1295.7,1598.4 L1296.6,1595.5 L1297.5,1591.3 L1298.3,1586.2 L1299.2,1580.7 L1300.0,1575.2 L1300.9,1570.4 L1301.8,1566.7 L1302.6,1564.7 L1303.5,1564.7 L1304.3,1566.7 L1305.2,1570.6 L1306.0,1576.2 L1306.9,1582.8 L1307.8,1590.0 L1308.6,1597.2 L1309.5,1604.0 L1310.3,1610.0 L1311.2,1615.2 L1312.1,1619.3 L1312.9,1622.4 L1313.8,1624.5 L1314.6,1625.6 L1315.5,1625.5 L1316.4,1623.2 L1317.2,1619.0 L1318.1,1613.4 L1318.9,1607.1 L1319.8,1600.6 L1320.6,1594.2 L1321.5,1587.5 L1322.4,1580.2 L1323.2,1571.4 L1324.1,1560.7 L1324.9,1548.2 L1325.8,1534.9 L1326.7,1522.3 L1327.5,1512.7 L1328.4,1507.9 L1329.2,1509.0 L1330.1,1515.8 L1331.0,1527.2 L1331.8,1541.1 L1332.7,1555.6 L1333.5,1569.1 L1334.4,1580.6 L1335.3,1589.7 L1336.1,1596.3 L1337.0,1600.4 L1337.8,1602.2 L1338.7,1601.5 L1339.5,1598.7 L1340.4,1594.1 L1341.3,1588.1 L1342.1,1581.4 L1343.0,1574.5 L1343.8,1568.2 L1344.7,1563.1 L1345.6,1559.5 L1346.4,1557.9 L1347.3,1558.2 L1348.1,1560.5 L1349.0,1564.3 L1349.9,1569.2 L1350.7,1574.6 L1351.6,1580.0 L1352.4,1584.9 L1353.3,1588.7 L1354.1,1591.4 L1355.0,1592.8 L1355.9,1592.9 L1356.7,1591.9 L1357.6,1590.2 L1358.4,1588.0 L1359.3,1585.6 L1360.2,1583.5 L1361.0,1581.7 L1361.9,1580.6 L1362.7,1580.2 L1363.6,1580.6 L1364.5,1581.7 L1365.3,1583.4 L1366.2,1585.4 L1367.0,1587.6 L1367.9,1589.8 L1368.8,1591.6 L1369.6,1593.1 L1370.5,1594.1 L1371.3,1594.6 L1372.2,1594.8 L1373.0,1594.7 L1373.9,1594.4 L1374.8,1594.1 L1375.6,1593.9 L1376.5,1593.8 L1377.3,1593.9 L1378.2,1594.1 L1379.1,1594.5 L1379.9,1595.0 L1380.8,1595.5 L1381.6,1596.0 L1382.5,1596.4 L1383.4,1596.6 L1384.2,1596.8 L1385.1,1596.8 L1385.9,1596.7 L1386.8,1596.7 L1387.7,1596.8 L1388.5,1597.0 L1389.4,1597.4 L1390.2,1598.0 L1391.1,1598.7 L1391.9,1599.6 L1392.8,1600.5 L1393.7,1601.3 L1394.5,1602.1 L1395.4,1602.6 L1396.2,1602.9 L1397.1,1603.0 L1398.0,1602.8 L1398.8,1602.3 L1399.7,1601.8 L1400.5,1601.2 L1401.4,1600.6 L1402.3,1600.1 L1403.1,1599.7 L1404.0,1599.6 L1404.8,1599.6 L1405.7,1599.9 L1406.5,1600.3 L1407.4,1600.9 L1408.3,1601.5 L1409.1,1602.0 L1410.0,1602.5 L1410.8,1602.9 L1411.7,1603.2 L1412.6,1603.2" fill="none" stroke="#84dc87" stroke-width="4.2" stroke-linejoin="round" stroke-linecap="round" opacity="1"/>
<path d="M1243.3,1580.4 L1244.2,1580.6 L1245.1,1580.9 L1245.9,1581.2 L1246.8,1581.6 L1247.6,1581.9 L1248.5,1582.2 L1249.4,1582.4 L1250.2,1582.6 L1251.1,1582.8 L1251.9,1583.0 L1252.8,1583.1 L1253.6,1583.3 L1254.5,1583.6 L1255.4,1583.8 L1256.2,1584.2 L1257.1,1584.5 L1257.9,1584.9 L1258.8,1585.1 L1259.7,1585.2 L1260.5,1585.0 L1261.4,1584.6 L1262.2,1583.8 L1263.1,1582.8 L1264.0,1581.6 L1264.8,1580.4 L1265.7,1579.2 L1266.5,1578.3 L1267.4,1577.7 L1268.2,1577.7 L1269.1,1578.2 L1270.0,1579.2 L1270.8,1580.6 L1271.7,1582.3 L1272.5,1584.2 L1273.4,1586.1 L1274.3,1587.8 L1275.1,1589.1 L1276.0,1589.9 L1276.8,1590.2 L1277.7,1589.9 L1278.6,1589.0 L1279.4,1587.6 L1280.3,1585.8 L1281.1,1583.8 L1282.0,1581.7 L1282.9,1579.7 L1283.7,1578.1 L1284.6,1577.0 L1285.4,1576.4 L1286.3,1576.7 L1287.1,1577.7 L1288.0,1579.3 L1288.9,1581.6 L1289.7,1584.3 L1290.6,1587.1 L1291.4,1589.9 L1292.3,1592.3 L1293.2,1594.2 L1294.0,1595.2 L1294.9,1595.3 L1295.7,1594.4 L1296.6,1592.6 L1297.5,1590.0 L1298.3,1586.8 L1299.2,1583.4 L1300.0,1580.1 L1300.9,1577.1 L1301.8,1574.9 L1302.6,1573.7 L1303.5,1573.8 L1304.3,1575.3 L1305.2,1578.1 L1306.0,1582.1 L1306.9,1587.0 L1307.8,1592.5 L1308.6,1598.3 L1309.5,1604.1 L1310.3,1609.6 L1311.2,1614.6 L1312.1,1618.9 L1312.9,1622.5 L1313.8,1625.1 L1314.6,1626.8 L1315.5,1627.2 L1316.4,1625.3 L1317.2,1621.2 L1318.1,1615.6 L1318.9,1609.1 L1319.8,1602.3 L1320.6,1595.8 L1321.5,1589.4 L1322.4,1583.1 L1323.2,1576.6 L1324.1,1569.5 L1324.9,1561.8 L1325.8,1554.2 L1326.7,1547.5 L1327.5,1542.7 L1328.4,1540.8 L1329.2,1542.4 L1330.1,1547.2 L1331.0,1554.5 L1331.8,1563.1 L1332.7,1572.0 L1333.5,1580.2 L1334.4,1587.2 L1335.3,1592.8 L1336.1,1596.7 L1337.0,1599.0 L1337.8,1599.5 L1338.7,1598.2 L1339.5,1595.2 L1340.4,1590.8 L1341.3,1585.4 L1342.1,1579.4 L1343.0,1573.4 L1343.8,1568.0 L1344.7,1563.6 L1345.6,1560.7 L1346.4,1559.4 L1347.3,1559.9 L1348.1,1561.9 L1349.0,1565.3 L1349.9,1569.5 L1350.7,1574.1 L1351.6,1578.6 L1352.4,1582.5 L1353.3,1585.7 L1354.1,1587.8 L1355.0,1589.0 L1355.9,1589.2 L1356.7,1588.5 L1357.6,1587.3 L1358.4,1585.7 L1359.3,1584.0 L1360.2,1582.3 L1361.0,1580.8 L1361.9,1579.7 L1362.7,1579.2 L1363.6,1579.3 L1364.5,1580.0 L1365.3,1581.4 L1366.2,1583.2 L1367.0,1585.3 L1367.9,1587.5 L1368.8,1589.6 L1369.6,1591.4 L1370.5,1592.7 L1371.3,1593.5 L1372.2,1593.8 L1373.0,1593.6 L1373.9,1593.1 L1374.8,1592.4 L1375.6,1591.6 L1376.5,1590.8 L1377.3,1590.3 L1378.2,1589.9 L1379.1,1589.9 L1379.9,1590.1 L1380.8,1590.5 L1381.6,1591.2 L1382.5,1592.0 L1383.4,1592.9 L1384.2,1593.8 L1385.1,1594.7 L1385.9,1595.6 L1386.8,1596.3 L1387.7,1596.9 L1388.5,1597.3 L1389.4,1597.6 L1390.2,1597.6 L1391.1,1597.6 L1391.9,1597.4 L1392.8,1597.2 L1393.7,1597.0 L1394.5,1597.0 L1395.4,1597.0 L1396.2,1597.2 L1397.1,1597.5 L1398.0,1597.9 L1398.8,1598.3 L1399.7,1598.5 L1400.5,1598.7 L1401.4,1598.7 L1402.3,1598.6 L1403.1,1598.4 L1404.0,1598.1 L1404.8,1597.8 L1405.7,1597.6 L1406.5,1597.5 L1407.4,1597.6 L1408.3,1597.8 L1409.1,1598.1 L1410.0,1598.5 L1410.8,1598.9 L1411.7,1599.4 L1412.6,1599.8" fill="none" stroke="#3f97b7" stroke-width="4.2" stroke-linejoin="round" stroke-linecap="round" opacity="1"/>
<path d="M1243.3,1579.0 L1244.2,1579.2 L1245.1,1579.7 L1245.9,1580.4 L1246.8,1581.3 L1247.6,1582.1 L1248.5,1582.9 L1249.4,1583.4 L1250.2,1583.7 L1251.1,1583.7 L1251.9,1583.6 L1252.8,1583.5 L1253.6,1583.4 L1254.5,1583.5 L1255.4,1583.8 L1256.2,1584.3 L1257.1,1585.0 L1257.9,1585.7 L1258.8,1586.3 L1259.7,1586.5 L1260.5,1586.2 L1261.4,1585.4 L1262.2,1584.1 L1263.1,1582.4 L1264.0,1580.5 L1264.8,1578.5 L1265.7,1576.8 L1266.5,1575.6 L1267.4,1575.1 L1268.2,1575.4 L1269.1,1576.5 L1270.0,1578.4 L1270.8,1580.7 L1271.7,1583.4 L1272.5,1586.1 L1273.4,1588.6 L1274.3,1590.6 L1275.1,1592.0 L1276.0,1592.6 L1276.8,1592.5 L1277.7,1591.5 L1278.6,1589.9 L1279.4,1587.8 L1280.3,1585.3 L1281.1,1582.7 L1282.0,1580.1 L1282.9,1577.8 L1283.7,1576.0 L1284.6,1574.8 L1285.4,1574.3 L1286.3,1574.7 L1287.1,1575.9 L1288.0,1578.0 L1288.9,1580.8 L1289.7,1584.1 L1290.6,1587.7 L1291.4,1591.3 L1292.3,1594.6 L1293.2,1597.1 L1294.0,1598.5 L1294.9,1598.6 L1295.7,1597.4 L1296.6,1594.8 L1297.5,1591.1 L1298.3,1586.7 L1299.2,1582.1 L1300.0,1577.7 L1300.9,1574.2 L1301.8,1571.8 L1302.6,1571.1 L1303.5,1572.0 L1304.3,1574.6 L1305.2,1578.6 L1306.0,1583.7 L1306.9,1589.3 L1307.8,1595.2 L1308.6,1600.8 L1309.5,1606.0 L1310.3,1610.6 L1311.2,1614.5 L1312.1,1617.9 L1312.9,1620.7 L1313.8,1622.9 L1314.6,1624.5 L1315.5,1625.3 L1316.4,1624.1 L1317.2,1620.8 L1318.1,1616.0 L1318.9,1610.1 L1319.8,1603.8 L1320.6,1597.0 L1321.5,1589.7 L1322.4,1581.5 L1323.2,1571.7 L1324.1,1560.2 L1324.9,1547.0 L1325.8,1533.3 L1326.7,1520.6 L1327.5,1511.1 L1328.4,1506.6 L1329.2,1508.2 L1330.1,1515.5 L1331.0,1527.3 L1331.8,1541.6 L1332.7,1556.3 L1333.5,1569.8 L1334.4,1581.3 L1335.3,1590.4 L1336.1,1597.0 L1337.0,1601.3 L1337.8,1603.1 L1338.7,1602.7 L1339.5,1600.1 L1340.4,1595.8 L1341.3,1590.0 L1342.1,1583.4 L1343.0,1576.7 L1343.8,1570.4 L1344.7,1565.3 L1345.6,1561.8 L1346.4,1560.2 L1347.3,1560.7 L1348.1,1563.1 L1349.0,1567.0 L1349.9,1572.0 L1350.7,1577.4 L1351.6,1582.5 L1352.4,1587.0 L1353.3,1590.3 L1354.1,1592.4 L1355.0,1593.1 L1355.9,1592.8 L1356.7,1591.6 L1357.6,1590.0 L1358.4,1588.3 L1359.3,1586.8 L1360.2,1585.8 L1361.0,1585.3 L1361.9,1585.5 L1362.7,1586.2 L1363.6,1587.4 L1364.5,1588.8 L1365.3,1590.4 L1366.2,1592.0 L1367.0,1593.4 L1367.9,1594.5 L1368.8,1595.4 L1369.6,1595.9 L1370.5,1596.2 L1371.3,1596.3 L1372.2,1596.3 L1373.0,1596.4 L1373.9,1596.4 L1374.8,1596.5 L1375.6,1596.6 L1376.5,1596.8 L1377.3,1597.1 L1378.2,1597.5 L1379.1,1598.0 L1379.9,1598.6 L1380.8,1599.4 L1381.6,1600.3 L1382.5,1601.3 L1383.4,1602.2 L1384.2,1603.1 L1385.1,1603.7 L1385.9,1604.1 L1386.8,1604.3 L1387.7,1604.3 L1388.5,1604.0 L1389.4,1603.7 L1390.2,1603.4 L1391.1,1603.2 L1391.9,1603.2 L1392.8,1603.3 L1393.7,1603.7 L1394.5,1604.2 L1395.4,1604.7 L1396.2,1605.2 L1397.1,1605.7 L1398.0,1605.9 L1398.8,1606.0 L1399.7,1605.9 L1400.5,1605.7 L1401.4,1605.5 L1402.3,1605.4 L1403.1,1605.5 L1404.0,1605.9 L1404.8,1606.5 L1405.7,1607.3 L1406.5,1608.1 L1407.4,1608.9 L1408.3,1609.5 L1409.1,1609.8 L1410.0,1609.7 L1410.8,1609.1 L1411.7,1608.2 L1412.6,1607.0" fill="none" stroke="#8b3a8f" stroke-width="4.2" stroke-linejoin="round" stroke-linecap="round" opacity="0.92"/>
<rect x="1234.9" y="1490.7" width="187.3" height="170.6" fill="none" stroke="#000" stroke-width="1.9"/>
<path d="M1242.1,1661.3v8.5 M1285.0,1661.3v8.5 M1328.0,1661.3v8.5 M1370.9,1661.3v8.5 M1413.9,1661.3v8.5" stroke="#333" stroke-width="1.2" fill="none"/>
<text x="1321.6" y="1471.1" text-anchor="middle" style="font-size:21.3px" fill="#000" stroke="#000">HMGII</text>
<rect x="1441.6" y="1490.7" width="187.3" height="170.6" fill="#fff"/>
<path d="M1470.2,1490.7V1661.3 M1513.2,1490.7V1661.3 M1556.1,1490.7V1661.3 M1599.1,1490.7V1661.3 M1441.6,1617.9H1628.8999999999999 M1441.6,1566.2H1628.8999999999999 M1441.6,1514.5H1628.8999999999999" stroke="#efefef" stroke-width="1.9" fill="none"/>
<path d="M1448.8,1490.7V1661.3 M1491.7,1490.7V1661.3 M1534.7,1490.7V1661.3 M1577.6,1490.7V1661.3 M1620.6,1490.7V1661.3 M1441.6,1643.7H1628.8999999999999 M1441.6,1592.0H1628.8999999999999 M1441.6,1540.3H1628.8999999999999" stroke="#ebebeb" stroke-width="2.2" fill="none"/>
<path d="M1450.0,1581.9 L1450.9,1582.2 L1451.8,1582.8 L1452.6,1583.5 L1453.5,1584.3 L1454.3,1584.9 L1455.2,1585.4 L1456.1,1585.6 L1456.9,1585.5 L1457.8,1585.2 L1458.6,1584.7 L1459.5,1584.2 L1460.3,1583.7 L1461.2,1583.3 L1462.1,1583.1 L1462.9,1583.2 L1463.8,1583.4 L1464.6,1583.7 L1465.5,1584.1 L1466.4,1584.4 L1467.2,1584.7 L1468.1,1585.0 L1468.9,1585.1 L1469.8,1585.1 L1470.7,1585.1 L1471.5,1585.2 L1472.4,1585.3 L1473.2,1585.5 L1474.1,1585.7 L1474.9,1586.0 L1475.8,1586.4 L1476.7,1586.7 L1477.5,1586.9 L1478.4,1587.1 L1479.2,1587.3 L1480.1,1587.3 L1481.0,1587.3 L1481.8,1587.3 L1482.7,1587.4 L1483.5,1587.4 L1484.4,1587.4 L1485.3,1587.5 L1486.1,1587.5 L1487.0,1587.4 L1487.8,1587.2 L1488.7,1586.9 L1489.6,1586.5 L1490.4,1585.9 L1491.3,1585.4 L1492.1,1584.9 L1493.0,1584.6 L1493.8,1584.6 L1494.7,1584.9 L1495.6,1585.7 L1496.4,1586.8 L1497.3,1588.3 L1498.1,1589.9 L1499.0,1591.5 L1499.9,1592.8 L1500.7,1593.6 L1501.6,1593.9 L1502.4,1593.4 L1503.3,1592.3 L1504.2,1590.6 L1505.0,1588.6 L1505.9,1586.4 L1506.7,1584.4 L1507.6,1582.8 L1508.5,1581.9 L1509.3,1581.8 L1510.2,1582.7 L1511.0,1584.5 L1511.9,1587.2 L1512.7,1590.5 L1513.6,1594.4 L1514.5,1598.5 L1515.3,1602.6 L1516.2,1606.7 L1517.0,1610.6 L1517.9,1614.2 L1518.8,1617.4 L1519.6,1620.1 L1520.5,1622.2 L1521.3,1623.5 L1522.2,1623.8 L1523.1,1622.0 L1523.9,1618.2 L1524.8,1612.9 L1525.6,1606.8 L1526.5,1600.4 L1527.3,1594.1 L1528.2,1588.3 L1529.1,1582.7 L1529.9,1577.1 L1530.8,1571.4 L1531.6,1565.6 L1532.5,1559.9 L1533.4,1554.9 L1534.2,1551.6 L1535.1,1550.4 L1535.9,1551.8 L1536.8,1555.6 L1537.7,1561.1 L1538.5,1567.5 L1539.4,1573.8 L1540.2,1579.6 L1541.1,1584.5 L1542.0,1588.4 L1542.8,1591.3 L1543.7,1593.1 L1544.5,1593.8 L1545.4,1593.3 L1546.2,1591.7 L1547.1,1589.0 L1548.0,1585.4 L1548.8,1581.2 L1549.7,1576.8 L1550.5,1572.6 L1551.4,1569.0 L1552.3,1566.4 L1553.1,1565.0 L1554.0,1564.9 L1554.8,1566.1 L1555.7,1568.3 L1556.6,1571.4 L1557.4,1574.7 L1558.3,1578.1 L1559.1,1581.0 L1560.0,1583.3 L1560.8,1584.8 L1561.7,1585.6 L1562.6,1585.8 L1563.4,1585.5 L1564.3,1584.9 L1565.1,1584.2 L1566.0,1583.7 L1566.9,1583.4 L1567.7,1583.3 L1568.6,1583.6 L1569.4,1584.1 L1570.3,1584.7 L1571.2,1585.4 L1572.0,1585.9 L1572.9,1586.4 L1573.7,1586.7 L1574.6,1586.8 L1575.5,1586.9 L1576.3,1586.9 L1577.2,1587.1 L1578.0,1587.4 L1578.9,1587.9 L1579.7,1588.7 L1580.6,1589.7 L1581.5,1590.7 L1582.3,1591.6 L1583.2,1592.5 L1584.0,1593.1 L1584.9,1593.4 L1585.8,1593.5 L1586.6,1593.3 L1587.5,1592.9 L1588.3,1592.6 L1589.2,1592.2 L1590.1,1592.0 L1590.9,1591.9 L1591.8,1592.0 L1592.6,1592.2 L1593.5,1592.5 L1594.4,1592.9 L1595.2,1593.3 L1596.1,1593.7 L1596.9,1593.9 L1597.8,1594.1 L1598.6,1594.3 L1599.5,1594.5 L1600.4,1594.7 L1601.2,1595.0 L1602.1,1595.3 L1602.9,1595.6 L1603.8,1595.9 L1604.7,1596.1 L1605.5,1596.2 L1606.4,1596.2 L1607.2,1595.9 L1608.1,1595.6 L1609.0,1595.1 L1609.8,1594.7 L1610.7,1594.4 L1611.5,1594.2 L1612.4,1594.2 L1613.2,1594.4 L1614.1,1594.9 L1615.0,1595.4 L1615.8,1596.0 L1616.7,1596.6 L1617.5,1597.0 L1618.4,1597.2 L1619.3,1597.1" fill="none" stroke="#3f97b7" stroke-width="4.2" stroke-linejoin="round" stroke-linecap="round" opacity="1"/>
<path d="M1450.0,1584.0 L1450.9,1584.1 L1451.8,1584.3 L1452.6,1584.4 L1453.5,1584.6 L1454.3,1584.8 L1455.2,1585.0 L1456.1,1585.2 L1456.9,1585.2 L1457.8,1585.2 L1458.6,1585.1 L1459.5,1584.8 L1460.3,1584.5 L1461.2,1584.1 L1462.1,1583.6 L1462.9,1583.2 L1463.8,1582.8 L1464.6,1582.5 L1465.5,1582.4 L1466.4,1582.5 L1467.2,1582.8 L1468.1,1583.3 L1468.9,1583.9 L1469.8,1584.5 L1470.7,1585.3 L1471.5,1586.0 L1472.4,1586.6 L1473.2,1587.0 L1474.1,1587.3 L1474.9,1587.5 L1475.8,1587.5 L1476.7,1587.3 L1477.5,1587.2 L1478.4,1587.0 L1479.2,1586.9 L1480.1,1586.9 L1481.0,1587.0 L1481.8,1587.2 L1482.7,1587.4 L1483.5,1587.5 L1484.4,1587.6 L1485.3,1587.6 L1486.1,1587.5 L1487.0,1587.1 L1487.8,1586.7 L1488.7,1586.1 L1489.6,1585.5 L1490.4,1585.0 L1491.3,1584.5 L1492.1,1584.3 L1493.0,1584.4 L1493.8,1584.8 L1494.7,1585.5 L1495.6,1586.5 L1496.4,1587.7 L1497.3,1589.2 L1498.1,1590.6 L1499.0,1591.9 L1499.9,1593.0 L1500.7,1593.6 L1501.6,1593.7 L1502.4,1593.2 L1503.3,1592.1 L1504.2,1590.5 L1505.0,1588.5 L1505.9,1586.4 L1506.7,1584.3 L1507.6,1582.7 L1508.5,1581.7 L1509.3,1581.5 L1510.2,1582.3 L1511.0,1584.1 L1511.9,1586.8 L1512.7,1590.4 L1513.6,1594.5 L1514.5,1599.0 L1515.3,1603.5 L1516.2,1607.9 L1517.0,1611.8 L1517.9,1615.3 L1518.8,1618.0 L1519.6,1620.1 L1520.5,1621.5 L1521.3,1622.0 L1522.2,1621.7 L1523.1,1619.6 L1523.9,1615.8 L1524.8,1610.8 L1525.6,1605.4 L1526.5,1599.9 L1527.3,1594.6 L1528.2,1589.4 L1529.1,1583.9 L1529.9,1577.7 L1530.8,1570.5 L1531.6,1562.2 L1532.5,1553.4 L1533.4,1545.1 L1534.2,1538.8 L1535.1,1535.5 L1535.9,1536.0 L1536.8,1540.2 L1537.7,1547.2 L1538.5,1555.8 L1539.4,1564.6 L1540.2,1572.8 L1541.1,1579.8 L1542.0,1585.2 L1542.8,1589.1 L1543.7,1591.5 L1544.5,1592.6 L1545.4,1592.3 L1546.2,1590.9 L1547.1,1588.4 L1548.0,1585.2 L1548.8,1581.7 L1549.7,1578.1 L1550.5,1574.8 L1551.4,1572.0 L1552.3,1570.2 L1553.1,1569.3 L1554.0,1569.5 L1554.8,1570.5 L1555.7,1572.4 L1556.6,1574.7 L1557.4,1577.2 L1558.3,1579.6 L1559.1,1581.7 L1560.0,1583.4 L1560.8,1584.5 L1561.7,1585.1 L1562.6,1585.2 L1563.4,1584.9 L1564.3,1584.5 L1565.1,1583.9 L1566.0,1583.4 L1566.9,1583.1 L1567.7,1583.0 L1568.6,1583.1 L1569.4,1583.6 L1570.3,1584.2 L1571.2,1585.0 L1572.0,1586.0 L1572.9,1586.9 L1573.7,1587.8 L1574.6,1588.5 L1575.5,1589.0 L1576.3,1589.3 L1577.2,1589.5 L1578.0,1589.5 L1578.9,1589.5 L1579.7,1589.4 L1580.6,1589.4 L1581.5,1589.4 L1582.3,1589.6 L1583.2,1589.8 L1584.0,1590.1 L1584.9,1590.5 L1585.8,1590.9 L1586.6,1591.3 L1587.5,1591.7 L1588.3,1592.1 L1589.2,1592.4 L1590.1,1592.7 L1590.9,1593.0 L1591.8,1593.2 L1592.6,1593.5 L1593.5,1593.8 L1594.4,1594.2 L1595.2,1594.5 L1596.1,1594.9 L1596.9,1595.3 L1597.8,1595.6 L1598.6,1595.8 L1599.5,1596.0 L1600.4,1596.0 L1601.2,1595.8 L1602.1,1595.5 L1602.9,1595.1 L1603.8,1594.6 L1604.7,1594.1 L1605.5,1593.6 L1606.4,1593.2 L1607.2,1592.9 L1608.1,1592.8 L1609.0,1592.9 L1609.8,1593.3 L1610.7,1593.8 L1611.5,1594.5 L1612.4,1595.3 L1613.2,1596.2 L1614.1,1597.0 L1615.0,1597.6 L1615.8,1598.2 L1616.7,1598.5 L1617.5,1598.5 L1618.4,1598.4 L1619.3,1598.0" fill="none" stroke="#8b3a8f" stroke-width="4.2" stroke-linejoin="round" stroke-linecap="round" opacity="0.92"/>
<rect x="1441.6" y="1490.7" width="187.3" height="170.6" fill="none" stroke="#000" stroke-width="1.9"/>
<path d="M1448.8,1661.3v8.5 M1491.7,1661.3v8.5 M1534.7,1661.3v8.5 M1577.6,1661.3v8.5 M1620.6,1661.3v8.5" stroke="#333" stroke-width="1.2" fill="none"/>
<text x="1457.0" y="1680.3" text-anchor="end" style="font-size:21px" fill="#000" stroke="#000" transform="rotate(-90 1457.0 1680.3)">-1000</text>
<text x="1499.9" y="1680.3" text-anchor="end" style="font-size:21px" fill="#000" stroke="#000" transform="rotate(-90 1499.9 1680.3)">-500</text>
<text x="1542.9" y="1680.3" text-anchor="end" style="font-size:21px" fill="#000" stroke="#000" transform="rotate(-90 1542.9 1680.3)">0</text>
<text x="1585.8" y="1680.3" text-anchor="end" style="font-size:21px" fill="#000" stroke="#000" transform="rotate(-90 1585.8 1680.3)">500</text>
<text x="1628.8" y="1680.3" text-anchor="end" style="font-size:21px" fill="#000" stroke="#000" transform="rotate(-90 1628.8 1680.3)">1000</text>
<text x="1528.2" y="1471.1" text-anchor="middle" style="font-size:21.3px" fill="#000" stroke="#000">HMGII-HQ1</text>
<rect x="821.4" y="1748" width="187.3" height="170.6" fill="#fff"/>
<path d="M850.0,1748V1918.6 M893.0,1748V1918.6 M935.9,1748V1918.6 M978.9,1748V1918.6 M821.4,1875.2H1008.7 M821.4,1823.5H1008.7 M821.4,1771.8H1008.7" stroke="#efefef" stroke-width="1.9" fill="none"/>
<path d="M828.5,1748V1918.6 M871.5,1748V1918.6 M914.4,1748V1918.6 M957.4,1748V1918.6 M1000.3,1748V1918.6 M821.4,1901.0H1008.7 M821.4,1849.3H1008.7 M821.4,1797.6H1008.7" stroke="#ebebeb" stroke-width="2.2" fill="none"/>
<path d="M829.8,1837.0 L830.7,1837.6 L831.6,1838.3 L832.4,1838.9 L833.3,1839.5 L834.1,1839.9 L835.0,1840.2 L835.9,1840.2 L836.7,1840.1 L837.6,1839.9 L838.4,1839.6 L839.3,1839.4 L840.1,1839.3 L841.0,1839.2 L841.9,1839.2 L842.7,1839.3 L843.6,1839.4 L844.4,1839.6 L845.3,1839.8 L846.2,1839.9 L847.0,1840.1 L847.9,1840.3 L848.7,1840.5 L849.6,1840.6 L850.5,1840.7 L851.3,1840.8 L852.2,1840.8 L853.0,1840.6 L853.9,1840.4 L854.7,1840.2 L855.6,1840.1 L856.5,1840.0 L857.3,1840.3 L858.2,1840.8 L859.0,1841.8 L859.9,1843.0 L860.8,1844.5 L861.6,1846.0 L862.5,1847.3 L863.3,1848.2 L864.2,1848.5 L865.1,1848.0 L865.9,1846.7 L866.8,1844.8 L867.6,1842.5 L868.5,1839.9 L869.4,1837.4 L870.2,1835.3 L871.1,1833.9 L871.9,1833.3 L872.8,1833.7 L873.6,1835.0 L874.5,1837.1 L875.4,1839.7 L876.2,1842.7 L877.1,1845.8 L877.9,1848.7 L878.8,1851.0 L879.7,1852.8 L880.5,1853.6 L881.4,1853.5 L882.2,1852.4 L883.1,1850.4 L884.0,1847.6 L884.8,1844.3 L885.7,1840.6 L886.5,1836.8 L887.4,1833.4 L888.3,1830.5 L889.1,1828.6 L890.0,1827.9 L890.8,1828.6 L891.7,1830.8 L892.5,1834.3 L893.4,1839.1 L894.3,1844.9 L895.1,1851.3 L896.0,1858.2 L896.8,1865.1 L897.7,1871.9 L898.6,1878.2 L899.4,1883.8 L900.3,1888.4 L901.1,1891.8 L902.0,1894.0 L902.9,1894.8 L903.7,1894.1 L904.6,1890.6 L905.4,1884.5 L906.3,1876.7 L907.1,1868.1 L908.0,1859.7 L908.9,1851.7 L909.7,1844.3 L910.6,1837.6 L911.4,1831.3 L912.3,1825.6 L913.2,1820.7 L914.0,1817.0 L914.9,1815.0 L915.7,1814.9 L916.6,1816.7 L917.5,1819.8 L918.3,1823.7 L919.2,1827.9 L920.0,1831.9 L920.9,1835.4 L921.8,1838.4 L922.6,1840.9 L923.5,1842.7 L924.3,1843.9 L925.2,1844.3 L926.0,1843.9 L926.9,1842.9 L927.8,1841.1 L928.6,1838.9 L929.5,1836.4 L930.3,1833.9 L931.2,1831.5 L932.1,1829.6 L932.9,1828.3 L933.8,1827.6 L934.6,1827.7 L935.5,1828.5 L936.4,1829.8 L937.2,1831.5 L938.1,1833.3 L938.9,1835.1 L939.8,1836.8 L940.6,1838.2 L941.5,1839.3 L942.4,1840.1 L943.2,1840.5 L944.1,1840.6 L944.9,1840.5 L945.8,1840.2 L946.7,1839.8 L947.5,1839.3 L948.4,1838.9 L949.2,1838.5 L950.1,1838.3 L951.0,1838.2 L951.8,1838.3 L952.7,1838.7 L953.5,1839.3 L954.4,1840.0 L955.3,1840.9 L956.1,1841.8 L957.0,1842.6 L957.8,1843.2 L958.7,1843.7 L959.5,1844.0 L960.4,1844.0 L961.3,1843.9 L962.1,1843.7 L963.0,1843.5 L963.8,1843.4 L964.7,1843.5 L965.6,1843.8 L966.4,1844.4 L967.3,1845.2 L968.1,1846.1 L969.0,1847.0 L969.9,1847.8 L970.7,1848.3 L971.6,1848.6 L972.4,1848.5 L973.3,1848.2 L974.2,1847.8 L975.0,1847.3 L975.9,1846.8 L976.7,1846.6 L977.6,1846.6 L978.4,1846.8 L979.3,1847.2 L980.2,1847.7 L981.0,1848.1 L981.9,1848.4 L982.7,1848.5 L983.6,1848.4 L984.5,1848.1 L985.3,1847.6 L986.2,1847.2 L987.0,1846.9 L987.9,1846.8 L988.8,1847.1 L989.6,1847.7 L990.5,1848.6 L991.3,1849.6 L992.2,1850.6 L993.0,1851.4 L993.9,1851.9 L994.8,1852.0 L995.6,1851.7 L996.5,1851.0 L997.3,1850.0 L998.2,1848.8 L999.1,1847.8" fill="none" stroke="#3f97b7" stroke-width="4.2" stroke-linejoin="round" stroke-linecap="round" opacity="1"/>
<path d="M829.8,1840.2 L830.7,1839.3 L831.6,1838.5 L832.4,1837.9 L833.3,1837.4 L834.1,1837.1 L835.0,1837.0 L835.9,1837.1 L836.7,1837.3 L837.6,1837.6 L838.4,1837.9 L839.3,1838.3 L840.1,1838.7 L841.0,1839.2 L841.9,1839.6 L842.7,1840.0 L843.6,1840.4 L844.4,1840.6 L845.3,1840.8 L846.2,1840.9 L847.0,1840.9 L847.9,1840.9 L848.7,1840.8 L849.6,1840.7 L850.5,1840.7 L851.3,1840.7 L852.2,1840.8 L853.0,1840.9 L853.9,1841.0 L854.7,1841.1 L855.6,1841.3 L856.5,1841.4 L857.3,1841.7 L858.2,1842.0 L859.0,1842.5 L859.9,1843.1 L860.8,1843.8 L861.6,1844.4 L862.5,1845.0 L863.3,1845.4 L864.2,1845.4 L865.1,1845.1 L865.9,1844.3 L866.8,1843.1 L867.6,1841.6 L868.5,1840.0 L869.4,1838.3 L870.2,1836.9 L871.1,1836.0 L871.9,1835.7 L872.8,1836.0 L873.6,1837.1 L874.5,1838.9 L875.4,1841.1 L876.2,1843.7 L877.1,1846.3 L877.9,1848.8 L878.8,1850.7 L879.7,1852.0 L880.5,1852.3 L881.4,1851.7 L882.2,1850.1 L883.1,1847.7 L884.0,1844.5 L884.8,1841.0 L885.7,1837.5 L886.5,1834.2 L887.4,1831.6 L888.3,1829.9 L889.1,1829.5 L890.0,1830.4 L890.8,1832.8 L891.7,1836.5 L892.5,1841.5 L893.4,1847.4 L894.3,1853.9 L895.1,1860.6 L896.0,1867.4 L896.8,1874.0 L897.7,1880.1 L898.6,1885.5 L899.4,1890.2 L900.3,1894.0 L901.1,1896.7 L902.0,1898.4 L902.9,1898.9 L903.7,1898.0 L904.6,1894.2 L905.4,1887.7 L906.3,1879.3 L907.1,1869.8 L908.0,1859.8 L908.9,1849.7 L909.7,1839.4 L910.6,1828.7 L911.4,1817.8 L912.3,1807.0 L913.2,1797.5 L914.0,1790.5 L914.9,1787.2 L915.7,1788.3 L916.6,1793.5 L917.5,1801.8 L918.3,1811.9 L919.2,1822.2 L920.0,1831.7 L920.9,1839.7 L921.8,1845.9 L922.6,1850.2 L923.5,1852.7 L924.3,1853.5 L925.2,1852.4 L926.0,1849.9 L926.9,1846.0 L927.8,1841.1 L928.6,1835.7 L929.5,1830.2 L930.3,1825.2 L931.2,1820.9 L932.1,1817.7 L932.9,1816.0 L933.8,1815.7 L934.6,1817.0 L935.5,1819.6 L936.4,1823.1 L937.2,1827.2 L938.1,1831.5 L938.9,1835.7 L939.8,1839.3 L940.6,1842.2 L941.5,1844.3 L942.4,1845.4 L943.2,1845.7 L944.1,1845.2 L944.9,1844.2 L945.8,1842.8 L946.7,1841.2 L947.5,1839.7 L948.4,1838.4 L949.2,1837.5 L950.1,1837.1 L951.0,1837.2 L951.8,1837.7 L952.7,1838.6 L953.5,1839.7 L954.4,1841.1 L955.3,1842.4 L956.1,1843.8 L957.0,1845.1 L957.8,1846.3 L958.7,1847.5 L959.5,1848.5 L960.4,1849.4 L961.3,1850.1 L962.1,1850.7 L963.0,1851.1 L963.8,1851.3 L964.7,1851.3 L965.6,1851.3 L966.4,1851.1 L967.3,1850.8 L968.1,1850.6 L969.0,1850.3 L969.9,1850.1 L970.7,1850.0 L971.6,1849.9 L972.4,1849.8 L973.3,1849.7 L974.2,1849.7 L975.0,1849.7 L975.9,1849.8 L976.7,1850.0 L977.6,1850.4 L978.4,1851.0 L979.3,1851.7 L980.2,1852.6 L981.0,1853.6 L981.9,1854.6 L982.7,1855.4 L983.6,1856.1 L984.5,1856.4 L985.3,1856.4 L986.2,1856.0 L987.0,1855.4 L987.9,1854.6 L988.8,1853.7 L989.6,1852.9 L990.5,1852.2 L991.3,1851.8 L992.2,1851.7 L993.0,1851.8 L993.9,1852.2 L994.8,1852.7 L995.6,1853.3 L996.5,1853.8 L997.3,1854.2 L998.2,1854.5 L999.1,1854.6" fill="none" stroke="#8b3a8f" stroke-width="4.2" stroke-linejoin="round" stroke-linecap="round" opacity="0.92"/>
<rect x="821.4" y="1748" width="187.3" height="170.6" fill="none" stroke="#000" stroke-width="1.9"/>
<text x="798.9" y="1909.2" text-anchor="end" style="font-size:21px" fill="#4d4d4d" stroke="#4d4d4d">0.5</text>
<text x="798.9" y="1857.5" text-anchor="end" style="font-size:21px" fill="#4d4d4d" stroke="#4d4d4d">1.0</text>
<text x="798.9" y="1805.8" text-anchor="end" style="font-size:21px" fill="#4d4d4d" stroke="#4d4d4d">1.5</text>
<path d="M828.5,1918.6v8.5 M871.5,1918.6v8.5 M914.4,1918.6v8.5 M957.4,1918.6v8.5 M1000.3,1918.6v8.5 M821.4,1901.0h-9 M821.4,1849.3h-9 M821.4,1797.6h-9" stroke="#333" stroke-width="1.2" fill="none"/>
<text x="908.0" y="1728.4" text-anchor="middle" style="font-size:21.3px" fill="#000" stroke="#000">HMGII-HQ2</text>
<rect x="1028.2" y="1748" width="187.3" height="170.6" fill="#fff"/>
<path d="M1056.8,1748V1918.6 M1099.8,1748V1918.6 M1142.7,1748V1918.6 M1185.7,1748V1918.6 M1028.2,1875.2H1215.5 M1028.2,1823.5H1215.5 M1028.2,1771.8H1215.5" stroke="#efefef" stroke-width="1.9" fill="none"/>
<path d="M1035.4,1748V1918.6 M1078.3,1748V1918.6 M1121.3,1748V1918.6 M1164.2,1748V1918.6 M1207.2,1748V1918.6 M1028.2,1901.0H1215.5 M1028.2,1849.3H1215.5 M1028.2,1797.6H1215.5" stroke="#ebebeb" stroke-width="2.2" fill="none"/>
<path d="M1036.6,1840.8 L1037.5,1841.0 L1038.4,1841.3 L1039.2,1841.6 L1040.1,1842.0 L1040.9,1842.3 L1041.8,1842.5 L1042.7,1842.7 L1043.5,1842.9 L1044.4,1842.9 L1045.2,1842.9 L1046.1,1842.9 L1046.9,1842.7 L1047.8,1842.6 L1048.7,1842.4 L1049.5,1842.3 L1050.4,1842.4 L1051.2,1842.5 L1052.1,1842.7 L1053.0,1843.0 L1053.8,1843.3 L1054.7,1843.6 L1055.5,1843.8 L1056.4,1843.9 L1057.3,1843.8 L1058.1,1843.6 L1059.0,1843.4 L1059.8,1843.1 L1060.7,1843.0 L1061.5,1842.9 L1062.4,1843.1 L1063.3,1843.4 L1064.1,1844.0 L1065.0,1844.7 L1065.8,1845.5 L1066.7,1846.3 L1067.6,1847.0 L1068.4,1847.6 L1069.3,1848.0 L1070.1,1848.1 L1071.0,1847.9 L1071.9,1847.5 L1072.7,1846.8 L1073.6,1846.0 L1074.4,1845.1 L1075.3,1844.1 L1076.2,1843.2 L1077.0,1842.4 L1077.9,1841.9 L1078.7,1841.8 L1079.6,1842.0 L1080.4,1842.7 L1081.3,1843.9 L1082.2,1845.6 L1083.0,1847.5 L1083.9,1849.7 L1084.7,1851.8 L1085.6,1853.8 L1086.5,1855.2 L1087.3,1856.0 L1088.2,1855.9 L1089.0,1854.8 L1089.9,1852.9 L1090.8,1850.2 L1091.6,1847.0 L1092.5,1843.5 L1093.3,1840.1 L1094.2,1837.1 L1095.1,1834.8 L1095.9,1833.6 L1096.8,1833.7 L1097.6,1835.3 L1098.5,1838.2 L1099.3,1842.5 L1100.2,1847.8 L1101.1,1853.9 L1101.9,1860.4 L1102.8,1867.1 L1103.6,1873.6 L1104.5,1879.9 L1105.4,1885.5 L1106.2,1890.5 L1107.1,1894.5 L1107.9,1897.4 L1108.8,1899.2 L1109.7,1899.4 L1110.5,1896.6 L1111.4,1891.1 L1112.2,1883.6 L1113.1,1874.9 L1113.9,1865.8 L1114.8,1856.9 L1115.7,1848.1 L1116.5,1839.4 L1117.4,1830.6 L1118.2,1821.6 L1119.1,1813.0 L1120.0,1805.5 L1120.8,1800.2 L1121.7,1798.1 L1122.5,1799.4 L1123.4,1804.1 L1124.3,1811.2 L1125.1,1819.4 L1126.0,1827.6 L1126.8,1834.9 L1127.7,1840.7 L1128.6,1845.1 L1129.4,1847.9 L1130.3,1849.5 L1131.1,1849.8 L1132.0,1849.0 L1132.8,1847.2 L1133.7,1844.7 L1134.6,1841.5 L1135.4,1838.2 L1136.3,1834.8 L1137.1,1831.8 L1138.0,1829.4 L1138.9,1827.7 L1139.7,1827.0 L1140.6,1827.2 L1141.4,1828.3 L1142.3,1830.0 L1143.2,1832.0 L1144.0,1834.2 L1144.9,1836.3 L1145.7,1838.1 L1146.6,1839.5 L1147.4,1840.5 L1148.3,1841.1 L1149.2,1841.4 L1150.0,1841.5 L1150.9,1841.5 L1151.7,1841.4 L1152.6,1841.3 L1153.5,1841.1 L1154.3,1841.0 L1155.2,1840.9 L1156.0,1840.9 L1156.9,1841.0 L1157.8,1841.2 L1158.6,1841.6 L1159.5,1842.2 L1160.3,1842.9 L1161.2,1843.6 L1162.1,1844.3 L1162.9,1845.0 L1163.8,1845.5 L1164.6,1846.0 L1165.5,1846.3 L1166.3,1846.6 L1167.2,1846.7 L1168.1,1846.8 L1168.9,1847.0 L1169.8,1847.1 L1170.6,1847.3 L1171.5,1847.5 L1172.4,1847.7 L1173.2,1848.0 L1174.1,1848.3 L1174.9,1848.5 L1175.8,1848.8 L1176.7,1849.2 L1177.5,1849.5 L1178.4,1849.9 L1179.2,1850.3 L1180.1,1850.7 L1181.0,1851.0 L1181.8,1851.2 L1182.7,1851.3 L1183.5,1851.3 L1184.4,1851.2 L1185.2,1851.0 L1186.1,1850.8 L1187.0,1850.6 L1187.8,1850.5 L1188.7,1850.5 L1189.5,1850.7 L1190.4,1851.0 L1191.3,1851.4 L1192.1,1851.7 L1193.0,1852.0 L1193.8,1852.1 L1194.7,1852.1 L1195.6,1852.0 L1196.4,1851.8 L1197.3,1851.5 L1198.1,1851.2 L1199.0,1851.0 L1199.8,1850.9 L1200.7,1851.0 L1201.6,1851.1 L1202.4,1851.4 L1203.3,1851.8 L1204.1,1852.3 L1205.0,1852.7 L1205.9,1853.1" fill="none" stroke="#3f97b7" stroke-width="4.2" stroke-linejoin="round" stroke-linecap="round" opacity="1"/>
<path d="M1036.6,1839.5 L1037.5,1839.3 L1038.4,1839.5 L1039.2,1840.1 L1040.1,1840.9 L1040.9,1841.8 L1041.8,1842.7 L1042.7,1843.5 L1043.5,1844.1 L1044.4,1844.4 L1045.2,1844.6 L1046.1,1844.5 L1046.9,1844.4 L1047.8,1844.2 L1048.7,1844.1 L1049.5,1843.9 L1050.4,1843.7 L1051.2,1843.3 L1052.1,1842.8 L1053.0,1842.2 L1053.8,1841.5 L1054.7,1840.8 L1055.5,1840.2 L1056.4,1839.9 L1057.3,1839.9 L1058.1,1840.4 L1059.0,1841.2 L1059.8,1842.4 L1060.7,1843.7 L1061.5,1845.0 L1062.4,1846.2 L1063.3,1847.1 L1064.1,1847.8 L1065.0,1848.1 L1065.8,1848.3 L1066.7,1848.3 L1067.6,1848.3 L1068.4,1848.2 L1069.3,1848.0 L1070.1,1847.7 L1071.0,1847.2 L1071.9,1846.5 L1072.7,1845.5 L1073.6,1844.2 L1074.4,1842.8 L1075.3,1841.5 L1076.2,1840.3 L1077.0,1839.6 L1077.9,1839.4 L1078.7,1839.9 L1079.6,1841.0 L1080.4,1842.6 L1081.3,1844.7 L1082.2,1847.0 L1083.0,1849.3 L1083.9,1851.4 L1084.7,1853.2 L1085.6,1854.6 L1086.5,1855.4 L1087.3,1855.6 L1088.2,1855.1 L1089.0,1854.0 L1089.9,1852.1 L1090.8,1849.7 L1091.6,1846.8 L1092.5,1843.6 L1093.3,1840.4 L1094.2,1837.6 L1095.1,1835.5 L1095.9,1834.5 L1096.8,1834.9 L1097.6,1837.0 L1098.5,1840.7 L1099.3,1845.9 L1100.2,1852.3 L1101.1,1859.5 L1101.9,1867.0 L1102.8,1874.4 L1103.6,1881.4 L1104.5,1887.7 L1105.4,1893.1 L1106.2,1897.5 L1107.1,1900.8 L1107.9,1903.0 L1108.8,1904.1 L1109.7,1903.8 L1110.5,1900.5 L1111.4,1894.3 L1112.2,1886.0 L1113.1,1876.5 L1113.9,1866.3 L1114.8,1855.8 L1115.7,1844.9 L1116.5,1833.3 L1117.4,1820.8 L1118.2,1807.5 L1119.1,1794.2 L1120.0,1782.5 L1120.8,1774.0 L1121.7,1770.5 L1122.5,1772.6 L1123.4,1780.1 L1124.3,1791.6 L1125.1,1805.1 L1126.0,1818.7 L1126.8,1831.1 L1127.7,1841.4 L1128.6,1849.3 L1129.4,1855.0 L1130.3,1858.4 L1131.1,1859.6 L1132.0,1858.6 L1132.8,1855.6 L1133.7,1850.9 L1134.6,1844.9 L1135.4,1838.1 L1136.3,1831.3 L1137.1,1825.0 L1138.0,1820.0 L1138.9,1816.7 L1139.7,1815.4 L1140.6,1816.2 L1141.4,1818.7 L1142.3,1822.6 L1143.2,1827.4 L1144.0,1832.3 L1144.9,1836.9 L1145.7,1840.8 L1146.6,1843.8 L1147.4,1845.7 L1148.3,1846.6 L1149.2,1846.8 L1150.0,1846.5 L1150.9,1845.7 L1151.7,1844.7 L1152.6,1843.7 L1153.5,1842.6 L1154.3,1841.6 L1155.2,1840.7 L1156.0,1840.2 L1156.9,1840.0 L1157.8,1840.3 L1158.6,1841.0 L1159.5,1842.2 L1160.3,1843.8 L1161.2,1845.5 L1162.1,1847.3 L1162.9,1848.9 L1163.8,1850.2 L1164.6,1851.1 L1165.5,1851.6 L1166.3,1851.8 L1167.2,1851.7 L1168.1,1851.5 L1168.9,1851.4 L1169.8,1851.4 L1170.6,1851.5 L1171.5,1851.9 L1172.4,1852.3 L1173.2,1852.7 L1174.1,1853.1 L1174.9,1853.3 L1175.8,1853.4 L1176.7,1853.3 L1177.5,1853.2 L1178.4,1853.2 L1179.2,1853.3 L1180.1,1853.7 L1181.0,1854.2 L1181.8,1854.9 L1182.7,1855.6 L1183.5,1856.2 L1184.4,1856.7 L1185.2,1856.9 L1186.1,1856.9 L1187.0,1856.7 L1187.8,1856.3 L1188.7,1856.0 L1189.5,1855.7 L1190.4,1855.6 L1191.3,1855.7 L1192.1,1856.0 L1193.0,1856.3 L1193.8,1856.6 L1194.7,1856.8 L1195.6,1856.9 L1196.4,1856.8 L1197.3,1856.6 L1198.1,1856.3 L1199.0,1856.2 L1199.8,1856.2 L1200.7,1856.4 L1201.6,1856.7 L1202.4,1857.2 L1203.3,1857.7 L1204.1,1858.1 L1205.0,1858.3 L1205.9,1858.2" fill="none" stroke="#8b3a8f" stroke-width="4.2" stroke-linejoin="round" stroke-linecap="round" opacity="0.92"/>
<rect x="1028.2" y="1748" width="187.3" height="170.6" fill="none" stroke="#000" stroke-width="1.9"/>
<path d="M1035.4,1918.6v8.5 M1078.3,1918.6v8.5 M1121.3,1918.6v8.5 M1164.2,1918.6v8.5 M1207.2,1918.6v8.5" stroke="#333" stroke-width="1.2" fill="none"/>
<text x="1127.9" y="1728.4" text-anchor="middle" style="font-size:21.3px" fill="#000" stroke="#000">Ino80<tspan dy="-9" dx="2">ΔN</tspan></text>
<rect x="1234.9" y="1748" width="187.3" height="170.6" fill="#fff"/>
<path d="M1263.5,1748V1918.6 M1306.5,1748V1918.6 M1349.4,1748V1918.6 M1392.4,1748V1918.6 M1234.9,1875.2H1422.2 M1234.9,1823.5H1422.2 M1234.9,1771.8H1422.2" stroke="#efefef" stroke-width="1.9" fill="none"/>
<path d="M1242.1,1748V1918.6 M1285.0,1748V1918.6 M1328.0,1748V1918.6 M1370.9,1748V1918.6 M1413.9,1748V1918.6 M1234.9,1901.0H1422.2 M1234.9,1849.3H1422.2 M1234.9,1797.6H1422.2" stroke="#ebebeb" stroke-width="2.2" fill="none"/>
<path d="M1243.3,1836.8 L1244.2,1836.9 L1245.1,1837.1 L1245.9,1837.3 L1246.8,1837.4 L1247.6,1837.5 L1248.5,1837.6 L1249.4,1837.7 L1250.2,1837.8 L1251.1,1837.9 L1251.9,1837.9 L1252.8,1837.8 L1253.6,1837.7 L1254.5,1837.6 L1255.4,1837.4 L1256.2,1837.2 L1257.1,1837.0 L1257.9,1836.9 L1258.8,1836.8 L1259.7,1836.7 L1260.5,1836.8 L1261.4,1836.9 L1262.2,1837.2 L1263.1,1837.5 L1264.0,1837.9 L1264.8,1838.3 L1265.7,1838.7 L1266.5,1839.0 L1267.4,1839.3 L1268.2,1839.5 L1269.1,1839.6 L1270.0,1839.6 L1270.8,1839.6 L1271.7,1839.5 L1272.5,1839.5 L1273.4,1839.4 L1274.3,1839.4 L1275.1,1839.4 L1276.0,1839.4 L1276.8,1839.5 L1277.7,1839.6 L1278.6,1839.7 L1279.4,1839.7 L1280.3,1839.8 L1281.1,1839.8 L1282.0,1839.9 L1282.9,1840.0 L1283.7,1840.2 L1284.6,1840.4 L1285.4,1840.8 L1286.3,1841.2 L1287.1,1841.8 L1288.0,1842.6 L1288.9,1843.4 L1289.7,1844.3 L1290.6,1845.2 L1291.4,1846.0 L1292.3,1846.6 L1293.2,1846.8 L1294.0,1846.6 L1294.9,1846.0 L1295.7,1844.9 L1296.6,1843.4 L1297.5,1841.6 L1298.3,1839.7 L1299.2,1838.0 L1300.0,1836.5 L1300.9,1835.6 L1301.8,1835.3 L1302.6,1835.9 L1303.5,1837.3 L1304.3,1839.6 L1305.2,1842.6 L1306.0,1846.3 L1306.9,1850.3 L1307.8,1854.6 L1308.6,1858.9 L1309.5,1863.1 L1310.3,1867.0 L1311.2,1870.5 L1312.1,1873.7 L1312.9,1876.2 L1313.8,1878.2 L1314.6,1879.6 L1315.5,1880.3 L1316.4,1880.0 L1317.2,1877.7 L1318.1,1873.5 L1318.9,1868.0 L1319.8,1861.8 L1320.6,1855.5 L1321.5,1849.3 L1322.4,1843.0 L1323.2,1836.2 L1324.1,1828.3 L1324.9,1819.4 L1325.8,1810.3 L1326.7,1802.5 L1327.5,1797.9 L1328.4,1797.6 L1329.2,1801.6 L1330.1,1808.5 L1331.0,1816.6 L1331.8,1824.1 L1332.7,1830.1 L1333.5,1834.4 L1334.4,1837.4 L1335.3,1839.5 L1336.1,1841.0 L1337.0,1841.9 L1337.8,1842.3 L1338.7,1842.0 L1339.5,1841.0 L1340.4,1839.4 L1341.3,1837.4 L1342.1,1835.0 L1343.0,1832.5 L1343.8,1830.2 L1344.7,1828.2 L1345.6,1826.9 L1346.4,1826.2 L1347.3,1826.3 L1348.1,1827.3 L1349.0,1829.0 L1349.9,1831.4 L1350.7,1834.2 L1351.6,1837.1 L1352.4,1839.8 L1353.3,1842.2 L1354.1,1843.8 L1355.0,1844.7 L1355.9,1844.6 L1356.7,1843.7 L1357.6,1842.2 L1358.4,1840.2 L1359.3,1838.0 L1360.2,1836.0 L1361.0,1834.3 L1361.9,1833.2 L1362.7,1832.7 L1363.6,1833.0 L1364.5,1834.0 L1365.3,1835.6 L1366.2,1837.5 L1367.0,1839.6 L1367.9,1841.6 L1368.8,1843.5 L1369.6,1845.0 L1370.5,1846.1 L1371.3,1847.0 L1372.2,1847.6 L1373.0,1848.1 L1373.9,1848.5 L1374.8,1849.1 L1375.6,1849.7 L1376.5,1850.5 L1377.3,1851.5 L1378.2,1852.6 L1379.1,1853.8 L1379.9,1855.0 L1380.8,1856.1 L1381.6,1857.1 L1382.5,1857.9 L1383.4,1858.5 L1384.2,1858.7 L1385.1,1858.7 L1385.9,1858.5 L1386.8,1858.0 L1387.7,1857.5 L1388.5,1857.0 L1389.4,1856.6 L1390.2,1856.3 L1391.1,1856.3 L1391.9,1856.5 L1392.8,1857.0 L1393.7,1857.7 L1394.5,1858.5 L1395.4,1859.5 L1396.2,1860.4 L1397.1,1861.3 L1398.0,1862.0 L1398.8,1862.6 L1399.7,1862.9 L1400.5,1863.1 L1401.4,1863.0 L1402.3,1862.7 L1403.1,1862.4 L1404.0,1861.9 L1404.8,1861.5 L1405.7,1861.1 L1406.5,1860.7 L1407.4,1860.5 L1408.3,1860.4 L1409.1,1860.3 L1410.0,1860.4 L1410.8,1860.6 L1411.7,1860.9 L1412.6,1861.3" fill="none" stroke="#fde64a" stroke-width="4.2" stroke-linejoin="round" stroke-linecap="round" opacity="1"/>
<path d="M1243.3,1843.9 L1244.2,1844.2 L1245.1,1844.5 L1245.9,1844.8 L1246.8,1845.1 L1247.6,1845.3 L1248.5,1845.5 L1249.4,1845.6 L1250.2,1845.6 L1251.1,1845.5 L1251.9,1845.3 L1252.8,1845.0 L1253.6,1844.7 L1254.5,1844.4 L1255.4,1844.1 L1256.2,1843.9 L1257.1,1843.8 L1257.9,1843.8 L1258.8,1843.9 L1259.7,1844.1 L1260.5,1844.3 L1261.4,1844.6 L1262.2,1844.9 L1263.1,1845.2 L1264.0,1845.4 L1264.8,1845.5 L1265.7,1845.6 L1266.5,1845.6 L1267.4,1845.6 L1268.2,1845.6 L1269.1,1845.7 L1270.0,1845.8 L1270.8,1846.0 L1271.7,1846.3 L1272.5,1846.6 L1273.4,1847.1 L1274.3,1847.5 L1275.1,1847.9 L1276.0,1848.2 L1276.8,1848.4 L1277.7,1848.4 L1278.6,1848.2 L1279.4,1847.9 L1280.3,1847.5 L1281.1,1847.1 L1282.0,1846.6 L1282.9,1846.2 L1283.7,1846.0 L1284.6,1846.0 L1285.4,1846.2 L1286.3,1846.7 L1287.1,1847.5 L1288.0,1848.6 L1288.9,1850.0 L1289.7,1851.5 L1290.6,1853.1 L1291.4,1854.6 L1292.3,1855.9 L1293.2,1856.7 L1294.0,1857.0 L1294.9,1856.5 L1295.7,1855.3 L1296.6,1853.4 L1297.5,1851.0 L1298.3,1848.2 L1299.2,1845.4 L1300.0,1842.7 L1300.9,1840.4 L1301.8,1838.8 L1302.6,1838.2 L1303.5,1838.5 L1304.3,1839.9 L1305.2,1842.2 L1306.0,1845.4 L1306.9,1849.1 L1307.8,1853.1 L1308.6,1857.3 L1309.5,1861.4 L1310.3,1865.3 L1311.2,1869.0 L1312.1,1872.2 L1312.9,1875.1 L1313.8,1877.4 L1314.6,1879.1 L1315.5,1880.2 L1316.4,1880.4 L1317.2,1878.8 L1318.1,1875.5 L1318.9,1870.8 L1319.8,1865.5 L1320.6,1860.0 L1321.5,1854.5 L1322.4,1849.2 L1323.2,1843.7 L1324.1,1837.8 L1324.9,1831.6 L1325.8,1825.6 L1326.7,1820.6 L1327.5,1817.7 L1328.4,1817.4 L1329.2,1819.7 L1330.1,1823.9 L1331.0,1828.8 L1331.8,1833.5 L1332.7,1837.5 L1333.5,1840.7 L1334.4,1843.3 L1335.3,1845.3 L1336.1,1846.9 L1337.0,1847.9 L1337.8,1848.2 L1338.7,1847.6 L1339.5,1846.2 L1340.4,1844.1 L1341.3,1841.3 L1342.1,1838.2 L1343.0,1834.9 L1343.8,1831.8 L1344.7,1829.0 L1345.6,1827.0 L1346.4,1825.7 L1347.3,1825.4 L1348.1,1826.0 L1349.0,1827.5 L1349.9,1829.9 L1350.7,1832.7 L1351.6,1835.8 L1352.4,1838.8 L1353.3,1841.4 L1354.1,1843.4 L1355.0,1844.5 L1355.9,1844.6 L1356.7,1843.7 L1357.6,1842.1 L1358.4,1839.9 L1359.3,1837.4 L1360.2,1834.8 L1361.0,1832.4 L1361.9,1830.5 L1362.7,1829.2 L1363.6,1828.7 L1364.5,1829.0 L1365.3,1830.0 L1366.2,1831.5 L1367.0,1833.4 L1367.9,1835.4 L1368.8,1837.3 L1369.6,1839.1 L1370.5,1840.6 L1371.3,1841.7 L1372.2,1842.6 L1373.0,1843.2 L1373.9,1843.7 L1374.8,1843.9 L1375.6,1844.1 L1376.5,1844.3 L1377.3,1844.5 L1378.2,1844.9 L1379.1,1845.3 L1379.9,1845.9 L1380.8,1846.7 L1381.6,1847.5 L1382.5,1848.4 L1383.4,1849.2 L1384.2,1850.0 L1385.1,1850.7 L1385.9,1851.1 L1386.8,1851.3 L1387.7,1851.3 L1388.5,1851.0 L1389.4,1850.6 L1390.2,1850.1 L1391.1,1849.5 L1391.9,1848.9 L1392.8,1848.5 L1393.7,1848.3 L1394.5,1848.2 L1395.4,1848.4 L1396.2,1848.8 L1397.1,1849.3 L1398.0,1850.0 L1398.8,1850.7 L1399.7,1851.4 L1400.5,1852.0 L1401.4,1852.5 L1402.3,1852.9 L1403.1,1853.1 L1404.0,1853.2 L1404.8,1853.1 L1405.7,1853.0 L1406.5,1852.8 L1407.4,1852.6 L1408.3,1852.5 L1409.1,1852.3 L1410.0,1852.2 L1410.8,1852.2 L1411.7,1852.1 L1412.6,1852.1" fill="none" stroke="#3f97b7" stroke-width="4.2" stroke-linejoin="round" stroke-linecap="round" opacity="1"/>
<path d="M1243.3,1837.1 L1244.2,1837.1 L1245.1,1837.0 L1245.9,1836.9 L1246.8,1836.9 L1247.6,1836.8 L1248.5,1836.8 L1249.4,1836.9 L1250.2,1837.0 L1251.1,1837.2 L1251.9,1837.3 L1252.8,1837.5 L1253.6,1837.7 L1254.5,1837.9 L1255.4,1838.0 L1256.2,1838.0 L1257.1,1838.0 L1257.9,1837.8 L1258.8,1837.7 L1259.7,1837.5 L1260.5,1837.3 L1261.4,1837.1 L1262.2,1837.0 L1263.1,1837.1 L1264.0,1837.2 L1264.8,1837.4 L1265.7,1837.7 L1266.5,1838.1 L1267.4,1838.5 L1268.2,1838.9 L1269.1,1839.3 L1270.0,1839.7 L1270.8,1839.9 L1271.7,1840.1 L1272.5,1840.2 L1273.4,1840.1 L1274.3,1840.0 L1275.1,1839.8 L1276.0,1839.6 L1276.8,1839.4 L1277.7,1839.2 L1278.6,1839.0 L1279.4,1839.0 L1280.3,1839.1 L1281.1,1839.3 L1282.0,1839.7 L1282.9,1840.1 L1283.7,1840.6 L1284.6,1841.2 L1285.4,1841.7 L1286.3,1842.2 L1287.1,1842.7 L1288.0,1843.1 L1288.9,1843.5 L1289.7,1843.9 L1290.6,1844.3 L1291.4,1844.6 L1292.3,1844.9 L1293.2,1845.0 L1294.0,1845.0 L1294.9,1844.7 L1295.7,1844.1 L1296.6,1843.3 L1297.5,1842.2 L1298.3,1841.0 L1299.2,1839.8 L1300.0,1838.8 L1300.9,1838.0 L1301.8,1837.8 L1302.6,1838.1 L1303.5,1839.2 L1304.3,1841.1 L1305.2,1843.7 L1306.0,1847.1 L1306.9,1851.1 L1307.8,1855.5 L1308.6,1860.3 L1309.5,1865.2 L1310.3,1870.1 L1311.2,1874.8 L1312.1,1879.3 L1312.9,1883.2 L1313.8,1886.5 L1314.6,1889.0 L1315.5,1890.5 L1316.4,1890.6 L1317.2,1888.1 L1318.1,1882.9 L1318.9,1876.0 L1319.8,1868.3 L1320.6,1860.6 L1321.5,1853.6 L1322.4,1847.6 L1323.2,1842.7 L1324.1,1838.7 L1324.9,1835.4 L1325.8,1832.6 L1326.7,1830.3 L1327.5,1828.7 L1328.4,1828.0 L1329.2,1828.3 L1330.1,1829.5 L1331.0,1831.4 L1331.8,1833.6 L1332.7,1835.9 L1333.5,1838.1 L1334.4,1840.1 L1335.3,1841.8 L1336.1,1842.9 L1337.0,1843.4 L1337.8,1843.2 L1338.7,1842.1 L1339.5,1840.1 L1340.4,1837.5 L1341.3,1834.4 L1342.1,1831.1 L1343.0,1827.9 L1343.8,1825.2 L1344.7,1823.2 L1345.6,1822.0 L1346.4,1821.8 L1347.3,1822.6 L1348.1,1824.4 L1349.0,1827.0 L1349.9,1830.1 L1350.7,1833.6 L1351.6,1836.9 L1352.4,1839.9 L1353.3,1842.1 L1354.1,1843.5 L1355.0,1843.8 L1355.9,1843.0 L1356.7,1841.4 L1357.6,1839.0 L1358.4,1836.3 L1359.3,1833.5 L1360.2,1830.9 L1361.0,1828.8 L1361.9,1827.5 L1362.7,1827.0 L1363.6,1827.3 L1364.5,1828.5 L1365.3,1830.4 L1366.2,1832.6 L1367.0,1835.0 L1367.9,1837.4 L1368.8,1839.6 L1369.6,1841.4 L1370.5,1842.8 L1371.3,1843.8 L1372.2,1844.6 L1373.0,1845.2 L1373.9,1845.6 L1374.8,1846.0 L1375.6,1846.4 L1376.5,1846.7 L1377.3,1847.2 L1378.2,1847.6 L1379.1,1848.1 L1379.9,1848.6 L1380.8,1849.1 L1381.6,1849.6 L1382.5,1850.0 L1383.4,1850.5 L1384.2,1850.9 L1385.1,1851.2 L1385.9,1851.6 L1386.8,1851.9 L1387.7,1852.2 L1388.5,1852.5 L1389.4,1852.8 L1390.2,1853.1 L1391.1,1853.4 L1391.9,1853.7 L1392.8,1854.0 L1393.7,1854.3 L1394.5,1854.5 L1395.4,1854.7 L1396.2,1854.8 L1397.1,1854.9 L1398.0,1854.8 L1398.8,1854.7 L1399.7,1854.6 L1400.5,1854.5 L1401.4,1854.3 L1402.3,1854.2 L1403.1,1854.2 L1404.0,1854.3 L1404.8,1854.5 L1405.7,1854.8 L1406.5,1855.2 L1407.4,1855.7 L1408.3,1856.2 L1409.1,1856.7 L1410.0,1857.1 L1410.8,1857.4 L1411.7,1857.5 L1412.6,1857.6" fill="none" stroke="#5c1a6e" stroke-width="4.2" stroke-linejoin="round" stroke-linecap="round" opacity="1"/>
<rect x="1234.9" y="1748" width="187.3" height="170.6" fill="none" stroke="#000" stroke-width="1.9"/>
<path d="M1242.1,1918.6v8.5 M1285.0,1918.6v8.5 M1328.0,1918.6v8.5 M1370.9,1918.6v8.5 M1413.9,1918.6v8.5" stroke="#333" stroke-width="1.2" fill="none"/>
<text x="1334.6" y="1728.4" text-anchor="middle" style="font-size:21.3px" fill="#000" stroke="#000">ctINO80<tspan dy="-9" dx="2">ΔN</tspan></text>
<text x="1127.3" y="1963.1" text-anchor="middle" style="font-size:22.1px" fill="#000" stroke="#000">distance to in vivo +1 nucleosome / bp</text>
<text x="752.7" y="1582.0" text-anchor="middle" style="font-size:26px" fill="#000" stroke="#000" transform="rotate(-90 752.7 1582.0)">normalized dyad density</text>
</g>
<g id="panel_f">
<text x="-1.0" y="2033.7" text-anchor="start" style="font-size:40px" fill="#000" stroke="#000" font-weight="bold">f</text>
<text x="158.2" y="2061.6" text-anchor="start" style="font-size:22px" fill="#000" stroke="#000">histone-to-DNA ratio</text>
<path d="M394,2035V2067" stroke="#c9c9c9" stroke-width="3"/><circle cx="394" cy="2051.3" r="6.6" fill="#c9c9c9"/>
<path d="M487.2,2035V2067" stroke="#595959" stroke-width="3"/><circle cx="487.2" cy="2051.3" r="6.6" fill="#595959"/>
<text x="416.8" y="2059.7" text-anchor="start" style="font-size:21px" fill="#000" stroke="#000">0.2</text>
<text x="508.3" y="2059.7" text-anchor="start" style="font-size:21px" fill="#000" stroke="#000">0.4</text>
<rect x="105.3" y="2080.2" width="513.0" height="338.60000000000036" fill="#fff"/>
<path d="M117.3,2080.2V2418.8 M136.5,2080.2V2418.8 M155.8,2080.2V2418.8 M175.0,2080.2V2418.8 M194.9,2080.2V2418.8 M214.1,2080.2V2418.8 M234.0,2080.2V2418.8 M253.2,2080.2V2418.8 M273.1,2080.2V2418.8 M292.9,2080.2V2418.8 M312.2,2080.2V2418.8 M332.0,2080.2V2418.8 M351.3,2080.2V2418.8 M371.1,2080.2V2418.8 M390.4,2080.2V2418.8 M410.2,2080.2V2418.8 M429.5,2080.2V2418.8 M449.3,2080.2V2418.8 M468.6,2080.2V2418.8 M488.4,2080.2V2418.8 M507.7,2080.2V2418.8 M526.9,2080.2V2418.8 M546.8,2080.2V2418.8 M566.6,2080.2V2418.8 M585.9,2080.2V2418.8 M605.7,2080.2V2418.8 M105.3,2156.3H618.3 M105.3,2237.7H618.3 M105.3,2319.1H618.3 M105.3,2400.5H618.3" stroke="#ebebeb" stroke-width="2" fill="none"/>
<path d="M105.3,2115.6H618.3 M105.3,2197.0H618.3 M105.3,2278.4H618.3 M105.3,2359.8H618.3" stroke="#f0f0f0" stroke-width="1.1" fill="none"/>
<path d="M117.3,2148.2V2278.4" stroke="#c9c9c9" stroke-width="3"/><circle cx="117.3" cy="2215.3" r="6.6" fill="#c9c9c9"/>
<path d="M136.5,2160.4V2278.4" stroke="#595959" stroke-width="3"/><circle cx="136.5" cy="2223.5" r="6.6" fill="#595959"/>
<path d="M155.8,2160.4V2298.8" stroke="#c9c9c9" stroke-width="3"/><circle cx="155.8" cy="2231.6" r="6.6" fill="#c9c9c9"/>
<path d="M175.0,2152.2V2274.3" stroke="#595959" stroke-width="3"/><circle cx="175.0" cy="2223.5" r="6.6" fill="#595959"/>
<path d="M194.9,2146.1V2286.5" stroke="#c9c9c9" stroke-width="3"/><circle cx="194.9" cy="2219.4" r="6.6" fill="#c9c9c9"/>
<path d="M214.1,2131.9V2266.2" stroke="#c9c9c9" stroke-width="3"/><circle cx="214.1" cy="2215.3" r="6.6" fill="#c9c9c9"/>
<path d="M234.0,2146.1V2376.1" stroke="#c9c9c9" stroke-width="3"/><circle cx="234.0" cy="2272.3" r="6.6" fill="#c9c9c9"/>
<path d="M253.2,2209.2V2402.5" stroke="#c9c9c9" stroke-width="3"/><circle cx="253.2" cy="2284.5" r="6.6" fill="#c9c9c9"/>
<path d="M273.1,2184.8V2384.2" stroke="#595959" stroke-width="3"/><circle cx="273.1" cy="2272.3" r="6.6" fill="#595959"/>
<path d="M292.9,2156.3V2288.6" stroke="#c9c9c9" stroke-width="3"/><circle cx="292.9" cy="2227.5" r="6.6" fill="#c9c9c9"/>
<path d="M312.2,2148.2V2290.6" stroke="#595959" stroke-width="3"/><circle cx="312.2" cy="2231.6" r="6.6" fill="#595959"/>
<path d="M332.0,2160.4V2288.6" stroke="#c9c9c9" stroke-width="3"/><circle cx="332.0" cy="2227.5" r="6.6" fill="#c9c9c9"/>
<path d="M351.3,2152.2V2278.4" stroke="#595959" stroke-width="3"/><circle cx="351.3" cy="2227.5" r="6.6" fill="#595959"/>
<path d="M371.1,2160.4V2278.4" stroke="#c9c9c9" stroke-width="3"/><circle cx="371.1" cy="2223.5" r="6.6" fill="#c9c9c9"/>
<path d="M390.4,2160.4V2294.7" stroke="#595959" stroke-width="3"/><circle cx="390.4" cy="2231.6" r="6.6" fill="#595959"/>
<path d="M410.2,2099.3V2282.5" stroke="#c9c9c9" stroke-width="3"/><circle cx="410.2" cy="2190.9" r="6.6" fill="#c9c9c9"/>
<path d="M429.5,2101.4V2282.5" stroke="#595959" stroke-width="3"/><circle cx="429.5" cy="2190.9" r="6.6" fill="#595959"/>
<path d="M449.3,2115.6V2278.4" stroke="#c9c9c9" stroke-width="3"/><circle cx="449.3" cy="2195.0" r="6.6" fill="#c9c9c9"/>
<path d="M468.6,2095.2V2245.8" stroke="#595959" stroke-width="3"/><circle cx="468.6" cy="2184.8" r="6.6" fill="#595959"/>
<path d="M488.4,2135.9V2278.4" stroke="#c9c9c9" stroke-width="3"/><circle cx="488.4" cy="2215.3" r="6.6" fill="#c9c9c9"/>
<path d="M507.7,2133.9V2266.2" stroke="#595959" stroke-width="3"/><circle cx="507.7" cy="2215.3" r="6.6" fill="#595959"/>
<path d="M526.9,2148.2V2266.2" stroke="#c9c9c9" stroke-width="3"/><circle cx="526.9" cy="2215.3" r="6.6" fill="#c9c9c9"/>
<path d="M546.8,2138.0V2258.0" stroke="#595959" stroke-width="3"/><circle cx="546.8" cy="2211.2" r="6.6" fill="#595959"/>
<path d="M566.6,2168.5V2278.4" stroke="#595959" stroke-width="3"/><circle cx="566.6" cy="2229.6" r="6.6" fill="#595959"/>
<path d="M585.9,2144.1V2264.2" stroke="#595959" stroke-width="3"/><circle cx="585.9" cy="2219.4" r="6.6" fill="#595959"/>
<path d="M605.7,2160.4V2270.3" stroke="#595959" stroke-width="3"/><circle cx="605.7" cy="2223.5" r="6.6" fill="#595959"/>
<rect x="223.8" y="2080.2" width="58.9" height="338.60000000000036" fill="#2f6fc4" opacity="0.27"/>
<rect x="323.6" y="2080.2" width="36.1" height="338.60000000000036" fill="#2f6fc4" opacity="0.27"/>
<rect x="401.8" y="2080.2" width="37.3" height="338.60000000000036" fill="#2f6fc4" opacity="0.27"/>
<rect x="479.4" y="2080.2" width="36.7" height="338.60000000000036" fill="#2f6fc4" opacity="0.27"/>
<rect x="558.2" y="2080.2" width="36.1" height="338.60000000000036" fill="#2f6fc4" opacity="0.27"/>
<path d="M105.3,2237.7H618.3" stroke="#ee1c25" stroke-width="2.8" stroke-dasharray="13 4 3.5 4" fill="none"/>
<rect x="105.3" y="2080.2" width="513.0" height="338.60000000000036" fill="none" stroke="#000" stroke-width="1.6"/>
<text x="94.0" y="2164.5" text-anchor="end" style="font-size:21px" fill="#4d4d4d" stroke="#4d4d4d">20</text>
<text x="94.0" y="2245.9" text-anchor="end" style="font-size:21px" fill="#4d4d4d" stroke="#4d4d4d">0</text>
<text x="94.0" y="2327.3" text-anchor="end" style="font-size:21px" fill="#4d4d4d" stroke="#4d4d4d">−20</text>
<text x="94.0" y="2408.7" text-anchor="end" style="font-size:21px" fill="#4d4d4d" stroke="#4d4d4d">−40</text>
<path d="M105.3,2156.3h-6 M105.3,2237.7h-6 M105.3,2319.1h-6 M105.3,2400.5h-6 M117.3,2418.8v5 M136.5,2418.8v5 M155.8,2418.8v5 M175.0,2418.8v5 M194.9,2418.8v5 M214.1,2418.8v5 M234.0,2418.8v5 M253.2,2418.8v5 M273.1,2418.8v5 M292.9,2418.8v5 M312.2,2418.8v5 M332.0,2418.8v5 M351.3,2418.8v5 M371.1,2418.8v5 M390.4,2418.8v5 M410.2,2418.8v5 M429.5,2418.8v5 M449.3,2418.8v5 M468.6,2418.8v5 M488.4,2418.8v5 M507.7,2418.8v5 M526.9,2418.8v5 M546.8,2418.8v5 M566.6,2418.8v5 M585.9,2418.8v5 M605.7,2418.8v5" stroke="#333" stroke-width="1.1" fill="none"/>
<text x="58.0" y="2259.7" text-anchor="middle" style="font-size:22px" fill="#000" stroke="#000" transform="rotate(-90 58.0 2259.7)">distance to <tspan font-style="italic">in vivo</tspan> +1 nucleosome / bp</text>
<path d="M116.1,2438H214.7" stroke="#000" stroke-width="3"/>
<path d="M227.4,2438H273.7" stroke="#1a56b0" stroke-width="3"/>
<path d="M285.7,2438H317.6" stroke="#000" stroke-width="3"/>
<path d="M326.0,2438H357.9" stroke="#1a56b0" stroke-width="3"/>
<path d="M365.1,2438H397.0" stroke="#000" stroke-width="3"/>
<path d="M404.2,2438H436.1" stroke="#1a56b0" stroke-width="3"/>
<path d="M442.7,2438H475.2" stroke="#000" stroke-width="3"/>
<path d="M481.2,2438H513.1" stroke="#1a56b0" stroke-width="3"/>
<path d="M520.3,2438H552.2" stroke="#000" stroke-width="3"/>
<path d="M560.6,2438H592.5" stroke="#1a56b0" stroke-width="3"/>
<path d="M598.5,2438H614.7" stroke="#000" stroke-width="3"/>
<text x="165.4" y="2466.7" text-anchor="middle" style="font-size:21px" fill="#000" stroke="#000">1</text>
<text x="249.6" y="2466.7" text-anchor="middle" style="font-size:21px" fill="#000" stroke="#000">2</text>
<text x="302.0" y="2466.7" text-anchor="middle" style="font-size:21px" fill="#000" stroke="#000">3</text>
<text x="341.1" y="2466.7" text-anchor="middle" style="font-size:21px" fill="#000" stroke="#000">4</text>
<text x="380.2" y="2466.7" text-anchor="middle" style="font-size:21px" fill="#000" stroke="#000">5</text>
<text x="419.2" y="2466.7" text-anchor="middle" style="font-size:21px" fill="#000" stroke="#000">6</text>
<text x="457.1" y="2466.7" text-anchor="middle" style="font-size:21px" fill="#000" stroke="#000">7</text>
<text x="495.6" y="2466.7" text-anchor="middle" style="font-size:21px" fill="#000" stroke="#000">8</text>
<text x="534.1" y="2466.7" text-anchor="middle" style="font-size:21px" fill="#000" stroke="#000">9</text>
<text x="576.2" y="2466.7" text-anchor="middle" style="font-size:21px" fill="#000" stroke="#000">10</text>
<text x="606.3" y="2466.7" text-anchor="middle" style="font-size:21px" fill="#000" stroke="#000">11</text>
<text x="652.5" y="2106.7" text-anchor="end" style="font-size:21.5px" fill="#000" stroke="#000">1</text>
<text x="660.5" y="2106.7" text-anchor="start" style="font-size:22px" fill="#000" stroke="#000">INO80 WT</text>
<text x="652.5" y="2135.0" text-anchor="end" style="font-size:21.5px" fill="#000" stroke="#000">2</text>
<text x="660.5" y="2135.0" text-anchor="start" style="font-size:22px" fill="#1a56b0" stroke="#1a56b0">ctINO80 ΔN</text>
<text x="652.5" y="2163.3" text-anchor="end" style="font-size:21.5px" fill="#000" stroke="#000">3</text>
<text x="660.5" y="2163.3" text-anchor="start" style="font-size:22px" fill="#000" stroke="#000">Ino80ΔN</text>
<text x="652.5" y="2190.9" text-anchor="end" style="font-size:21.5px" fill="#000" stroke="#000">4</text>
<text x="660.5" y="2190.9" text-anchor="start" style="font-size:22px" fill="#1a56b0" stroke="#1a56b0">ΔNhp10</text>
<text x="652.5" y="2218.6" text-anchor="end" style="font-size:21.5px" fill="#000" stroke="#000">5</text>
<text x="660.5" y="2218.6" text-anchor="start" style="font-size:22px" fill="#000" stroke="#000">HMGII</text>
<text x="652.5" y="2245.1" text-anchor="end" style="font-size:21.5px" fill="#000" stroke="#000">6</text>
<text x="660.5" y="2245.1" text-anchor="start" style="font-size:22px" fill="#1a56b0" stroke="#1a56b0">HQ1</text>
<text x="652.5" y="2272.7" text-anchor="end" style="font-size:21.5px" fill="#000" stroke="#000">7</text>
<text x="660.5" y="2272.7" text-anchor="start" style="font-size:22px" fill="#000" stroke="#000">HMGII-HQ1</text>
<text x="652.5" y="2299.8" text-anchor="end" style="font-size:21.5px" fill="#000" stroke="#000">8</text>
<text x="660.5" y="2299.8" text-anchor="start" style="font-size:22px" fill="#1a56b0" stroke="#1a56b0">HQ2</text>
<text x="652.5" y="2327.5" text-anchor="end" style="font-size:21.5px" fill="#000" stroke="#000">9</text>
<text x="660.5" y="2327.5" text-anchor="start" style="font-size:22px" fill="#000" stroke="#000">HMGII-HQ2</text>
<text x="652.5" y="2355.7" text-anchor="end" style="font-size:21.5px" fill="#000" stroke="#000">10</text>
<text x="660.5" y="2355.7" text-anchor="start" style="font-size:22px" fill="#1a56b0" stroke="#1a56b0">WT + <tspan font-style="italic">H.s.</tspan>histones</text>
<text x="652.5" y="2383.4" text-anchor="end" style="font-size:21.5px" fill="#000" stroke="#000">11</text>
<text x="660.5" y="2383.4" text-anchor="start" style="font-size:22px" fill="#000" stroke="#000">WT + <tspan font-style="italic">H.s.</tspan>tailless histones</text>
</g>
<g id="panel_g">
<text x="922.0" y="2033.2" text-anchor="start" style="font-size:40px" fill="#000" stroke="#000" font-weight="bold">g</text>
<path d="M1087.4,2006V2416 M1181.7,2006V2416 M1277.0,2006V2416 M1371.2,2006V2416 M1467.5,2006V2416 M1087,2015.6H1473 M1087,2117.2H1473 M1087,2215.0H1473 M1087,2314.0H1473 M1087,2411.3H1473 M1134.3,2006V2416 M1229.1,2006V2416 M1324.3,2006V2416 M1419.6,2006V2416 M1087,2066.1H1473 M1087,2166.1H1473 M1087,2264.5H1473 M1087,2362.9H1473" stroke="#f2f2f2" stroke-width="1.4" fill="none"/>
<path d="M1087.4,2382.7C1090.0,2379.7 1098.3,2369.2 1103.1,2364.5C1107.8,2359.7 1111.7,2355.3 1116.1,2354.1C1120.4,2352.8 1124.3,2355.3 1129.1,2357.2C1133.9,2359.1 1137.8,2362.4 1144.7,2365.5C1151.7,2368.6 1162.9,2373.1 1170.7,2375.9C1178.6,2378.8 1184.6,2384.6 1191.6,2382.7C1198.5,2380.8 1205.5,2375.3 1212.4,2364.5C1219.3,2353.6 1227.2,2336.7 1233.2,2317.6C1239.3,2298.5 1244.1,2277.7 1248.8,2249.9C1253.6,2222.2 1258.0,2184.8 1261.9,2151.0C1265.8,2117.2 1268.6,2071.0 1272.3,2046.9C1275.9,2022.7 1280.1,2007.1 1283.7,2006.2C1287.4,2005.4 1290.9,2022.7 1294.1,2041.7C1297.4,2060.6 1299.8,2097.6 1303.5,2119.8C1307.3,2141.9 1311.8,2156.6 1316.5,2174.4C1321.3,2192.2 1326.9,2208.3 1332.2,2226.5C1337.4,2244.7 1341.7,2268.4 1347.8,2283.8C1353.9,2299.1 1360.8,2309.5 1368.6,2318.7C1376.4,2327.8 1386.0,2333.6 1394.6,2338.4C1403.3,2343.3 1412.9,2346.2 1420.7,2347.8C1428.5,2349.4 1435.4,2345.0 1441.5,2347.8C1447.6,2350.6 1452.8,2359.5 1457.1,2364.5C1461.5,2369.4 1465.8,2375.3 1467.5,2377.5L1467.5,2413.9L1087.4,2413.9Z" fill="#f3c993" fill-opacity="0.55" stroke="none"/><path d="M1087.4,2382.7C1090.0,2379.7 1098.3,2369.2 1103.1,2364.5C1107.8,2359.7 1111.7,2355.3 1116.1,2354.1C1120.4,2352.8 1124.3,2355.3 1129.1,2357.2C1133.9,2359.1 1137.8,2362.4 1144.7,2365.5C1151.7,2368.6 1162.9,2373.1 1170.7,2375.9C1178.6,2378.8 1184.6,2384.6 1191.6,2382.7C1198.5,2380.8 1205.5,2375.3 1212.4,2364.5C1219.3,2353.6 1227.2,2336.7 1233.2,2317.6C1239.3,2298.5 1244.1,2277.7 1248.8,2249.9C1253.6,2222.2 1258.0,2184.8 1261.9,2151.0C1265.8,2117.2 1268.6,2071.0 1272.3,2046.9C1275.9,2022.7 1280.1,2007.1 1283.7,2006.2C1287.4,2005.4 1290.9,2022.7 1294.1,2041.7C1297.4,2060.6 1299.8,2097.6 1303.5,2119.8C1307.3,2141.9 1311.8,2156.6 1316.5,2174.4C1321.3,2192.2 1326.9,2208.3 1332.2,2226.5C1337.4,2244.7 1341.7,2268.4 1347.8,2283.8C1353.9,2299.1 1360.8,2309.5 1368.6,2318.7C1376.4,2327.8 1386.0,2333.6 1394.6,2338.4C1403.3,2343.3 1412.9,2346.2 1420.7,2347.8C1428.5,2349.4 1435.4,2345.0 1441.5,2347.8C1447.6,2350.6 1452.8,2359.5 1457.1,2364.5C1461.5,2369.4 1465.8,2375.3 1467.5,2377.5" fill="none" stroke="#000" stroke-width="1.7" opacity="1"/>
<path d="M1087.4,2390.5C1090.9,2386.2 1103.1,2369.7 1108.3,2364.5C1113.5,2359.3 1114.3,2358.8 1118.7,2359.3C1123.0,2359.7 1127.4,2364.0 1134.3,2367.1C1141.2,2370.1 1150.8,2374.4 1160.3,2377.5C1169.9,2380.5 1182.9,2386.2 1191.6,2385.3C1200.3,2384.4 1205.5,2381.0 1212.4,2372.3C1219.3,2363.6 1227.2,2350.2 1233.2,2333.2C1239.3,2316.3 1244.1,2296.8 1248.8,2270.7C1253.6,2244.7 1258.0,2210.0 1261.9,2177.0C1265.8,2144.1 1268.6,2097.2 1272.3,2072.9C1275.9,2048.6 1280.1,2033.0 1283.7,2031.2C1287.4,2029.5 1290.9,2046.0 1294.1,2062.5C1297.4,2079.0 1299.8,2110.2 1303.5,2130.2C1307.3,2150.1 1311.8,2164.9 1316.5,2182.2C1321.3,2199.6 1326.9,2216.5 1332.2,2234.3C1337.4,2252.1 1341.7,2274.2 1347.8,2289.0C1353.9,2303.7 1360.8,2314.1 1368.6,2322.8C1376.4,2331.5 1386.0,2336.5 1394.6,2341.0C1403.3,2345.6 1412.9,2348.2 1420.7,2349.9C1428.5,2351.6 1435.4,2348.6 1441.5,2351.5C1447.6,2354.3 1452.8,2361.9 1457.1,2367.1C1461.5,2372.3 1465.8,2380.1 1467.5,2382.7L1467.5,2413.9L1087.4,2413.9Z" fill="#efd49a" fill-opacity="0.4" stroke="none"/><path d="M1087.4,2390.5C1090.9,2386.2 1103.1,2369.7 1108.3,2364.5C1113.5,2359.3 1114.3,2358.8 1118.7,2359.3C1123.0,2359.7 1127.4,2364.0 1134.3,2367.1C1141.2,2370.1 1150.8,2374.4 1160.3,2377.5C1169.9,2380.5 1182.9,2386.2 1191.6,2385.3C1200.3,2384.4 1205.5,2381.0 1212.4,2372.3C1219.3,2363.6 1227.2,2350.2 1233.2,2333.2C1239.3,2316.3 1244.1,2296.8 1248.8,2270.7C1253.6,2244.7 1258.0,2210.0 1261.9,2177.0C1265.8,2144.1 1268.6,2097.2 1272.3,2072.9C1275.9,2048.6 1280.1,2033.0 1283.7,2031.2C1287.4,2029.5 1290.9,2046.0 1294.1,2062.5C1297.4,2079.0 1299.8,2110.2 1303.5,2130.2C1307.3,2150.1 1311.8,2164.9 1316.5,2182.2C1321.3,2199.6 1326.9,2216.5 1332.2,2234.3C1337.4,2252.1 1341.7,2274.2 1347.8,2289.0C1353.9,2303.7 1360.8,2314.1 1368.6,2322.8C1376.4,2331.5 1386.0,2336.5 1394.6,2341.0C1403.3,2345.6 1412.9,2348.2 1420.7,2349.9C1428.5,2351.6 1435.4,2348.6 1441.5,2351.5C1447.6,2354.3 1452.8,2361.9 1457.1,2367.1C1461.5,2372.3 1465.8,2380.1 1467.5,2382.7" fill="none" stroke="#7a6a1c" stroke-width="1.5" opacity="1"/>
<path d="M1087.4,2385.3C1090.9,2381.4 1103.1,2366.4 1108.3,2361.9C1113.5,2357.4 1113.5,2357.4 1118.7,2358.2C1123.9,2359.1 1130.8,2364.1 1139.5,2367.1C1148.2,2370.0 1162.1,2373.3 1170.7,2375.9C1179.4,2378.5 1184.6,2385.0 1191.6,2382.7C1198.5,2380.3 1205.5,2373.1 1212.4,2361.9C1219.3,2350.6 1226.3,2334.5 1233.2,2315.0C1240.2,2295.5 1247.1,2270.3 1254.1,2244.7C1261.0,2219.1 1269.0,2181.8 1274.9,2161.4C1280.8,2141.0 1284.3,2126.5 1289.5,2122.4C1294.7,2118.2 1300.7,2128.2 1306.1,2136.4C1311.5,2144.7 1316.5,2156.4 1321.7,2171.8C1326.9,2187.3 1332.2,2210.4 1337.4,2229.1C1342.6,2247.8 1346.9,2269.9 1353.0,2283.8C1359.1,2297.7 1366.9,2304.2 1373.8,2312.4C1380.8,2320.6 1386.8,2327.8 1394.6,2333.2C1402.4,2338.6 1412.9,2342.4 1420.7,2344.7C1428.5,2346.9 1435.4,2343.9 1441.5,2346.8C1447.6,2349.6 1452.8,2357.0 1457.1,2361.9C1461.5,2366.7 1465.8,2373.6 1467.5,2375.9L1467.5,2413.9L1087.4,2413.9Z" fill="#a6d9c4" fill-opacity="0.55" stroke="none"/><path d="M1087.4,2385.3C1090.9,2381.4 1103.1,2366.4 1108.3,2361.9C1113.5,2357.4 1113.5,2357.4 1118.7,2358.2C1123.9,2359.1 1130.8,2364.1 1139.5,2367.1C1148.2,2370.0 1162.1,2373.3 1170.7,2375.9C1179.4,2378.5 1184.6,2385.0 1191.6,2382.7C1198.5,2380.3 1205.5,2373.1 1212.4,2361.9C1219.3,2350.6 1226.3,2334.5 1233.2,2315.0C1240.2,2295.5 1247.1,2270.3 1254.1,2244.7C1261.0,2219.1 1269.0,2181.8 1274.9,2161.4C1280.8,2141.0 1284.3,2126.5 1289.5,2122.4C1294.7,2118.2 1300.7,2128.2 1306.1,2136.4C1311.5,2144.7 1316.5,2156.4 1321.7,2171.8C1326.9,2187.3 1332.2,2210.4 1337.4,2229.1C1342.6,2247.8 1346.9,2269.9 1353.0,2283.8C1359.1,2297.7 1366.9,2304.2 1373.8,2312.4C1380.8,2320.6 1386.8,2327.8 1394.6,2333.2C1402.4,2338.6 1412.9,2342.4 1420.7,2344.7C1428.5,2346.9 1435.4,2343.9 1441.5,2346.8C1447.6,2349.6 1452.8,2357.0 1457.1,2361.9C1461.5,2366.7 1465.8,2373.6 1467.5,2375.9" fill="none" stroke="#1a3a2a" stroke-width="1.4" opacity="0.9"/>
<path d="M1087.4,2393.1C1091.8,2387.5 1106.5,2364.0 1113.5,2359.3C1120.4,2354.5 1123.0,2361.4 1129.1,2364.5C1135.2,2367.5 1141.2,2373.6 1149.9,2377.5C1158.6,2381.4 1170.7,2388.3 1181.2,2387.9C1191.6,2387.5 1203.7,2383.1 1212.4,2374.9C1221.1,2366.6 1226.3,2357.5 1233.2,2338.4C1240.2,2319.3 1248.0,2288.1 1254.1,2260.3C1260.1,2232.6 1265.3,2193.5 1269.7,2171.8C1274.0,2150.1 1276.8,2138.4 1280.1,2130.2C1283.4,2121.9 1286.0,2122.4 1289.5,2122.4C1292.9,2122.4 1296.4,2121.9 1300.9,2130.2C1305.4,2138.4 1311.3,2156.2 1316.5,2171.8C1321.7,2187.4 1326.9,2205.7 1332.2,2223.9C1337.4,2242.1 1341.7,2265.5 1347.8,2281.2C1353.9,2296.8 1361.7,2308.1 1368.6,2317.6C1375.5,2327.2 1380.8,2333.7 1389.4,2338.4C1398.1,2343.2 1412.0,2344.5 1420.7,2346.2C1429.3,2348.0 1435.4,2345.8 1441.5,2348.8C1447.6,2351.9 1452.8,2359.3 1457.1,2364.5C1461.5,2369.7 1465.8,2377.5 1467.5,2380.1L1467.5,2413.9L1087.4,2413.9Z" fill="#e2aacd" fill-opacity="0.55" stroke="none"/><path d="M1087.4,2393.1C1091.8,2387.5 1106.5,2364.0 1113.5,2359.3C1120.4,2354.5 1123.0,2361.4 1129.1,2364.5C1135.2,2367.5 1141.2,2373.6 1149.9,2377.5C1158.6,2381.4 1170.7,2388.3 1181.2,2387.9C1191.6,2387.5 1203.7,2383.1 1212.4,2374.9C1221.1,2366.6 1226.3,2357.5 1233.2,2338.4C1240.2,2319.3 1248.0,2288.1 1254.1,2260.3C1260.1,2232.6 1265.3,2193.5 1269.7,2171.8C1274.0,2150.1 1276.8,2138.4 1280.1,2130.2C1283.4,2121.9 1286.0,2122.4 1289.5,2122.4C1292.9,2122.4 1296.4,2121.9 1300.9,2130.2C1305.4,2138.4 1311.3,2156.2 1316.5,2171.8C1321.7,2187.4 1326.9,2205.7 1332.2,2223.9C1337.4,2242.1 1341.7,2265.5 1347.8,2281.2C1353.9,2296.8 1361.7,2308.1 1368.6,2317.6C1375.5,2327.2 1380.8,2333.7 1389.4,2338.4C1398.1,2343.2 1412.0,2344.5 1420.7,2346.2C1429.3,2348.0 1435.4,2345.8 1441.5,2348.8C1447.6,2351.9 1452.8,2359.3 1457.1,2364.5C1461.5,2369.7 1465.8,2377.5 1467.5,2380.1" fill="none" stroke="#000" stroke-width="1.7" opacity="1"/>
<path d="M1087.4,2395.7C1091.8,2390.9 1106.5,2371.2 1113.5,2367.1C1120.4,2362.9 1123.0,2368.7 1129.1,2370.7C1135.2,2372.7 1141.2,2376.4 1149.9,2379.0C1158.6,2381.7 1170.7,2387.7 1181.2,2386.3C1191.6,2384.9 1203.7,2379.6 1212.4,2370.7C1221.1,2361.9 1226.3,2351.6 1233.2,2333.2C1240.2,2314.8 1248.0,2285.9 1254.1,2260.3C1260.1,2234.7 1265.3,2200.0 1269.7,2179.6C1274.0,2159.2 1276.6,2146.7 1280.1,2138.0C1283.6,2129.3 1286.6,2127.1 1290.5,2127.6C1294.4,2128.0 1299.2,2131.5 1303.5,2140.6C1307.9,2149.7 1311.8,2166.6 1316.5,2182.2C1321.3,2197.9 1326.5,2215.2 1332.2,2234.3C1337.8,2253.4 1344.3,2280.3 1350.4,2296.8C1356.5,2313.3 1361.2,2323.7 1368.6,2333.2C1376.0,2342.8 1386.0,2349.7 1394.6,2354.1C1403.3,2358.4 1412.9,2356.2 1420.7,2359.3C1428.5,2362.3 1435.4,2368.4 1441.5,2372.3C1447.6,2376.2 1452.8,2378.4 1457.1,2382.7C1461.5,2387.0 1465.8,2395.7 1467.5,2398.3L1467.5,2413.9L1087.4,2413.9Z" fill="#dca6cf" fill-opacity="0.4" stroke="none"/><path d="M1087.4,2395.7C1091.8,2390.9 1106.5,2371.2 1113.5,2367.1C1120.4,2362.9 1123.0,2368.7 1129.1,2370.7C1135.2,2372.7 1141.2,2376.4 1149.9,2379.0C1158.6,2381.7 1170.7,2387.7 1181.2,2386.3C1191.6,2384.9 1203.7,2379.6 1212.4,2370.7C1221.1,2361.9 1226.3,2351.6 1233.2,2333.2C1240.2,2314.8 1248.0,2285.9 1254.1,2260.3C1260.1,2234.7 1265.3,2200.0 1269.7,2179.6C1274.0,2159.2 1276.6,2146.7 1280.1,2138.0C1283.6,2129.3 1286.6,2127.1 1290.5,2127.6C1294.4,2128.0 1299.2,2131.5 1303.5,2140.6C1307.9,2149.7 1311.8,2166.6 1316.5,2182.2C1321.3,2197.9 1326.5,2215.2 1332.2,2234.3C1337.8,2253.4 1344.3,2280.3 1350.4,2296.8C1356.5,2313.3 1361.2,2323.7 1368.6,2333.2C1376.0,2342.8 1386.0,2349.7 1394.6,2354.1C1403.3,2358.4 1412.9,2356.2 1420.7,2359.3C1428.5,2362.3 1435.4,2368.4 1441.5,2372.3C1447.6,2376.2 1452.8,2378.4 1457.1,2382.7C1461.5,2387.0 1465.8,2395.7 1467.5,2398.3" fill="none" stroke="#a04a90" stroke-width="1.4" opacity="1"/>
<path d="M1087.4,2398.3C1092.6,2394.8 1109.1,2381.4 1118.7,2377.5C1128.2,2373.6 1136.0,2373.6 1144.7,2374.9C1153.4,2376.2 1162.9,2383.1 1170.7,2385.3C1178.6,2387.5 1184.6,2389.2 1191.6,2387.9C1198.5,2386.6 1205.5,2385.7 1212.4,2377.5C1219.3,2369.2 1226.3,2357.1 1233.2,2338.4C1240.2,2319.8 1248.0,2289.0 1254.1,2265.5C1260.1,2242.1 1264.5,2216.1 1269.7,2197.9C1274.9,2179.6 1280.5,2164.4 1285.3,2156.2C1290.1,2148.0 1294.0,2147.5 1298.3,2148.4C1302.7,2149.3 1307.0,2152.3 1311.3,2161.4C1315.7,2170.5 1319.1,2186.6 1324.3,2203.1C1329.6,2219.5 1336.9,2243.0 1342.6,2260.3C1348.2,2277.7 1352.1,2295.0 1358.2,2307.2C1364.3,2319.3 1372.1,2327.2 1379.0,2333.2C1386.0,2339.3 1392.9,2339.3 1399.8,2343.6C1406.8,2348.0 1412.9,2354.1 1420.7,2359.3C1428.5,2364.5 1438.9,2367.9 1446.7,2374.9C1454.5,2381.8 1464.1,2396.6 1467.5,2400.9L1467.5,2413.9L1087.4,2413.9Z" fill="#b7b4e0" fill-opacity="0.55" stroke="none"/><path d="M1087.4,2398.3C1092.6,2394.8 1109.1,2381.4 1118.7,2377.5C1128.2,2373.6 1136.0,2373.6 1144.7,2374.9C1153.4,2376.2 1162.9,2383.1 1170.7,2385.3C1178.6,2387.5 1184.6,2389.2 1191.6,2387.9C1198.5,2386.6 1205.5,2385.7 1212.4,2377.5C1219.3,2369.2 1226.3,2357.1 1233.2,2338.4C1240.2,2319.8 1248.0,2289.0 1254.1,2265.5C1260.1,2242.1 1264.5,2216.1 1269.7,2197.9C1274.9,2179.6 1280.5,2164.4 1285.3,2156.2C1290.1,2148.0 1294.0,2147.5 1298.3,2148.4C1302.7,2149.3 1307.0,2152.3 1311.3,2161.4C1315.7,2170.5 1319.1,2186.6 1324.3,2203.1C1329.6,2219.5 1336.9,2243.0 1342.6,2260.3C1348.2,2277.7 1352.1,2295.0 1358.2,2307.2C1364.3,2319.3 1372.1,2327.2 1379.0,2333.2C1386.0,2339.3 1392.9,2339.3 1399.8,2343.6C1406.8,2348.0 1412.9,2354.1 1420.7,2359.3C1428.5,2364.5 1438.9,2367.9 1446.7,2374.9C1454.5,2381.8 1464.1,2396.6 1467.5,2400.9" fill="none" stroke="#7d8bbd" stroke-width="1.4" opacity="1"/>
<path d="M1087.4,2398.3C1090.9,2395.7 1102.2,2385.7 1108.3,2382.7C1114.3,2379.7 1119.5,2378.8 1123.9,2380.1C1128.2,2381.4 1128.2,2388.1 1134.3,2390.5C1140.4,2392.9 1152.5,2395.1 1160.3,2394.7C1168.1,2394.2 1172.5,2391.6 1181.2,2387.9C1189.8,2384.2 1203.7,2380.5 1212.4,2372.3C1221.1,2364.0 1226.3,2355.4 1233.2,2338.4C1240.2,2321.5 1248.0,2292.4 1254.1,2270.7C1260.1,2249.1 1264.5,2223.9 1269.7,2208.3C1274.9,2192.6 1281.0,2183.1 1285.3,2177.0C1289.6,2171.0 1291.4,2171.0 1295.7,2171.8C1300.0,2172.7 1306.1,2171.8 1311.3,2182.2C1316.5,2192.6 1322.2,2212.6 1326.9,2234.3C1331.7,2256.0 1335.6,2292.4 1340.0,2312.4C1344.3,2332.4 1348.2,2347.1 1353.0,2354.1C1357.8,2361.0 1361.7,2354.1 1368.6,2354.1C1375.5,2354.1 1386.0,2352.3 1394.6,2354.1C1403.3,2355.8 1412.0,2359.3 1420.7,2364.5C1429.3,2369.7 1438.9,2378.8 1446.7,2385.3C1454.5,2391.8 1464.1,2400.5 1467.5,2403.5L1467.5,2413.9L1087.4,2413.9Z" fill="#b9b6de" fill-opacity="0.5" stroke="none"/><path d="M1087.4,2398.3C1090.9,2395.7 1102.2,2385.7 1108.3,2382.7C1114.3,2379.7 1119.5,2378.8 1123.9,2380.1C1128.2,2381.4 1128.2,2388.1 1134.3,2390.5C1140.4,2392.9 1152.5,2395.1 1160.3,2394.7C1168.1,2394.2 1172.5,2391.6 1181.2,2387.9C1189.8,2384.2 1203.7,2380.5 1212.4,2372.3C1221.1,2364.0 1226.3,2355.4 1233.2,2338.4C1240.2,2321.5 1248.0,2292.4 1254.1,2270.7C1260.1,2249.1 1264.5,2223.9 1269.7,2208.3C1274.9,2192.6 1281.0,2183.1 1285.3,2177.0C1289.6,2171.0 1291.4,2171.0 1295.7,2171.8C1300.0,2172.7 1306.1,2171.8 1311.3,2182.2C1316.5,2192.6 1322.2,2212.6 1326.9,2234.3C1331.7,2256.0 1335.6,2292.4 1340.0,2312.4C1344.3,2332.4 1348.2,2347.1 1353.0,2354.1C1357.8,2361.0 1361.7,2354.1 1368.6,2354.1C1375.5,2354.1 1386.0,2352.3 1394.6,2354.1C1403.3,2355.8 1412.0,2359.3 1420.7,2364.5C1429.3,2369.7 1438.9,2378.8 1446.7,2385.3C1454.5,2391.8 1464.1,2400.5 1467.5,2403.5" fill="none" stroke="#8a9ac8" stroke-width="1.4" opacity="1"/>
<path d="M1087,2413.9H1468" stroke="#222" stroke-width="1.4"/>
<path d="M1072.9,2015.6V2411.3M1072.9,2015.6h-10M1072.9,2117.2h-10M1072.9,2215.0h-10M1072.9,2314.0h-10M1072.9,2411.3h-10M1087.4,2430.1H1467.5M1087.4,2430.1v10M1181.7,2430.1v10M1277.0,2430.1v10M1371.2,2430.1v10M1467.5,2430.1v10" stroke="#000" stroke-width="1.3" fill="none"/>
<text x="1058.8" y="2024.3" text-anchor="end" style="font-size:22px" fill="#000" stroke="#000">0.02</text>
<text x="1058.8" y="2125.9" text-anchor="end" style="font-size:22px" fill="#000" stroke="#000">0.15</text>
<text x="1058.8" y="2223.7" text-anchor="end" style="font-size:22px" fill="#000" stroke="#000">0.01</text>
<text x="1058.8" y="2322.7" text-anchor="end" style="font-size:22px" fill="#000" stroke="#000">0.05</text>
<text x="1058.8" y="2420.0" text-anchor="end" style="font-size:22px" fill="#000" stroke="#000">0</text>
<text x="1084.4" y="2464.1" text-anchor="middle" style="font-size:22px" fill="#000" stroke="#000">-100</text>
<text x="1178.7" y="2464.1" text-anchor="middle" style="font-size:22px" fill="#000" stroke="#000">-50</text>
<text x="1277.0" y="2464.1" text-anchor="middle" style="font-size:22px" fill="#000" stroke="#000">0</text>
<text x="1371.2" y="2464.1" text-anchor="middle" style="font-size:22px" fill="#000" stroke="#000">50</text>
<text x="1467.5" y="2464.1" text-anchor="middle" style="font-size:22px" fill="#000" stroke="#000">100</text>
<text x="1275.0" y="2495.3" text-anchor="middle" style="font-size:22.1px" fill="#000" stroke="#000">distance to in vivo +1 nucleosome / bp</text>
<text x="1005.2" y="2202.0" text-anchor="middle" style="font-size:22px" fill="#000" stroke="#000" transform="rotate(-90 1005.2 2202.0)">dyad density</text>
<text x="1134.3" y="2043.4" text-anchor="start" style="font-size:22px" fill="#000" stroke="#000">INO80 WT</text>
<text x="1336.3" y="2124.6" text-anchor="start" style="font-size:22px" fill="#000" stroke="#000">HQ1</text>
<text x="1336.3" y="2158.5" text-anchor="start" style="font-size:22px" fill="#000" stroke="#000">HMGII-HQ1</text>
<path d="M1282.7,2014.6L1244.7,2035.4L1285.3,2041.7" fill="none" stroke="#777" stroke-width="1.3"/>
<path d="M1293.1,2123.9L1333.2,2117.2L1286.3,2140.6" fill="none" stroke="#777" stroke-width="1.3"/>
<path d="M1295.7,2155.2L1333.2,2145.8L1294.7,2177.0" fill="none" stroke="#777" stroke-width="1.3"/>
</g>
</svg>
</body>
</html>
